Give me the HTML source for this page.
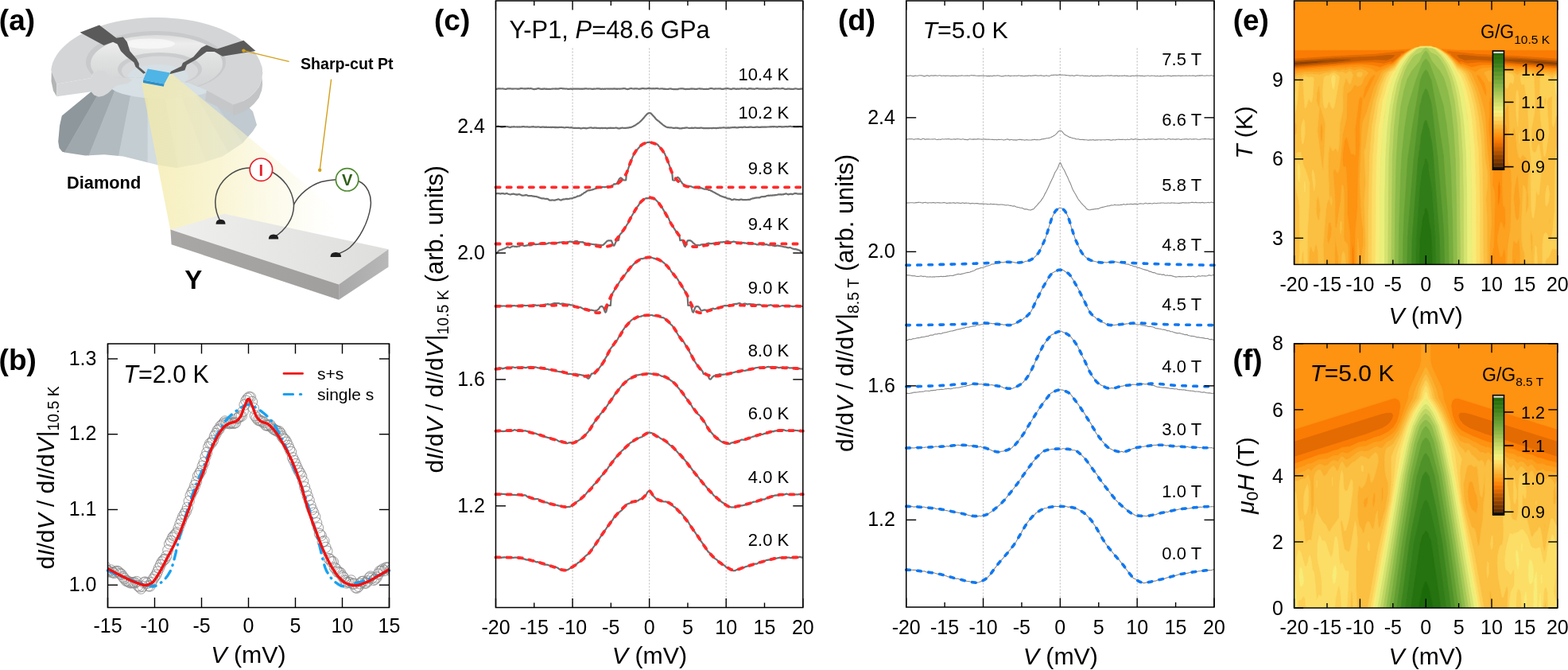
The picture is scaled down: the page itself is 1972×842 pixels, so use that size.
<!DOCTYPE html>
<html><head><meta charset="utf-8"><title>Figure</title>
<style>html,body{margin:0;padding:0;background:#fff;}svg{display:block;}text{font-family:"Liberation Sans",Arial,sans-serif;}</style>
</head><body>
<svg width="1972" height="842" viewBox="0 0 1972 842" font-family="'Liberation Sans', Arial, sans-serif">
<rect width="1972" height="842" fill="#fff"/>
<defs>
<linearGradient id="gPav" x1="70" y1="0" x2="330" y2="0" gradientUnits="userSpaceOnUse">
 <stop offset="0" stop-color="#8c959a"/><stop offset="0.12" stop-color="#8f989d"/><stop offset="0.12" stop-color="#9aa3a8"/>
 <stop offset="0.24" stop-color="#a3acb1"/><stop offset="0.24" stop-color="#aeb8bd"/><stop offset="0.38" stop-color="#b8c2c7"/>
 <stop offset="0.38" stop-color="#c7d1d6"/><stop offset="0.50" stop-color="#d2dce1"/><stop offset="0.50" stop-color="#dbe4e8"/>
 <stop offset="0.62" stop-color="#dfe7ea"/><stop offset="0.62" stop-color="#d3dde2"/><stop offset="0.78" stop-color="#cbd5da"/>
 <stop offset="0.78" stop-color="#c3cdd3"/><stop offset="1" stop-color="#bcc6cc"/>
</linearGradient>
<linearGradient id="gCone" x1="185" y1="0" x2="440" y2="0" gradientUnits="userSpaceOnUse">
 <stop offset="0" stop-color="#f3e9a6" stop-opacity="0.75"/><stop offset="0.35" stop-color="#f6efbb" stop-opacity="0.65"/>
 <stop offset="0.7" stop-color="#faf7dc" stop-opacity="0.45"/><stop offset="1" stop-color="#ffffff" stop-opacity="0"/>
</linearGradient>
<linearGradient id="gTop" x1="0" y1="20" x2="0" y2="140" gradientUnits="userSpaceOnUse">
 <stop offset="0" stop-color="#d6d7d8"/><stop offset="1" stop-color="#cfd0d1"/>
</linearGradient>
<linearGradient id="gWell" x1="0" y1="44" x2="0" y2="116" gradientUnits="userSpaceOnUse">
 <stop offset="0" stop-color="#dcdddd"/><stop offset="0.15" stop-color="#ededed"/><stop offset="0.4" stop-color="#e0e1e1"/><stop offset="1" stop-color="#cfd0d1"/>
</linearGradient>
<linearGradient id="gSlabTop" x1="214" y1="0" x2="489" y2="0" gradientUnits="userSpaceOnUse">
 <stop offset="0" stop-color="#efefed"/><stop offset="1" stop-color="#dededc"/>
</linearGradient>
<linearGradient id="gSlabFront" x1="214" y1="0" x2="426" y2="0" gradientUnits="userSpaceOnUse">
 <stop offset="0" stop-color="#a9a7a5"/><stop offset="1" stop-color="#a19f9d"/>
</linearGradient>
<linearGradient id="gSlabRight" x1="426" y1="0" x2="489" y2="0" gradientUnits="userSpaceOnUse">
 <stop offset="0" stop-color="#a8a8a8"/><stop offset="1" stop-color="#b8b8b8"/>
</linearGradient>
</defs><clipPath id="cpPav"><path d="M77.8,145.5 L114.6,115.2 L150.0,96.0 L200.0,90.0 L262.0,100.0 L300.0,122.0 L318.0,140.0 L323.0,157.0 L318.0,165.0 L305.0,180.0 L280.0,196.6 L250.0,206.1 L221.6,210.9 L198.0,207.3 L179.0,202.6 L155.0,196.6 L131.0,194.3 L107.5,195.4 L84.0,192.0 L78.4,190.7 L74.5,186.0 L73.2,178.0 L75.0,158.0 Z"/></clipPath><g clip-path="url(#cpPav)"><path d="M186.0,10.0 L-646.9,420.0 L-50.5,420.0 Z" fill="#8e979c" stroke="#8e979c" stroke-width="0.6"/><path d="M186.0,10.0 L-50.5,420.0 L22.2,420.0 Z" fill="#9fa8ad" stroke="#9fa8ad" stroke-width="0.6"/><path d="M186.0,10.0 L22.2,420.0 L105.3,420.0 Z" fill="#b1bbc0" stroke="#b1bbc0" stroke-width="0.6"/><path d="M186.0,10.0 L105.3,420.0 L185.8,420.0 Z" fill="#c3cdd2" stroke="#c3cdd2" stroke-width="0.6"/><path d="M186.0,10.0 L185.8,420.0 L264.8,420.0 Z" fill="#d2dce1" stroke="#d2dce1" stroke-width="0.6"/><path d="M186.0,10.0 L264.8,420.0 L341.4,420.0 Z" fill="#dbe4e8" stroke="#dbe4e8" stroke-width="0.6"/><path d="M186.0,10.0 L341.4,420.0 L414.7,420.0 Z" fill="#d3dde2" stroke="#d3dde2" stroke-width="0.6"/><path d="M186.0,10.0 L414.7,420.0 L475.2,420.0 Z" fill="#c9d3d9" stroke="#c9d3d9" stroke-width="0.6"/><path d="M186.0,10.0 L475.2,420.0 L1079.4,420.0 Z" fill="#c0cad0" stroke="#c0cad0" stroke-width="0.6"/><ellipse cx="205" cy="106" rx="68" ry="18" fill="#d6e0e5"/></g><path d="M329.7,84.8 L330.2,92.0 L329.2,100.0 L325.5,109.5 L319.5,117.0 L313.0,122.8 L305.0,127.6 L296.4,130.6 L293.1,131.4 L293.1,144.9 L296.4,144.1 L305.0,141.1 L313.0,136.3 L319.5,130.5 L325.5,123.0 L329.2,113.5 L330.2,105.5 L329.7,98.3 Z" fill="#c3c4c5"/><path d="M259.8,113.5 L293.1,131.4 L293.1,143.5 L258.0,126.4 Z" fill="#c6c7c8"/><clipPath id="cpTop"><path d="M64.2,88.3 L65.0,83.5 L66.4,78.6 L68.5,73.9 L71.2,69.2 L74.6,64.6 L78.5,60.2 L83.0,55.9 L88.1,51.8 L93.6,47.9 L99.7,44.3 L106.3,40.8 L113.3,37.6 L120.7,34.7 L128.5,32.0 L136.6,29.6 L145.0,27.6 L153.7,25.8 L162.6,24.4 L171.6,23.3 L180.8,22.5 L190.0,22.1 L199.3,22.0 L208.6,22.3 L217.8,22.9 L226.9,23.8 L235.9,25.1 L244.7,26.6 L253.2,28.6 L261.5,30.8 L269.4,33.3 L277.0,36.1 L284.3,39.2 L291.0,42.5 L297.4,46.1 L303.2,49.9 L308.5,53.9 L313.3,58.1 L317.5,62.4 L321.2,66.9 L324.2,71.5 L326.6,76.3 L328.4,81.0 L329.7,84.8 L330.2,92.0 L329.2,100.0 L325.5,109.5 L319.5,117.0 L313.0,122.8 L305.0,127.6 L296.4,130.6 L293.1,131.4 L259.8,113.5 L238.0,104.0 L205.0,99.0 L170.0,97.0 L143.1,98.0 L137.2,95.6 L133.6,90.9 L128.9,87.9 L123.0,88.5 L117.0,92.0 L114.6,98.0 L71.3,105.7 L64.8,89.7 Z"/></clipPath><path d="M64.2,88.3 L65.0,83.5 L66.4,78.6 L68.5,73.9 L71.2,69.2 L74.6,64.6 L78.5,60.2 L83.0,55.9 L88.1,51.8 L93.6,47.9 L99.7,44.3 L106.3,40.8 L113.3,37.6 L120.7,34.7 L128.5,32.0 L136.6,29.6 L145.0,27.6 L153.7,25.8 L162.6,24.4 L171.6,23.3 L180.8,22.5 L190.0,22.1 L199.3,22.0 L208.6,22.3 L217.8,22.9 L226.9,23.8 L235.9,25.1 L244.7,26.6 L253.2,28.6 L261.5,30.8 L269.4,33.3 L277.0,36.1 L284.3,39.2 L291.0,42.5 L297.4,46.1 L303.2,49.9 L308.5,53.9 L313.3,58.1 L317.5,62.4 L321.2,66.9 L324.2,71.5 L326.6,76.3 L328.4,81.0 L329.7,84.8 L330.2,92.0 L329.2,100.0 L325.5,109.5 L319.5,117.0 L313.0,122.8 L305.0,127.6 L296.4,130.6 L293.1,131.4 L259.8,113.5 L238.0,104.0 L205.0,99.0 L170.0,97.0 L143.1,98.0 L137.2,95.6 L133.6,90.9 L128.9,87.9 L123.0,88.5 L117.0,92.0 L114.6,98.0 L71.3,105.7 L64.8,89.7 Z" fill="#d4d5d6"/><g clip-path="url(#cpTop)"><ellipse cx="196" cy="78" rx="88" ry="39" fill="#c8c9ca"/><ellipse cx="197" cy="80" rx="83" ry="36" fill="url(#gWell)"/><ellipse cx="188" cy="55" rx="32" ry="6.5" fill="#ffffff" opacity="0.55"/><ellipse cx="201" cy="87" rx="53" ry="21" fill="#cbcccd"/><ellipse cx="201" cy="89" rx="48" ry="18.5" fill="#d8d9da"/><ellipse cx="199" cy="96" rx="38" ry="15" fill="#d5dfe4"/></g><path d="M64.8,89.7 L71.3,105.7 L71.3,121.2 L67.0,114.0 L64.5,102.0 Z" fill="#b3b4b5"/><path d="M71.3,105.7 L114.6,98.0 L117.0,92.0 L123.0,88.5 L128.9,87.9 L133.6,90.9 L137.2,95.6 L143.1,98.0 L162.0,98.0 L166.0,101.0 L160.0,105.0 L147.9,106.9 L143.1,109.9 L136.0,117.0 L130.0,120.6 L124.1,121.8 L118.2,119.4 L114.6,115.2 L71.3,121.2 Z" fill="#d6d7d8"/><path d="M178.0,104.0 L214.0,91.0 L255.0,125.0 L300.0,162.0 L340.0,195.0 L420.0,262.0 L445.0,292.0 L214.4,290.0 Z" fill="url(#gCone)"/><path d="M100.6,40.7 L124.9,31.4 L146.3,47.8 L154.8,46.4 L159.8,52.8 L163.4,64.2 L171.9,74.2 L174.8,79.9 L174.8,84.1 L183.3,91.3 L180.5,92.7 L170.5,84.1 L168.4,78.4 L159.1,71.3 L152.0,64.2 L147.7,55.6 L142.0,52.8 L130.6,57.1 Z" fill="#5a5a5a"/><path d="M306.4,50.7 L273.1,61.6 L268.1,59.9 L259.8,56.6 L253.2,59.9 L243.2,71.5 L229.9,79.0 L228.2,83.2 L214.9,89.8 L213.3,93.2 L232.4,88.2 L234.9,81.5 L246.5,74.9 L259.8,64.9 L269.8,64.9 L279.8,70.7 L321.4,64.1 Z" fill="#5a5a5a"/><path d="M180.0,100.6 L206.6,105.6 L205.8,108.8 L180.0,104.0 Z" fill="#2e8fc9"/><path d="M185.8,86.5 L214.1,91.5 L206.6,105.6 L180.0,100.6 Z" fill="#4fb4e6"/><line x1="306.4" y1="63.6" x2="363.6" y2="77.4" stroke="#d4a01e" stroke-width="1.4"/><circle cx="306.4" cy="63.6" r="2.2" fill="#d4a01e"/><line x1="416.6" y1="99.6" x2="402.2" y2="213.7" stroke="#d4a01e" stroke-width="1.4"/><circle cx="402.2" cy="213.7" r="2.2" fill="#d4a01e"/><path d="M214.4,288.6 L282.1,268.8 L488.5,313.3 L426.1,357.6 Z" fill="url(#gSlabTop)"/><path d="M214.4,288.6 L426.1,357.6 L426.1,376.8 L215.6,307.2 Z" fill="url(#gSlabFront)"/><path d="M426.1,357.6 L488.5,313.3 L488.5,335.6 L426.1,376.8 Z" fill="url(#gSlabRight)"/><path d="M277.7,279.2 C268,262 268,242 281,227 C292,215 305,211 314.5,211" fill="none" stroke="#4a4a4a" stroke-width="1.5"/><path d="M342.8,216.5 C356,224 368,238 369.5,257 C370,275 358,290 345.5,297.5" fill="none" stroke="#4a4a4a" stroke-width="1.5"/><path d="M369.3,257.5 C376,244 390,233 404,228.5 C412,226.5 418,226 422.5,225.8" fill="none" stroke="#4a4a4a" stroke-width="1.5"/><path d="M450.5,227.5 C462,232 468,246 466,260 C463,280 452,300 440,311 C434,316 428,318 423,320" fill="none" stroke="#4a4a4a" stroke-width="1.5"/><path d="M271.5,281.7 Q271.5,275.7 277.5,275.7 Q283.5,275.7 283.5,281.7 Z" fill="#1e1e1e"/><path d="M337.8,300.5 Q337.8,294.5 344.0,294.5 Q350.2,294.5 350.2,300.5 Z" fill="#1e1e1e"/><path d="M415.5,323.0 Q415.5,317.0 422.3,317.0 Q429.1,317.0 429.1,323.0 Z" fill="#1e1e1e"/><circle cx="328.4" cy="213.2" r="14.2" fill="#fff" stroke="#e5202a" stroke-width="1.7"/><circle cx="436.6" cy="225.8" r="14.2" fill="#fff" stroke="#4e8a2e" stroke-width="1.7"/><text x="-1.2" y="38.0" font-size="37" font-weight="bold">(a)</text><text x="-1.4" y="465.0" font-size="37" font-weight="bold">(b)</text><text x="546.0" y="38.0" font-size="37" font-weight="bold">(c)</text><text x="1053.9" y="38.0" font-size="37" font-weight="bold">(d)</text><text x="1550.7" y="38.0" font-size="37" font-weight="bold">(e)</text><text x="1550.6" y="464.7" font-size="37" font-weight="bold">(f)</text><line x1="720.08" y1="60.5" x2="720.08" y2="763.5" stroke="#c4c4c4" stroke-width="1.2" stroke-dasharray="2 2"/><line x1="816.65" y1="60.5" x2="816.65" y2="763.5" stroke="#c4c4c4" stroke-width="1.2" stroke-dasharray="2 2"/><line x1="913.22" y1="60.5" x2="913.22" y2="763.5" stroke="#c4c4c4" stroke-width="1.2" stroke-dasharray="2 2"/><path d="M623.5,111.9 624.4,111.9 625.3,111.7 626.3,111.4 627.2,111.3 628.1,111.3 629,111.4 629.9,111.5 630.9,111.5 631.8,111.3 632.7,111.5 633.6,111.6 634.5,111.8 635.5,112 636.4,111.9 637.3,111.7 638.2,111.3 639.1,111.4 640.1,111.4 641,111.3 641.9,111.4 642.8,111.5 643.7,111.6 644.7,111.7 645.6,111.6 646.5,111.5 647.4,111.5 648.3,111.5 649.3,111.5 650.2,111.6 651.1,111.8 652,111.7 652.9,111.7 653.9,111.5 654.8,111 655.7,111.1 656.6,111 657.5,111.2 658.5,111.5 659.4,111.4 660.3,111.6 661.2,111.4 662.1,111.3 663,111.4 664,111.2 664.9,111.2 665.8,111.4 666.7,111.2 667.6,111.2 668.6,111.4 669.5,111.5 670.4,111.9 671.3,112.1 672.2,112.1 673.2,111.9 674.1,111.9 675,111.5 675.9,111.3 676.8,111.2 677.8,111.2 678.7,111.6 679.6,111.6 680.5,112 681.4,111.9 682.4,111.7 683.3,111.8 684.2,111.4 685.1,111.6 686,111.8 687,111.6 687.9,111.9 688.8,111.8 689.7,111.8 690.6,111.9 691.6,111.9 692.5,112 693.4,111.8 694.3,111.6 695.2,111.7 696.2,111.5 697.1,111.5 698,111.7 698.9,111.4 699.8,111.6 700.8,111.7 701.7,111.7 702.6,111.6 703.5,111.3 704.4,111.1 705.4,111 706.3,111 707.2,111.3 708.1,111.4 709,111.4 710,111.5 710.9,111.6 711.8,111.5 712.7,111.5 713.6,111.8 714.6,111.8 715.5,111.8 716.4,111.8 717.3,111.6 718.2,111.6 719.2,111.8 720.1,111.8 721,111.6 721.9,111.5 722.8,111.6 723.8,111.6 724.7,111.6 725.6,111.5 726.5,111.6 727.4,111.5 728.4,111.6 729.3,111.8 730.2,111.7 731.1,111.7 732,111.8 733,111.6 733.9,111.6 734.8,111.6 735.7,111.3 736.6,111.4 737.6,111.4 738.5,111.5 739.4,111.7 740.3,111.6 741.2,111.5 742.1,111.5 743.1,111.6 744,111.8 744.9,111.8 745.8,111.9 746.7,111.6 747.7,111.5 748.6,111.7 749.5,111.5 750.4,111.4 751.3,111.3 752.3,111.3 753.2,111.3 754.1,111.7 755,111.7 755.9,111.8 756.9,111.8 757.8,111.6 758.7,111.8 759.6,111.8 760.5,111.6 761.5,111.8 762.4,111.5 763.3,111.5 764.2,111.6 765.1,111.5 766.1,111.6 767,111.6 767.9,111.5 768.8,111.6 769.7,111.6 770.7,111.6 771.6,111.6 772.5,111.3 773.4,111.7 774.3,111.7 775.3,111.6 776.2,111.9 777.1,111.5 778,111.5 778.9,111.8 779.9,111.5 780.8,111.6 781.7,111.5 782.6,111.4 783.5,111.3 784.5,111.2 785.4,111.2 786.3,111.4 787.2,111.6 788.1,112 789.1,112.1 790,111.9 790.9,111.8 791.8,111.4 792.7,111.2 793.7,111.1 794.6,111.2 795.5,111.5 796.4,111.5 797.3,111.6 798.3,111.4 799.2,111.3 800.1,111.3 801,111.4 801.9,111.5 802.9,111.7 803.8,111.8 804.7,111.7 805.6,111.7 806.5,111.3 807.5,111.2 808.4,111.2 809.3,111.2 810.2,111.3 811.1,111.4 812.1,111.5 813,111.4 813.9,111.3 814.8,111.1 815.7,110.9 816.6,111.1 817.6,111.1 818.5,111.3 819.4,111.4 820.3,111.2 821.2,111.4 822.2,111.2 823.1,111.4 824,111.3 824.9,111.2 825.8,111.2 826.8,111.1 827.7,111.4 828.6,111.5 829.5,111.7 830.4,111.5 831.4,111.4 832.3,111.5 833.2,111.3 834.1,111.7 835,111.8 836,111.7 836.9,111.8 837.8,112 838.7,112 839.6,112 840.6,111.9 841.5,111.6 842.4,111.5 843.3,111.4 844.2,111.7 845.2,111.8 846.1,112 847,112.2 847.9,112.1 848.8,112.1 849.8,112.2 850.7,112.2 851.6,112 852.5,112.2 853.4,111.7 854.4,111.5 855.3,111.5 856.2,111.2 857.1,111.4 858,111.4 859,111.3 859.9,111.7 860.8,111.8 861.7,111.9 862.6,112.1 863.6,111.8 864.5,111.8 865.4,111.9 866.3,111.9 867.2,111.8 868.2,111.7 869.1,111.7 870,111.4 870.9,111.7 871.8,111.5 872.8,111.7 873.7,111.9 874.6,111.8 875.5,111.9 876.4,111.8 877.4,111.6 878.3,111.5 879.2,111.4 880.1,111.4 881,111.6 882,111.6 882.9,111.6 883.8,111.8 884.7,112 885.6,111.9 886.6,112 887.5,111.9 888.4,111.7 889.3,112 890.2,111.9 891.2,111.8 892.1,111.5 893,111.2 893.9,111.1 894.8,111.2 895.7,111.2 896.7,111.5 897.6,111.8 898.5,111.6 899.4,111.6 900.3,111.4 901.3,111.5 902.2,111.5 903.1,111.4 904,111.5 904.9,111.4 905.9,111.4 906.8,111.7 907.7,111.8 908.6,111.8 909.5,111.8 910.5,111.6 911.4,111.5 912.3,111.2 913.2,111.4 914.1,111.2 915.1,111.2 916,111.3 916.9,111.5 917.8,111.7 918.7,111.8 919.7,112.1 920.6,111.7 921.5,111.4 922.4,111.3 923.3,111.3 924.3,111.4 925.2,111.8 926.1,111.9 927,111.6 927.9,111.7 928.9,111.8 929.8,111.6 930.7,111.6 931.6,111.5 932.5,111.2 933.5,111.3 934.4,111.5 935.3,111.5 936.2,111.3 937.1,111.4 938.1,111.6 939,111.8 939.9,111.9 940.8,111.8 941.7,111.3 942.7,111.2 943.6,111.3 944.5,111.2 945.4,111.6 946.3,111.5 947.3,111.6 948.2,111.8 949.1,111.8 950,111.5 950.9,111.3 951.9,111.2 952.8,111.2 953.7,111.4 954.6,111.7 955.5,111.7 956.5,111.6 957.4,111.7 958.3,111.5 959.2,111.6 960.1,111.6 961.1,111.7 962,111.7 962.9,111.8 963.8,111.8 964.7,111.9 965.7,111.7 966.6,111.7 967.5,111.6 968.4,111.5 969.3,111.8 970.3,111.6 971.2,111.5 972.1,111.3 973,111.2 973.9,111.2 974.8,111.3 975.8,111.3 976.7,111.1 977.6,111.3 978.5,111.3 979.4,111.4 980.4,111.5 981.3,111.5 982.2,111.4 983.1,111.2 984,111.2 985,111.2 985.9,111.4 986.8,111.9 987.7,112 988.6,112 989.6,111.8 990.5,111.6 991.4,111.6 992.3,111.7 993.2,111.7 994.2,111.8 995.1,111.8 996,111.8 996.9,112 997.8,111.9 998.8,111.7 999.7,111.5 1000.6,111.3 1001.5,111.5 1002.4,111.7 1003.4,111.8 1004.3,112 1005.2,111.9 1006.1,111.8 1007,111.7 1008,111.6 1008.9,111.7 1009.8,111.7" fill="none" stroke="#6f6f6f" stroke-width="2.2" stroke-linejoin="round"/><path d="M623.5,159 624.4,159 625.3,158.9 626.3,158.7 627.2,158.8 628.1,159 629,159.2 629.9,159.4 630.9,159.6 631.8,159.6 632.7,159.3 633.6,159.3 634.5,159.2 635.5,159.1 636.4,159.1 637.3,159 638.2,159.2 639.1,159.3 640.1,159.7 641,159.7 641.9,159.8 642.8,159.7 643.7,159.4 644.7,159.5 645.6,159.3 646.5,159.2 647.4,159.4 648.3,159.5 649.3,159.5 650.2,159.4 651.1,159.6 652,159.5 652.9,159.4 653.9,159.6 654.8,159.5 655.7,159.4 656.6,159.4 657.5,159.1 658.5,159 659.4,159.3 660.3,159.3 661.2,159.5 662.1,159.4 663,159.2 664,159.5 664.9,159.6 665.8,159.6 666.7,159.7 667.6,159.5 668.6,159.3 669.5,159.3 670.4,159.2 671.3,159.3 672.2,159.5 673.2,159.6 674.1,159.7 675,159.6 675.9,159.5 676.8,159.4 677.8,159.5 678.7,159.7 679.6,159.8 680.5,159.9 681.4,159.6 682.4,159.7 683.3,159.7 684.2,159.6 685.1,159.9 686,159.9 687,159.6 687.9,160 688.8,160 689.7,159.7 690.6,160 691.6,159.9 692.5,159.9 693.4,160.1 694.3,159.7 695.2,159.9 696.2,159.9 697.1,159.9 698,160.1 698.9,159.9 699.8,160.1 700.8,160 701.7,160.2 702.6,160.1 703.5,159.9 704.4,160 705.4,159.8 706.3,159.8 707.2,160 708.1,160.1 709,160.3 710,160.5 710.9,160.3 711.8,160.1 712.7,160 713.6,160 714.6,160.1 715.5,160.3 716.4,160.5 717.3,160.3 718.2,160.2 719.2,160.3 720.1,160.5 721,160.8 721.9,160.8 722.8,160.9 723.8,160.8 724.7,160.9 725.6,161 726.5,160.8 727.4,160.8 728.4,160.8 729.3,161 730.2,161.4 731.1,161.3 732,161.2 733,161 733.9,160.8 734.8,160.9 735.7,161.1 736.6,161.1 737.6,161.3 738.5,161.2 739.4,161 740.3,160.8 741.2,160.6 742.1,160.5 743.1,160.4 744,160.6 744.9,160.8 745.8,160.8 746.7,160.9 747.7,160.7 748.6,160.6 749.5,160.8 750.4,160.7 751.3,160.9 752.3,161 753.2,160.8 754.1,161.1 755,161.1 755.9,160.9 756.9,160.9 757.8,161.1 758.7,160.9 759.6,161 760.5,160.9 761.5,160.9 762.4,161.1 763.3,161.3 764.2,161.2 765.1,160.9 766.1,160.8 767,160.8 767.9,160.7 768.8,160.8 769.7,160.8 770.7,160.9 771.6,160.9 772.5,161 773.4,160.8 774.3,160.6 775.3,160.7 776.2,160.8 777.1,161.3 778,161.4 778.9,161.4 779.9,161.3 780.8,160.8 781.7,160.8 782.6,160.6 783.5,160.7 784.5,161 785.4,160.9 786.3,160.9 787.2,160.9 788.1,160.7 789.1,160.6 790,160.7 790.9,160.3 791.8,160.2 792.7,160.1 793.7,159.8 794.6,159.7 795.5,159.1 796.4,158.7 797.3,158.2 798.3,157.7 799.2,157.2 800.1,156.6 801,156 801.9,155.3 802.9,154.7 803.8,154 804.7,153.2 805.6,152.4 806.5,151.5 807.5,150.5 808.4,149.4 809.3,148.4 810.2,147.4 811.1,146.3 812.1,145.3 813,144.1 813.9,143.3 814.8,142.6 815.7,142.2 816.6,142.1 817.6,142 818.5,142.4 819.4,143.3 820.3,144.3 821.2,145.3 822.2,146.3 823.1,147.2 824,148.3 824.9,149.5 825.8,150.4 826.8,151.2 827.7,151.9 828.6,152.4 829.5,153.2 830.4,154.1 831.4,154.9 832.3,155.6 833.2,156.5 834.1,157.2 835,157.8 836,158.4 836.9,159.1 837.8,159.5 838.7,159.7 839.6,160.2 840.6,160.1 841.5,160.3 842.4,160.3 843.3,160.3 844.2,160.4 845.2,160.5 846.1,160.8 847,160.8 847.9,160.9 848.8,160.9 849.8,160.7 850.7,160.7 851.6,160.8 852.5,160.7 853.4,161 854.4,161.4 855.3,161.4 856.2,161.4 857.1,161.4 858,161.1 859,160.9 859.9,161 860.8,160.9 861.7,160.5 862.6,160.6 863.6,160.4 864.5,160.5 865.4,160.8 866.3,161 867.2,161 868.2,161 869.1,160.8 870,160.7 870.9,160.8 871.8,160.8 872.8,160.8 873.7,160.6 874.6,160.7 875.5,160.7 876.4,160.9 877.4,160.9 878.3,160.8 879.2,160.8 880.1,160.8 881,160.7 882,160.6 882.9,160.8 883.8,160.9 884.7,161.2 885.6,161.2 886.6,161.1 887.5,161.2 888.4,161.1 889.3,161.2 890.2,161.2 891.2,161.1 892.1,161.1 893,161 893.9,161 894.8,161.1 895.7,161.1 896.7,160.9 897.6,160.9 898.5,161 899.4,160.8 900.3,161.2 901.3,161.1 902.2,160.9 903.1,160.9 904,160.8 904.9,160.6 905.9,160.6 906.8,160.8 907.7,160.5 908.6,160.5 909.5,160.4 910.5,160.3 911.4,160.5 912.3,160.6 913.2,160.7 914.1,160.7 915.1,160.6 916,160.4 916.9,160.6 917.8,160.6 918.7,160.3 919.7,160.3 920.6,160.2 921.5,160 922.4,160.1 923.3,160.2 924.3,159.9 925.2,160.2 926.1,160.4 927,160.2 927.9,160.4 928.9,160.2 929.8,159.9 930.7,160 931.6,159.9 932.5,159.9 933.5,160.1 934.4,159.9 935.3,159.7 936.2,159.7 937.1,159.6 938.1,159.9 939,160 939.9,160 940.8,159.9 941.7,159.9 942.7,159.6 943.6,159.6 944.5,159.7 945.4,159.7 946.3,159.9 947.3,160 948.2,160 949.1,159.9 950,159.8 950.9,159.7 951.9,159.6 952.8,159.5 953.7,159.8 954.6,159.9 955.5,159.9 956.5,159.9 957.4,159.6 958.3,159.5 959.2,159.6 960.1,159.6 961.1,159.7 962,159.6 962.9,159.6 963.8,159.7 964.7,159.5 965.7,159.5 966.6,159.5 967.5,159.4 968.4,159.4 969.3,159.2 970.3,159.3 971.2,159.2 972.1,159.1 973,159.4 973.9,159 974.8,159.2 975.8,159.4 976.7,159.4 977.6,159.6 978.5,159.3 979.4,159.1 980.4,159.1 981.3,159.1 982.2,159.2 983.1,159.6 984,159.3 985,159.3 985.9,159.4 986.8,159.2 987.7,159.1 988.6,159.1 989.6,159.2 990.5,159.3 991.4,159.1 992.3,158.9 993.2,158.8 994.2,158.7 995.1,159 996,159.3 996.9,159.1 997.8,159.2 998.8,159.3 999.7,159.2 1000.6,159.5 1001.5,159.4 1002.4,159.4 1003.4,159.2 1004.3,159.3 1005.2,159.2 1006.1,159.1 1007,159.3 1008,159.4 1008.9,159.5 1009.8,159.7" fill="none" stroke="#6f6f6f" stroke-width="2.2" stroke-linejoin="round"/><path d="M623.5,243.4 624.4,243.3 625.3,243.1 626.3,243.2 627.2,243.1 628.1,243.1 629,243.6 629.9,243.4 630.9,243.2 631.8,243.2 632.7,243.1 633.6,243.4 634.5,243.6 635.5,243.6 636.4,243.2 637.3,243.1 638.2,243.3 639.1,243.7 640.1,244 641,244.2 641.9,244.5 642.8,244.3 643.7,243.8 644.7,243.9 645.6,243.5 646.5,243.9 647.4,244.1 648.3,244.3 649.3,244.7 650.2,244.4 651.1,244.6 652,244.2 652.9,244 653.9,244.4 654.8,244.8 655.7,245.3 656.6,245.6 657.5,245.6 658.5,245.7 659.4,245.5 660.3,245.2 661.2,245.3 662.1,245 663,245.4 664,246 664.9,246.1 665.8,246.2 666.7,246.1 667.6,246.2 668.6,246.1 669.5,246.4 670.4,246.6 671.3,246.5 672.2,246.9 673.2,247 674.1,246.9 675,247.4 675.9,247.4 676.8,247.8 677.8,248.3 678.7,248.4 679.6,248.8 680.5,249.2 681.4,249.3 682.4,249.4 683.3,249.4 684.2,249.4 685.1,249.8 686,250 687,249.7 687.9,249.9 688.8,250.1 689.7,250.5 690.6,251.4 691.6,251.6 692.5,251.5 693.4,251.7 694.3,251.4 695.2,251.5 696.2,251.6 697.1,251.5 698,251.6 698.9,251.3 699.8,251 700.8,250.9 701.7,250.4 702.6,250.4 703.5,250.9 704.4,251.2 705.4,251.6 706.3,251.3 707.2,250.8 708.1,250.7 709,250.3 710,250.5 710.9,250.3 711.8,249.8 712.7,250.1 713.6,249.9 714.6,250.2 715.5,250 716.4,249.6 717.3,249.5 718.2,249.4 719.2,249.3 720.1,249.2 721,248.5 721.9,248.3 722.8,248.2 723.8,247.7 724.7,247.5 725.6,247.1 726.5,246.3 727.4,246.5 728.4,246.3 729.3,245.7 730.2,245.6 731.1,245.1 732,244.1 733,243.7 733.9,243 734.8,242.1 735.7,242 736.6,241.2 737.6,240.5 738.5,239.9 739.4,239.4 740.3,239.3 741.2,239.2 742.1,239.1 743.1,238.8 744,238.6 744.9,238.5 745.8,238.1 746.7,237.8 747.7,237.5 748.6,237.1 749.5,236.9 750.4,236.7 751.3,236.1 752.3,236.2 753.2,235.7 754.1,235.8 755,235.8 755.9,235.2 756.9,235.6 757.8,234.9 758.7,235 759.6,235.2 760.5,235 761.5,235.1 762.4,235 763.3,234.6 764.2,234.6 765.1,234.5 766.1,234.4 767,234.3 767.9,234.1 768.8,234 769.7,233 770.7,232.7 771.6,232 772.5,231.1 773.4,231.6 774.3,231.2 775.3,231 776.2,230 777.1,228.2 778,226.6 778.9,224.8 779.9,223.9 780.8,223.3 781.7,224 782.6,224.8 783.5,225.8 784.5,226.5 785.4,226.5 786.3,226.3 787.2,226.4 788.1,217 789.1,214.8 790,212.4 790.9,209.6 791.8,207.1 792.7,204.7 793.7,202.4 794.6,199.9 795.5,197.6 796.4,195.6 797.3,194 798.3,192.7 799.2,191.2 800.1,189.5 801,188.4 801.9,187.4 802.9,186.2 803.8,185.5 804.7,183.9 805.6,182.8 806.5,181.9 807.5,181.7 808.4,181 809.3,180.4 810.2,180.4 811.1,179.7 812.1,179.7 813,179.5 813.9,179 814.8,178.9 815.7,178.9 816.6,178.7 817.6,178.8 818.5,179.1 819.4,179.2 820.3,179.6 821.2,179.8 822.2,180.1 823.1,180.2 824,180.7 824.9,180.7 825.8,181 826.8,181.6 827.7,182.4 828.6,183.8 829.5,184.6 830.4,185.7 831.4,186.7 832.3,187.8 833.2,189.4 834.1,190.5 835,191.5 836,193.1 836.9,195.3 837.8,197.5 838.7,200.2 839.6,202.3 840.6,204.5 841.5,206.9 842.4,209.4 843.3,212 844.2,214.3 845.2,216.6 846.1,226.3 847,226.5 847.9,226.7 848.8,226.4 849.8,225.3 850.7,224.4 851.6,223.1 852.5,222.7 853.4,223.5 854.4,224.5 855.3,226.1 856.2,228 857.1,228.8 858,230.4 859,231.3 859.9,231.5 860.8,232.5 861.7,232.7 862.6,233.1 863.6,233.5 864.5,233.7 865.4,233.8 866.3,234.1 867.2,233.9 868.2,234.2 869.1,234.3 870,234.5 870.9,235.2 871.8,235.3 872.8,235.6 873.7,235.5 874.6,235.2 875.5,235.3 876.4,235.5 877.4,235.8 878.3,236.5 879.2,236.3 880.1,236.3 881,236.4 882,236.2 882.9,236.6 883.8,236.9 884.7,237.3 885.6,237.6 886.6,237.7 887.5,237.6 888.4,237.9 889.3,237.9 890.2,238.1 891.2,238.8 892.1,238.7 893,239.1 893.9,239.6 894.8,239.9 895.7,240.6 896.7,241.1 897.6,241.5 898.5,241.9 899.4,242.3 900.3,243.1 901.3,243.6 902.2,244 903.1,244.4 904,244.8 904.9,245.5 905.9,246.1 906.8,246.5 907.7,246.6 908.6,247.2 909.5,247.4 910.5,247.6 911.4,248.2 912.3,247.8 913.2,248.5 914.1,249 915.1,249.4 916,249.7 916.9,249.6 917.8,249.9 918.7,250.1 919.7,250.9 920.6,251.3 921.5,250.9 922.4,250.8 923.3,250.3 924.3,250.4 925.2,250.8 926.1,250.9 927,251 927.9,251 928.9,251.3 929.8,251.2 930.7,250.9 931.6,250.6 932.5,250.7 933.5,250.9 934.4,251.2 935.3,251.2 936.2,251.2 937.1,251.2 938.1,251.2 939,251.2 939.9,251 940.8,250.8 941.7,250.8 942.7,251 943.6,250.5 944.5,250.1 945.4,249.8 946.3,249.4 947.3,249.3 948.2,249.2 949.1,248.9 950,248.6 950.9,248.6 951.9,248.4 952.8,248.5 953.7,248.4 954.6,248.4 955.5,248.3 956.5,247.8 957.4,247.3 958.3,247.2 959.2,247 960.1,247.1 961.1,247.1 962,246.8 962.9,246.8 963.8,246.2 964.7,246 965.7,245.8 966.6,245.7 967.5,245.8 968.4,245.7 969.3,245.7 970.3,245.5 971.2,245.6 972.1,245.4 973,245.4 973.9,245.3 974.8,245.2 975.8,245.1 976.7,245 977.6,244.8 978.5,244.4 979.4,244.4 980.4,244.4 981.3,244.2 982.2,244.6 983.1,244.4 984,244.4 985,244.5 985.9,243.9 986.8,244 987.7,243.5 988.6,243.3 989.6,243.7 990.5,244 991.4,244.4 992.3,244.1 993.2,243.9 994.2,243.8 995.1,243.6 996,244.2 996.9,244.1 997.8,243.7 998.8,243.3 999.7,242.9 1000.6,243.2 1001.5,243.1 1002.4,243.5 1003.4,243.6 1004.3,243.5 1005.2,243.6 1006.1,243.5 1007,243.8 1008,243.4 1008.9,243.6 1009.8,243.6" fill="none" stroke="#6f6f6f" stroke-width="2.2" stroke-linejoin="round"/><path d="M623.5,318.8 624.4,318.5 625.3,317.3 626.3,316.3 627.2,315.4 628.1,314.4 629,314.4 629.9,314.1 630.9,313.7 631.8,313.5 632.7,312.9 633.6,312.7 634.5,312.5 635.5,311.8 636.4,311.5 637.3,310.8 638.2,310.4 639.1,310.6 640.1,311 641,311.3 641.9,311 642.8,310.4 643.7,309.9 644.7,309.4 645.6,309.5 646.5,309.6 647.4,310 648.3,309.8 649.3,309.8 650.2,310.2 651.1,309.5 652,309.5 652.9,309.7 653.9,308.8 654.8,308.5 655.7,308.3 656.6,307.9 657.5,308.4 658.5,308.6 659.4,309.1 660.3,308.9 661.2,308.7 662.1,308.6 663,308.3 664,308.2 664.9,308.1 665.8,308.4 666.7,308.3 667.6,308.4 668.6,308.2 669.5,307.6 670.4,307.2 671.3,306.9 672.2,307 673.2,307.1 674.1,307.2 675,307 675.9,307 676.8,306.9 677.8,306.7 678.7,306.7 679.6,306.8 680.5,306.8 681.4,306.7 682.4,306.7 683.3,306.6 684.2,306.5 685.1,306.6 686,306.6 687,306.6 687.9,306.2 688.8,306 689.7,305.4 690.6,305.4 691.6,305.4 692.5,305.5 693.4,305.6 694.3,305.7 695.2,306.2 696.2,306.1 697.1,306.4 698,306.2 698.9,305.9 699.8,305.8 700.8,305.1 701.7,305 702.6,304.9 703.5,304.6 704.4,304.7 705.4,304.5 706.3,304.3 707.2,304.3 708.1,304.2 709,304.2 710,304.4 710.9,304.5 711.8,304.7 712.7,304.5 713.6,304.2 714.6,304.1 715.5,303.8 716.4,303.6 717.3,303.5 718.2,303.8 719.2,303.9 720.1,304.1 721,304 721.9,303.9 722.8,303.3 723.8,303 724.7,303.1 725.6,302.8 726.5,303.6 727.4,304 728.4,304 729.3,304.5 730.2,304.2 731.1,304.2 732,304.4 733,304.2 733.9,304.9 734.8,305.1 735.7,305.5 736.6,305.9 737.6,305.9 738.5,305.9 739.4,305.8 740.3,305.9 741.2,306 742.1,306.5 743.1,306.6 744,306.8 744.9,307 745.8,307 746.7,307.2 747.7,307.3 748.6,307.3 749.5,307.2 750.4,307.4 751.3,307.5 752.3,307.6 753.2,307.8 754.1,307.9 755,307.9 755.9,308.2 756.9,308.2 757.8,308.1 758.7,307.8 759.6,306.9 760.5,305.9 761.5,305 762.4,304.1 763.3,303.1 764.2,302.6 765.1,302.4 766.1,302.3 767,302.4 767.9,302.3 768.8,302.3 769.7,304.4 770.7,306.9 771.6,308.7 772.5,308.6 773.4,306.8 774.3,304.4 775.3,302.7 776.2,302.5 777.1,302.1 778,301.9 778.9,296.3 779.9,294.7 780.8,293.5 781.7,292.9 782.6,291.5 783.5,290.4 784.5,289.4 785.4,287.7 786.3,286.1 787.2,284.7 788.1,282.9 789.1,281.6 790,280.2 790.9,278.3 791.8,276.6 792.7,274.6 793.7,272.8 794.6,271.3 795.5,269.7 796.4,268.2 797.3,266.5 798.3,265.1 799.2,263.3 800.1,262.2 801,260.8 801.9,259.3 802.9,258.4 803.8,256.6 804.7,255.3 805.6,254 806.5,252.8 807.5,252 808.4,251.6 809.3,251.2 810.2,250.3 811.1,249.7 812.1,249.4 813,248.9 813.9,249.5 814.8,249.1 815.7,249 816.6,249.4 817.6,249 818.5,249.2 819.4,249.3 820.3,249.4 821.2,249 822.2,249.5 823.1,249.9 824,250.2 824.9,251.5 825.8,252.3 826.8,253.3 827.7,254.3 828.6,255.6 829.5,256.4 830.4,257.4 831.4,258.7 832.3,259.9 833.2,261.7 834.1,263.4 835,265 836,266.7 836.9,268.4 837.8,269.8 838.7,271.3 839.6,272.5 840.6,273.8 841.5,275.9 842.4,278 843.3,279.7 844.2,281.9 845.2,283.2 846.1,284 847,285.9 847.9,287.2 848.8,288.6 849.8,290.2 850.7,291.5 851.6,292.4 852.5,293.7 853.4,295.2 854.4,296.2 855.3,302.1 856.2,301.9 857.1,301.9 858,301.6 859,303.6 859.9,306.6 860.8,309 861.7,310.1 862.6,308.2 863.6,305.3 864.5,302.5 865.4,302.2 866.3,302.3 867.2,302.1 868.2,302.3 869.1,302.8 870,303.4 870.9,304.2 871.8,305.3 872.8,306 873.7,306.9 874.6,308 875.5,307.9 876.4,308 877.4,308 878.3,308 879.2,308.3 880.1,308.1 881,307.8 882,307.3 882.9,307.3 883.8,307.2 884.7,307.1 885.6,307.2 886.6,307.2 887.5,307.1 888.4,306.5 889.3,306 890.2,305.8 891.2,305.6 892.1,305.9 893,306.3 893.9,306 894.8,306.2 895.7,306.1 896.7,305.8 897.6,305.7 898.5,305.6 899.4,305.3 900.3,304.9 901.3,305 902.2,304.9 903.1,305 904,304.6 904.9,304.6 905.9,304.6 906.8,304.2 907.7,304.5 908.6,304.3 909.5,304.2 910.5,304.1 911.4,304 912.3,303.7 913.2,303.3 914.1,303.2 915.1,303 916,303.2 916.9,303.7 917.8,303.9 918.7,304.4 919.7,304.4 920.6,304.1 921.5,304 922.4,303.6 923.3,303.7 924.3,304.1 925.2,304.1 926.1,304.4 927,304.6 927.9,304.6 928.9,304.8 929.8,305 930.7,305 931.6,305 932.5,304.9 933.5,304.9 934.4,305.3 935.3,304.9 936.2,305.6 937.1,305.3 938.1,305.5 939,305.9 939.9,305.9 940.8,306.3 941.7,306 942.7,306.3 943.6,306.5 944.5,306.3 945.4,306.7 946.3,306.6 947.3,306.3 948.2,306.4 949.1,306.6 950,306.5 950.9,306.9 951.9,307.5 952.8,307.4 953.7,307.4 954.6,307.5 955.5,306.9 956.5,306.8 957.4,307.5 958.3,307.3 959.2,307.7 960.1,307.7 961.1,307.2 962,307.5 962.9,307 963.8,307.1 964.7,307.4 965.7,307.6 966.6,308.2 967.5,308.2 968.4,308.3 969.3,308.1 970.3,308 971.2,308.2 972.1,308.7 973,308.7 973.9,309.1 974.8,309.3 975.8,308.7 976.7,308.8 977.6,308.6 978.5,308.6 979.4,309 980.4,309.1 981.3,309.1 982.2,309.5 983.1,309.5 984,309.7 985,310 985.9,310.3 986.8,310.3 987.7,310.3 988.6,310.7 989.6,310.8 990.5,311.3 991.4,311.5 992.3,311.1 993.2,311.2 994.2,311.1 995.1,311.6 996,312.2 996.9,312.5 997.8,312.8 998.8,312.9 999.7,313.2 1000.6,312.9 1001.5,313.3 1002.4,313.7 1003.4,313.8 1004.3,314.3 1005.2,314.6 1006.1,314.9 1007,315.9 1008,317 1008.9,317.9 1009.8,318.8" fill="none" stroke="#6f6f6f" stroke-width="2.2" stroke-linejoin="round"/><path d="M623.5,384 624.4,384.1 625.3,384.1 626.3,384.3 627.2,384.4 628.1,383.9 629,384.4 629.9,384.3 630.9,384.5 631.8,384.6 632.7,384.5 633.6,384.5 634.5,384.5 635.5,384.7 636.4,384.5 637.3,384.8 638.2,384.5 639.1,384.6 640.1,384.4 641,384.1 641.9,384.3 642.8,384.2 643.7,384.1 644.7,384.1 645.6,384.3 646.5,384.1 647.4,384.2 648.3,384.4 649.3,384.3 650.2,384.3 651.1,384.4 652,384.1 652.9,384.3 653.9,384.1 654.8,383.8 655.7,384 656.6,383.6 657.5,383.6 658.5,383.8 659.4,383.9 660.3,384 661.2,384.1 662.1,384 663,384 664,383.9 664.9,384 665.8,384.4 666.7,384.2 667.6,384.2 668.6,384 669.5,383.6 670.4,383.4 671.3,383.2 672.2,383.3 673.2,383.4 674.1,383.7 675,383.8 675.9,383.9 676.8,383.5 677.8,383.8 678.7,384.2 679.6,384.1 680.5,384.3 681.4,383.9 682.4,383.5 683.3,383.3 684.2,382.8 685.1,382.9 686,382.4 687,382.5 687.9,382.5 688.8,382.1 689.7,382.4 690.6,382.6 691.6,382.6 692.5,382.6 693.4,382.4 694.3,381.9 695.2,381.5 696.2,381.5 697.1,381 698,381.1 698.9,381.2 699.8,381.2 700.8,381.3 701.7,381.1 702.6,381.2 703.5,381.4 704.4,381.8 705.4,382 706.3,381.7 707.2,381.6 708.1,381.6 709,381.6 710,382.2 710.9,382.1 711.8,382.6 712.7,382.7 713.6,382.6 714.6,382.9 715.5,382.6 716.4,382.9 717.3,383.3 718.2,383.2 719.2,383.5 720.1,383.5 721,383.6 721.9,384.4 722.8,384.7 723.8,385.1 724.7,385.5 725.6,385.3 726.5,385.7 727.4,385.9 728.4,386 729.3,386.1 730.2,386.2 731.1,386.7 732,387.3 733,387.8 733.9,388.2 734.8,388.1 735.7,387.9 736.6,387.8 737.6,388.3 738.5,388.4 739.4,388.8 740.3,389.6 741.2,389.3 742.1,389.7 743.1,389.8 744,389.6 744.9,389.9 745.8,390 746.7,390.3 747.7,390.6 748.6,390.4 749.5,390.3 750.4,390 751.3,389.7 752.3,388.9 753.2,388 754.1,386.5 755,385.4 755.9,385.2 756.9,384.8 757.8,385.5 758.7,386.3 759.6,388.3 760.5,391.2 761.5,392.7 762.4,391.5 763.3,387.9 764.2,384.7 765.1,383.9 766.1,383.8 767,383.9 767.9,384 768.8,371.5 769.7,369.8 770.7,367.9 771.6,366.6 772.5,365 773.4,363.3 774.3,362.1 775.3,360.8 776.2,359.2 777.1,357.7 778,356.2 778.9,354.7 779.9,353.1 780.8,352.4 781.7,350.9 782.6,349.4 783.5,348.6 784.5,347.1 785.4,346.1 786.3,344.9 787.2,343.6 788.1,342.4 789.1,341.1 790,340 790.9,338.8 791.8,337.6 792.7,336.5 793.7,335.3 794.6,334.4 795.5,333.6 796.4,332.5 797.3,331.6 798.3,330.6 799.2,330.1 800.1,329.4 801,329.1 801.9,328.4 802.9,327.5 803.8,326.8 804.7,325.8 805.6,325.4 806.5,325.1 807.5,325 808.4,325.2 809.3,324.7 810.2,324.7 811.1,324.2 812.1,323.9 813,323.6 813.9,323.1 814.8,323.5 815.7,323.1 816.6,323.3 817.6,323.4 818.5,323.3 819.4,323.8 820.3,324 821.2,324.3 822.2,324.6 823.1,324.9 824,325.2 824.9,325.3 825.8,325.3 826.8,325.6 827.7,325.7 828.6,326.5 829.5,327.1 830.4,327.3 831.4,328.1 832.3,328.3 833.2,328.8 834.1,329.9 835,330.2 836,331.3 836.9,332.2 837.8,333 838.7,334.2 839.6,334.7 840.6,336 841.5,337 842.4,338.1 843.3,339.8 844.2,341.3 845.2,342.5 846.1,343.6 847,345.1 847.9,346.1 848.8,347.5 849.8,348.5 850.7,349.1 851.6,350.1 852.5,351.2 853.4,352.9 854.4,355.1 855.3,356.3 856.2,357.7 857.1,359.1 858,360.1 859,362.1 859.9,363.6 860.8,364.9 861.7,366.8 862.6,368.3 863.6,369.8 864.5,371.7 865.4,383.8 866.3,383.4 867.2,383.8 868.2,383.9 869.1,384.9 870,388.2 870.9,391.6 871.8,392.6 872.8,390.9 873.7,388 874.6,385.7 875.5,385.2 876.4,385.2 877.4,385.2 878.3,385.3 879.2,386.4 880.1,387.6 881,389.3 882,390.4 882.9,390.5 883.8,390.1 884.7,389.7 885.6,389.6 886.6,389.4 887.5,389.7 888.4,390.1 889.3,389.7 890.2,390 891.2,389.6 892.1,389.1 893,389.4 893.9,388.5 894.8,388.2 895.7,388 896.7,387.6 897.6,388 898.5,388.3 899.4,388.1 900.3,388 901.3,387.4 902.2,387.3 903.1,387.2 904,387 904.9,386.6 905.9,386.2 906.8,385.8 907.7,385.3 908.6,385 909.5,384.6 910.5,384.5 911.4,384 912.3,384.2 913.2,384.1 914.1,384.1 915.1,384.1 916,384 916.9,383.8 917.8,383.8 918.7,383.6 919.7,383.6 920.6,383 921.5,382.8 922.4,382.3 923.3,382.2 924.3,382.1 925.2,381.9 926.1,382.2 927,381.7 927.9,381.6 928.9,381.2 929.8,380.9 930.7,381.4 931.6,381.6 932.5,382.3 933.5,382.6 934.4,382.1 935.3,381.9 936.2,381.6 937.1,381.6 938.1,381.8 939,382.1 939.9,382.4 940.8,382.3 941.7,382.1 942.7,382.1 943.6,382.2 944.5,382.2 945.4,382.4 946.3,382.4 947.3,382.3 948.2,382.5 949.1,382.8 950,382.9 950.9,383 951.9,383 952.8,382.9 953.7,382.9 954.6,382.7 955.5,382.8 956.5,383.1 957.4,383.6 958.3,383.8 959.2,384 960.1,383.8 961.1,383.9 962,384.1 962.9,384.2 963.8,384.3 964.7,384.2 965.7,384 966.6,383.6 967.5,383.7 968.4,383.4 969.3,383.2 970.3,383.6 971.2,383.7 972.1,384.2 973,384.5 973.9,384.4 974.8,384.4 975.8,384.2 976.7,383.9 977.6,384.3 978.5,384.5 979.4,384.8 980.4,385.2 981.3,384.7 982.2,384.5 983.1,384.3 984,384 985,384.1 985.9,384.2 986.8,384.5 987.7,384.9 988.6,384.9 989.6,384.5 990.5,384.7 991.4,384.6 992.3,384.8 993.2,385.1 994.2,384.4 995.1,384.8 996,384.8 996.9,385.1 997.8,385.2 998.8,384.8 999.7,384.9 1000.6,384.6 1001.5,384.6 1002.4,384.4 1003.4,383.9 1004.3,384.1 1005.2,384.3 1006.1,384.1 1007,384.7 1008,384.8 1008.9,385 1009.8,385.3" fill="none" stroke="#6f6f6f" stroke-width="2.2" stroke-linejoin="round"/><path d="M623.5,463.2 624.4,463.3 625.3,463 626.3,463.1 627.2,462.9 628.1,462.2 629,462.4 629.9,462.6 630.9,462.7 631.8,463.3 632.7,463.2 633.6,462.9 634.5,462.7 635.5,462.2 636.4,461.9 637.3,461.7 638.2,461.7 639.1,461.7 640.1,461.8 641,461.9 641.9,462 642.8,462 643.7,461.5 644.7,461.3 645.6,461.5 646.5,461.7 647.4,462 648.3,462.1 649.3,461.7 650.2,461.5 651.1,461.5 652,461.7 652.9,461.9 653.9,461.9 654.8,461.8 655.7,461.6 656.6,461.4 657.5,461.6 658.5,461.5 659.4,462 660.3,462.1 661.2,462.1 662.1,462.1 663,461.6 664,461.4 664.9,461.2 665.8,461 666.7,461.1 667.6,460.9 668.6,461 669.5,461.5 670.4,461.4 671.3,461.7 672.2,461.6 673.2,461.4 674.1,461.5 675,461.8 675.9,462 676.8,462.4 677.8,462.5 678.7,462.3 679.6,462.3 680.5,461.9 681.4,462 682.4,462.1 683.3,462.7 684.2,463.2 685.1,463.8 686,463.8 687,463.7 687.9,464 688.8,463.9 689.7,464.4 690.6,464.6 691.6,464.6 692.5,464.8 693.4,465.2 694.3,465.5 695.2,465.7 696.2,466 697.1,466.1 698,466.2 698.9,466.2 699.8,466.5 700.8,466.6 701.7,466.8 702.6,467 703.5,467.1 704.4,467.3 705.4,467.1 706.3,467.6 707.2,467.8 708.1,468 709,468.6 710,468.5 710.9,468.6 711.8,469 712.7,469.4 713.6,469.7 714.6,470.1 715.5,470.1 716.4,469.7 717.3,469.9 718.2,470 719.2,470.2 720.1,470.5 721,470.4 721.9,469.8 722.8,470 723.8,469.7 724.7,470 725.6,470.4 726.5,470.4 727.4,470.9 728.4,470.7 729.3,470.9 730.2,471 731.1,471.2 732,471.6 733,471.7 733.9,471.8 734.8,472.1 735.7,472.2 736.6,473 737.6,474.2 738.5,474.7 739.4,475.6 740.3,475.6 741.2,474.7 742.1,473.2 743.1,471.3 744,469.6 744.9,469.6 745.8,469.2 746.7,469 747.7,469.6 748.6,469.5 749.5,467.2 750.4,466.7 751.3,465.4 752.3,464.4 753.2,463.2 754.1,461.8 755,460.6 755.9,459.5 756.9,458.2 757.8,456.9 758.7,455.1 759.6,453.2 760.5,451.8 761.5,450.1 762.4,448.7 763.3,447.3 764.2,445.3 765.1,443.5 766.1,441.8 767,439.6 767.9,438.1 768.8,436.9 769.7,435.8 770.7,434.9 771.6,433.5 772.5,432.1 773.4,430.9 774.3,429.9 775.3,428.6 776.2,427.3 777.1,425.7 778,424 778.9,422.6 779.9,421.1 780.8,419.2 781.7,417.9 782.6,416.4 783.5,414.7 784.5,413.6 785.4,412 786.3,411 787.2,409.8 788.1,408.8 789.1,408 790,406.6 790.9,405.6 791.8,404.7 792.7,403.7 793.7,402.8 794.6,402 795.5,401.3 796.4,401 797.3,400.6 798.3,400.4 799.2,400 800.1,399.4 801,399 801.9,398.5 802.9,398.1 803.8,398 804.7,397.9 805.6,397.7 806.5,397.6 807.5,397.1 808.4,396.8 809.3,396.6 810.2,396.6 811.1,396.4 812.1,396.6 813,396.3 813.9,396 814.8,396.1 815.7,396.2 816.6,396.3 817.6,396.2 818.5,396 819.4,396 820.3,396.1 821.2,396.7 822.2,396.7 823.1,396.9 824,396.8 824.9,396.4 825.8,396.8 826.8,396.9 827.7,397.2 828.6,397.3 829.5,397.9 830.4,398.5 831.4,398.7 832.3,399.1 833.2,399 834.1,399.1 835,399.6 836,400.4 836.9,401 837.8,402.1 838.7,402.9 839.6,403.6 840.6,404.9 841.5,405.3 842.4,406.3 843.3,407.4 844.2,408.1 845.2,409 846.1,410.1 847,411.2 847.9,412.2 848.8,413.6 849.8,415 850.7,416.9 851.6,418.7 852.5,420.3 853.4,421.8 854.4,423 855.3,424 856.2,425.3 857.1,426.1 858,426.9 859,428.4 859.9,429.7 860.8,431.3 861.7,432.9 862.6,434.5 863.6,436 864.5,437.4 865.4,438.8 866.3,440.5 867.2,442.4 868.2,444 869.1,445.7 870,447.4 870.9,449.1 871.8,451 872.8,453 873.7,454.2 874.6,455.4 875.5,457 876.4,458 877.4,459.5 878.3,460.8 879.2,461.7 880.1,462.7 881,463.7 882,464.7 882.9,465.8 883.8,467.2 884.7,469.9 885.6,469.8 886.6,469.7 887.5,469.9 888.4,469.9 889.3,470.5 890.2,472.1 891.2,474.1 892.1,476 893,476.7 893.9,476.4 894.8,475.4 895.7,474.1 896.7,473.4 897.6,472.4 898.5,472.3 899.4,471.9 900.3,471.2 901.3,471.4 902.2,470.9 903.1,470.8 904,470.6 904.9,470.2 905.9,470.4 906.8,470.7 907.7,470.7 908.6,470.9 909.5,470.5 910.5,470.6 911.4,470.5 912.3,470.2 913.2,470.3 914.1,469.8 915.1,469.7 916,469.3 916.9,469.2 917.8,469.2 918.7,469 919.7,468.9 920.6,468.6 921.5,468.5 922.4,468.1 923.3,467.9 924.3,467.7 925.2,467.2 926.1,467.3 927,467.3 927.9,467.2 928.9,467.4 929.8,467.4 930.7,467.4 931.6,467 932.5,466.3 933.5,466 934.4,465.7 935.3,465.7 936.2,465.9 937.1,466 938.1,465.4 939,465.2 939.9,465.3 940.8,464.9 941.7,465.2 942.7,465 943.6,464.7 944.5,464.3 945.4,463.9 946.3,463.7 947.3,463.6 948.2,463.3 949.1,462.6 950,462.4 950.9,462.2 951.9,462 952.8,461.9 953.7,461.7 954.6,461.5 955.5,461.7 956.5,462 957.4,461.9 958.3,461.9 959.2,462 960.1,461.7 961.1,462.2 962,462 962.9,461.8 963.8,461.5 964.7,461.1 965.7,461.1 966.6,460.9 967.5,461.3 968.4,461.1 969.3,461.3 970.3,461 971.2,460.9 972.1,461.4 973,461.3 973.9,461.8 974.8,461.8 975.8,461.3 976.7,461.5 977.6,461.6 978.5,461.9 979.4,462.2 980.4,462.2 981.3,461.9 982.2,461.9 983.1,462.1 984,461.7 985,462.1 985.9,462 986.8,462.1 987.7,462 988.6,461.5 989.6,461.5 990.5,461.5 991.4,462 992.3,462.3 993.2,462.4 994.2,462.5 995.1,462.3 996,462.3 996.9,462.5 997.8,462.3 998.8,462.5 999.7,462.3 1000.6,462.1 1001.5,462.4 1002.4,462.3 1003.4,462.7 1004.3,463 1005.2,463 1006.1,463.5 1007,463.5 1008,463.5 1008.9,463.6 1009.8,463.4" fill="none" stroke="#6f6f6f" stroke-width="2.2" stroke-linejoin="round"/><path d="M623.5,541.5 624.4,541.6 625.3,541.5 626.3,541.1 627.2,541.2 628.1,541.2 629,541.2 629.9,541.8 630.9,542 631.8,541.8 632.7,542.1 633.6,542 634.5,541.8 635.5,541.9 636.4,541.3 637.3,540.8 638.2,540.6 639.1,540.6 640.1,540.6 641,540.5 641.9,541.2 642.8,541.2 643.7,541.4 644.7,541.2 645.6,540.9 646.5,540.3 647.4,540.1 648.3,540.6 649.3,540.7 650.2,541.1 651.1,541.4 652,541.4 652.9,541.1 653.9,541.1 654.8,541.3 655.7,541.3 656.6,541.6 657.5,541.8 658.5,541.4 659.4,541.4 660.3,541.2 661.2,541.4 662.1,541.8 663,541.9 664,542.2 664.9,542.5 665.8,542.9 666.7,543.5 667.6,543.9 668.6,544.1 669.5,544.2 670.4,544.4 671.3,544.6 672.2,544.5 673.2,544.6 674.1,544.8 675,545.4 675.9,545.7 676.8,545.9 677.8,546.3 678.7,546.4 679.6,546.7 680.5,547.1 681.4,547.2 682.4,547.4 683.3,548.4 684.2,548.7 685.1,549.1 686,549.3 687,549.1 687.9,549.6 688.8,549.9 689.7,550.1 690.6,550.2 691.6,550.6 692.5,550.8 693.4,551.3 694.3,551.9 695.2,551.8 696.2,552.2 697.1,552.3 698,552.3 698.9,552.5 699.8,552.5 700.8,553.4 701.7,553.9 702.6,554.4 703.5,555 704.4,554.7 705.4,554.7 706.3,554.8 707.2,554.7 708.1,554.7 709,555.2 710,555.5 710.9,556.2 711.8,556.8 712.7,557.1 713.6,557.1 714.6,556.7 715.5,556.3 716.4,556.4 717.3,556.1 718.2,556.2 719.2,556.8 720.1,556.6 721,556.8 721.9,556.4 722.8,555.3 723.8,555 724.7,554.4 725.6,554.2 726.5,554 727.4,553.5 728.4,552.9 729.3,552.3 730.2,551.9 731.1,551.1 732,550.4 733,549.8 733.9,548.9 734.8,548.1 735.7,547 736.6,545.8 737.6,545 738.5,543.9 739.4,543.1 740.3,541.9 741.2,540.3 742.1,539 743.1,537.6 744,536.2 744.9,534.4 745.8,533.3 746.7,531.8 747.7,530.3 748.6,529.1 749.5,527.5 750.4,526.5 751.3,525.5 752.3,524.4 753.2,523.3 754.1,521.8 755,520.4 755.9,519.6 756.9,518.5 757.8,517.6 758.7,516.5 759.6,514.8 760.5,513.6 761.5,512.3 762.4,511.5 763.3,510.3 764.2,508.9 765.1,507.5 766.1,505.8 767,504.9 767.9,503.9 768.8,502.7 769.7,501.3 770.7,499.8 771.6,498.3 772.5,496.8 773.4,495.5 774.3,494.5 775.3,492.8 776.2,491.9 777.1,490.9 778,489.4 778.9,488.7 779.9,487.2 780.8,486.1 781.7,485.1 782.6,484.1 783.5,483.5 784.5,482.6 785.4,481.4 786.3,480.6 787.2,479.5 788.1,478.8 789.1,478 790,477.1 790.9,476.6 791.8,475.9 792.7,475.8 793.7,475.5 794.6,475.2 795.5,474.7 796.4,473.8 797.3,472.8 798.3,472.1 799.2,471.6 800.1,471.6 801,471.4 801.9,471.3 802.9,471.4 803.8,470.8 804.7,471 805.6,470.7 806.5,470.6 807.5,470.8 808.4,470.7 809.3,470.6 810.2,470.3 811.1,470.2 812.1,469.8 813,469.7 813.9,469.5 814.8,469.4 815.7,469.4 816.6,469.4 817.6,469.7 818.5,469.5 819.4,469.9 820.3,469.7 821.2,469.9 822.2,470.2 823.1,470.2 824,470.3 824.9,470 825.8,470.2 826.8,470.5 827.7,470.5 828.6,471.1 829.5,471.5 830.4,471.7 831.4,472.4 832.3,472.8 833.2,472.8 834.1,473.3 835,473.5 836,473.5 836.9,474.3 837.8,474.2 838.7,474.8 839.6,475.3 840.6,475.8 841.5,476.7 842.4,477.1 843.3,478 844.2,478.6 845.2,479.1 846.1,480 847,480.6 847.9,481.2 848.8,482 849.8,482.9 850.7,484.1 851.6,485.4 852.5,486.8 853.4,487.9 854.4,488.9 855.3,490.2 856.2,491.1 857.1,492.3 858,493.6 859,494.5 859.9,496.3 860.8,497.5 861.7,498.7 862.6,500.1 863.6,501 864.5,502.5 865.4,503.9 866.3,505.1 867.2,506.4 868.2,507.2 869.1,508.8 870,510.3 870.9,511.9 871.8,513.3 872.8,514.3 873.7,515.4 874.6,516.4 875.5,517.8 876.4,518.8 877.4,519.9 878.3,520.9 879.2,521.5 880.1,522.5 881,523.3 882,524.7 882.9,525.9 883.8,527.2 884.7,528.5 885.6,529.6 886.6,531.1 887.5,533 888.4,534.7 889.3,536.4 890.2,538 891.2,539.4 892.1,540.6 893,542 893.9,542.9 894.8,543.6 895.7,544.9 896.7,545.9 897.6,547 898.5,547.9 899.4,548.7 900.3,549.9 901.3,550.8 902.2,551.8 903.1,552.3 904,552.7 904.9,553.1 905.9,554.1 906.8,554.7 907.7,555 908.6,555.9 909.5,555.6 910.5,555.9 911.4,556.1 912.3,556.2 913.2,556.9 914.1,557 915.1,557.7 916,557.9 916.9,557.8 917.8,557.9 918.7,557.1 919.7,556.6 920.6,556.4 921.5,556.1 922.4,556.3 923.3,556.4 924.3,556.2 925.2,556.2 926.1,556 927,555.7 927.9,555.3 928.9,554.6 929.8,554.2 930.7,553.6 931.6,553 932.5,552.6 933.5,552.6 934.4,552.6 935.3,552.8 936.2,552.7 937.1,552.4 938.1,552.1 939,551.7 939.9,551.6 940.8,551.2 941.7,551 942.7,550.5 943.6,550 944.5,549.5 945.4,549.3 946.3,549 947.3,548.6 948.2,548.6 949.1,548.1 950,547.7 950.9,547.4 951.9,546.8 952.8,546.3 953.7,546.3 954.6,546 955.5,545.6 956.5,545.6 957.4,545.7 958.3,545.9 959.2,545.8 960.1,545.5 961.1,544.9 962,544.8 962.9,544.7 963.8,544.5 964.7,544.6 965.7,544.3 966.6,544 967.5,543.5 968.4,542.9 969.3,542.2 970.3,542.3 971.2,542.2 972.1,542.2 973,542.3 973.9,541.7 974.8,541.6 975.8,541.4 976.7,541.3 977.6,541.3 978.5,541.2 979.4,540.9 980.4,540.9 981.3,540.8 982.2,540.6 983.1,540.8 984,540.4 985,540.2 985.9,540.3 986.8,540.6 987.7,541.1 988.6,541.2 989.6,541.5 990.5,541.3 991.4,541.1 992.3,541.2 993.2,541.2 994.2,541.3 995.1,541.3 996,541.2 996.9,541 997.8,540.7 998.8,540.8 999.7,541.1 1000.6,540.9 1001.5,541 1002.4,541.1 1003.4,541 1004.3,541.4 1005.2,541.6 1006.1,541.8 1007,542 1008,541.7 1008.9,541.9 1009.8,541.9" fill="none" stroke="#6f6f6f" stroke-width="2.2" stroke-linejoin="round"/><path d="M623.5,621.4 624.4,621.3 625.3,621.2 626.3,621.3 627.2,621.3 628.1,621.3 629,621.1 629.9,620.9 630.9,620.6 631.8,620.9 632.7,621 633.6,620.8 634.5,621.2 635.5,621.1 636.4,621.4 637.3,621.4 638.2,621.4 639.1,621.4 640.1,621.4 641,621.7 641.9,621.8 642.8,621.8 643.7,622 644.7,622 645.6,621.8 646.5,622 647.4,621.8 648.3,622 649.3,622.1 650.2,622 651.1,621.9 652,621.8 652.9,621.5 653.9,621.4 654.8,621.5 655.7,621.5 656.6,622.1 657.5,622.5 658.5,622.5 659.4,622.2 660.3,622.3 661.2,622.6 662.1,623.2 663,624.1 664,624.3 664.9,624.9 665.8,625.1 666.7,625.2 667.6,625.7 668.6,625.4 669.5,626.2 670.4,626.5 671.3,627 672.2,627.4 673.2,627 674.1,627.1 675,627 675.9,627 676.8,627.2 677.8,627.8 678.7,628.1 679.6,628.8 680.5,629.8 681.4,629.8 682.4,630.3 683.3,630.7 684.2,630.9 685.1,631.3 686,631.4 687,631.3 687.9,631.7 688.8,631.8 689.7,632.4 690.6,633 691.6,633.2 692.5,633.6 693.4,633.7 694.3,634 695.2,633.8 696.2,633.8 697.1,634 698,634.3 698.9,634.6 699.8,634.8 700.8,635.1 701.7,635.2 702.6,635.6 703.5,635.6 704.4,635.8 705.4,635.9 706.3,636.2 707.2,636.8 708.1,637 709,636.9 710,637.1 710.9,637.2 711.8,637.2 712.7,637.2 713.6,637.1 714.6,637 715.5,636.8 716.4,636.9 717.3,636.7 718.2,636 719.2,635.7 720.1,634.9 721,634.6 721.9,634.2 722.8,633.2 723.8,632.5 724.7,631.2 725.6,630.4 726.5,629.9 727.4,629.3 728.4,628.7 729.3,628 730.2,627.4 731.1,626.5 732,625.8 733,624.5 733.9,623.6 734.8,622.8 735.7,622 736.6,621.2 737.6,619.9 738.5,618.8 739.4,617.5 740.3,616.8 741.2,616.1 742.1,615.2 743.1,614.4 744,613 744.9,611.6 745.8,610.4 746.7,609.3 747.7,608.3 748.6,607.7 749.5,606.9 750.4,605.7 751.3,604.5 752.3,603.4 753.2,601.7 754.1,600.6 755,599.8 755.9,598.5 756.9,597.7 757.8,596.7 758.7,595.4 759.6,594.1 760.5,593.1 761.5,591.7 762.4,590.8 763.3,590 764.2,589 765.1,587.3 766.1,586.1 767,584.8 767.9,583.5 768.8,582.6 769.7,581.3 770.7,580.1 771.6,578.6 772.5,577.2 773.4,576.3 774.3,575.2 775.3,574.1 776.2,573.5 777.1,572.2 778,571.1 778.9,570.1 779.9,569 780.8,568 781.7,566.9 782.6,566.2 783.5,565.4 784.5,564.4 785.4,563.8 786.3,562.7 787.2,561.4 788.1,560.7 789.1,559.9 790,559.1 790.9,558.3 791.8,557.4 792.7,556.4 793.7,555.9 794.6,555.5 795.5,555.1 796.4,554.8 797.3,554.1 798.3,553.5 799.2,552.8 800.1,552 801,551.7 801.9,551.3 802.9,550.6 803.8,550.3 804.7,549.9 805.6,549.5 806.5,549.5 807.5,549.1 808.4,548 809.3,547.3 810.2,546.1 811.1,545.2 812.1,544.8 813,544.4 813.9,544.2 814.8,543.6 815.7,543.7 816.6,543.5 817.6,543.7 818.5,544.2 819.4,544 820.3,544.5 821.2,544.9 822.2,545.6 823.1,546.6 824,547 824.9,547.4 825.8,547.7 826.8,548 827.7,548.6 828.6,549.3 829.5,550 830.4,550.7 831.4,551.2 832.3,551.7 833.2,552 834.1,552.3 835,553 836,553.4 836.9,554 837.8,555.1 838.7,555.7 839.6,556.5 840.6,557.7 841.5,558.4 842.4,559.3 843.3,560 844.2,560.1 845.2,560.3 846.1,560.8 847,562.1 847.9,563.4 848.8,564.7 849.8,565.9 850.7,566.6 851.6,567.7 852.5,568.8 853.4,569.8 854.4,570.5 855.3,571.3 856.2,571.7 857.1,572.7 858,573.8 859,575 859.9,576.7 860.8,577.6 861.7,578.6 862.6,579.8 863.6,580.5 864.5,582 865.4,583.4 866.3,584.6 867.2,585.9 868.2,587.2 869.1,588.2 870,589.5 870.9,590.8 871.8,591.8 872.8,593.2 873.7,594.4 874.6,595.4 875.5,596.5 876.4,597.4 877.4,598.5 878.3,600 879.2,601 880.1,602.3 881,603 882,604.1 882.9,605.5 883.8,606.6 884.7,607.9 885.6,608.7 886.6,609.9 887.5,610.9 888.4,612 889.3,613.3 890.2,614.2 891.2,615.4 892.1,616.3 893,617.1 893.9,618 894.8,618.7 895.7,620 896.7,621.4 897.6,622.4 898.5,623.4 899.4,623.9 900.3,624.6 901.3,625.3 902.2,626.1 903.1,627.3 904,627.9 904.9,628.6 905.9,629.5 906.8,630.1 907.7,631 908.6,631.6 909.5,631.9 910.5,632.7 911.4,633.3 912.3,633.8 913.2,634.6 914.1,635.1 915.1,635.9 916,636.3 916.9,636.7 917.8,637.2 918.7,637.2 919.7,637.4 920.6,637.5 921.5,637.3 922.4,637.5 923.3,637.5 924.3,637.7 925.2,637.7 926.1,636.9 927,636.4 927.9,635.7 928.9,635.3 929.8,635.6 930.7,635.3 931.6,635.6 932.5,635.3 933.5,635.3 934.4,635.2 935.3,634.8 936.2,634.8 937.1,634.3 938.1,634.3 939,633.9 939.9,633.4 940.8,633.3 941.7,632.6 942.7,632.5 943.6,632.3 944.5,631.7 945.4,632 946.3,631.2 947.3,630.7 948.2,630.8 949.1,630.5 950,630.5 950.9,630.6 951.9,630.1 952.8,629.6 953.7,629.5 954.6,629 955.5,628.9 956.5,628.5 957.4,628.1 958.3,627.8 959.2,627.6 960.1,627.6 961.1,627.6 962,627.4 962.9,626.7 963.8,626.3 964.7,626.2 965.7,625.7 966.6,625.7 967.5,625.2 968.4,625.1 969.3,624.7 970.3,624.3 971.2,624.4 972.1,623.2 973,623.1 973.9,622.9 974.8,622.4 975.8,622.7 976.7,622.4 977.6,622.3 978.5,622.7 979.4,622.2 980.4,622.3 981.3,621.9 982.2,621.2 983.1,621.4 984,621.4 985,621.5 985.9,621.8 986.8,621.3 987.7,621.2 988.6,620.7 989.6,620.6 990.5,621.2 991.4,621.3 992.3,621.6 993.2,621.6 994.2,621.5 995.1,621.6 996,621.5 996.9,621.4 997.8,621.5 998.8,621.3 999.7,621.5 1000.6,621.5 1001.5,621.4 1002.4,621.5 1003.4,621.4 1004.3,621.3 1005.2,621.1 1006.1,621.1 1007,621.2 1008,621 1008.9,621.4 1009.8,621.3" fill="none" stroke="#6f6f6f" stroke-width="2.2" stroke-linejoin="round"/><path d="M623.5,700.2 624.4,700 625.3,699.9 626.3,700.1 627.2,700.2 628.1,700.4 629,700.7 629.9,700.7 630.9,700.9 631.8,700.5 632.7,700.4 633.6,700.6 634.5,700.2 635.5,700.5 636.4,700.3 637.3,700.4 638.2,700.4 639.1,700.5 640.1,700.8 641,700.8 641.9,700.9 642.8,700.7 643.7,700.8 644.7,700.9 645.6,700.8 646.5,700.8 647.4,700.6 648.3,700.7 649.3,700.5 650.2,700.7 651.1,700.8 652,700.8 652.9,700.9 653.9,701 654.8,700.9 655.7,701 656.6,701.7 657.5,701.8 658.5,702.5 659.4,702.6 660.3,702.6 661.2,703.3 662.1,703.3 663,703.7 664,703.4 664.9,703 665.8,703.2 666.7,703.2 667.6,703.7 668.6,704.2 669.5,704.1 670.4,704.3 671.3,704.8 672.2,705.3 673.2,705.7 674.1,706.2 675,706.4 675.9,706.1 676.8,706.4 677.8,706.7 678.7,706.7 679.6,706.9 680.5,707.7 681.4,707.5 682.4,708.4 683.3,709 684.2,708.9 685.1,709.7 686,709.7 687,709.5 687.9,709.8 688.8,709.8 689.7,710.3 690.6,710.5 691.6,710.7 692.5,711 693.4,710.9 694.3,711.8 695.2,712.2 696.2,712.4 697.1,712.7 698,712.4 698.9,712.5 699.8,713 700.8,713.4 701.7,713.8 702.6,714.8 703.5,715.3 704.4,715.9 705.4,716.1 706.3,716.1 707.2,716 708.1,716 709,716.3 710,716.2 710.9,716.5 711.8,716.3 712.7,716.4 713.6,716.2 714.6,715.6 715.5,715.3 716.4,714.5 717.3,713.8 718.2,713.5 719.2,712.8 720.1,713.1 721,712.4 721.9,711.4 722.8,711.2 723.8,709.7 724.7,709.2 725.6,708.6 726.5,707.6 727.4,706.9 728.4,706.4 729.3,705.8 730.2,705 731.1,704.5 732,703.6 733,702.9 733.9,701.8 734.8,700.6 735.7,699.4 736.6,698.7 737.6,697.9 738.5,697.2 739.4,696.6 740.3,695.5 741.2,694.8 742.1,693.8 743.1,692.6 744,691.1 744.9,689.8 745.8,688.4 746.7,687.1 747.7,685.8 748.6,684.4 749.5,683.2 750.4,681.8 751.3,680.7 752.3,679.2 753.2,677.6 754.1,676.5 755,674.9 755.9,673.6 756.9,672.1 757.8,670.7 758.7,669.4 759.6,668.1 760.5,667 761.5,665.6 762.4,664.3 763.3,662.8 764.2,661.6 765.1,660.3 766.1,659 767,658 767.9,656.9 768.8,655.4 769.7,654.3 770.7,653 771.6,651.3 772.5,650 773.4,648.4 774.3,647.4 775.3,646.5 776.2,645.6 777.1,645.1 778,644.2 778.9,643.4 779.9,642.9 780.8,642 781.7,641.5 782.6,640.3 783.5,639 784.5,637.8 785.4,636.3 786.3,635.5 787.2,635 788.1,634 789.1,633.4 790,633.1 790.9,632.7 791.8,632.7 792.7,632.1 793.7,631.7 794.6,630.8 795.5,630.4 796.4,630.2 797.3,630.2 798.3,630.4 799.2,630 800.1,630.2 801,629.5 801.9,629.3 802.9,629.1 803.8,627.8 804.7,627.7 805.6,627.2 806.5,626.9 807.5,626.8 808.4,625.9 809.3,625.4 810.2,624.5 811.1,623.6 812.1,622.5 813,621 813.9,619.2 814.8,618 815.7,617.2 816.6,616.6 817.6,617 818.5,618.3 819.4,619.4 820.3,621.5 821.2,623 822.2,623.7 823.1,624.7 824,625.6 824.9,626.6 825.8,627.3 826.8,627.6 827.7,627.6 828.6,627.8 829.5,628 830.4,628.7 831.4,629.3 832.3,629.6 833.2,630.1 834.1,630.2 835,630.4 836,630.5 836.9,630.4 837.8,630.6 838.7,630.8 839.6,631.2 840.6,631.6 841.5,631.9 842.4,632.7 843.3,633.2 844.2,634.1 845.2,635.3 846.1,635.6 847,636.4 847.9,637.1 848.8,637.4 849.8,638.4 850.7,639.1 851.6,640.1 852.5,641.2 853.4,642.1 854.4,642.8 855.3,643.8 856.2,644.4 857.1,645.5 858,646.7 859,647.5 859.9,649.1 860.8,650.1 861.7,651.1 862.6,652 863.6,652.9 864.5,654 865.4,655.6 866.3,657.2 867.2,658.9 868.2,660.4 869.1,661.6 870,662.8 870.9,664 871.8,665.1 872.8,666.8 873.7,668.5 874.6,669.7 875.5,671.1 876.4,672.3 877.4,673.5 878.3,675.3 879.2,676.7 880.1,677.9 881,679.4 882,680.5 882.9,681.8 883.8,683 884.7,684.5 885.6,686.1 886.6,687.3 887.5,688.9 888.4,690.1 889.3,691.4 890.2,692.9 891.2,693.9 892.1,694.5 893,695.4 893.9,696 894.8,696.9 895.7,698.5 896.7,699.4 897.6,700.7 898.5,701.5 899.4,702.1 900.3,702.6 901.3,703.3 902.2,704.3 903.1,704.9 904,705.7 904.9,706 905.9,706.6 906.8,707.2 907.7,707.9 908.6,709.1 909.5,709.5 910.5,710.4 911.4,710.8 912.3,711.7 913.2,712.8 914.1,713.3 915.1,714 916,714.1 916.9,714.4 917.8,714.7 918.7,715.3 919.7,715.8 920.6,716.2 921.5,716.9 922.4,717.3 923.3,717.1 924.3,717.2 925.2,716.7 926.1,716.1 927,716 927.9,715.4 928.9,715.4 929.8,715.5 930.7,714.6 931.6,714.4 932.5,713.6 933.5,713.3 934.4,713.4 935.3,713.1 936.2,713.1 937.1,712.3 938.1,712.1 939,712 939.9,711.5 940.8,711.5 941.7,711.1 942.7,711 943.6,711.2 944.5,710.8 945.4,710.6 946.3,710 947.3,709.3 948.2,709 949.1,708.6 950,708.6 950.9,708.7 951.9,708.6 952.8,708.1 953.7,707.3 954.6,706.7 955.5,706.1 956.5,706.1 957.4,706.1 958.3,705.7 959.2,705.8 960.1,705.4 961.1,705.2 962,704.8 962.9,704.4 963.8,704 964.7,703.7 965.7,703.8 966.6,703.4 967.5,703.6 968.4,703.3 969.3,702.9 970.3,702.7 971.2,702.5 972.1,702.2 973,701.9 973.9,701.9 974.8,701.5 975.8,701.6 976.7,701.7 977.6,701.5 978.5,701.1 979.4,701.2 980.4,700.7 981.3,700.7 982.2,701.1 983.1,701 984,701.3 985,701.1 985.9,701.1 986.8,701 987.7,700.8 988.6,701.1 989.6,700.9 990.5,700.6 991.4,700.7 992.3,700.7 993.2,700.8 994.2,701.2 995.1,700.8 996,701.1 996.9,701 997.8,700.3 998.8,700.4 999.7,700.3 1000.6,699.9 1001.5,700.5 1002.4,700.5 1003.4,700.3 1004.3,700.4 1005.2,699.8 1006.1,699.9 1007,700.2 1008,700.4 1008.9,700.7 1009.8,700.9" fill="none" stroke="#6f6f6f" stroke-width="2.2" stroke-linejoin="round"/><path d="M623.5,235.3 624.4,235.3 625.3,235.3 626.3,235.3 627.2,235.3 628.1,235.3 629,235.3 629.9,235.3 630.9,235.3 631.8,235.3 632.7,235.3 633.6,235.3 634.5,235.3 635.5,235.3 636.4,235.3 637.3,235.3 638.2,235.3 639.1,235.3 640.1,235.3 641,235.3 641.9,235.3 642.8,235.3 643.7,235.3 644.7,235.3 645.6,235.3 646.5,235.3 647.4,235.3 648.3,235.3 649.3,235.3 650.2,235.3 651.1,235.3 652,235.3 652.9,235.3 653.9,235.3 654.8,235.3 655.7,235.3 656.6,235.3 657.5,235.3 658.5,235.3 659.4,235.3 660.3,235.3 661.2,235.3 662.1,235.3 663,235.3 664,235.3 664.9,235.3 665.8,235.3 666.7,235.3 667.6,235.3 668.6,235.3 669.5,235.3 670.4,235.3 671.3,235.3 672.2,235.3 673.2,235.3 674.1,235.3 675,235.3 675.9,235.3 676.8,235.3 677.8,235.3 678.7,235.3 679.6,235.3 680.5,235.3 681.4,235.3 682.4,235.3 683.3,235.3 684.2,235.3 685.1,235.3 686,235.3 687,235.3 687.9,235.3 688.8,235.3 689.7,235.3 690.6,235.3 691.6,235.3 692.5,235.3 693.4,235.3 694.3,235.3 695.2,235.3 696.2,235.3 697.1,235.3 698,235.3 698.9,235.3 699.8,235.3 700.8,235.3 701.7,235.3 702.6,235.3 703.5,235.3 704.4,235.3 705.4,235.3 706.3,235.3 707.2,235.3 708.1,235.3 709,235.3 710,235.3 710.9,235.3 711.8,235.3 712.7,235.3 713.6,235.3 714.6,235.3 715.5,235.3 716.4,235.3 717.3,235.3 718.2,235.3 719.2,235.3 720.1,235.3 721,235.3 721.9,235.3 722.8,235.3 723.8,235.3 724.7,235.3 725.6,235.3 726.5,235.3 727.4,235.3 728.4,235.3 729.3,235.3 730.2,235.3 731.1,235.3 732,235.3 733,235.3 733.9,235.3 734.8,235.3 735.7,235.3 736.6,235.3 737.6,235.3 738.5,235.3 739.4,235.3 740.3,235.3 741.2,235.3 742.1,235.3 743.1,235.3 744,235.3 744.9,235.3 745.8,235.3 746.7,235.3 747.7,235.3 748.6,235.3 749.5,235.3 750.4,235.3 751.3,235.3 752.3,235.3 753.2,235.3 754.1,235.3 755,235.3 755.9,235.3 756.9,235.3 757.8,235.3 758.7,235.3 759.6,235.3 760.5,235.3 761.5,235.2 762.4,235.2 763.3,235.1 764.2,235 765.1,235 766.1,234.9 767,234.8 767.9,234.7 768.8,234.5 769.7,234.3 770.7,234 771.6,233.7 772.5,233.3 773.4,232.8 774.3,232.2 775.3,231.7 776.2,231.1 777.1,230.4 778,229.8 778.9,229.1 779.9,228.3 780.8,227.5 781.7,226.5 782.6,225.4 783.5,224.3 784.5,223.1 785.4,221.7 786.3,220.3 787.2,218.8 788.1,217.1 789.1,214.9 790,212.3 790.9,209.6 791.8,206.9 792.7,204.4 793.7,202 794.6,199.7 795.5,197.4 796.4,195.3 797.3,193.5 798.3,191.9 799.2,190.5 800.1,189.1 801,187.9 801.9,186.8 802.9,185.8 803.8,184.9 804.7,184 805.6,183.2 806.5,182.5 807.5,181.8 808.4,181.2 809.3,180.7 810.2,180.4 811.1,180.1 812.1,179.8 813,179.5 813.9,179.3 814.8,179.1 815.7,179 816.6,179 817.6,179 818.5,179.1 819.4,179.3 820.3,179.5 821.2,179.8 822.2,180.1 823.1,180.4 824,180.7 824.9,181.2 825.8,181.8 826.8,182.5 827.7,183.2 828.6,184 829.5,184.9 830.4,185.8 831.4,186.8 832.3,187.9 833.2,189.1 834.1,190.5 835,191.9 836,193.5 836.9,195.3 837.8,197.4 838.7,199.7 839.6,202 840.6,204.4 841.5,206.9 842.4,209.6 843.3,212.3 844.2,214.9 845.2,217.1 846.1,218.8 847,220.3 847.9,221.7 848.8,223.1 849.8,224.3 850.7,225.4 851.6,226.5 852.5,227.5 853.4,228.3 854.4,229.1 855.3,229.8 856.2,230.4 857.1,231.1 858,231.7 859,232.2 859.9,232.8 860.8,233.3 861.7,233.7 862.6,234 863.6,234.3 864.5,234.5 865.4,234.7 866.3,234.8 867.2,234.9 868.2,235 869.1,235 870,235.1 870.9,235.2 871.8,235.2 872.8,235.3 873.7,235.3 874.6,235.3 875.5,235.3 876.4,235.3 877.4,235.3 878.3,235.3 879.2,235.3 880.1,235.3 881,235.3 882,235.3 882.9,235.3 883.8,235.3 884.7,235.3 885.6,235.3 886.6,235.3 887.5,235.3 888.4,235.3 889.3,235.3 890.2,235.3 891.2,235.3 892.1,235.3 893,235.3 893.9,235.3 894.8,235.3 895.7,235.3 896.7,235.3 897.6,235.3 898.5,235.3 899.4,235.3 900.3,235.3 901.3,235.3 902.2,235.3 903.1,235.3 904,235.3 904.9,235.3 905.9,235.3 906.8,235.3 907.7,235.3 908.6,235.3 909.5,235.3 910.5,235.3 911.4,235.3 912.3,235.3 913.2,235.3 914.1,235.3 915.1,235.3 916,235.3 916.9,235.3 917.8,235.3 918.7,235.3 919.7,235.3 920.6,235.3 921.5,235.3 922.4,235.3 923.3,235.3 924.3,235.3 925.2,235.3 926.1,235.3 927,235.3 927.9,235.3 928.9,235.3 929.8,235.3 930.7,235.3 931.6,235.3 932.5,235.3 933.5,235.3 934.4,235.3 935.3,235.3 936.2,235.3 937.1,235.3 938.1,235.3 939,235.3 939.9,235.3 940.8,235.3 941.7,235.3 942.7,235.3 943.6,235.3 944.5,235.3 945.4,235.3 946.3,235.3 947.3,235.3 948.2,235.3 949.1,235.3 950,235.3 950.9,235.3 951.9,235.3 952.8,235.3 953.7,235.3 954.6,235.3 955.5,235.3 956.5,235.3 957.4,235.3 958.3,235.3 959.2,235.3 960.1,235.3 961.1,235.3 962,235.3 962.9,235.3 963.8,235.3 964.7,235.3 965.7,235.3 966.6,235.3 967.5,235.3 968.4,235.3 969.3,235.3 970.3,235.3 971.2,235.3 972.1,235.3 973,235.3 973.9,235.3 974.8,235.3 975.8,235.3 976.7,235.3 977.6,235.3 978.5,235.3 979.4,235.3 980.4,235.3 981.3,235.3 982.2,235.3 983.1,235.3 984,235.3 985,235.3 985.9,235.3 986.8,235.3 987.7,235.3 988.6,235.3 989.6,235.3 990.5,235.3 991.4,235.3 992.3,235.3 993.2,235.3 994.2,235.3 995.1,235.3 996,235.3 996.9,235.3 997.8,235.3 998.8,235.3 999.7,235.3 1000.6,235.3 1001.5,235.3 1002.4,235.3 1003.4,235.3 1004.3,235.3 1005.2,235.3 1006.1,235.3 1007,235.3 1008,235.3 1008.9,235.3 1009.8,235.3" fill="none" stroke="#ff2b2b" stroke-width="3.8" stroke-dasharray="5.2 8.9" stroke-linecap="round"/><path d="M623.5,306.5 624.4,306.5 625.3,306.5 626.3,306.5 627.2,306.5 628.1,306.5 629,306.5 629.9,306.5 630.9,306.5 631.8,306.5 632.7,306.5 633.6,306.5 634.5,306.5 635.5,306.5 636.4,306.5 637.3,306.5 638.2,306.5 639.1,306.5 640.1,306.5 641,306.4 641.9,306.4 642.8,306.4 643.7,306.4 644.7,306.4 645.6,306.4 646.5,306.4 647.4,306.4 648.3,306.4 649.3,306.4 650.2,306.4 651.1,306.4 652,306.4 652.9,306.4 653.9,306.4 654.8,306.4 655.7,306.3 656.6,306.3 657.5,306.3 658.5,306.3 659.4,306.3 660.3,306.3 661.2,306.3 662.1,306.3 663,306.3 664,306.3 664.9,306.3 665.8,306.3 666.7,306.2 667.6,306.2 668.6,306.2 669.5,306.2 670.4,306.2 671.3,306.2 672.2,306.2 673.2,306.2 674.1,306.2 675,306.2 675.9,306.1 676.8,306.1 677.8,306.1 678.7,306.1 679.6,306.1 680.5,306.1 681.4,306 682.4,306 683.3,306 684.2,306 685.1,305.9 686,305.9 687,305.9 687.9,305.9 688.8,305.8 689.7,305.8 690.6,305.8 691.6,305.8 692.5,305.7 693.4,305.7 694.3,305.7 695.2,305.7 696.2,305.6 697.1,305.6 698,305.6 698.9,305.6 699.8,305.5 700.8,305.5 701.7,305.5 702.6,305.5 703.5,305.4 704.4,305.4 705.4,305.4 706.3,305.4 707.2,305.4 708.1,305.3 709,305.3 710,305.3 710.9,305.3 711.8,305.3 712.7,305.3 713.6,305.2 714.6,305.2 715.5,305.2 716.4,305.2 717.3,305.2 718.2,305.2 719.2,305.2 720.1,305.2 721,305.2 721.9,305.2 722.8,305.3 723.8,305.3 724.7,305.4 725.6,305.5 726.5,305.5 727.4,305.6 728.4,305.7 729.3,305.8 730.2,306 731.1,306.1 732,306.2 733,306.3 733.9,306.5 734.8,306.6 735.7,306.7 736.6,306.8 737.6,307 738.5,307.1 739.4,307.2 740.3,307.3 741.2,307.5 742.1,307.6 743.1,307.8 744,308 744.9,308.1 745.8,308.3 746.7,308.5 747.7,308.7 748.6,308.9 749.5,309.1 750.4,309.3 751.3,309.4 752.3,309.6 753.2,309.7 754.1,309.9 755,310 755.9,310.1 756.9,310.1 757.8,310.2 758.7,310.2 759.6,310.2 760.5,310.1 761.5,310 762.4,309.9 763.3,309.8 764.2,309.6 765.1,309.4 766.1,309.2 767,308.9 767.9,308.6 768.8,308.3 769.7,307.7 770.7,306.8 771.6,305.7 772.5,304.5 773.4,303.2 774.3,302 775.3,300.8 776.2,299.7 777.1,298.5 778,297.4 778.9,296.2 779.9,295 780.8,293.7 781.7,292.5 782.6,291.2 783.5,289.9 784.5,288.6 785.4,287.2 786.3,285.8 787.2,284.4 788.1,283 789.1,281.4 790,279.8 790.9,278.2 791.8,276.5 792.7,274.7 793.7,273 794.6,271.3 795.5,269.7 796.4,268.1 797.3,266.6 798.3,265.1 799.2,263.6 800.1,262.1 801,260.7 801.9,259.2 802.9,257.9 803.8,256.5 804.7,255.3 805.6,254.2 806.5,253.2 807.5,252.4 808.4,251.6 809.3,250.8 810.2,250.1 811.1,249.5 812.1,249 813,248.8 813.9,248.5 814.8,248.4 815.7,248.2 816.6,248.2 817.6,248.2 818.5,248.4 819.4,248.5 820.3,248.8 821.2,249 822.2,249.5 823.1,250.1 824,250.8 824.9,251.6 825.8,252.4 826.8,253.2 827.7,254.2 828.6,255.3 829.5,256.5 830.4,257.9 831.4,259.2 832.3,260.7 833.2,262.1 834.1,263.6 835,265.1 836,266.6 836.9,268.1 837.8,269.7 838.7,271.3 839.6,273 840.6,274.7 841.5,276.5 842.4,278.2 843.3,279.8 844.2,281.4 845.2,283 846.1,284.4 847,285.8 847.9,287.2 848.8,288.6 849.8,289.9 850.7,291.2 851.6,292.5 852.5,293.7 853.4,295 854.4,296.2 855.3,297.4 856.2,298.5 857.1,299.7 858,300.8 859,302 859.9,303.2 860.8,304.5 861.7,305.7 862.6,306.8 863.6,307.7 864.5,308.3 865.4,308.6 866.3,308.9 867.2,309.2 868.2,309.4 869.1,309.6 870,309.8 870.9,309.9 871.8,310 872.8,310.1 873.7,310.2 874.6,310.2 875.5,310.2 876.4,310.1 877.4,310.1 878.3,310 879.2,309.9 880.1,309.7 881,309.6 882,309.4 882.9,309.3 883.8,309.1 884.7,308.9 885.6,308.7 886.6,308.5 887.5,308.3 888.4,308.1 889.3,308 890.2,307.8 891.2,307.6 892.1,307.5 893,307.3 893.9,307.2 894.8,307.1 895.7,307 896.7,306.8 897.6,306.7 898.5,306.6 899.4,306.5 900.3,306.3 901.3,306.2 902.2,306.1 903.1,306 904,305.8 904.9,305.7 905.9,305.6 906.8,305.5 907.7,305.5 908.6,305.4 909.5,305.3 910.5,305.3 911.4,305.2 912.3,305.2 913.2,305.2 914.1,305.2 915.1,305.2 916,305.2 916.9,305.2 917.8,305.2 918.7,305.2 919.7,305.2 920.6,305.3 921.5,305.3 922.4,305.3 923.3,305.3 924.3,305.3 925.2,305.3 926.1,305.4 927,305.4 927.9,305.4 928.9,305.4 929.8,305.4 930.7,305.5 931.6,305.5 932.5,305.5 933.5,305.5 934.4,305.6 935.3,305.6 936.2,305.6 937.1,305.6 938.1,305.7 939,305.7 939.9,305.7 940.8,305.7 941.7,305.8 942.7,305.8 943.6,305.8 944.5,305.8 945.4,305.9 946.3,305.9 947.3,305.9 948.2,305.9 949.1,306 950,306 950.9,306 951.9,306 952.8,306.1 953.7,306.1 954.6,306.1 955.5,306.1 956.5,306.1 957.4,306.1 958.3,306.2 959.2,306.2 960.1,306.2 961.1,306.2 962,306.2 962.9,306.2 963.8,306.2 964.7,306.2 965.7,306.2 966.6,306.2 967.5,306.3 968.4,306.3 969.3,306.3 970.3,306.3 971.2,306.3 972.1,306.3 973,306.3 973.9,306.3 974.8,306.3 975.8,306.3 976.7,306.3 977.6,306.3 978.5,306.4 979.4,306.4 980.4,306.4 981.3,306.4 982.2,306.4 983.1,306.4 984,306.4 985,306.4 985.9,306.4 986.8,306.4 987.7,306.4 988.6,306.4 989.6,306.4 990.5,306.4 991.4,306.4 992.3,306.4 993.2,306.5 994.2,306.5 995.1,306.5 996,306.5 996.9,306.5 997.8,306.5 998.8,306.5 999.7,306.5 1000.6,306.5 1001.5,306.5 1002.4,306.5 1003.4,306.5 1004.3,306.5 1005.2,306.5 1006.1,306.5 1007,306.5 1008,306.5 1008.9,306.5 1009.8,306.5" fill="none" stroke="#ff2b2b" stroke-width="3.8" stroke-dasharray="5.2 8.9" stroke-linecap="round"/><path d="M623.5,384.8 624.4,384.8 625.3,384.8 626.3,384.8 627.2,384.8 628.1,384.8 629,384.8 629.9,384.8 630.9,384.7 631.8,384.7 632.7,384.7 633.6,384.7 634.5,384.7 635.5,384.7 636.4,384.7 637.3,384.7 638.2,384.7 639.1,384.7 640.1,384.7 641,384.7 641.9,384.7 642.8,384.6 643.7,384.6 644.7,384.6 645.6,384.6 646.5,384.6 647.4,384.6 648.3,384.6 649.3,384.6 650.2,384.6 651.1,384.6 652,384.5 652.9,384.5 653.9,384.5 654.8,384.5 655.7,384.5 656.6,384.5 657.5,384.5 658.5,384.5 659.4,384.5 660.3,384.4 661.2,384.4 662.1,384.4 663,384.4 664,384.4 664.9,384.4 665.8,384.4 666.7,384.4 667.6,384.4 668.6,384.3 669.5,384.3 670.4,384.3 671.3,384.3 672.2,384.3 673.2,384.3 674.1,384.3 675,384.3 675.9,384.2 676.8,384.2 677.8,384.2 678.7,384.2 679.6,384.2 680.5,384.1 681.4,384.1 682.4,384.1 683.3,384.1 684.2,384.1 685.1,384 686,384 687,384 687.9,384 688.8,383.9 689.7,383.9 690.6,383.9 691.6,383.9 692.5,383.9 693.4,383.8 694.3,383.8 695.2,383.8 696.2,383.8 697.1,383.8 698,383.7 698.9,383.7 699.8,383.7 700.8,383.7 701.7,383.7 702.6,383.7 703.5,383.6 704.4,383.6 705.4,383.6 706.3,383.6 707.2,383.6 708.1,383.6 709,383.6 710,383.6 710.9,383.6 711.8,383.6 712.7,383.7 713.6,383.8 714.6,383.9 715.5,384 716.4,384.2 717.3,384.3 718.2,384.5 719.2,384.6 720.1,384.8 721,385 721.9,385.1 722.8,385.3 723.8,385.5 724.7,385.7 725.6,385.9 726.5,386.1 727.4,386.3 728.4,386.6 729.3,386.8 730.2,387.1 731.1,387.3 732,387.6 733,387.8 733.9,388.1 734.8,388.3 735.7,388.6 736.6,388.8 737.6,389.1 738.5,389.4 739.4,389.6 740.3,389.9 741.2,390.2 742.1,390.5 743.1,390.8 744,391.2 744.9,391.5 745.8,391.9 746.7,392.2 747.7,392.5 748.6,392.7 749.5,392.9 750.4,393.1 751.3,393.2 752.3,393.2 753.2,393.1 754.1,392.9 755,392.7 755.9,392.3 756.9,392 757.8,391.5 758.7,391 759.6,390.2 760.5,388.8 761.5,387.1 762.4,385.3 763.3,383.4 764.2,381.6 765.1,379.6 766.1,377.5 767,375.3 767.9,373.3 768.8,371.5 769.7,369.8 770.7,368.1 771.6,366.5 772.5,364.9 773.4,363.3 774.3,361.8 775.3,360.3 776.2,358.8 777.1,357.4 778,356 778.9,354.6 779.9,353.3 780.8,351.9 781.7,350.6 782.6,349.4 783.5,348.1 784.5,346.9 785.4,345.7 786.3,344.5 787.2,343.3 788.1,342.1 789.1,340.9 790,339.7 790.9,338.5 791.8,337.4 792.7,336.2 793.7,335.1 794.6,334.1 795.5,333.1 796.4,332.2 797.3,331.4 798.3,330.7 799.2,329.9 800.1,329.2 801,328.6 801.9,327.9 802.9,327.4 803.8,326.8 804.7,326.3 805.6,325.9 806.5,325.6 807.5,325.3 808.4,325 809.3,324.7 810.2,324.4 811.1,324.2 812.1,324 813,323.8 813.9,323.6 814.8,323.5 815.7,323.4 816.6,323.4 817.6,323.4 818.5,323.5 819.4,323.6 820.3,323.8 821.2,324 822.2,324.2 823.1,324.4 824,324.7 824.9,325 825.8,325.3 826.8,325.6 827.7,325.9 828.6,326.3 829.5,326.8 830.4,327.4 831.4,327.9 832.3,328.6 833.2,329.2 834.1,329.9 835,330.7 836,331.4 836.9,332.2 837.8,333.1 838.7,334.1 839.6,335.1 840.6,336.2 841.5,337.4 842.4,338.5 843.3,339.7 844.2,340.9 845.2,342.1 846.1,343.3 847,344.5 847.9,345.7 848.8,346.9 849.8,348.1 850.7,349.4 851.6,350.6 852.5,351.9 853.4,353.3 854.4,354.6 855.3,356 856.2,357.4 857.1,358.8 858,360.3 859,361.8 859.9,363.3 860.8,364.9 861.7,366.5 862.6,368.1 863.6,369.8 864.5,371.5 865.4,373.3 866.3,375.3 867.2,377.5 868.2,379.6 869.1,381.6 870,383.4 870.9,385.3 871.8,387.1 872.8,388.8 873.7,390.2 874.6,391 875.5,391.5 876.4,392 877.4,392.3 878.3,392.7 879.2,392.9 880.1,393.1 881,393.2 882,393.2 882.9,393.1 883.8,392.9 884.7,392.7 885.6,392.5 886.6,392.2 887.5,391.9 888.4,391.5 889.3,391.2 890.2,390.8 891.2,390.5 892.1,390.2 893,389.9 893.9,389.6 894.8,389.4 895.7,389.1 896.7,388.8 897.6,388.6 898.5,388.3 899.4,388.1 900.3,387.8 901.3,387.6 902.2,387.3 903.1,387.1 904,386.8 904.9,386.6 905.9,386.3 906.8,386.1 907.7,385.9 908.6,385.7 909.5,385.5 910.5,385.3 911.4,385.1 912.3,385 913.2,384.8 914.1,384.6 915.1,384.5 916,384.3 916.9,384.2 917.8,384 918.7,383.9 919.7,383.8 920.6,383.7 921.5,383.6 922.4,383.6 923.3,383.6 924.3,383.6 925.2,383.6 926.1,383.6 927,383.6 927.9,383.6 928.9,383.6 929.8,383.6 930.7,383.7 931.6,383.7 932.5,383.7 933.5,383.7 934.4,383.7 935.3,383.7 936.2,383.8 937.1,383.8 938.1,383.8 939,383.8 939.9,383.8 940.8,383.9 941.7,383.9 942.7,383.9 943.6,383.9 944.5,383.9 945.4,384 946.3,384 947.3,384 948.2,384 949.1,384.1 950,384.1 950.9,384.1 951.9,384.1 952.8,384.1 953.7,384.2 954.6,384.2 955.5,384.2 956.5,384.2 957.4,384.2 958.3,384.3 959.2,384.3 960.1,384.3 961.1,384.3 962,384.3 962.9,384.3 963.8,384.3 964.7,384.3 965.7,384.4 966.6,384.4 967.5,384.4 968.4,384.4 969.3,384.4 970.3,384.4 971.2,384.4 972.1,384.4 973,384.4 973.9,384.5 974.8,384.5 975.8,384.5 976.7,384.5 977.6,384.5 978.5,384.5 979.4,384.5 980.4,384.5 981.3,384.5 982.2,384.6 983.1,384.6 984,384.6 985,384.6 985.9,384.6 986.8,384.6 987.7,384.6 988.6,384.6 989.6,384.6 990.5,384.6 991.4,384.7 992.3,384.7 993.2,384.7 994.2,384.7 995.1,384.7 996,384.7 996.9,384.7 997.8,384.7 998.8,384.7 999.7,384.7 1000.6,384.7 1001.5,384.7 1002.4,384.7 1003.4,384.8 1004.3,384.8 1005.2,384.8 1006.1,384.8 1007,384.8 1008,384.8 1008.9,384.8 1009.8,384.8" fill="none" stroke="#ff2b2b" stroke-width="3.8" stroke-dasharray="5.2 8.9" stroke-linecap="round"/><path d="M623.5,463.8 624.4,463.7 625.3,463.6 626.3,463.5 627.2,463.4 628.1,463.3 629,463.3 629.9,463.2 630.9,463.1 631.8,463 632.7,463 633.6,462.9 634.5,462.8 635.5,462.8 636.4,462.7 637.3,462.7 638.2,462.6 639.1,462.6 640.1,462.5 641,462.5 641.9,462.4 642.8,462.4 643.7,462.4 644.7,462.3 645.6,462.3 646.5,462.3 647.4,462.2 648.3,462.2 649.3,462.2 650.2,462.2 651.1,462.1 652,462.1 652.9,462.1 653.9,462.1 654.8,462.1 655.7,462.1 656.6,462.1 657.5,462 658.5,462 659.4,462 660.3,462 661.2,462 662.1,462 663,462 664,462 664.9,462 665.8,462 666.7,462 667.6,462 668.6,462 669.5,462 670.4,462 671.3,462 672.2,462 673.2,462 674.1,462 675,462.1 675.9,462.1 676.8,462.2 677.8,462.3 678.7,462.4 679.6,462.4 680.5,462.6 681.4,462.7 682.4,462.8 683.3,462.9 684.2,463 685.1,463.2 686,463.3 687,463.5 687.9,463.6 688.8,463.8 689.7,464 690.6,464.1 691.6,464.3 692.5,464.5 693.4,464.6 694.3,464.8 695.2,465 696.2,465.2 697.1,465.3 698,465.5 698.9,465.7 699.8,465.8 700.8,466 701.7,466.2 702.6,466.3 703.5,466.5 704.4,466.7 705.4,466.9 706.3,467.1 707.2,467.4 708.1,467.6 709,467.8 710,468 710.9,468.3 711.8,468.5 712.7,468.7 713.6,469 714.6,469.2 715.5,469.4 716.4,469.6 717.3,469.8 718.2,470 719.2,470.2 720.1,470.4 721,470.6 721.9,470.8 722.8,471 723.8,471.2 724.7,471.4 725.6,471.6 726.5,471.8 727.4,472 728.4,472.1 729.3,472.3 730.2,472.5 731.1,472.6 732,472.7 733,472.7 733.9,472.8 734.8,472.8 735.7,472.8 736.6,472.7 737.6,472.6 738.5,472.5 739.4,472.3 740.3,472.1 741.2,471.9 742.1,471.6 743.1,471.4 744,471.1 744.9,470.7 745.8,470.2 746.7,469.5 747.7,468.7 748.6,467.8 749.5,467 750.4,466.1 751.3,465.1 752.3,464.1 753.2,463 754.1,461.9 755,460.7 755.9,459.4 756.9,458.2 757.8,456.8 758.7,455.5 759.6,454.1 760.5,452.5 761.5,450.8 762.4,449 763.3,447.2 764.2,445.3 765.1,443.5 766.1,441.7 767,440 767.9,438.4 768.8,437 769.7,435.6 770.7,434.3 771.6,433 772.5,431.8 773.4,430.5 774.3,429.3 775.3,428.1 776.2,426.9 777.1,425.6 778,424.3 778.9,422.9 779.9,421.5 780.8,420 781.7,418.4 782.6,416.9 783.5,415.4 784.5,413.9 785.4,412.5 786.3,411.2 787.2,410 788.1,409 789.1,407.9 790,406.9 790.9,405.9 791.8,405 792.7,404.1 793.7,403.3 794.6,402.5 795.5,401.8 796.4,401.2 797.3,400.6 798.3,400.1 799.2,399.6 800.1,399.1 801,398.6 801.9,398.2 802.9,397.8 803.8,397.5 804.7,397.2 805.6,396.9 806.5,396.8 807.5,396.7 808.4,396.6 809.3,396.5 810.2,396.4 811.1,396.3 812.1,396.3 813,396.2 813.9,396.2 814.8,396.1 815.7,396.1 816.6,396.1 817.6,396.1 818.5,396.1 819.4,396.2 820.3,396.2 821.2,396.3 822.2,396.3 823.1,396.4 824,396.5 824.9,396.6 825.8,396.7 826.8,396.8 827.7,396.9 828.6,397.2 829.5,397.5 830.4,397.8 831.4,398.2 832.3,398.6 833.2,399.1 834.1,399.6 835,400.1 836,400.6 836.9,401.2 837.8,401.8 838.7,402.5 839.6,403.3 840.6,404.1 841.5,405 842.4,405.9 843.3,406.9 844.2,407.9 845.2,409 846.1,410 847,411.2 847.9,412.5 848.8,413.9 849.8,415.4 850.7,416.9 851.6,418.4 852.5,420 853.4,421.5 854.4,422.9 855.3,424.3 856.2,425.6 857.1,426.9 858,428.1 859,429.3 859.9,430.5 860.8,431.8 861.7,433 862.6,434.3 863.6,435.6 864.5,437 865.4,438.4 866.3,440 867.2,441.7 868.2,443.5 869.1,445.3 870,447.2 870.9,449 871.8,450.8 872.8,452.5 873.7,454.1 874.6,455.5 875.5,456.8 876.4,458.2 877.4,459.4 878.3,460.7 879.2,461.9 880.1,463 881,464.1 882,465.1 882.9,466.1 883.8,467 884.7,467.8 885.6,468.7 886.6,469.5 887.5,470.2 888.4,470.7 889.3,471.1 890.2,471.4 891.2,471.6 892.1,471.9 893,472.1 893.9,472.3 894.8,472.5 895.7,472.6 896.7,472.7 897.6,472.8 898.5,472.8 899.4,472.8 900.3,472.7 901.3,472.7 902.2,472.6 903.1,472.5 904,472.3 904.9,472.1 905.9,472 906.8,471.8 907.7,471.6 908.6,471.4 909.5,471.2 910.5,471 911.4,470.8 912.3,470.6 913.2,470.4 914.1,470.2 915.1,470 916,469.8 916.9,469.6 917.8,469.4 918.7,469.2 919.7,469 920.6,468.7 921.5,468.5 922.4,468.3 923.3,468 924.3,467.8 925.2,467.6 926.1,467.4 927,467.1 927.9,466.9 928.9,466.7 929.8,466.5 930.7,466.3 931.6,466.2 932.5,466 933.5,465.8 934.4,465.7 935.3,465.5 936.2,465.3 937.1,465.2 938.1,465 939,464.8 939.9,464.6 940.8,464.5 941.7,464.3 942.7,464.1 943.6,464 944.5,463.8 945.4,463.6 946.3,463.5 947.3,463.3 948.2,463.2 949.1,463 950,462.9 950.9,462.8 951.9,462.7 952.8,462.6 953.7,462.4 954.6,462.4 955.5,462.3 956.5,462.2 957.4,462.1 958.3,462.1 959.2,462 960.1,462 961.1,462 962,462 962.9,462 963.8,462 964.7,462 965.7,462 966.6,462 967.5,462 968.4,462 969.3,462 970.3,462 971.2,462 972.1,462 973,462 973.9,462 974.8,462 975.8,462 976.7,462.1 977.6,462.1 978.5,462.1 979.4,462.1 980.4,462.1 981.3,462.1 982.2,462.1 983.1,462.2 984,462.2 985,462.2 985.9,462.2 986.8,462.3 987.7,462.3 988.6,462.3 989.6,462.4 990.5,462.4 991.4,462.4 992.3,462.5 993.2,462.5 994.2,462.6 995.1,462.6 996,462.7 996.9,462.7 997.8,462.8 998.8,462.8 999.7,462.9 1000.6,463 1001.5,463 1002.4,463.1 1003.4,463.2 1004.3,463.3 1005.2,463.3 1006.1,463.4 1007,463.5 1008,463.6 1008.9,463.7 1009.8,463.8" fill="none" stroke="#ff2b2b" stroke-width="3.8" stroke-dasharray="5.2 8.9" stroke-linecap="round"/><path d="M623.5,541.7 624.4,541.6 625.3,541.6 626.3,541.5 627.2,541.5 628.1,541.4 629,541.4 629.9,541.3 630.9,541.3 631.8,541.3 632.7,541.2 633.6,541.2 634.5,541.2 635.5,541.1 636.4,541.1 637.3,541.1 638.2,541.1 639.1,541.1 640.1,541.1 641,541 641.9,541 642.8,541 643.7,541 644.7,541 645.6,541 646.5,541 647.4,541 648.3,541 649.3,541 650.2,541 651.1,541 652,541 652.9,541 653.9,541 654.8,541.1 655.7,541.2 656.6,541.3 657.5,541.4 658.5,541.5 659.4,541.7 660.3,541.9 661.2,542 662.1,542.2 663,542.5 664,542.7 664.9,542.9 665.8,543.1 666.7,543.4 667.6,543.6 668.6,543.8 669.5,544 670.4,544.3 671.3,544.5 672.2,544.7 673.2,544.9 674.1,545.2 675,545.4 675.9,545.7 676.8,545.9 677.8,546.2 678.7,546.5 679.6,546.8 680.5,547.1 681.4,547.4 682.4,547.7 683.3,548 684.2,548.3 685.1,548.6 686,548.9 687,549.2 687.9,549.6 688.8,549.9 689.7,550.2 690.6,550.5 691.6,550.7 692.5,551 693.4,551.3 694.3,551.6 695.2,551.8 696.2,552.1 697.1,552.3 698,552.6 698.9,552.8 699.8,553.1 700.8,553.4 701.7,553.7 702.6,554 703.5,554.2 704.4,554.5 705.4,554.8 706.3,555.1 707.2,555.3 708.1,555.6 709,555.8 710,556 710.9,556.2 711.8,556.4 712.7,556.6 713.6,556.7 714.6,556.9 715.5,557 716.4,557 717.3,557.1 718.2,557.1 719.2,557 720.1,556.9 721,556.6 721.9,556.3 722.8,556 723.8,555.5 724.7,555 725.6,554.5 726.5,554 727.4,553.4 728.4,552.8 729.3,552.3 730.2,551.7 731.1,551.1 732,550.4 733,549.7 733.9,548.8 734.8,548 735.7,547.1 736.6,546.1 737.6,545.2 738.5,544.1 739.4,543.1 740.3,542 741.2,540.7 742.1,539.3 743.1,537.9 744,536.3 744.9,534.8 745.8,533.3 746.7,531.8 747.7,530.3 748.6,528.9 749.5,527.7 750.4,526.5 751.3,525.3 752.3,524.2 753.2,523.1 754.1,522 755,520.9 755.9,519.8 756.9,518.7 757.8,517.6 758.7,516.4 759.6,515.2 760.5,513.9 761.5,512.7 762.4,511.4 763.3,510.1 764.2,508.8 765.1,507.5 766.1,506.2 767,504.9 767.9,503.6 768.8,502.4 769.7,501.1 770.7,499.8 771.6,498.4 772.5,497.1 773.4,495.8 774.3,494.5 775.3,493.3 776.2,492 777.1,490.8 778,489.7 778.9,488.6 779.9,487.5 780.8,486.4 781.7,485.3 782.6,484.2 783.5,483.2 784.5,482.2 785.4,481.3 786.3,480.5 787.2,479.7 788.1,478.9 789.1,478.2 790,477.6 790.9,476.9 791.8,476.3 792.7,475.7 793.7,475.2 794.6,474.7 795.5,474.2 796.4,473.8 797.3,473.4 798.3,473.1 799.2,472.7 800.1,472.4 801,472.1 801.9,471.8 802.9,471.6 803.8,471.3 804.7,471.1 805.6,470.9 806.5,470.8 807.5,470.6 808.4,470.5 809.3,470.4 810.2,470.3 811.1,470.2 812.1,470.1 813,470 813.9,469.9 814.8,469.8 815.7,469.8 816.6,469.8 817.6,469.8 818.5,469.8 819.4,469.9 820.3,470 821.2,470.1 822.2,470.2 823.1,470.3 824,470.4 824.9,470.5 825.8,470.6 826.8,470.8 827.7,470.9 828.6,471.1 829.5,471.3 830.4,471.6 831.4,471.8 832.3,472.1 833.2,472.4 834.1,472.7 835,473.1 836,473.4 836.9,473.8 837.8,474.2 838.7,474.7 839.6,475.2 840.6,475.7 841.5,476.3 842.4,476.9 843.3,477.6 844.2,478.2 845.2,478.9 846.1,479.7 847,480.5 847.9,481.3 848.8,482.2 849.8,483.2 850.7,484.2 851.6,485.3 852.5,486.4 853.4,487.5 854.4,488.6 855.3,489.7 856.2,490.8 857.1,492 858,493.3 859,494.5 859.9,495.8 860.8,497.1 861.7,498.4 862.6,499.8 863.6,501.1 864.5,502.4 865.4,503.6 866.3,504.9 867.2,506.2 868.2,507.5 869.1,508.8 870,510.1 870.9,511.4 871.8,512.7 872.8,513.9 873.7,515.2 874.6,516.4 875.5,517.6 876.4,518.7 877.4,519.8 878.3,520.9 879.2,522 880.1,523.1 881,524.2 882,525.3 882.9,526.5 883.8,527.7 884.7,528.9 885.6,530.3 886.6,531.8 887.5,533.3 888.4,534.8 889.3,536.3 890.2,537.9 891.2,539.3 892.1,540.7 893,542 893.9,543.1 894.8,544.1 895.7,545.2 896.7,546.1 897.6,547.1 898.5,548 899.4,548.8 900.3,549.7 901.3,550.4 902.2,551.1 903.1,551.7 904,552.3 904.9,552.8 905.9,553.4 906.8,554 907.7,554.5 908.6,555 909.5,555.5 910.5,556 911.4,556.3 912.3,556.6 913.2,556.9 914.1,557 915.1,557.1 916,557.1 916.9,557 917.8,557 918.7,556.9 919.7,556.7 920.6,556.6 921.5,556.4 922.4,556.2 923.3,556 924.3,555.8 925.2,555.6 926.1,555.3 927,555.1 927.9,554.8 928.9,554.5 929.8,554.2 930.7,554 931.6,553.7 932.5,553.4 933.5,553.1 934.4,552.8 935.3,552.6 936.2,552.3 937.1,552.1 938.1,551.8 939,551.6 939.9,551.3 940.8,551 941.7,550.7 942.7,550.5 943.6,550.2 944.5,549.9 945.4,549.6 946.3,549.2 947.3,548.9 948.2,548.6 949.1,548.3 950,548 950.9,547.7 951.9,547.4 952.8,547.1 953.7,546.8 954.6,546.5 955.5,546.2 956.5,545.9 957.4,545.7 958.3,545.4 959.2,545.2 960.1,544.9 961.1,544.7 962,544.5 962.9,544.3 963.8,544 964.7,543.8 965.7,543.6 966.6,543.4 967.5,543.1 968.4,542.9 969.3,542.7 970.3,542.5 971.2,542.2 972.1,542 973,541.9 973.9,541.7 974.8,541.5 975.8,541.4 976.7,541.3 977.6,541.2 978.5,541.1 979.4,541 980.4,541 981.3,541 982.2,541 983.1,541 984,541 985,541 985.9,541 986.8,541 987.7,541 988.6,541 989.6,541 990.5,541 991.4,541 992.3,541 993.2,541.1 994.2,541.1 995.1,541.1 996,541.1 996.9,541.1 997.8,541.1 998.8,541.2 999.7,541.2 1000.6,541.2 1001.5,541.3 1002.4,541.3 1003.4,541.3 1004.3,541.4 1005.2,541.4 1006.1,541.5 1007,541.5 1008,541.6 1008.9,541.6 1009.8,541.7" fill="none" stroke="#ff2b2b" stroke-width="3.8" stroke-dasharray="5.2 8.9" stroke-linecap="round"/><path d="M623.5,621.2 624.4,621.2 625.3,621.2 626.3,621.2 627.2,621.2 628.1,621.2 629,621.2 629.9,621.2 630.9,621.2 631.8,621.2 632.7,621.3 633.6,621.3 634.5,621.3 635.5,621.3 636.4,621.3 637.3,621.3 638.2,621.3 639.1,621.3 640.1,621.4 641,621.4 641.9,621.4 642.8,621.4 643.7,621.4 644.7,621.5 645.6,621.5 646.5,621.5 647.4,621.5 648.3,621.6 649.3,621.6 650.2,621.6 651.1,621.7 652,621.7 652.9,621.7 653.9,621.8 654.8,621.9 655.7,622 656.6,622.2 657.5,622.4 658.5,622.6 659.4,622.9 660.3,623.1 661.2,623.4 662.1,623.7 663,624 664,624.3 664.9,624.6 665.8,625 666.7,625.3 667.6,625.6 668.6,625.9 669.5,626.2 670.4,626.5 671.3,626.8 672.2,627 673.2,627.3 674.1,627.6 675,627.8 675.9,628.1 676.8,628.4 677.8,628.7 678.7,629 679.6,629.3 680.5,629.6 681.4,629.9 682.4,630.2 683.3,630.5 684.2,630.8 685.1,631 686,631.3 687,631.6 687.9,631.9 688.8,632.2 689.7,632.4 690.6,632.7 691.6,632.9 692.5,633.2 693.4,633.4 694.3,633.6 695.2,633.8 696.2,634.1 697.1,634.3 698,634.5 698.9,634.7 699.8,634.9 700.8,635.1 701.7,635.3 702.6,635.5 703.5,635.8 704.4,636 705.4,636.1 706.3,636.3 707.2,636.5 708.1,636.7 709,636.8 710,636.9 710.9,637 711.8,637.1 712.7,637.2 713.6,637.2 714.6,637.2 715.5,637.1 716.4,636.8 717.3,636.4 718.2,635.9 719.2,635.4 720.1,634.7 721,634.1 721.9,633.4 722.8,632.8 723.8,632.1 724.7,631.5 725.6,630.9 726.5,630.2 727.4,629.5 728.4,628.7 729.3,627.9 730.2,627.1 731.1,626.3 732,625.5 733,624.6 733.9,623.8 734.8,622.9 735.7,622 736.6,621.1 737.6,620.1 738.5,619.2 739.4,618.3 740.3,617.4 741.2,616.4 742.1,615.4 743.1,614.4 744,613.4 744.9,612.3 745.8,611.2 746.7,610.2 747.7,609.1 748.6,608 749.5,606.8 750.4,605.7 751.3,604.6 752.3,603.4 753.2,602.3 754.1,601.2 755,600 755.9,598.9 756.9,597.8 757.8,596.6 758.7,595.5 759.6,594.4 760.5,593.2 761.5,592.1 762.4,590.9 763.3,589.7 764.2,588.5 765.1,587.3 766.1,586.1 767,584.8 767.9,583.6 768.8,582.4 769.7,581.2 770.7,580 771.6,578.9 772.5,577.7 773.4,576.6 774.3,575.5 775.3,574.4 776.2,573.3 777.1,572.3 778,571.3 778.9,570.3 779.9,569.3 780.8,568.4 781.7,567.4 782.6,566.5 783.5,565.5 784.5,564.6 785.4,563.6 786.3,562.7 787.2,561.8 788.1,561 789.1,560.1 790,559.3 790.9,558.4 791.8,557.6 792.7,556.9 793.7,556.1 794.6,555.4 795.5,554.8 796.4,554.1 797.3,553.5 798.3,552.9 799.2,552.4 800.1,551.9 801,551.4 801.9,550.9 802.9,550.5 803.8,550.1 804.7,549.6 805.6,549.2 806.5,548.7 807.5,548.3 808.4,547.7 809.3,547.1 810.2,546.5 811.1,545.9 812.1,545.3 813,544.8 813.9,544.4 814.8,544 815.7,543.8 816.6,543.7 817.6,543.8 818.5,544 819.4,544.4 820.3,544.8 821.2,545.3 822.2,545.9 823.1,546.5 824,547.1 824.9,547.7 825.8,548.3 826.8,548.7 827.7,549.2 828.6,549.6 829.5,550.1 830.4,550.5 831.4,550.9 832.3,551.4 833.2,551.9 834.1,552.4 835,552.9 836,553.5 836.9,554.1 837.8,554.8 838.7,555.4 839.6,556.1 840.6,556.9 841.5,557.6 842.4,558.4 843.3,559.3 844.2,560.1 845.2,561 846.1,561.8 847,562.7 847.9,563.6 848.8,564.6 849.8,565.5 850.7,566.5 851.6,567.4 852.5,568.4 853.4,569.3 854.4,570.3 855.3,571.3 856.2,572.3 857.1,573.3 858,574.4 859,575.5 859.9,576.6 860.8,577.7 861.7,578.9 862.6,580 863.6,581.2 864.5,582.4 865.4,583.6 866.3,584.8 867.2,586.1 868.2,587.3 869.1,588.5 870,589.7 870.9,590.9 871.8,592.1 872.8,593.2 873.7,594.4 874.6,595.5 875.5,596.6 876.4,597.8 877.4,598.9 878.3,600 879.2,601.2 880.1,602.3 881,603.4 882,604.6 882.9,605.7 883.8,606.8 884.7,608 885.6,609.1 886.6,610.2 887.5,611.2 888.4,612.3 889.3,613.4 890.2,614.4 891.2,615.4 892.1,616.4 893,617.4 893.9,618.3 894.8,619.2 895.7,620.1 896.7,621.1 897.6,622 898.5,622.9 899.4,623.8 900.3,624.6 901.3,625.5 902.2,626.3 903.1,627.1 904,627.9 904.9,628.7 905.9,629.5 906.8,630.2 907.7,630.9 908.6,631.5 909.5,632.1 910.5,632.8 911.4,633.4 912.3,634.1 913.2,634.7 914.1,635.4 915.1,635.9 916,636.4 916.9,636.8 917.8,637.1 918.7,637.2 919.7,637.2 920.6,637.2 921.5,637.1 922.4,637 923.3,636.9 924.3,636.8 925.2,636.7 926.1,636.5 927,636.3 927.9,636.1 928.9,636 929.8,635.8 930.7,635.5 931.6,635.3 932.5,635.1 933.5,634.9 934.4,634.7 935.3,634.5 936.2,634.3 937.1,634.1 938.1,633.8 939,633.6 939.9,633.4 940.8,633.2 941.7,632.9 942.7,632.7 943.6,632.4 944.5,632.2 945.4,631.9 946.3,631.6 947.3,631.3 948.2,631 949.1,630.8 950,630.5 950.9,630.2 951.9,629.9 952.8,629.6 953.7,629.3 954.6,629 955.5,628.7 956.5,628.4 957.4,628.1 958.3,627.8 959.2,627.6 960.1,627.3 961.1,627 962,626.8 962.9,626.5 963.8,626.2 964.7,625.9 965.7,625.6 966.6,625.3 967.5,625 968.4,624.6 969.3,624.3 970.3,624 971.2,623.7 972.1,623.4 973,623.1 973.9,622.9 974.8,622.6 975.8,622.4 976.7,622.2 977.6,622 978.5,621.9 979.4,621.8 980.4,621.7 981.3,621.7 982.2,621.7 983.1,621.6 984,621.6 985,621.6 985.9,621.5 986.8,621.5 987.7,621.5 988.6,621.5 989.6,621.4 990.5,621.4 991.4,621.4 992.3,621.4 993.2,621.4 994.2,621.3 995.1,621.3 996,621.3 996.9,621.3 997.8,621.3 998.8,621.3 999.7,621.3 1000.6,621.3 1001.5,621.2 1002.4,621.2 1003.4,621.2 1004.3,621.2 1005.2,621.2 1006.1,621.2 1007,621.2 1008,621.2 1008.9,621.2 1009.8,621.2" fill="none" stroke="#ff2b2b" stroke-width="3.8" stroke-dasharray="5.2 8.9" stroke-linecap="round"/><path d="M623.5,700.4 624.4,700.4 625.3,700.4 626.3,700.4 627.2,700.4 628.1,700.4 629,700.4 629.9,700.4 630.9,700.4 631.8,700.5 632.7,700.5 633.6,700.5 634.5,700.5 635.5,700.5 636.4,700.5 637.3,700.5 638.2,700.6 639.1,700.6 640.1,700.6 641,700.6 641.9,700.6 642.8,700.7 643.7,700.7 644.7,700.7 645.6,700.8 646.5,700.8 647.4,700.8 648.3,700.8 649.3,700.9 650.2,700.9 651.1,700.9 652,701 652.9,701 653.9,701.1 654.8,701.2 655.7,701.3 656.6,701.4 657.5,701.6 658.5,701.8 659.4,701.9 660.3,702.1 661.2,702.4 662.1,702.6 663,702.8 664,703.1 664.9,703.3 665.8,703.6 666.7,703.8 667.6,704.1 668.6,704.4 669.5,704.6 670.4,704.8 671.3,705.1 672.2,705.3 673.2,705.5 674.1,705.8 675,706 675.9,706.3 676.8,706.5 677.8,706.8 678.7,707.1 679.6,707.3 680.5,707.6 681.4,707.9 682.4,708.2 683.3,708.4 684.2,708.7 685.1,709 686,709.3 687,709.6 687.9,709.8 688.8,710.1 689.7,710.4 690.6,710.7 691.6,711 692.5,711.3 693.4,711.5 694.3,711.8 695.2,712.1 696.2,712.4 697.1,712.7 698,713 698.9,713.3 699.8,713.7 700.8,714 701.7,714.4 702.6,714.8 703.5,715.1 704.4,715.4 705.4,715.7 706.3,716 707.2,716.2 708.1,716.4 709,716.5 710,716.6 710.9,716.6 711.8,716.5 712.7,716.2 713.6,715.9 714.6,715.5 715.5,715 716.4,714.5 717.3,713.9 718.2,713.4 719.2,712.8 720.1,712.3 721,711.8 721.9,711.2 722.8,710.7 723.8,710.1 724.7,709.4 725.6,708.8 726.5,708.1 727.4,707.4 728.4,706.7 729.3,706 730.2,705.3 731.1,704.5 732,703.7 733,702.9 733.9,702.1 734.8,701.2 735.7,700.3 736.6,699.5 737.6,698.6 738.5,697.6 739.4,696.7 740.3,695.7 741.2,694.7 742.1,693.6 743.1,692.4 744,691.2 744.9,690 745.8,688.7 746.7,687.4 747.7,686 748.6,684.7 749.5,683.3 750.4,681.9 751.3,680.5 752.3,679.1 753.2,677.7 754.1,676.3 755,674.9 755.9,673.5 756.9,672.2 757.8,670.9 758.7,669.6 759.6,668.3 760.5,667.1 761.5,665.8 762.4,664.5 763.3,663.2 764.2,661.8 765.1,660.5 766.1,659.2 767,657.9 767.9,656.6 768.8,655.3 769.7,654.1 770.7,652.8 771.6,651.6 772.5,650.4 773.4,649.3 774.3,648.1 775.3,647 776.2,646 777.1,645 778,644 778.9,643.1 779.9,642.1 780.8,641.2 781.7,640.2 782.6,639.3 783.5,638.4 784.5,637.5 785.4,636.6 786.3,635.8 787.2,635 788.1,634.3 789.1,633.6 790,633 790.9,632.5 791.8,632 792.7,631.6 793.7,631.3 794.6,631 795.5,630.7 796.4,630.5 797.3,630.3 798.3,630.1 799.2,630 800.1,629.8 801,629.6 801.9,629.4 802.9,629.1 803.8,628.8 804.7,628.5 805.6,628 806.5,627.5 807.5,626.7 808.4,625.9 809.3,625 810.2,624.1 811.1,623.2 812.1,622.3 813,621.1 813.9,619.7 814.8,618.4 815.7,617.4 816.6,617 817.6,617.4 818.5,618.4 819.4,619.7 820.3,621.1 821.2,622.3 822.2,623.2 823.1,624.1 824,625 824.9,625.9 825.8,626.7 826.8,627.5 827.7,628 828.6,628.5 829.5,628.8 830.4,629.1 831.4,629.4 832.3,629.6 833.2,629.8 834.1,630 835,630.1 836,630.3 836.9,630.5 837.8,630.7 838.7,631 839.6,631.3 840.6,631.6 841.5,632 842.4,632.5 843.3,633 844.2,633.6 845.2,634.3 846.1,635 847,635.8 847.9,636.6 848.8,637.5 849.8,638.4 850.7,639.3 851.6,640.2 852.5,641.2 853.4,642.1 854.4,643.1 855.3,644 856.2,645 857.1,646 858,647 859,648.1 859.9,649.3 860.8,650.4 861.7,651.6 862.6,652.8 863.6,654.1 864.5,655.3 865.4,656.6 866.3,657.9 867.2,659.2 868.2,660.5 869.1,661.8 870,663.2 870.9,664.5 871.8,665.8 872.8,667.1 873.7,668.3 874.6,669.6 875.5,670.9 876.4,672.2 877.4,673.5 878.3,674.9 879.2,676.3 880.1,677.7 881,679.1 882,680.5 882.9,681.9 883.8,683.3 884.7,684.7 885.6,686 886.6,687.4 887.5,688.7 888.4,690 889.3,691.2 890.2,692.4 891.2,693.6 892.1,694.7 893,695.7 893.9,696.7 894.8,697.6 895.7,698.6 896.7,699.5 897.6,700.3 898.5,701.2 899.4,702.1 900.3,702.9 901.3,703.7 902.2,704.5 903.1,705.3 904,706 904.9,706.7 905.9,707.4 906.8,708.1 907.7,708.8 908.6,709.4 909.5,710.1 910.5,710.7 911.4,711.2 912.3,711.8 913.2,712.3 914.1,712.8 915.1,713.4 916,713.9 916.9,714.5 917.8,715 918.7,715.5 919.7,715.9 920.6,716.2 921.5,716.5 922.4,716.6 923.3,716.6 924.3,716.5 925.2,716.4 926.1,716.2 927,716 927.9,715.7 928.9,715.4 929.8,715.1 930.7,714.8 931.6,714.4 932.5,714 933.5,713.7 934.4,713.3 935.3,713 936.2,712.7 937.1,712.4 938.1,712.1 939,711.8 939.9,711.5 940.8,711.3 941.7,711 942.7,710.7 943.6,710.4 944.5,710.1 945.4,709.8 946.3,709.6 947.3,709.3 948.2,709 949.1,708.7 950,708.4 950.9,708.2 951.9,707.9 952.8,707.6 953.7,707.3 954.6,707.1 955.5,706.8 956.5,706.5 957.4,706.3 958.3,706 959.2,705.8 960.1,705.5 961.1,705.3 962,705.1 962.9,704.8 963.8,704.6 964.7,704.4 965.7,704.1 966.6,703.8 967.5,703.6 968.4,703.3 969.3,703.1 970.3,702.8 971.2,702.6 972.1,702.4 973,702.1 973.9,701.9 974.8,701.8 975.8,701.6 976.7,701.4 977.6,701.3 978.5,701.2 979.4,701.1 980.4,701 981.3,701 982.2,700.9 983.1,700.9 984,700.9 985,700.8 985.9,700.8 986.8,700.8 987.7,700.8 988.6,700.7 989.6,700.7 990.5,700.7 991.4,700.6 992.3,700.6 993.2,700.6 994.2,700.6 995.1,700.6 996,700.5 996.9,700.5 997.8,700.5 998.8,700.5 999.7,700.5 1000.6,700.5 1001.5,700.5 1002.4,700.4 1003.4,700.4 1004.3,700.4 1005.2,700.4 1006.1,700.4 1007,700.4 1008,700.4 1008.9,700.4 1009.8,700.4" fill="none" stroke="#ff2b2b" stroke-width="3.8" stroke-dasharray="5.2 8.9" stroke-linecap="round"/><text x="992.2" y="101.2" font-size="22" text-anchor="end">10.4 K</text><text x="992.2" y="148.7" font-size="22" text-anchor="end">10.2 K</text><text x="992.2" y="218.7" font-size="22" text-anchor="end">9.8 K</text><text x="992.2" y="289.2" font-size="22" text-anchor="end">9.4 K</text><text x="992.2" y="368.7" font-size="22" text-anchor="end">9.0 K</text><text x="992.2" y="448.2" font-size="22" text-anchor="end">8.0 K</text><text x="992.2" y="527.2" font-size="22" text-anchor="end">6.0 K</text><text x="992.2" y="606.7" font-size="22" text-anchor="end">4.0 K</text><text x="992.2" y="685.9" font-size="22" text-anchor="end">2.0 K</text><line x1="1236.53" y1="60.5" x2="1236.53" y2="763.0" stroke="#c4c4c4" stroke-width="1.2" stroke-dasharray="2 2"/><line x1="1333.35" y1="60.5" x2="1333.35" y2="763.0" stroke="#c4c4c4" stroke-width="1.2" stroke-dasharray="2 2"/><line x1="1430.17" y1="60.5" x2="1430.17" y2="763.0" stroke="#c4c4c4" stroke-width="1.2" stroke-dasharray="2 2"/><path d="M1139.7,95.5 1140.6,95.4 1141.5,95.3 1142.5,95.2 1143.4,95.2 1144.3,94.9 1145.2,95 1146.2,95.2 1147.1,95.4 1148,95.8 1148.9,95.5 1149.8,95.6 1150.8,95.1 1151.7,95.1 1152.6,95.2 1153.5,95.3 1154.5,95.3 1155.4,95 1156.3,94.7 1157.2,94.7 1158.1,94.9 1159.1,94.9 1160,95 1160.9,95.5 1161.8,95.6 1162.8,95.9 1163.7,95.5 1164.6,95.4 1165.5,94.8 1166.4,94.9 1167.4,95 1168.3,95.7 1169.2,95.4 1170.1,95.2 1171.1,94.8 1172,95 1172.9,95.1 1173.8,95 1174.7,95.1 1175.7,94.9 1176.6,94.9 1177.5,94.9 1178.4,95.3 1179.4,95.3 1180.3,95 1181.2,94.7 1182.1,94.8 1183,95.1 1184,95.4 1184.9,95.2 1185.8,95.2 1186.7,94.9 1187.7,95.3 1188.6,95.4 1189.5,95.5 1190.4,95.1 1191.3,95.2 1192.3,95 1193.2,95.3 1194.1,95.3 1195,95.6 1196,95.5 1196.9,95.4 1197.8,95.4 1198.7,95.3 1199.6,95.5 1200.6,95.1 1201.5,95.4 1202.4,95.2 1203.3,95.6 1204.2,95.5 1205.2,95.4 1206.1,95.2 1207,95.1 1207.9,95.3 1208.9,95.1 1209.8,94.9 1210.7,95 1211.6,95.2 1212.5,95.3 1213.5,95.2 1214.4,95 1215.3,95.2 1216.2,94.9 1217.2,95.2 1218.1,95.1 1219,95.4 1219.9,95 1220.8,94.8 1221.8,94.5 1222.7,94.8 1223.6,94.9 1224.5,94.9 1225.5,94.9 1226.4,94.9 1227.3,95.2 1228.2,95.3 1229.1,95.3 1230.1,95.4 1231,95.2 1231.9,95.4 1232.8,95 1233.8,95.2 1234.7,94.9 1235.6,95.2 1236.5,95.1 1237.4,95.4 1238.4,95.2 1239.3,95.3 1240.2,95.2 1241.1,95.7 1242.1,95.4 1243,95.6 1243.9,95.4 1244.8,95.6 1245.7,95.4 1246.7,95.5 1247.6,95.6 1248.5,95.5 1249.4,95.1 1250.4,95 1251.3,95.1 1252.2,95.3 1253.1,95.2 1254,94.8 1255,95 1255.9,94.9 1256.8,95.3 1257.7,95.4 1258.7,95.8 1259.6,95.9 1260.5,95.9 1261.4,95.6 1262.3,95.7 1263.3,95.3 1264.2,95.1 1265.1,95 1266,95.2 1267,95.2 1267.9,94.9 1268.8,95.1 1269.7,95.4 1270.6,95.6 1271.6,95.4 1272.5,95.3 1273.4,95.2 1274.3,95.3 1275.3,95.4 1276.2,95.1 1277.1,95.3 1278,95.3 1278.9,95.4 1279.9,95.2 1280.8,94.8 1281.7,95 1282.6,95 1283.6,95.4 1284.5,95.2 1285.4,95.4 1286.3,95.4 1287.2,95.7 1288.2,95.6 1289.1,95.6 1290,95.2 1290.9,95.5 1291.9,95.4 1292.8,95.4 1293.7,94.9 1294.6,95 1295.5,95.1 1296.5,95.4 1297.4,95.2 1298.3,95 1299.2,95.1 1300.2,94.8 1301.1,95 1302,94.5 1302.9,95 1303.8,94.8 1304.8,95.2 1305.7,95 1306.6,95.2 1307.5,94.9 1308.5,94.9 1309.4,94.9 1310.3,95.1 1311.2,95.3 1312.1,95.3 1313.1,95.7 1314,95.3 1314.9,95.2 1315.8,94.8 1316.8,95.1 1317.7,95.2 1318.6,95.5 1319.5,95.6 1320.4,95.3 1321.4,94.8 1322.3,94.4 1323.2,94.5 1324.1,94.4 1325.1,94.4 1326,94.1 1326.9,94.2 1327.8,94.1 1328.7,94.4 1329.7,94.4 1330.6,94.2 1331.5,94.1 1332.4,93.9 1333.3,94.1 1334.3,94 1335.2,94.3 1336.1,94.1 1337,94.2 1338,94.2 1338.9,94.3 1339.8,94.4 1340.7,94.6 1341.6,94.6 1342.6,94.7 1343.5,94.7 1344.4,94.9 1345.3,95.1 1346.3,95.1 1347.2,95 1348.1,94.7 1349,94.9 1349.9,95.2 1350.9,95.4 1351.8,95.2 1352.7,94.7 1353.6,94.7 1354.6,94.4 1355.5,94.7 1356.4,94.8 1357.3,95 1358.2,95.1 1359.2,95.2 1360.1,95 1361,94.9 1361.9,95 1362.9,95.5 1363.8,95.5 1364.7,95.4 1365.6,95.3 1366.5,95.5 1367.5,95.4 1368.4,95.5 1369.3,95.7 1370.2,95.7 1371.2,95.4 1372.1,94.9 1373,95 1373.9,95.4 1374.8,95.6 1375.8,95.5 1376.7,95.2 1377.6,95.6 1378.5,95.4 1379.5,95.6 1380.4,95.2 1381.3,95.4 1382.2,95.4 1383.1,95.7 1384.1,95.5 1385,95.4 1385.9,95.1 1386.8,95 1387.8,95.2 1388.7,95.3 1389.6,95.2 1390.5,95.1 1391.4,95 1392.4,95 1393.3,94.9 1394.2,95 1395.1,95.1 1396.1,95.1 1397,94.9 1397.9,94.8 1398.8,95.2 1399.7,95.2 1400.7,95.5 1401.6,95.2 1402.5,95.4 1403.4,95 1404.4,95.1 1405.3,95 1406.2,95.7 1407.1,95.4 1408,95.4 1409,95.2 1409.9,95.2 1410.8,95.4 1411.7,95.4 1412.7,95.3 1413.6,95.1 1414.5,94.9 1415.4,95.2 1416.3,95.4 1417.3,95.4 1418.2,95.4 1419.1,95.6 1420,95.7 1421,95.8 1421.9,95.5 1422.8,95.6 1423.7,95.1 1424.6,95.3 1425.6,95.4 1426.5,95.5 1427.4,95.2 1428.3,95.1 1429.3,95.1 1430.2,95.4 1431.1,95.1 1432,95.2 1432.9,95 1433.9,95.4 1434.8,95.3 1435.7,95.4 1436.6,95.3 1437.6,95.4 1438.5,95.7 1439.4,95.6 1440.3,95.5 1441.2,95.2 1442.2,95.2 1443.1,95 1444,95 1444.9,95.3 1445.9,95.5 1446.8,95.5 1447.7,95.2 1448.6,95 1449.5,95.2 1450.5,95.2 1451.4,95.2 1452.3,95.4 1453.2,95.6 1454.2,95.7 1455.1,95.4 1456,95.4 1456.9,95.7 1457.8,95.8 1458.8,95.6 1459.7,95.4 1460.6,95.6 1461.5,95.7 1462.4,95.6 1463.4,95.4 1464.3,95.2 1465.2,95.2 1466.1,95.3 1467.1,95.3 1468,95.1 1468.9,95.1 1469.8,95 1470.7,95.2 1471.7,95.4 1472.6,95.6 1473.5,95.8 1474.4,95.3 1475.4,95.4 1476.3,95 1477.2,95.4 1478.1,95.1 1479,95.4 1480,95.2 1480.9,95.3 1481.8,94.9 1482.7,95.3 1483.7,95 1484.6,95.6 1485.5,95.3 1486.4,95.5 1487.3,95.1 1488.3,95.3 1489.2,95.3 1490.1,95.2 1491,95.1 1492,95.1 1492.9,95.3 1493.8,95.3 1494.7,95.3 1495.6,95.1 1496.6,95.1 1497.5,95.2 1498.4,95.3 1499.3,95.1 1500.3,95.1 1501.2,95.1 1502.1,95.3 1503,95.6 1503.9,95.6 1504.9,95.3 1505.8,95.1 1506.7,95 1507.6,95.1 1508.6,94.9 1509.5,95.1 1510.4,94.9 1511.3,94.9 1512.2,94.7 1513.2,95 1514.1,95.2 1515,95.3 1515.9,95.2 1516.9,95 1517.8,94.8 1518.7,95 1519.6,95 1520.5,95.2 1521.5,95 1522.4,94.9 1523.3,94.7 1524.2,94.8 1525.2,95.3 1526.1,95.5 1527,95.4" fill="none" stroke="#8a8a8a" stroke-width="1.1" stroke-linejoin="round"/><path d="M1139.7,175.1 1140.6,175 1141.5,174.9 1142.5,174.8 1143.4,174.8 1144.3,174.6 1145.2,174.8 1146.2,174.5 1147.1,174.8 1148,174.8 1148.9,175.2 1149.8,175.1 1150.8,174.9 1151.7,174.8 1152.6,174.8 1153.5,174.6 1154.5,174.6 1155.4,174.4 1156.3,175 1157.2,175.1 1158.1,175.4 1159.1,175 1160,174.5 1160.9,174.2 1161.8,174.3 1162.8,175.1 1163.7,175 1164.6,175.1 1165.5,174.7 1166.4,174.9 1167.4,174.9 1168.3,174.9 1169.2,175 1170.1,175 1171.1,175 1172,175 1172.9,174.8 1173.8,175 1174.7,174.8 1175.7,174.8 1176.6,174.9 1177.5,175.3 1178.4,175.5 1179.4,175.5 1180.3,175.1 1181.2,175.3 1182.1,175.2 1183,175.4 1184,175 1184.9,174.8 1185.8,174.7 1186.7,175 1187.7,175 1188.6,174.8 1189.5,174.7 1190.4,174.9 1191.3,174.8 1192.3,174.6 1193.2,174.5 1194.1,174.7 1195,175 1196,175.1 1196.9,175.3 1197.8,175 1198.7,175 1199.6,174.7 1200.6,174.9 1201.5,175.1 1202.4,174.9 1203.3,174.8 1204.2,174.5 1205.2,174.8 1206.1,174.8 1207,175 1207.9,175.1 1208.9,175.2 1209.8,175 1210.7,174.8 1211.6,174.8 1212.5,175.3 1213.5,175.4 1214.4,175.3 1215.3,175.5 1216.2,175.6 1217.2,175.8 1218.1,175.2 1219,174.8 1219.9,174.7 1220.8,174.9 1221.8,175 1222.7,175.1 1223.6,175.1 1224.5,174.9 1225.5,175.1 1226.4,174.8 1227.3,175.3 1228.2,174.9 1229.1,174.9 1230.1,174.6 1231,174.8 1231.9,174.9 1232.8,175 1233.8,175 1234.7,175.1 1235.6,175.3 1236.5,174.9 1237.4,175 1238.4,174.9 1239.3,175.1 1240.2,175 1241.1,175.3 1242.1,175 1243,175.3 1243.9,175.1 1244.8,175.3 1245.7,175.2 1246.7,175.3 1247.6,175.4 1248.5,175.3 1249.4,175.5 1250.4,175.6 1251.3,175.5 1252.2,175.5 1253.1,175.6 1254,175.8 1255,175.4 1255.9,175.4 1256.8,175.4 1257.7,175.5 1258.7,175.3 1259.6,175.2 1260.5,175.5 1261.4,175.7 1262.3,176.1 1263.3,175.7 1264.2,175.8 1265.1,175.3 1266,175.3 1267,174.7 1267.9,175.2 1268.8,175.4 1269.7,175.9 1270.6,175.6 1271.6,175.5 1272.5,175.4 1273.4,175.7 1274.3,175.9 1275.3,175.8 1276.2,175.9 1277.1,175.9 1278,176.1 1278.9,175.9 1279.9,175.7 1280.8,175.5 1281.7,175.4 1282.6,175.4 1283.6,175.4 1284.5,175.6 1285.4,175.6 1286.3,175.8 1287.2,175.7 1288.2,176.1 1289.1,176 1290,176 1290.9,175.6 1291.9,175.7 1292.8,175.9 1293.7,176 1294.6,176 1295.5,176 1296.5,176 1297.4,175.9 1298.3,175.6 1299.2,175.7 1300.2,175.4 1301.1,175.4 1302,175.4 1302.9,175.7 1303.8,175.6 1304.8,175.5 1305.7,175.7 1306.6,175.8 1307.5,175.8 1308.5,175.4 1309.4,175.1 1310.3,174.9 1311.2,174.7 1312.1,174.5 1313.1,174.6 1314,174.3 1314.9,174.2 1315.8,173.8 1316.8,173.7 1317.7,173.7 1318.6,173.5 1319.5,173.4 1320.4,173.1 1321.4,172.7 1322.3,172.3 1323.2,171.7 1324.1,171.3 1325.1,170.8 1326,170.3 1326.9,169.6 1327.8,168.8 1328.7,167.9 1329.7,166.8 1330.6,165.6 1331.5,165 1332.4,164.3 1333.3,164.3 1334.3,164.4 1335.2,164.9 1336.1,165.7 1337,166.8 1338,168.2 1338.9,169 1339.8,169.5 1340.7,170 1341.6,170.6 1342.6,171.1 1343.5,171.5 1344.4,172 1345.3,172.6 1346.3,172.5 1347.2,173 1348.1,173.2 1349,173.7 1349.9,173.7 1350.9,173.9 1351.8,174 1352.7,174.6 1353.6,174.8 1354.6,175 1355.5,174.8 1356.4,174.8 1357.3,175.3 1358.2,175.4 1359.2,175.5 1360.1,175.4 1361,175.5 1361.9,175.4 1362.9,175.6 1363.8,175.6 1364.7,175.8 1365.6,175.8 1366.5,175.8 1367.5,176 1368.4,176.1 1369.3,176.2 1370.2,175.8 1371.2,175.9 1372.1,175.8 1373,176 1373.9,175.7 1374.8,175.6 1375.8,175.9 1376.7,176.1 1377.6,176.1 1378.5,175.9 1379.5,175.8 1380.4,175.9 1381.3,175.8 1382.2,175.7 1383.1,175.8 1384.1,175.9 1385,176.1 1385.9,175.8 1386.8,175.8 1387.8,175.7 1388.7,175.8 1389.6,175.9 1390.5,175.8 1391.4,175.5 1392.4,175.5 1393.3,175.5 1394.2,175.6 1395.1,175.6 1396.1,175.7 1397,176.2 1397.9,176.1 1398.8,176 1399.7,175.5 1400.7,175.8 1401.6,175.7 1402.5,176 1403.4,175.6 1404.4,175.5 1405.3,175.2 1406.2,175.2 1407.1,175.1 1408,175.5 1409,175.3 1409.9,175.5 1410.8,175.4 1411.7,175.4 1412.7,175.2 1413.6,175.3 1414.5,175.5 1415.4,175.8 1416.3,175.5 1417.3,175.3 1418.2,175.1 1419.1,175.5 1420,175.5 1421,175.2 1421.9,174.9 1422.8,174.6 1423.7,175 1424.6,175.1 1425.6,175.5 1426.5,174.9 1427.4,174.9 1428.3,174.6 1429.3,175 1430.2,175.2 1431.1,175.1 1432,175.4 1432.9,175.2 1433.9,175.5 1434.8,175.2 1435.7,175.2 1436.6,175.3 1437.6,175 1438.5,175 1439.4,174.9 1440.3,175.5 1441.2,175.4 1442.2,175.3 1443.1,175.1 1444,174.8 1444.9,174.9 1445.9,175.1 1446.8,175.1 1447.7,174.9 1448.6,174.7 1449.5,174.8 1450.5,175 1451.4,175.2 1452.3,175.1 1453.2,175.1 1454.2,174.9 1455.1,175.1 1456,174.9 1456.9,175 1457.8,174.8 1458.8,174.8 1459.7,174.9 1460.6,174.8 1461.5,175 1462.4,174.7 1463.4,174.8 1464.3,174.9 1465.2,175.2 1466.1,175.3 1467.1,175.2 1468,174.9 1468.9,174.5 1469.8,174.5 1470.7,174.5 1471.7,174.9 1472.6,175.1 1473.5,175 1474.4,174.9 1475.4,174.8 1476.3,175 1477.2,175.1 1478.1,175 1479,175.1 1480,174.9 1480.9,174.9 1481.8,174.7 1482.7,174.8 1483.7,175.2 1484.6,175.2 1485.5,175.5 1486.4,175.1 1487.3,175 1488.3,175 1489.2,174.8 1490.1,174.9 1491,174.7 1492,174.6 1492.9,174.9 1493.8,174.9 1494.7,175.2 1495.6,174.8 1496.6,174.8 1497.5,174.8 1498.4,175.1 1499.3,175 1500.3,174.9 1501.2,174.9 1502.1,174.9 1503,174.8 1503.9,174.7 1504.9,174.7 1505.8,175.1 1506.7,175.2 1507.6,175.3 1508.6,175.3 1509.5,175.1 1510.4,175 1511.3,174.8 1512.2,174.8 1513.2,174.7 1514.1,174.6 1515,174.6 1515.9,174.4 1516.9,174.7 1517.8,174.7 1518.7,174.7 1519.6,174.7 1520.5,174.6 1521.5,175 1522.4,175.1 1523.3,175 1524.2,174.9 1525.2,174.6 1526.1,174.9 1527,175" fill="none" stroke="#8a8a8a" stroke-width="1.1" stroke-linejoin="round"/><path d="M1139.7,255.1 1140.6,255 1141.5,255 1142.5,254.8 1143.4,255 1144.3,254.8 1145.2,254.7 1146.2,254.8 1147.1,254.7 1148,254.8 1148.9,255 1149.8,255 1150.8,254.9 1151.7,254.6 1152.6,254.5 1153.5,254.6 1154.5,254.3 1155.4,254.4 1156.3,254.3 1157.2,254.3 1158.1,254.7 1159.1,254.8 1160,255.1 1160.9,254.9 1161.8,254.6 1162.8,254.5 1163.7,254.4 1164.6,254.6 1165.5,254.7 1166.4,255.1 1167.4,255.1 1168.3,254.8 1169.2,254.8 1170.1,254.7 1171.1,254.9 1172,254.7 1172.9,254.6 1173.8,254.5 1174.7,254.6 1175.7,255 1176.6,255.1 1177.5,254.8 1178.4,254.8 1179.4,254.6 1180.3,254.8 1181.2,254.9 1182.1,254.8 1183,255 1184,255 1184.9,254.9 1185.8,254.7 1186.7,254.5 1187.7,254.6 1188.6,254.8 1189.5,255.1 1190.4,255.4 1191.3,255.4 1192.3,255.3 1193.2,255 1194.1,255.1 1195,254.9 1196,255.2 1196.9,255 1197.8,255 1198.7,254.7 1199.6,254.9 1200.6,255.1 1201.5,255.4 1202.4,255 1203.3,254.9 1204.2,254.7 1205.2,255.1 1206.1,255.1 1207,255.3 1207.9,255.4 1208.9,255.5 1209.8,255.1 1210.7,254.8 1211.6,255 1212.5,255.4 1213.5,255.4 1214.4,255.1 1215.3,255.1 1216.2,255.3 1217.2,255.3 1218.1,255.3 1219,255.4 1219.9,255.9 1220.8,255.9 1221.8,255.6 1222.7,255.5 1223.6,255.4 1224.5,255.8 1225.5,255.9 1226.4,255.8 1227.3,255.6 1228.2,255.5 1229.1,255.6 1230.1,255.9 1231,255.9 1231.9,256.2 1232.8,256.1 1233.8,256.1 1234.7,256.1 1235.6,256.1 1236.5,256.1 1237.4,256.4 1238.4,256.2 1239.3,256.2 1240.2,256.3 1241.1,256.5 1242.1,256.6 1243,256.7 1243.9,256.7 1244.8,256.6 1245.7,256.3 1246.7,256.4 1247.6,256.7 1248.5,256.6 1249.4,256.6 1250.4,256.5 1251.3,256.7 1252.2,256.7 1253.1,256.9 1254,256.9 1255,257.2 1255.9,257.1 1256.8,257.3 1257.7,257.1 1258.7,257 1259.6,257 1260.5,257.1 1261.4,257.3 1262.3,257.2 1263.3,257.6 1264.2,257.8 1265.1,258.1 1266,257.8 1267,257.8 1267.9,257.8 1268.8,258 1269.7,258.2 1270.6,258.4 1271.6,258.4 1272.5,258.7 1273.4,259 1274.3,259.1 1275.3,258.9 1276.2,259 1277.1,259.4 1278,259.9 1278.9,260.2 1279.9,260.4 1280.8,260.5 1281.7,260.7 1282.6,261.1 1283.6,261.3 1284.5,261.2 1285.4,261.4 1286.3,261.8 1287.2,262.3 1288.2,262.9 1289.1,262.8 1290,262.9 1290.9,262.7 1291.9,263 1292.8,263.4 1293.7,263.8 1294.6,263.8 1295.5,264 1296.5,263.9 1297.4,263.4 1298.3,263.1 1299.2,262.9 1300.2,262.5 1301.1,261.4 1302,260.2 1302.9,259.3 1303.8,258.4 1304.8,257.4 1305.7,256 1306.6,255.1 1307.5,254.2 1308.5,253.1 1309.4,251.9 1310.3,250.4 1311.2,249.4 1312.1,247.8 1313.1,245.9 1314,243.9 1314.9,242.4 1315.8,240.7 1316.8,238.7 1317.7,236.9 1318.6,235 1319.5,233.1 1320.4,230.9 1321.4,228.7 1322.3,226.9 1323.2,225.1 1324.1,223.3 1325.1,221.1 1326,218.6 1326.9,216.6 1327.8,215.3 1328.7,213.8 1329.7,212.3 1330.6,210.2 1331.5,207.9 1332.4,205.5 1333.3,204.2 1334.3,205.7 1335.2,208 1336.1,210 1337,211.5 1338,213 1338.9,214.7 1339.8,216.7 1340.7,218.7 1341.6,220.7 1342.6,222.4 1343.5,224.8 1344.4,226.9 1345.3,228.8 1346.3,230.8 1347.2,233.1 1348.1,235.6 1349,237.8 1349.9,239.5 1350.9,241.3 1351.8,242.8 1352.7,244.3 1353.6,245.9 1354.6,247.7 1355.5,249.5 1356.4,250.8 1357.3,251.8 1358.2,253 1359.2,254.3 1360.1,255.4 1361,256.4 1361.9,257.4 1362.9,258.3 1363.8,259.2 1364.7,260 1365.6,261.3 1366.5,262.3 1367.5,263.1 1368.4,263.4 1369.3,263.8 1370.2,263.8 1371.2,263.7 1372.1,263.4 1373,263.2 1373.9,263.1 1374.8,263.1 1375.8,262.9 1376.7,262.7 1377.6,262.6 1378.5,262.5 1379.5,262.5 1380.4,262.4 1381.3,262.4 1382.2,262.1 1383.1,261.5 1384.1,261.1 1385,260.8 1385.9,260.6 1386.8,260.4 1387.8,260.2 1388.7,259.9 1389.6,259.8 1390.5,259.5 1391.4,259.3 1392.4,258.9 1393.3,258.9 1394.2,258.8 1395.1,258.7 1396.1,258.4 1397,258.1 1397.9,257.8 1398.8,258 1399.7,258 1400.7,257.7 1401.6,257.3 1402.5,257.4 1403.4,257.7 1404.4,257.8 1405.3,257.7 1406.2,257.6 1407.1,257.8 1408,257.8 1409,257.4 1409.9,257.4 1410.8,257.4 1411.7,257.3 1412.7,256.8 1413.6,256.5 1414.5,256.9 1415.4,257.2 1416.3,256.9 1417.3,256.6 1418.2,256.5 1419.1,256.7 1420,256.8 1421,256.4 1421.9,256.5 1422.8,256.3 1423.7,256.7 1424.6,256.5 1425.6,256.6 1426.5,256.3 1427.4,256.4 1428.3,256.2 1429.3,256.4 1430.2,256.6 1431.1,256.5 1432,256.3 1432.9,256 1433.9,255.9 1434.8,255.9 1435.7,256 1436.6,256 1437.6,256.2 1438.5,256.1 1439.4,255.7 1440.3,255.3 1441.2,255.2 1442.2,255.7 1443.1,256 1444,255.9 1444.9,255.6 1445.9,255.6 1446.8,255.5 1447.7,255.8 1448.6,256 1449.5,256 1450.5,255.5 1451.4,255.2 1452.3,255.3 1453.2,255.6 1454.2,255.8 1455.1,255.5 1456,255.3 1456.9,255.2 1457.8,255.2 1458.8,255.3 1459.7,255.1 1460.6,255 1461.5,255 1462.4,255 1463.4,255 1464.3,255.2 1465.2,255.2 1466.1,255.3 1467.1,255.2 1468,255.3 1468.9,255 1469.8,255 1470.7,255.2 1471.7,255.3 1472.6,255.1 1473.5,254.9 1474.4,255 1475.4,255 1476.3,255.1 1477.2,255.1 1478.1,255.2 1479,255.2 1480,255.2 1480.9,255.3 1481.8,255.6 1482.7,255.3 1483.7,255.4 1484.6,255.1 1485.5,255.1 1486.4,254.9 1487.3,254.6 1488.3,254.8 1489.2,254.9 1490.1,255 1491,254.8 1492,254.9 1492.9,255 1493.8,255 1494.7,254.9 1495.6,254.9 1496.6,254.7 1497.5,254.6 1498.4,254.3 1499.3,254.4 1500.3,254.4 1501.2,254.6 1502.1,254.7 1503,254.4 1503.9,254.4 1504.9,254.6 1505.8,254.8 1506.7,254.7 1507.6,254.7 1508.6,254.6 1509.5,254.9 1510.4,254.6 1511.3,254.6 1512.2,254.3 1513.2,254.6 1514.1,255 1515,254.9 1515.9,254.8 1516.9,254.7 1517.8,254.7 1518.7,254.5 1519.6,254.3 1520.5,254.7 1521.5,254.7 1522.4,254.5 1523.3,254.1 1524.2,254.3 1525.2,254.5 1526.1,254.8 1527,254.7" fill="none" stroke="#8a8a8a" stroke-width="1.1" stroke-linejoin="round"/><path d="M1139.7,345.7 1140.6,345.7 1141.5,345.9 1142.5,345.8 1143.4,346 1144.3,345.9 1145.2,346.2 1146.2,346.3 1147.1,346.8 1148,346.6 1148.9,346.7 1149.8,346.6 1150.8,346.8 1151.7,347.2 1152.6,347.2 1153.5,347.5 1154.5,347.4 1155.4,347.5 1156.3,347.2 1157.2,347 1158.1,346.8 1159.1,347 1160,347.2 1160.9,347.6 1161.8,347.4 1162.8,347.3 1163.7,347.3 1164.6,347.8 1165.5,348 1166.4,347.9 1167.4,348 1168.3,348 1169.2,347.9 1170.1,347.8 1171.1,348 1172,348 1172.9,348.1 1173.8,347.8 1174.7,348.1 1175.7,347.9 1176.6,347.8 1177.5,347.7 1178.4,347.6 1179.4,347.7 1180.3,347.6 1181.2,347.6 1182.1,347.5 1183,347.4 1184,347.3 1184.9,347.5 1185.8,347.6 1186.7,347.4 1187.7,347.5 1188.6,347.4 1189.5,347.4 1190.4,346.9 1191.3,346.7 1192.3,346.9 1193.2,346.8 1194.1,346.7 1195,346.2 1196,346.3 1196.9,346.5 1197.8,346.5 1198.7,346.4 1199.6,345.9 1200.6,345.8 1201.5,345.2 1202.4,345.3 1203.3,344.8 1204.2,344.6 1205.2,344.4 1206.1,344.5 1207,344.7 1207.9,344.5 1208.9,344.6 1209.8,344.1 1210.7,344.1 1211.6,343.7 1212.5,343.7 1213.5,343.2 1214.4,343 1215.3,342.8 1216.2,342.6 1217.2,342.4 1218.1,342.5 1219,342.2 1219.9,341.9 1220.8,341.4 1221.8,341.3 1222.7,340.9 1223.6,340.6 1224.5,340.3 1225.5,339.9 1226.4,339.3 1227.3,338.7 1228.2,338.1 1229.1,337.9 1230.1,338 1231,337.5 1231.9,337.3 1232.8,336.6 1233.8,336.8 1234.7,336.5 1235.6,336.3 1236.5,336 1237.4,335.7 1238.4,335.5 1239.3,335 1240.2,334.4 1241.1,334.3 1242.1,334.2 1243,333.8 1243.9,333.6 1244.8,333.3 1245.7,332.9 1246.7,332.3 1247.6,331.9 1248.5,332 1249.4,331.9 1250.4,331.8 1251.3,331.4 1252.2,331.2 1253.1,331.1 1254,331 1255,330.9 1255.9,330.6 1256.8,330.3 1257.7,330 1258.7,329.6 1259.6,329.6 1260.5,329.7 1261.4,329.9 1262.3,329.8 1263.3,329.4 1264.2,329.2 1265.1,329.3 1266,329.6 1267,329.9 1267.9,329.8 1268.8,330 1269.7,329.7 1270.6,329.5 1271.6,329 1272.5,329 1273.4,329.3 1274.3,329.5 1275.3,329.8 1276.2,329.9 1277.1,330.1 1278,330.3 1278.9,330.4 1279.9,330 1280.8,329.8 1281.7,329.8 1282.6,330.3 1283.6,330.2 1284.5,330 1285.4,329.7 1286.3,329.7 1287.2,329.7 1288.2,329.1 1289.1,328.7 1290,328.3 1290.9,328.2 1291.9,328.1 1292.8,327.9 1293.7,327.8 1294.6,327.5 1295.5,327.1 1296.5,326.5 1297.4,325.9 1298.3,325.4 1299.2,324.8 1300.2,324.1 1301.1,323.2 1302,322.3 1302.9,321.4 1303.8,320.4 1304.8,319.4 1305.7,318.1 1306.6,316.7 1307.5,315.2 1308.5,313.4 1309.4,311.4 1310.3,309.4 1311.2,307.2 1312.1,305.2 1313.1,303 1314,301 1314.9,299.1 1315.8,296.6 1316.8,293.6 1317.7,290.4 1318.6,287.3 1319.5,284.4 1320.4,281.4 1321.4,278.5 1322.3,276 1323.2,273.4 1324.1,271.2 1325.1,269.2 1326,267.3 1326.9,266.2 1327.8,265 1328.7,264.3 1329.7,263.3 1330.6,262.5 1331.5,261.8 1332.4,261.3 1333.3,261.2 1334.3,261.5 1335.2,261.7 1336.1,262.1 1337,262.8 1338,263.6 1338.9,264.6 1339.8,265.7 1340.7,267.3 1341.6,269 1342.6,271 1343.5,273.1 1344.4,275.5 1345.3,278.5 1346.3,281.8 1347.2,285.2 1348.1,288.4 1349,290.8 1349.9,293.5 1350.9,296 1351.8,299 1352.7,301.5 1353.6,303.5 1354.6,305.6 1355.5,307.5 1356.4,309.6 1357.3,311.4 1358.2,313.4 1359.2,314.9 1360.1,316.7 1361,317.9 1361.9,319.4 1362.9,320.4 1363.8,321.5 1364.7,322.6 1365.6,323.3 1366.5,324 1367.5,324.6 1368.4,325.4 1369.3,325.8 1370.2,326.3 1371.2,326.8 1372.1,327.7 1373,328.1 1373.9,328.1 1374.8,327.9 1375.8,328.2 1376.7,328.5 1377.6,328.7 1378.5,328.8 1379.5,329.2 1380.4,329.5 1381.3,329.7 1382.2,329.5 1383.1,329.4 1384.1,329.5 1385,329.6 1385.9,329.8 1386.8,329.5 1387.8,329.7 1388.7,329.6 1389.6,329.7 1390.5,329.8 1391.4,330 1392.4,329.9 1393.3,329.5 1394.2,329.5 1395.1,329.1 1396.1,328.9 1397,328.7 1397.9,328.9 1398.8,329.4 1399.7,329.5 1400.7,329.3 1401.6,329 1402.5,328.7 1403.4,329.1 1404.4,329.2 1405.3,329.5 1406.2,329.5 1407.1,330 1408,330.3 1409,330.3 1409.9,330.3 1410.8,330.5 1411.7,330.6 1412.7,330.7 1413.6,331 1414.5,331.6 1415.4,332 1416.3,332 1417.3,332 1418.2,332.1 1419.1,332.1 1420,332.6 1421,333 1421.9,333.4 1422.8,333.5 1423.7,333.7 1424.6,334.3 1425.6,334.5 1426.5,335 1427.4,334.8 1428.3,335.1 1429.3,335.5 1430.2,336.1 1431.1,336.3 1432,336.4 1432.9,336.6 1433.9,337 1434.8,337.3 1435.7,337.6 1436.6,338 1437.6,338.3 1438.5,338.7 1439.4,338.9 1440.3,339.1 1441.2,339.4 1442.2,339.6 1443.1,339.8 1444,340.1 1444.9,340.9 1445.9,341.1 1446.8,341.4 1447.7,341.4 1448.6,342 1449.5,342.4 1450.5,342.6 1451.4,342.5 1452.3,342.8 1453.2,343.2 1454.2,343.7 1455.1,344.1 1456,344.2 1456.9,344.5 1457.8,344.6 1458.8,344.5 1459.7,344.7 1460.6,345 1461.5,345.5 1462.4,345.1 1463.4,344.9 1464.3,345.2 1465.2,346 1466.1,346.2 1467.1,346.1 1468,345.8 1468.9,346.2 1469.8,346.2 1470.7,346.4 1471.7,346.1 1472.6,346.4 1473.5,346.5 1474.4,346.9 1475.4,347.1 1476.3,347.4 1477.2,347.8 1478.1,347.9 1479,348.1 1480,348 1480.9,347.8 1481.8,347.8 1482.7,347.4 1483.7,347.6 1484.6,347.6 1485.5,347.9 1486.4,347.8 1487.3,347.6 1488.3,347.7 1489.2,347.7 1490.1,347.7 1491,347.7 1492,347.5 1492.9,347.6 1493.8,347.5 1494.7,347.3 1495.6,347.4 1496.6,347.5 1497.5,347.6 1498.4,347.5 1499.3,347.2 1500.3,347.3 1501.2,347.4 1502.1,347.7 1503,348 1503.9,348 1504.9,347.8 1505.8,347.3 1506.7,346.9 1507.6,346.8 1508.6,346.9 1509.5,347.2 1510.4,347 1511.3,346.8 1512.2,346.6 1513.2,346.8 1514.1,346.8 1515,346.9 1515.9,346.8 1516.9,347 1517.8,346.8 1518.7,346.4 1519.6,345.9 1520.5,345.8 1521.5,345.9 1522.4,346.1 1523.3,346.2 1524.2,346 1525.2,345.7 1526.1,345.5 1527,345.5" fill="none" stroke="#8a8a8a" stroke-width="1.1" stroke-linejoin="round"/><path d="M1139.7,427.8 1140.6,427.6 1141.5,427.5 1142.5,426.8 1143.4,426.5 1144.3,426.4 1145.2,426.8 1146.2,426.7 1147.1,426.1 1148,425.7 1148.9,425.6 1149.8,425.7 1150.8,425.5 1151.7,425.2 1152.6,424.9 1153.5,424.8 1154.5,424.6 1155.4,424.6 1156.3,424.5 1157.2,424.3 1158.1,423.9 1159.1,423.6 1160,423.7 1160.9,423.5 1161.8,423.5 1162.8,423.2 1163.7,423 1164.6,422.6 1165.5,422.5 1166.4,422.5 1167.4,422.4 1168.3,422.1 1169.2,421.6 1170.1,421.3 1171.1,421 1172,421.2 1172.9,421.1 1173.8,421 1174.7,420.2 1175.7,420 1176.6,419.8 1177.5,420 1178.4,419.9 1179.4,419.5 1180.3,419.3 1181.2,419.1 1182.1,419.5 1183,419.5 1184,419.3 1184.9,418.8 1185.8,418.4 1186.7,418.3 1187.7,418 1188.6,417.9 1189.5,417.8 1190.4,417.8 1191.3,417.3 1192.3,417 1193.2,416.8 1194.1,416.6 1195,416.2 1196,416 1196.9,416 1197.8,416 1198.7,415.6 1199.6,415.5 1200.6,415.1 1201.5,414.9 1202.4,414.6 1203.3,414.3 1204.2,414 1205.2,413.9 1206.1,413.8 1207,413.8 1207.9,413.2 1208.9,413.3 1209.8,412.6 1210.7,412.8 1211.6,412.3 1212.5,412.5 1213.5,412 1214.4,411.6 1215.3,411.3 1216.2,411.2 1217.2,411.2 1218.1,411.3 1219,410.9 1219.9,410.7 1220.8,410.4 1221.8,410.2 1222.7,410.1 1223.6,409.9 1224.5,409.9 1225.5,410 1226.4,409.7 1227.3,409.2 1228.2,408.6 1229.1,408.3 1230.1,408.1 1231,408.4 1231.9,408.2 1232.8,408.2 1233.8,407.7 1234.7,407.7 1235.6,407.5 1236.5,407.3 1237.4,407.2 1238.4,407.3 1239.3,407.6 1240.2,407.3 1241.1,407.4 1242.1,406.9 1243,406.8 1243.9,406.5 1244.8,406.2 1245.7,406.3 1246.7,406.4 1247.6,406.7 1248.5,406.7 1249.4,406.6 1250.4,406.6 1251.3,406.9 1252.2,406.9 1253.1,407.2 1254,407 1255,407.1 1255.9,407 1256.8,407.4 1257.7,407.7 1258.7,407.9 1259.6,407.4 1260.5,407.7 1261.4,407.9 1262.3,408.3 1263.3,408.1 1264.2,407.8 1265.1,408.3 1266,408.3 1267,408.7 1267.9,408.6 1268.8,408.9 1269.7,408.5 1270.6,408.4 1271.6,408.1 1272.5,408.1 1273.4,407.6 1274.3,407.2 1275.3,407.1 1276.2,406.7 1277.1,406.5 1278,405.7 1278.9,405.2 1279.9,404.6 1280.8,404.1 1281.7,403.7 1282.6,403.3 1283.6,402.8 1284.5,402.1 1285.4,401.7 1286.3,401.2 1287.2,400.5 1288.2,399.5 1289.1,398.9 1290,398.6 1290.9,397.9 1291.9,397 1292.8,396 1293.7,395 1294.6,394 1295.5,392.9 1296.5,391.6 1297.4,390.1 1298.3,388.2 1299.2,386.4 1300.2,384.4 1301.1,382.6 1302,380.5 1302.9,378.3 1303.8,376.2 1304.8,374.6 1305.7,372.9 1306.6,371.1 1307.5,369.3 1308.5,367.5 1309.4,365.7 1310.3,363.4 1311.2,362 1312.1,360.3 1313.1,358.8 1314,356.9 1314.9,355.3 1315.8,354.1 1316.8,352.8 1317.7,351.1 1318.6,349.1 1319.5,347.4 1320.4,346.1 1321.4,345.2 1322.3,344.1 1323.2,343.2 1324.1,342.6 1325.1,342.2 1326,341.6 1326.9,341.1 1327.8,340.9 1328.7,340.6 1329.7,340.6 1330.6,339.8 1331.5,339.3 1332.4,338.7 1333.3,339 1334.3,339.3 1335.2,339.4 1336.1,339.1 1337,339.5 1338,340 1338.9,340.9 1339.8,341.3 1340.7,342 1341.6,342.6 1342.6,343.3 1343.5,343.7 1344.4,344.5 1345.3,345.3 1346.3,346.7 1347.2,347.8 1348.1,349.4 1349,350.6 1349.9,352.2 1350.9,353.8 1351.8,355.6 1352.7,357.3 1353.6,358.8 1354.6,360.2 1355.5,361.9 1356.4,363.6 1357.3,365.6 1358.2,367.5 1359.2,369.2 1360.1,371 1361,372.6 1361.9,375 1362.9,376.6 1363.8,378.5 1364.7,380.2 1365.6,382.5 1366.5,384.5 1367.5,386.3 1368.4,387.9 1369.3,389.8 1370.2,391.2 1371.2,392.7 1372.1,393.9 1373,395.1 1373.9,396.6 1374.8,397.2 1375.8,397.8 1376.7,398 1377.6,399.1 1378.5,400.1 1379.5,400.6 1380.4,401.1 1381.3,401.2 1382.2,402 1383.1,402.5 1384.1,403.2 1385,403.8 1385.9,404.6 1386.8,405.2 1387.8,405.5 1388.7,405.7 1389.6,406.1 1390.5,407 1391.4,407.5 1392.4,408 1393.3,408.2 1394.2,408.4 1395.1,408.4 1396.1,408.5 1397,408.6 1397.9,408.4 1398.8,408 1399.7,408.2 1400.7,408.6 1401.6,408.5 1402.5,408.4 1403.4,408.2 1404.4,408.1 1405.3,408 1406.2,407.9 1407.1,408 1408,407.6 1409,407.4 1409.9,407.3 1410.8,407.4 1411.7,407.4 1412.7,407.2 1413.6,407.4 1414.5,407.2 1415.4,407.4 1416.3,406.8 1417.3,407 1418.2,406.7 1419.1,406.8 1420,406.2 1421,406.3 1421.9,406.2 1422.8,406.7 1423.7,406.8 1424.6,407.3 1425.6,407.4 1426.5,407.3 1427.4,407.3 1428.3,407.3 1429.3,407.6 1430.2,407.8 1431.1,408 1432,408 1432.9,407.8 1433.9,407.8 1434.8,408.4 1435.7,408.7 1436.6,409 1437.6,408.7 1438.5,409.1 1439.4,409.1 1440.3,409.5 1441.2,409.3 1442.2,409.7 1443.1,410 1444,410.4 1444.9,410.5 1445.9,410.3 1446.8,410.4 1447.7,410.4 1448.6,410.7 1449.5,410.8 1450.5,411 1451.4,411.6 1452.3,411.9 1453.2,412.7 1454.2,412.7 1455.1,412.9 1456,412.8 1456.9,412.9 1457.8,413.2 1458.8,413.2 1459.7,413.5 1460.6,413.8 1461.5,414 1462.4,414.2 1463.4,414.1 1464.3,414.4 1465.2,414.5 1466.1,414.8 1467.1,415.3 1468,415.8 1468.9,415.6 1469.8,415.7 1470.7,415.7 1471.7,416.6 1472.6,416.7 1473.5,416.8 1474.4,416.7 1475.4,417.2 1476.3,417.6 1477.2,417.9 1478.1,418.1 1479,418.4 1480,418.6 1480.9,418.9 1481.8,418.6 1482.7,418.8 1483.7,418.5 1484.6,419 1485.5,419.2 1486.4,419.6 1487.3,419.9 1488.3,419.9 1489.2,420.3 1490.1,420.7 1491,420.6 1492,420.6 1492.9,420.5 1493.8,421.2 1494.7,421.6 1495.6,421.8 1496.6,422 1497.5,422.2 1498.4,422.4 1499.3,422.3 1500.3,422.5 1501.2,422.6 1502.1,422.8 1503,423 1503.9,423.3 1504.9,423.9 1505.8,423.7 1506.7,423.9 1507.6,423.8 1508.6,424.1 1509.5,424.2 1510.4,424.4 1511.3,424.5 1512.2,424.6 1513.2,424.6 1514.1,424.9 1515,425.1 1515.9,425.5 1516.9,425.5 1517.8,425.5 1518.7,425.3 1519.6,425.7 1520.5,426.2 1521.5,426.6 1522.4,426.6 1523.3,426.4 1524.2,426.6 1525.2,426.7 1526.1,427.3 1527,427.6" fill="none" stroke="#8a8a8a" stroke-width="1.1" stroke-linejoin="round"/><path d="M1139.7,494.4 1140.6,494.4 1141.5,494.4 1142.5,494.5 1143.4,494.5 1144.3,494.2 1145.2,494.2 1146.2,493.9 1147.1,494 1148,493.4 1148.9,493.3 1149.8,493 1150.8,493.1 1151.7,493.1 1152.6,493 1153.5,493 1154.5,492.7 1155.4,492.7 1156.3,492.4 1157.2,492.5 1158.1,492.2 1159.1,492.2 1160,492 1160.9,492.2 1161.8,492 1162.8,491.6 1163.7,491.2 1164.6,491.2 1165.5,491.2 1166.4,491.2 1167.4,491.2 1168.3,491.5 1169.2,491.2 1170.1,491.1 1171.1,490.6 1172,491 1172.9,490.6 1173.8,490.6 1174.7,490.3 1175.7,490.5 1176.6,490.4 1177.5,490 1178.4,489.8 1179.4,489.8 1180.3,489.8 1181.2,489.6 1182.1,489.5 1183,489.4 1184,489.4 1184.9,489.3 1185.8,489.5 1186.7,489.3 1187.7,489 1188.6,488.7 1189.5,488.6 1190.4,488.8 1191.3,488.5 1192.3,488.4 1193.2,488.3 1194.1,488.5 1195,488.7 1196,488.6 1196.9,488.5 1197.8,488.2 1198.7,487.8 1199.6,487.8 1200.6,487.7 1201.5,487.6 1202.4,487.3 1203.3,487.3 1204.2,487.2 1205.2,487.2 1206.1,487 1207,486.9 1207.9,486.7 1208.9,486.3 1209.8,486 1210.7,486.1 1211.6,485.8 1212.5,485.8 1213.5,485.5 1214.4,485.4 1215.3,485 1216.2,484.6 1217.2,484.5 1218.1,484.3 1219,484.2 1219.9,483.7 1220.8,483.6 1221.8,483.3 1222.7,483.4 1223.6,482.9 1224.5,483.1 1225.5,482.9 1226.4,482.8 1227.3,482.2 1228.2,482.4 1229.1,482.6 1230.1,482.4 1231,482.6 1231.9,482.9 1232.8,483 1233.8,482.6 1234.7,482.7 1235.6,483.2 1236.5,483.4 1237.4,483.4 1238.4,483 1239.3,483.1 1240.2,483.1 1241.1,483.2 1242.1,483.3 1243,483.5 1243.9,483.8 1244.8,484 1245.7,483.8 1246.7,483.8 1247.6,483.6 1248.5,484 1249.4,484.1 1250.4,484.3 1251.3,484.6 1252.2,484.7 1253.1,484.8 1254,485 1255,485.2 1255.9,485.5 1256.8,485.4 1257.7,485.6 1258.7,485.8 1259.6,486.2 1260.5,486.4 1261.4,487 1262.3,487.4 1263.3,487.7 1264.2,487.5 1265.1,487.6 1266,488 1267,488.3 1267.9,488.3 1268.8,488.2 1269.7,488.4 1270.6,488.4 1271.6,488.5 1272.5,488.2 1273.4,488.2 1274.3,487.7 1275.3,487.3 1276.2,487 1277.1,486.7 1278,486.1 1278.9,485.6 1279.9,485.1 1280.8,484.9 1281.7,484.4 1282.6,483.7 1283.6,482.9 1284.5,482.1 1285.4,481.7 1286.3,480.8 1287.2,479.8 1288.2,478.7 1289.1,477.8 1290,476.9 1290.9,475.7 1291.9,474.6 1292.8,473.1 1293.7,471.9 1294.6,470.2 1295.5,468.3 1296.5,466.3 1297.4,464.1 1298.3,462.5 1299.2,460.8 1300.2,459 1301.1,456.6 1302,454.5 1302.9,452.6 1303.8,450.8 1304.8,448.9 1305.7,447 1306.6,445 1307.5,443.1 1308.5,441.3 1309.4,439.4 1310.3,437.3 1311.2,435.5 1312.1,434.1 1313.1,432.6 1314,431.3 1314.9,429.9 1315.8,428.8 1316.8,427.5 1317.7,426.4 1318.6,425 1319.5,423.8 1320.4,422.6 1321.4,421.6 1322.3,421 1323.2,420.5 1324.1,420 1325.1,419.7 1326,419.1 1326.9,418.7 1327.8,418.1 1328.7,417.9 1329.7,417.3 1330.6,416.4 1331.5,416.2 1332.4,416.3 1333.3,416.5 1334.3,416.1 1335.2,416.4 1336.1,417 1337,417.6 1338,418 1338.9,417.9 1339.8,418.4 1340.7,418.6 1341.6,419.5 1342.6,419.9 1343.5,420.6 1344.4,421.1 1345.3,421.9 1346.3,422.8 1347.2,423.8 1348.1,425 1349,426.1 1349.9,427.4 1350.9,428.8 1351.8,430.2 1352.7,431.4 1353.6,432.6 1354.6,433.9 1355.5,435.6 1356.4,437.5 1357.3,439.5 1358.2,441.4 1359.2,443.4 1360.1,445.3 1361,447.2 1361.9,449 1362.9,450.7 1363.8,452.4 1364.7,454.3 1365.6,456.5 1366.5,458.5 1367.5,460.7 1368.4,462.4 1369.3,464.5 1370.2,466.4 1371.2,467.9 1372.1,469.8 1373,471.6 1373.9,473.2 1374.8,474.1 1375.8,475.3 1376.7,476.7 1377.6,478.2 1378.5,479 1379.5,479.9 1380.4,480.7 1381.3,481.3 1382.2,481.9 1383.1,482.6 1384.1,483.5 1385,484.2 1385.9,484.4 1386.8,484.7 1387.8,485.1 1388.7,485.9 1389.6,486.4 1390.5,486.8 1391.4,486.9 1392.4,487.1 1393.3,487.2 1394.2,487.6 1395.1,488 1396.1,488.1 1397,487.8 1397.9,487.6 1398.8,487.6 1399.7,487.9 1400.7,487.8 1401.6,487.5 1402.5,487.3 1403.4,486.9 1404.4,486.8 1405.3,486.3 1406.2,486.2 1407.1,486.1 1408,485.8 1409,485.7 1409.9,485.4 1410.8,485.4 1411.7,485.3 1412.7,484.9 1413.6,484.7 1414.5,484.3 1415.4,484.3 1416.3,484.1 1417.3,484 1418.2,484 1419.1,483.7 1420,483.7 1421,483.6 1421.9,483.9 1422.8,483.6 1423.7,483.5 1424.6,483.1 1425.6,483.2 1426.5,483.2 1427.4,483.2 1428.3,483.5 1429.3,483.5 1430.2,483.3 1431.1,482.8 1432,483.2 1432.9,483.3 1433.9,483.2 1434.8,482.9 1435.7,482.5 1436.6,482.4 1437.6,482.4 1438.5,482.5 1439.4,482.7 1440.3,482.9 1441.2,482.8 1442.2,482.5 1443.1,483 1444,483.6 1444.9,483.9 1445.9,483.8 1446.8,484 1447.7,484.3 1448.6,484.6 1449.5,484.4 1450.5,484.4 1451.4,484.6 1452.3,484.9 1453.2,485.7 1454.2,485.7 1455.1,486.2 1456,486.2 1456.9,486.5 1457.8,486.4 1458.8,486.6 1459.7,486.7 1460.6,486.9 1461.5,487 1462.4,487.1 1463.4,487 1464.3,487.1 1465.2,487.1 1466.1,487.4 1467.1,487.4 1468,487.6 1468.9,487.6 1469.8,487.8 1470.7,488.1 1471.7,488.3 1472.6,488.4 1473.5,488.3 1474.4,488.4 1475.4,488.4 1476.3,488.8 1477.2,488.9 1478.1,488.8 1479,488.7 1480,488.8 1480.9,489.3 1481.8,489.4 1482.7,489.7 1483.7,489.4 1484.6,489.8 1485.5,489.6 1486.4,490 1487.3,489.9 1488.3,489.7 1489.2,490 1490.1,489.9 1491,490.4 1492,490.4 1492.9,490.7 1493.8,490.8 1494.7,490.9 1495.6,491 1496.6,491.1 1497.5,491.1 1498.4,491.3 1499.3,491.3 1500.3,491.4 1501.2,491.5 1502.1,491.7 1503,492.2 1503.9,492 1504.9,492 1505.8,492 1506.7,492.2 1507.6,492.1 1508.6,492.3 1509.5,492.6 1510.4,493 1511.3,492.9 1512.2,493.2 1513.2,492.9 1514.1,492.9 1515,492.9 1515.9,493.2 1516.9,493.6 1517.8,493.7 1518.7,493.7 1519.6,493.9 1520.5,493.9 1521.5,493.9 1522.4,494.1 1523.3,494.3 1524.2,494.5 1525.2,494.2 1526.1,494.2 1527,494.3" fill="none" stroke="#8a8a8a" stroke-width="1.1" stroke-linejoin="round"/><path d="M1139.7,563 1140.6,563.1 1141.5,563.2 1142.5,562.9 1143.4,563.3 1144.3,563.2 1145.2,563.3 1146.2,562.7 1147.1,562.9 1148,562.9 1148.9,563 1149.8,562.9 1150.8,562.7 1151.7,562.4 1152.6,562.2 1153.5,562.4 1154.5,562.7 1155.4,562.8 1156.3,562.7 1157.2,562.6 1158.1,562.7 1159.1,562.6 1160,562.4 1160.9,562.3 1161.8,562.3 1162.8,562.4 1163.7,562.1 1164.6,562 1165.5,562 1166.4,562 1167.4,561.9 1168.3,561.8 1169.2,561.7 1170.1,561.2 1171.1,561.3 1172,561.3 1172.9,561.8 1173.8,561.8 1174.7,561.7 1175.7,561.2 1176.6,561.1 1177.5,561 1178.4,561.3 1179.4,561.2 1180.3,561.1 1181.2,561.3 1182.1,561.4 1183,561.6 1184,561.2 1184.9,561 1185.8,560.8 1186.7,561.3 1187.7,561.3 1188.6,561.5 1189.5,561 1190.4,560.8 1191.3,560.8 1192.3,560.9 1193.2,561.1 1194.1,560.5 1195,560.2 1196,560 1196.9,560.1 1197.8,560.1 1198.7,560 1199.6,560 1200.6,560 1201.5,559.6 1202.4,559.5 1203.3,559.3 1204.2,559.2 1205.2,559.4 1206.1,559.3 1207,559.7 1207.9,559.5 1208.9,559.7 1209.8,559.6 1210.7,559.4 1211.6,559.2 1212.5,559.2 1213.5,559.5 1214.4,559.6 1215.3,559.5 1216.2,559.7 1217.2,559.7 1218.1,560.2 1219,560.4 1219.9,560.3 1220.8,560.1 1221.8,559.9 1222.7,560.7 1223.6,561 1224.5,561.1 1225.5,560.8 1226.4,560.8 1227.3,561.1 1228.2,561.4 1229.1,561.4 1230.1,561.7 1231,561.7 1231.9,561.5 1232.8,561 1233.8,561.3 1234.7,562.1 1235.6,562.3 1236.5,562.5 1237.4,562.4 1238.4,562.5 1239.3,562.6 1240.2,563 1241.1,563.8 1242.1,563.9 1243,564.4 1243.9,564.6 1244.8,565 1245.7,565.2 1246.7,565.8 1247.6,566.3 1248.5,566.8 1249.4,566.6 1250.4,566.7 1251.3,567.1 1252.2,567.4 1253.1,567.8 1254,567.8 1255,568 1255.9,568.4 1256.8,568.1 1257.7,568 1258.7,567.3 1259.6,567.3 1260.5,567.3 1261.4,567 1262.3,566.9 1263.3,566.5 1264.2,566.6 1265.1,566.3 1266,566.1 1267,565.3 1267.9,565 1268.8,564.6 1269.7,564.7 1270.6,564.2 1271.6,563.7 1272.5,562.8 1273.4,561.8 1274.3,560.8 1275.3,560 1276.2,559.3 1277.1,558.6 1278,557.5 1278.9,556.3 1279.9,554.9 1280.8,554.1 1281.7,552.8 1282.6,551.8 1283.6,550 1284.5,549.1 1285.4,548 1286.3,547 1287.2,545.6 1288.2,544.2 1289.1,542.7 1290,541.1 1290.9,539.2 1291.9,537.6 1292.8,536.2 1293.7,535 1294.6,533.5 1295.5,531.8 1296.5,530.3 1297.4,528.6 1298.3,527.2 1299.2,525.6 1300.2,524.3 1301.1,523 1302,521.4 1302.9,520 1303.8,518.3 1304.8,517 1305.7,515.5 1306.6,514.2 1307.5,512.9 1308.5,511.4 1309.4,510.3 1310.3,508.8 1311.2,507.6 1312.1,506 1313.1,505 1314,503.9 1314.9,502.6 1315.8,501.3 1316.8,500 1317.7,498.8 1318.6,497.7 1319.5,496.6 1320.4,495.4 1321.4,494.5 1322.3,493.7 1323.2,493.3 1324.1,492.8 1325.1,492.5 1326,491.9 1326.9,491.4 1327.8,490.8 1328.7,490.5 1329.7,490 1330.6,489.6 1331.5,489.5 1332.4,489.8 1333.3,489.8 1334.3,490 1335.2,489.9 1336.1,490.1 1337,490.3 1338,490.8 1338.9,491 1339.8,491.4 1340.7,492 1341.6,492.8 1342.6,493.3 1343.5,493.1 1344.4,493.4 1345.3,494.1 1346.3,495.2 1347.2,496.5 1348.1,497.6 1349,498.8 1349.9,500.1 1350.9,501.3 1351.8,502.6 1352.7,503.9 1353.6,505.3 1354.6,506.4 1355.5,507.4 1356.4,508.6 1357.3,510.1 1358.2,511.5 1359.2,512.7 1360.1,514.4 1361,515.6 1361.9,517 1362.9,518.1 1363.8,519.4 1364.7,521 1365.6,522.4 1366.5,523.9 1367.5,525.3 1368.4,526.9 1369.3,528.4 1370.2,529.8 1371.2,531.1 1372.1,532.6 1373,534.2 1373.9,535.8 1374.8,537.7 1375.8,539.3 1376.7,540.9 1377.6,542.7 1378.5,544.4 1379.5,545.8 1380.4,546.7 1381.3,547.7 1382.2,549 1383.1,550.2 1384.1,551.5 1385,552.8 1385.9,554 1386.8,555.1 1387.8,556 1388.7,557.2 1389.6,558.5 1390.5,559.7 1391.4,560.5 1392.4,561 1393.3,562 1394.2,562.7 1395.1,563.5 1396.1,563.7 1397,564.2 1397.9,564.7 1398.8,565.2 1399.7,565.5 1400.7,566 1401.6,566.4 1402.5,566.8 1403.4,566.6 1404.4,566.7 1405.3,567.1 1406.2,567.5 1407.1,567.9 1408,567.7 1409,567.9 1409.9,567.4 1410.8,567.4 1411.7,567.6 1412.7,568.1 1413.6,568.1 1414.5,567.7 1415.4,567.2 1416.3,567.2 1417.3,567.1 1418.2,566.7 1419.1,566 1420,565.4 1421,565.1 1421.9,565 1422.8,564.6 1423.7,564.2 1424.6,563.7 1425.6,563.6 1426.5,563.6 1427.4,563 1428.3,562.7 1429.3,562.2 1430.2,562.1 1431.1,562.1 1432,562 1432.9,562 1433.9,561.8 1434.8,561.6 1435.7,561.4 1436.6,561.3 1437.6,561.2 1438.5,561.2 1439.4,561 1440.3,560.8 1441.2,560.6 1442.2,560.7 1443.1,560.7 1444,560.6 1444.9,560 1445.9,559.9 1446.8,559.7 1447.7,559.9 1448.6,559.8 1449.5,559.7 1450.5,559.5 1451.4,559.3 1452.3,559.5 1453.2,559.3 1454.2,559.4 1455.1,559 1456,559.3 1456.9,559.3 1457.8,559.1 1458.8,559.1 1459.7,559.2 1460.6,559.7 1461.5,559.6 1462.4,559.6 1463.4,559.2 1464.3,559.4 1465.2,559.5 1466.1,560.1 1467.1,559.9 1468,559.9 1468.9,559.6 1469.8,559.9 1470.7,560.1 1471.7,560.1 1472.6,560.1 1473.5,560.3 1474.4,560.7 1475.4,560.6 1476.3,560.7 1477.2,560.7 1478.1,560.9 1479,561.1 1480,561.1 1480.9,561.1 1481.8,560.7 1482.7,560.6 1483.7,560.7 1484.6,560.9 1485.5,561.3 1486.4,561.6 1487.3,561.6 1488.3,561.6 1489.2,561.6 1490.1,561.9 1491,561.9 1492,561.6 1492.9,561.4 1493.8,561.4 1494.7,561.8 1495.6,562.1 1496.6,562.1 1497.5,562.2 1498.4,562.2 1499.3,562.3 1500.3,562.3 1501.2,562.3 1502.1,562.1 1503,562 1503.9,561.9 1504.9,562 1505.8,562 1506.7,562.3 1507.6,562.4 1508.6,562.6 1509.5,562.4 1510.4,562.5 1511.3,562.8 1512.2,563 1513.2,563 1514.1,563.1 1515,562.9 1515.9,563.1 1516.9,563 1517.8,563.2 1518.7,562.9 1519.6,562.7 1520.5,562.7 1521.5,562.8 1522.4,562.8 1523.3,562.6 1524.2,562.7 1525.2,563.1 1526.1,563.4 1527,563.4" fill="none" stroke="#8a8a8a" stroke-width="1.1" stroke-linejoin="round"/><path d="M1139.7,636.5 1140.6,636.4 1141.5,636.2 1142.5,636.3 1143.4,636.6 1144.3,636.6 1145.2,636.7 1146.2,636.4 1147.1,636.6 1148,636.8 1148.9,637.1 1149.8,637.1 1150.8,636.9 1151.7,636.8 1152.6,636.9 1153.5,637 1154.5,636.9 1155.4,636.9 1156.3,637 1157.2,637.2 1158.1,637.4 1159.1,637.4 1160,637.4 1160.9,637.3 1161.8,636.9 1162.8,637.3 1163.7,637.6 1164.6,637.9 1165.5,637.8 1166.4,637.7 1167.4,638.4 1168.3,638.6 1169.2,639 1170.1,638.7 1171.1,638.8 1172,638.8 1172.9,638.8 1173.8,638.5 1174.7,638.5 1175.7,638.6 1176.6,639.4 1177.5,639.5 1178.4,639.8 1179.4,639.5 1180.3,639.5 1181.2,639.1 1182.1,639.7 1183,639.9 1184,640.2 1184.9,640.1 1185.8,640.3 1186.7,640.6 1187.7,641 1188.6,641.3 1189.5,641.6 1190.4,641.5 1191.3,641.7 1192.3,642 1193.2,642.3 1194.1,642.5 1195,642.8 1196,642.7 1196.9,642.8 1197.8,642.8 1198.7,643.4 1199.6,643.8 1200.6,643.9 1201.5,643.8 1202.4,643.9 1203.3,643.7 1204.2,644.1 1205.2,644.2 1206.1,644.4 1207,644.5 1207.9,644.7 1208.9,645.2 1209.8,645.4 1210.7,645.5 1211.6,645.9 1212.5,645.9 1213.5,646.2 1214.4,646.4 1215.3,646.4 1216.2,646.8 1217.2,647.1 1218.1,647.8 1219,647.6 1219.9,647.9 1220.8,648.1 1221.8,648.9 1222.7,648.6 1223.6,648.7 1224.5,648.6 1225.5,648.8 1226.4,648.6 1227.3,648.4 1228.2,648.8 1229.1,649.1 1230.1,649 1231,648.3 1231.9,648.3 1232.8,648.6 1233.8,648.7 1234.7,648.2 1235.6,647.9 1236.5,647.9 1237.4,648 1238.4,647.8 1239.3,647.6 1240.2,647.2 1241.1,646.9 1242.1,646.2 1243,645.7 1243.9,644.9 1244.8,644.4 1245.7,643.7 1246.7,643.1 1247.6,642.8 1248.5,641.9 1249.4,641.2 1250.4,640.1 1251.3,639.1 1252.2,638.6 1253.1,637.5 1254,637.1 1255,636.3 1255.9,635.8 1256.8,634.8 1257.7,634.2 1258.7,633.3 1259.6,632.3 1260.5,631 1261.4,630.1 1262.3,629.3 1263.3,628.3 1264.2,627.3 1265.1,626 1266,625 1267,623.6 1267.9,622.4 1268.8,621.5 1269.7,620.5 1270.6,619.9 1271.6,618.6 1272.5,617.1 1273.4,615.5 1274.3,614.5 1275.3,613.4 1276.2,612.2 1277.1,611 1278,610 1278.9,608.5 1279.9,607.2 1280.8,605.9 1281.7,604.8 1282.6,603.7 1283.6,602.2 1284.5,600.9 1285.4,599.6 1286.3,598.3 1287.2,597.1 1288.2,595.8 1289.1,594.4 1290,592.9 1290.9,591.7 1291.9,590.4 1292.8,589.4 1293.7,588 1294.6,586.7 1295.5,585.1 1296.5,583.8 1297.4,582.7 1298.3,581.4 1299.2,580.1 1300.2,579 1301.1,578.1 1302,577 1302.9,575.7 1303.8,574.6 1304.8,573.6 1305.7,572.7 1306.6,571.8 1307.5,571.2 1308.5,570.5 1309.4,569.5 1310.3,568.6 1311.2,567.8 1312.1,567.3 1313.1,566.8 1314,566.5 1314.9,566.1 1315.8,565.6 1316.8,565.5 1317.7,565.5 1318.6,565.5 1319.5,565.2 1320.4,565 1321.4,564.7 1322.3,564.6 1323.2,564.3 1324.1,564.5 1325.1,564.5 1326,564.4 1326.9,564.2 1327.8,563.7 1328.7,563.8 1329.7,563.9 1330.6,564.3 1331.5,564.3 1332.4,564.4 1333.3,564.3 1334.3,564.5 1335.2,564.2 1336.1,563.9 1337,563.7 1338,563.7 1338.9,564 1339.8,564.3 1340.7,564.5 1341.6,564.6 1342.6,564.3 1343.5,564.4 1344.4,564.5 1345.3,565 1346.3,565.1 1347.2,565.3 1348.1,565.4 1349,565.8 1349.9,565.7 1350.9,565.8 1351.8,565.7 1352.7,566.3 1353.6,566.7 1354.6,567.3 1355.5,567.8 1356.4,568.2 1357.3,568.9 1358.2,569.7 1359.2,570.9 1360.1,571.6 1361,572.8 1361.9,573.6 1362.9,574.6 1363.8,575.5 1364.7,576.7 1365.6,577.9 1366.5,579.2 1367.5,580.7 1368.4,581.7 1369.3,582.5 1370.2,583.7 1371.2,585 1372.1,586.6 1373,587.7 1373.9,589 1374.8,590.3 1375.8,591.6 1376.7,592.8 1377.6,594 1378.5,594.9 1379.5,596.3 1380.4,597.6 1381.3,599.4 1382.2,600.9 1383.1,602.4 1384.1,603.3 1385,604.7 1385.9,605.8 1386.8,607.1 1387.8,607.9 1388.7,609.3 1389.6,610.8 1390.5,612.3 1391.4,613.3 1392.4,614.4 1393.3,615.6 1394.2,616.7 1395.1,618 1396.1,619.4 1397,620.5 1397.9,621.8 1398.8,622.8 1399.7,624.3 1400.7,625 1401.6,626.1 1402.5,627.5 1403.4,628.6 1404.4,629.5 1405.3,630.3 1406.2,631.4 1407.1,632.2 1408,633.1 1409,633.7 1409.9,634.5 1410.8,635.3 1411.7,636.4 1412.7,637 1413.6,637.7 1414.5,638.3 1415.4,639.4 1416.3,640 1417.3,640.8 1418.2,641.7 1419.1,642.7 1420,643 1421,643.5 1421.9,644.4 1422.8,645.5 1423.7,645.8 1424.6,645.8 1425.6,646.1 1426.5,646.8 1427.4,647.4 1428.3,648 1429.3,648.1 1430.2,648.4 1431.1,648.2 1432,648.2 1432.9,648.2 1433.9,648.3 1434.8,648.7 1435.7,648.8 1436.6,648.8 1437.6,648.4 1438.5,648.5 1439.4,648.4 1440.3,648.5 1441.2,648.6 1442.2,648.5 1443.1,648.4 1444,647.9 1444.9,647.9 1445.9,647.5 1446.8,647.6 1447.7,647.3 1448.6,647.4 1449.5,646.9 1450.5,647 1451.4,646.8 1452.3,647 1453.2,646.7 1454.2,646.6 1455.1,645.9 1456,645.6 1456.9,645.1 1457.8,645.5 1458.8,645.2 1459.7,644.8 1460.6,644.1 1461.5,643.8 1462.4,644 1463.4,644 1464.3,643.9 1465.2,643.6 1466.1,643.5 1467.1,643.4 1468,643.5 1468.9,643.6 1469.8,642.9 1470.7,642.2 1471.7,641.9 1472.6,642.2 1473.5,642.2 1474.4,642.1 1475.4,641.2 1476.3,640.8 1477.2,640.3 1478.1,640.7 1479,640.9 1480,640.6 1480.9,640.6 1481.8,640.3 1482.7,640 1483.7,639.7 1484.6,639.6 1485.5,639.6 1486.4,639.4 1487.3,639.5 1488.3,639.3 1489.2,639 1490.1,638.8 1491,638.9 1492,639 1492.9,639.1 1493.8,639.1 1494.7,639 1495.6,638.9 1496.6,638.7 1497.5,638.5 1498.4,638.4 1499.3,638.3 1500.3,638.2 1501.2,637.8 1502.1,637.8 1503,637.6 1503.9,637.6 1504.9,637.6 1505.8,637.5 1506.7,637.6 1507.6,637.2 1508.6,637.4 1509.5,637.1 1510.4,637.4 1511.3,637.3 1512.2,637.2 1513.2,636.7 1514.1,636.3 1515,636.3 1515.9,636.3 1516.9,636.8 1517.8,636.5 1518.7,636.7 1519.6,636.5 1520.5,636.8 1521.5,637 1522.4,636.7 1523.3,636.7 1524.2,636.6 1525.2,636.8 1526.1,636.8 1527,636.7" fill="none" stroke="#8a8a8a" stroke-width="1.1" stroke-linejoin="round"/><path d="M1139.7,716 1140.6,716.2 1141.5,716.2 1142.5,716.2 1143.4,716.1 1144.3,716.1 1145.2,716.3 1146.2,716.2 1147.1,716.3 1148,716.4 1148.9,716.4 1149.8,716.4 1150.8,716.3 1151.7,716.4 1152.6,716.9 1153.5,717.3 1154.5,717.8 1155.4,717.8 1156.3,717.5 1157.2,717.2 1158.1,717.5 1159.1,717.6 1160,718 1160.9,718 1161.8,717.8 1162.8,717.9 1163.7,718.1 1164.6,718.8 1165.5,719.1 1166.4,719.3 1167.4,719.3 1168.3,719.4 1169.2,719.5 1170.1,719.3 1171.1,719.4 1172,719.9 1172.9,720.1 1173.8,719.9 1174.7,719.8 1175.7,720.2 1176.6,720.5 1177.5,720.8 1178.4,721.1 1179.4,721.3 1180.3,721.7 1181.2,721.9 1182.1,722.1 1183,722 1184,722.1 1184.9,722.3 1185.8,722.4 1186.7,722.4 1187.7,722.9 1188.6,723.3 1189.5,723.8 1190.4,723.8 1191.3,724.6 1192.3,724.8 1193.2,725 1194.1,725.1 1195,725.3 1196,725.4 1196.9,725.5 1197.8,725.7 1198.7,726.1 1199.6,726.3 1200.6,726.6 1201.5,727 1202.4,727.4 1203.3,727.3 1204.2,727.1 1205.2,727.3 1206.1,727.7 1207,728.4 1207.9,728.5 1208.9,728.8 1209.8,728.8 1210.7,729 1211.6,729.3 1212.5,729.4 1213.5,729.7 1214.4,729.9 1215.3,730.2 1216.2,730.4 1217.2,730.5 1218.1,730.6 1219,730.5 1219.9,730.9 1220.8,731.2 1221.8,731.6 1222.7,731.6 1223.6,731.8 1224.5,731.9 1225.5,731.9 1226.4,732.2 1227.3,732.2 1228.2,732.2 1229.1,732.1 1230.1,732 1231,731.8 1231.9,731.4 1232.8,730.9 1233.8,730.9 1234.7,730.5 1235.6,730.2 1236.5,729.6 1237.4,729.2 1238.4,728.6 1239.3,728.2 1240.2,727.6 1241.1,726.7 1242.1,725.7 1243,724.6 1243.9,723.7 1244.8,722.7 1245.7,722 1246.7,720.9 1247.6,719.4 1248.5,717.8 1249.4,716.4 1250.4,715 1251.3,713.9 1252.2,712.7 1253.1,711.8 1254,710.4 1255,708.9 1255.9,707.7 1256.8,706.6 1257.7,705.7 1258.7,704.6 1259.6,703.7 1260.5,702.6 1261.4,701.7 1262.3,700.6 1263.3,699.5 1264.2,698.2 1265.1,697.2 1266,696.5 1267,695.3 1267.9,693.9 1268.8,692.5 1269.7,691.7 1270.6,690.6 1271.6,689.5 1272.5,688.1 1273.4,686.9 1274.3,685.3 1275.3,684.1 1276.2,682.8 1277.1,682 1278,680.7 1278.9,679 1279.9,677.2 1280.8,675.5 1281.7,674.4 1282.6,672.9 1283.6,671.5 1284.5,669.4 1285.4,667.5 1286.3,665.7 1287.2,664.5 1288.2,663.2 1289.1,661.8 1290,660 1290.9,658.4 1291.9,656.9 1292.8,655.8 1293.7,654.5 1294.6,653.8 1295.5,652.6 1296.5,651.5 1297.4,650.2 1298.3,649.5 1299.2,648.6 1300.2,647.9 1301.1,646.8 1302,646 1302.9,644.6 1303.8,644.2 1304.8,643.7 1305.7,643.5 1306.6,642.4 1307.5,641.8 1308.5,641.1 1309.4,640.8 1310.3,640.2 1311.2,639.7 1312.1,639.5 1313.1,638.9 1314,638.8 1314.9,638.7 1315.8,638.5 1316.8,638.2 1317.7,637.8 1318.6,637.6 1319.5,637.5 1320.4,637 1321.4,637 1322.3,637 1323.2,637.1 1324.1,636.7 1325.1,636.5 1326,636.2 1326.9,636.4 1327.8,636.3 1328.7,636.5 1329.7,636.5 1330.6,636.6 1331.5,636.5 1332.4,636.5 1333.3,636.6 1334.3,636.7 1335.2,636.6 1336.1,636.6 1337,636.6 1338,636.5 1338.9,636.5 1339.8,636.3 1340.7,636.4 1341.6,636.7 1342.6,637.1 1343.5,637.5 1344.4,637.1 1345.3,636.9 1346.3,637.1 1347.2,637.3 1348.1,637.8 1349,638.1 1349.9,638.6 1350.9,639.1 1351.8,639 1352.7,639.4 1353.6,639.2 1354.6,639.7 1355.5,639.7 1356.4,640.4 1357.3,640.9 1358.2,641.3 1359.2,642 1360.1,642.6 1361,643.5 1361.9,644.2 1362.9,645.1 1363.8,645.4 1364.7,645.9 1365.6,646.4 1366.5,647.4 1367.5,648.3 1368.4,649.5 1369.3,650.4 1370.2,651.4 1371.2,652 1372.1,653.4 1373,654.4 1373.9,656.2 1374.8,657.3 1375.8,659 1376.7,660.1 1377.6,661.7 1378.5,663.2 1379.5,664.6 1380.4,666.2 1381.3,667.6 1382.2,669.2 1383.1,670.6 1384.1,672.3 1385,673.7 1385.9,675.4 1386.8,677.1 1387.8,678.6 1388.7,680.2 1389.6,681.6 1390.5,683.1 1391.4,684.4 1392.4,685.7 1393.3,687.2 1394.2,688.5 1395.1,689.7 1396.1,690.5 1397,691.5 1397.9,692.7 1398.8,693.7 1399.7,694.9 1400.7,696 1401.6,697.3 1402.5,698.6 1403.4,699.4 1404.4,700.5 1405.3,701.1 1406.2,702 1407.1,703 1408,704.4 1409,705.6 1409.9,706.8 1410.8,707.7 1411.7,708.9 1412.7,710.1 1413.6,711.6 1414.5,712.8 1415.4,714 1416.3,715.4 1417.3,716.5 1418.2,717.8 1419.1,718.8 1420,720 1421,721.3 1421.9,722.5 1422.8,723.5 1423.7,724.8 1424.6,725.8 1425.6,726.9 1426.5,727.1 1427.4,727.6 1428.3,727.9 1429.3,728.6 1430.2,729.5 1431.1,730.3 1432,730.6 1432.9,730.9 1433.9,731.1 1434.8,731.6 1435.7,732 1436.6,732.1 1437.6,732.6 1438.5,732.6 1439.4,732.6 1440.3,732.4 1441.2,732.2 1442.2,731.9 1443.1,731.5 1444,731.3 1444.9,731 1445.9,731.2 1446.8,731.2 1447.7,731.2 1448.6,730.6 1449.5,730.5 1450.5,730.3 1451.4,730.4 1452.3,730.1 1453.2,730.1 1454.2,729.8 1455.1,729.3 1456,728.9 1456.9,728.5 1457.8,728.4 1458.8,728.5 1459.7,728.5 1460.6,728.4 1461.5,727.8 1462.4,727.7 1463.4,727.5 1464.3,727.4 1465.2,727 1466.1,726.6 1467.1,726.2 1468,725.9 1468.9,725.8 1469.8,725.3 1470.7,725.1 1471.7,724.7 1472.6,724.8 1473.5,724.3 1474.4,724.1 1475.4,723.6 1476.3,723.8 1477.2,723.6 1478.1,723.5 1479,723.1 1480,722.8 1480.9,722.6 1481.8,722.2 1482.7,721.8 1483.7,721.8 1484.6,721.8 1485.5,721.8 1486.4,721.3 1487.3,721.1 1488.3,721 1489.2,720.9 1490.1,720.8 1491,720.5 1492,720.6 1492.9,720.4 1493.8,720.4 1494.7,719.9 1495.6,719.8 1496.6,719.4 1497.5,719.2 1498.4,719.2 1499.3,718.9 1500.3,718.8 1501.2,718.6 1502.1,718.6 1503,718.4 1503.9,718.4 1504.9,718.5 1505.8,718.2 1506.7,718 1507.6,717.7 1508.6,717.7 1509.5,717.7 1510.4,717.5 1511.3,717.2 1512.2,717.3 1513.2,717.4 1514.1,717.3 1515,716.9 1515.9,716.6 1516.9,716.7 1517.8,716.8 1518.7,716.9 1519.6,716.6 1520.5,716.6 1521.5,716.6 1522.4,716.8 1523.3,716.8 1524.2,716.3 1525.2,716 1526.1,715.6 1527,715.9" fill="none" stroke="#8a8a8a" stroke-width="1.1" stroke-linejoin="round"/><path d="M1139.7,333.3 1140.6,333.3 1141.5,333.3 1142.5,333.3 1143.4,333.2 1144.3,333.2 1145.2,333.2 1146.2,333.2 1147.1,333.2 1148,333.2 1148.9,333.1 1149.8,333.1 1150.8,333.1 1151.7,333.1 1152.6,333.1 1153.5,333.1 1154.5,333 1155.4,333 1156.3,333 1157.2,333 1158.1,333 1159.1,333 1160,332.9 1160.9,332.9 1161.8,332.9 1162.8,332.9 1163.7,332.9 1164.6,332.8 1165.5,332.8 1166.4,332.8 1167.4,332.8 1168.3,332.8 1169.2,332.7 1170.1,332.7 1171.1,332.7 1172,332.7 1172.9,332.7 1173.8,332.6 1174.7,332.6 1175.7,332.6 1176.6,332.6 1177.5,332.6 1178.4,332.5 1179.4,332.5 1180.3,332.5 1181.2,332.5 1182.1,332.4 1183,332.4 1184,332.4 1184.9,332.4 1185.8,332.4 1186.7,332.3 1187.7,332.3 1188.6,332.3 1189.5,332.3 1190.4,332.2 1191.3,332.2 1192.3,332.2 1193.2,332.2 1194.1,332.1 1195,332.1 1196,332.1 1196.9,332.1 1197.8,332.1 1198.7,332 1199.6,332 1200.6,332 1201.5,332 1202.4,331.9 1203.3,331.9 1204.2,331.9 1205.2,331.8 1206.1,331.8 1207,331.8 1207.9,331.8 1208.9,331.7 1209.8,331.7 1210.7,331.7 1211.6,331.7 1212.5,331.6 1213.5,331.6 1214.4,331.6 1215.3,331.5 1216.2,331.5 1217.2,331.5 1218.1,331.5 1219,331.4 1219.9,331.4 1220.8,331.4 1221.8,331.3 1222.7,331.3 1223.6,331.3 1224.5,331.2 1225.5,331.2 1226.4,331.2 1227.3,331.1 1228.2,331.1 1229.1,331.1 1230.1,331 1231,331 1231.9,331 1232.8,330.9 1233.8,330.9 1234.7,330.9 1235.6,330.8 1236.5,330.8 1237.4,330.8 1238.4,330.7 1239.3,330.7 1240.2,330.6 1241.1,330.6 1242.1,330.5 1243,330.5 1243.9,330.4 1244.8,330.3 1245.7,330.3 1246.7,330.2 1247.6,330.1 1248.5,330.1 1249.4,330 1250.4,330 1251.3,329.9 1252.2,329.8 1253.1,329.8 1254,329.7 1255,329.7 1255.9,329.6 1256.8,329.6 1257.7,329.5 1258.7,329.5 1259.6,329.4 1260.5,329.4 1261.4,329.4 1262.3,329.3 1263.3,329.3 1264.2,329.3 1265.1,329.3 1266,329.3 1267,329.3 1267.9,329.3 1268.8,329.4 1269.7,329.4 1270.6,329.5 1271.6,329.6 1272.5,329.6 1273.4,329.7 1274.3,329.8 1275.3,329.8 1276.2,329.9 1277.1,329.9 1278,330 1278.9,330 1279.9,330 1280.8,330 1281.7,330 1282.6,329.9 1283.6,329.8 1284.5,329.7 1285.4,329.5 1286.3,329.4 1287.2,329.2 1288.2,329 1289.1,328.8 1290,328.6 1290.9,328.3 1291.9,328 1292.8,327.8 1293.7,327.5 1294.6,327.2 1295.5,326.9 1296.5,326.4 1297.4,325.9 1298.3,325.3 1299.2,324.7 1300.2,324 1301.1,323.2 1302,322.3 1302.9,321.4 1303.8,320.5 1304.8,319.5 1305.7,318.3 1306.6,316.9 1307.5,315.3 1308.5,313.6 1309.4,311.7 1310.3,309.8 1311.2,307.7 1312.1,305.6 1313.1,303.4 1314,301.2 1314.9,298.8 1315.8,296.2 1316.8,293.4 1317.7,290.5 1318.6,287.7 1319.5,284.8 1320.4,281.7 1321.4,278.6 1322.3,275.6 1323.2,273.1 1324.1,271 1325.1,269.1 1326,267.4 1326.9,265.9 1327.8,264.7 1328.7,263.8 1329.7,263 1330.6,262.3 1331.5,261.7 1332.4,261.3 1333.3,261.1 1334.3,261.3 1335.2,261.7 1336.1,262.3 1337,263 1338,263.8 1338.9,264.7 1339.8,265.9 1340.7,267.4 1341.6,269.1 1342.6,271 1343.5,273.1 1344.4,275.6 1345.3,278.6 1346.3,281.7 1347.2,284.8 1348.1,287.7 1349,290.5 1349.9,293.4 1350.9,296.2 1351.8,298.8 1352.7,301.2 1353.6,303.4 1354.6,305.6 1355.5,307.7 1356.4,309.8 1357.3,311.7 1358.2,313.6 1359.2,315.3 1360.1,316.9 1361,318.3 1361.9,319.5 1362.9,320.5 1363.8,321.4 1364.7,322.3 1365.6,323.2 1366.5,324 1367.5,324.7 1368.4,325.3 1369.3,325.9 1370.2,326.4 1371.2,326.9 1372.1,327.2 1373,327.5 1373.9,327.8 1374.8,328 1375.8,328.3 1376.7,328.6 1377.6,328.8 1378.5,329 1379.5,329.2 1380.4,329.4 1381.3,329.5 1382.2,329.7 1383.1,329.8 1384.1,329.9 1385,330 1385.9,330 1386.8,330 1387.8,330 1388.7,330 1389.6,329.9 1390.5,329.9 1391.4,329.8 1392.4,329.8 1393.3,329.7 1394.2,329.6 1395.1,329.6 1396.1,329.5 1397,329.4 1397.9,329.4 1398.8,329.3 1399.7,329.3 1400.7,329.3 1401.6,329.3 1402.5,329.3 1403.4,329.3 1404.4,329.3 1405.3,329.4 1406.2,329.4 1407.1,329.4 1408,329.5 1409,329.5 1409.9,329.6 1410.8,329.6 1411.7,329.7 1412.7,329.7 1413.6,329.8 1414.5,329.8 1415.4,329.9 1416.3,330 1417.3,330 1418.2,330.1 1419.1,330.1 1420,330.2 1421,330.3 1421.9,330.3 1422.8,330.4 1423.7,330.5 1424.6,330.5 1425.6,330.6 1426.5,330.6 1427.4,330.7 1428.3,330.7 1429.3,330.8 1430.2,330.8 1431.1,330.8 1432,330.9 1432.9,330.9 1433.9,330.9 1434.8,331 1435.7,331 1436.6,331 1437.6,331.1 1438.5,331.1 1439.4,331.1 1440.3,331.2 1441.2,331.2 1442.2,331.2 1443.1,331.3 1444,331.3 1444.9,331.3 1445.9,331.4 1446.8,331.4 1447.7,331.4 1448.6,331.5 1449.5,331.5 1450.5,331.5 1451.4,331.5 1452.3,331.6 1453.2,331.6 1454.2,331.6 1455.1,331.7 1456,331.7 1456.9,331.7 1457.8,331.7 1458.8,331.8 1459.7,331.8 1460.6,331.8 1461.5,331.8 1462.4,331.9 1463.4,331.9 1464.3,331.9 1465.2,332 1466.1,332 1467.1,332 1468,332 1468.9,332.1 1469.8,332.1 1470.7,332.1 1471.7,332.1 1472.6,332.1 1473.5,332.2 1474.4,332.2 1475.4,332.2 1476.3,332.2 1477.2,332.3 1478.1,332.3 1479,332.3 1480,332.3 1480.9,332.4 1481.8,332.4 1482.7,332.4 1483.7,332.4 1484.6,332.4 1485.5,332.5 1486.4,332.5 1487.3,332.5 1488.3,332.5 1489.2,332.6 1490.1,332.6 1491,332.6 1492,332.6 1492.9,332.6 1493.8,332.7 1494.7,332.7 1495.6,332.7 1496.6,332.7 1497.5,332.7 1498.4,332.8 1499.3,332.8 1500.3,332.8 1501.2,332.8 1502.1,332.8 1503,332.9 1503.9,332.9 1504.9,332.9 1505.8,332.9 1506.7,332.9 1507.6,333 1508.6,333 1509.5,333 1510.4,333 1511.3,333 1512.2,333 1513.2,333.1 1514.1,333.1 1515,333.1 1515.9,333.1 1516.9,333.1 1517.8,333.1 1518.7,333.2 1519.6,333.2 1520.5,333.2 1521.5,333.2 1522.4,333.2 1523.3,333.2 1524.2,333.3 1525.2,333.3 1526.1,333.3 1527,333.3" fill="none" stroke="#0f78f2" stroke-width="3.6" stroke-dasharray="4.6 9.5" stroke-linecap="round"/><path d="M1139.7,408.6 1140.6,408.6 1141.5,408.6 1142.5,408.6 1143.4,408.6 1144.3,408.6 1145.2,408.6 1146.2,408.6 1147.1,408.6 1148,408.6 1148.9,408.6 1149.8,408.6 1150.8,408.6 1151.7,408.6 1152.6,408.5 1153.5,408.5 1154.5,408.5 1155.4,408.5 1156.3,408.5 1157.2,408.5 1158.1,408.5 1159.1,408.5 1160,408.5 1160.9,408.5 1161.8,408.4 1162.8,408.4 1163.7,408.4 1164.6,408.4 1165.5,408.4 1166.4,408.4 1167.4,408.4 1168.3,408.4 1169.2,408.3 1170.1,408.3 1171.1,408.3 1172,408.3 1172.9,408.3 1173.8,408.3 1174.7,408.2 1175.7,408.2 1176.6,408.2 1177.5,408.2 1178.4,408.2 1179.4,408.2 1180.3,408.1 1181.2,408.1 1182.1,408.1 1183,408.1 1184,408.1 1184.9,408.1 1185.8,408 1186.7,408 1187.7,408 1188.6,408 1189.5,408 1190.4,408 1191.3,407.9 1192.3,407.9 1193.2,407.9 1194.1,407.9 1195,407.8 1196,407.8 1196.9,407.8 1197.8,407.8 1198.7,407.7 1199.6,407.7 1200.6,407.7 1201.5,407.6 1202.4,407.6 1203.3,407.6 1204.2,407.5 1205.2,407.5 1206.1,407.5 1207,407.4 1207.9,407.4 1208.9,407.4 1209.8,407.3 1210.7,407.3 1211.6,407.2 1212.5,407.2 1213.5,407.2 1214.4,407.1 1215.3,407.1 1216.2,407 1217.2,407 1218.1,407 1219,406.9 1219.9,406.9 1220.8,406.8 1221.8,406.7 1222.7,406.7 1223.6,406.6 1224.5,406.5 1225.5,406.4 1226.4,406.4 1227.3,406.3 1228.2,406.2 1229.1,406.2 1230.1,406.1 1231,406.1 1231.9,406 1232.8,406 1233.8,405.9 1234.7,405.9 1235.6,405.9 1236.5,405.9 1237.4,405.9 1238.4,405.9 1239.3,406 1240.2,406 1241.1,406.1 1242.1,406.1 1243,406.2 1243.9,406.3 1244.8,406.4 1245.7,406.5 1246.7,406.6 1247.6,406.6 1248.5,406.7 1249.4,406.9 1250.4,407 1251.3,407.1 1252.2,407.2 1253.1,407.2 1254,407.3 1255,407.4 1255.9,407.5 1256.8,407.6 1257.7,407.7 1258.7,407.8 1259.6,407.9 1260.5,408 1261.4,408.1 1262.3,408.2 1263.3,408.2 1264.2,408.3 1265.1,408.4 1266,408.5 1267,408.5 1267.9,408.6 1268.8,408.6 1269.7,408.6 1270.6,408.5 1271.6,408.4 1272.5,408.2 1273.4,407.9 1274.3,407.6 1275.3,407.2 1276.2,406.8 1277.1,406.4 1278,405.9 1278.9,405.4 1279.9,404.8 1280.8,404.3 1281.7,403.7 1282.6,403.2 1283.6,402.6 1284.5,402.1 1285.4,401.5 1286.3,401 1287.2,400.4 1288.2,399.8 1289.1,399.1 1290,398.4 1290.9,397.7 1291.9,396.9 1292.8,396 1293.7,395.1 1294.6,394.1 1295.5,392.9 1296.5,391.5 1297.4,389.9 1298.3,388.2 1299.2,386.3 1300.2,384.3 1301.1,382.3 1302,380.3 1302.9,378.4 1303.8,376.5 1304.8,374.7 1305.7,372.9 1306.6,371.1 1307.5,369.2 1308.5,367.4 1309.4,365.6 1310.3,363.8 1311.2,362 1312.1,360.3 1313.1,358.7 1314,357.1 1314.9,355.6 1315.8,354 1316.8,352.4 1317.7,350.8 1318.6,349.3 1319.5,347.9 1320.4,346.6 1321.4,345.4 1322.3,344.4 1323.2,343.5 1324.1,342.9 1325.1,342.3 1326,341.7 1326.9,341.2 1327.8,340.7 1328.7,340.3 1329.7,339.9 1330.6,339.5 1331.5,339.3 1332.4,339.2 1333.3,339.1 1334.3,339.2 1335.2,339.3 1336.1,339.5 1337,339.9 1338,340.3 1338.9,340.7 1339.8,341.2 1340.7,341.7 1341.6,342.3 1342.6,342.9 1343.5,343.5 1344.4,344.4 1345.3,345.4 1346.3,346.6 1347.2,347.9 1348.1,349.3 1349,350.8 1349.9,352.4 1350.9,354 1351.8,355.6 1352.7,357.1 1353.6,358.7 1354.6,360.3 1355.5,362 1356.4,363.8 1357.3,365.6 1358.2,367.4 1359.2,369.2 1360.1,371.1 1361,372.9 1361.9,374.7 1362.9,376.5 1363.8,378.4 1364.7,380.3 1365.6,382.3 1366.5,384.3 1367.5,386.3 1368.4,388.2 1369.3,389.9 1370.2,391.5 1371.2,392.9 1372.1,394.1 1373,395.1 1373.9,396 1374.8,396.9 1375.8,397.7 1376.7,398.4 1377.6,399.1 1378.5,399.8 1379.5,400.4 1380.4,401 1381.3,401.5 1382.2,402.1 1383.1,402.6 1384.1,403.2 1385,403.7 1385.9,404.3 1386.8,404.8 1387.8,405.4 1388.7,405.9 1389.6,406.4 1390.5,406.8 1391.4,407.2 1392.4,407.6 1393.3,407.9 1394.2,408.2 1395.1,408.4 1396.1,408.5 1397,408.6 1397.9,408.6 1398.8,408.6 1399.7,408.5 1400.7,408.5 1401.6,408.4 1402.5,408.3 1403.4,408.2 1404.4,408.2 1405.3,408.1 1406.2,408 1407.1,407.9 1408,407.8 1409,407.7 1409.9,407.6 1410.8,407.5 1411.7,407.4 1412.7,407.3 1413.6,407.2 1414.5,407.2 1415.4,407.1 1416.3,407 1417.3,406.9 1418.2,406.7 1419.1,406.6 1420,406.6 1421,406.5 1421.9,406.4 1422.8,406.3 1423.7,406.2 1424.6,406.1 1425.6,406.1 1426.5,406 1427.4,406 1428.3,405.9 1429.3,405.9 1430.2,405.9 1431.1,405.9 1432,405.9 1432.9,405.9 1433.9,406 1434.8,406 1435.7,406.1 1436.6,406.1 1437.6,406.2 1438.5,406.2 1439.4,406.3 1440.3,406.4 1441.2,406.4 1442.2,406.5 1443.1,406.6 1444,406.7 1444.9,406.7 1445.9,406.8 1446.8,406.9 1447.7,406.9 1448.6,407 1449.5,407 1450.5,407 1451.4,407.1 1452.3,407.1 1453.2,407.2 1454.2,407.2 1455.1,407.2 1456,407.3 1456.9,407.3 1457.8,407.4 1458.8,407.4 1459.7,407.4 1460.6,407.5 1461.5,407.5 1462.4,407.5 1463.4,407.6 1464.3,407.6 1465.2,407.6 1466.1,407.7 1467.1,407.7 1468,407.7 1468.9,407.8 1469.8,407.8 1470.7,407.8 1471.7,407.8 1472.6,407.9 1473.5,407.9 1474.4,407.9 1475.4,407.9 1476.3,408 1477.2,408 1478.1,408 1479,408 1480,408 1480.9,408 1481.8,408.1 1482.7,408.1 1483.7,408.1 1484.6,408.1 1485.5,408.1 1486.4,408.1 1487.3,408.2 1488.3,408.2 1489.2,408.2 1490.1,408.2 1491,408.2 1492,408.2 1492.9,408.3 1493.8,408.3 1494.7,408.3 1495.6,408.3 1496.6,408.3 1497.5,408.3 1498.4,408.4 1499.3,408.4 1500.3,408.4 1501.2,408.4 1502.1,408.4 1503,408.4 1503.9,408.4 1504.9,408.4 1505.8,408.5 1506.7,408.5 1507.6,408.5 1508.6,408.5 1509.5,408.5 1510.4,408.5 1511.3,408.5 1512.2,408.5 1513.2,408.5 1514.1,408.5 1515,408.6 1515.9,408.6 1516.9,408.6 1517.8,408.6 1518.7,408.6 1519.6,408.6 1520.5,408.6 1521.5,408.6 1522.4,408.6 1523.3,408.6 1524.2,408.6 1525.2,408.6 1526.1,408.6 1527,408.6" fill="none" stroke="#0f78f2" stroke-width="3.6" stroke-dasharray="4.6 9.5" stroke-linecap="round"/><path d="M1139.7,485.8 1140.6,485.8 1141.5,485.8 1142.5,485.8 1143.4,485.8 1144.3,485.8 1145.2,485.8 1146.2,485.7 1147.1,485.7 1148,485.7 1148.9,485.7 1149.8,485.7 1150.8,485.7 1151.7,485.7 1152.6,485.6 1153.5,485.6 1154.5,485.6 1155.4,485.6 1156.3,485.5 1157.2,485.5 1158.1,485.5 1159.1,485.5 1160,485.4 1160.9,485.4 1161.8,485.4 1162.8,485.3 1163.7,485.3 1164.6,485.3 1165.5,485.3 1166.4,485.2 1167.4,485.2 1168.3,485.1 1169.2,485.1 1170.1,485.1 1171.1,485 1172,485 1172.9,485 1173.8,484.9 1174.7,484.9 1175.7,484.9 1176.6,484.8 1177.5,484.8 1178.4,484.7 1179.4,484.7 1180.3,484.7 1181.2,484.6 1182.1,484.6 1183,484.5 1184,484.5 1184.9,484.4 1185.8,484.4 1186.7,484.4 1187.7,484.3 1188.6,484.3 1189.5,484.2 1190.4,484.2 1191.3,484.1 1192.3,484 1193.2,484 1194.1,483.9 1195,483.8 1196,483.7 1196.9,483.6 1197.8,483.5 1198.7,483.4 1199.6,483.3 1200.6,483.2 1201.5,483.2 1202.4,483.1 1203.3,483 1204.2,482.9 1205.2,482.8 1206.1,482.7 1207,482.6 1207.9,482.5 1208.9,482.5 1209.8,482.4 1210.7,482.3 1211.6,482.3 1212.5,482.2 1213.5,482.2 1214.4,482.1 1215.3,482.1 1216.2,482.1 1217.2,482.1 1218.1,482.1 1219,482.1 1219.9,482.1 1220.8,482.2 1221.8,482.2 1222.7,482.2 1223.6,482.3 1224.5,482.3 1225.5,482.4 1226.4,482.4 1227.3,482.5 1228.2,482.5 1229.1,482.6 1230.1,482.6 1231,482.7 1231.9,482.8 1232.8,482.8 1233.8,482.9 1234.7,483 1235.6,483 1236.5,483.1 1237.4,483.2 1238.4,483.2 1239.3,483.3 1240.2,483.4 1241.1,483.5 1242.1,483.5 1243,483.6 1243.9,483.7 1244.8,483.8 1245.7,483.9 1246.7,484 1247.6,484.1 1248.5,484.2 1249.4,484.3 1250.4,484.4 1251.3,484.6 1252.2,484.7 1253.1,484.8 1254,484.9 1255,485.1 1255.9,485.2 1256.8,485.4 1257.7,485.6 1258.7,485.8 1259.6,486.1 1260.5,486.3 1261.4,486.6 1262.3,486.9 1263.3,487.2 1264.2,487.5 1265.1,487.7 1266,487.9 1267,488.1 1267.9,488.2 1268.8,488.3 1269.7,488.3 1270.6,488.2 1271.6,488.1 1272.5,488 1273.4,487.8 1274.3,487.5 1275.3,487.2 1276.2,486.9 1277.1,486.5 1278,486 1278.9,485.6 1279.9,485.1 1280.8,484.6 1281.7,484.1 1282.6,483.5 1283.6,483 1284.5,482.4 1285.4,481.8 1286.3,481 1287.2,480.2 1288.2,479.1 1289.1,478 1290,476.8 1290.9,475.5 1291.9,474.1 1292.8,472.7 1293.7,471.3 1294.6,469.8 1295.5,468.3 1296.5,466.6 1297.4,464.7 1298.3,462.8 1299.2,460.8 1300.2,458.7 1301.1,456.6 1302,454.6 1302.9,452.6 1303.8,450.6 1304.8,448.8 1305.7,446.9 1306.6,445 1307.5,443.1 1308.5,441.2 1309.4,439.3 1310.3,437.5 1311.2,435.7 1312.1,434.1 1313.1,432.6 1314,431.2 1314.9,429.9 1315.8,428.6 1316.8,427.4 1317.7,426.2 1318.6,425.1 1319.5,424 1320.4,423.1 1321.4,422.2 1322.3,421.4 1323.2,420.7 1324.1,420.1 1325.1,419.6 1326,419 1326.9,418.5 1327.8,418 1328.7,417.6 1329.7,417.2 1330.6,416.9 1331.5,416.6 1332.4,416.5 1333.3,416.4 1334.3,416.5 1335.2,416.6 1336.1,416.9 1337,417.2 1338,417.6 1338.9,418 1339.8,418.5 1340.7,419 1341.6,419.6 1342.6,420.1 1343.5,420.7 1344.4,421.4 1345.3,422.2 1346.3,423.1 1347.2,424 1348.1,425.1 1349,426.2 1349.9,427.4 1350.9,428.6 1351.8,429.9 1352.7,431.2 1353.6,432.6 1354.6,434.1 1355.5,435.7 1356.4,437.5 1357.3,439.3 1358.2,441.2 1359.2,443.1 1360.1,445 1361,446.9 1361.9,448.8 1362.9,450.6 1363.8,452.6 1364.7,454.6 1365.6,456.6 1366.5,458.7 1367.5,460.8 1368.4,462.8 1369.3,464.7 1370.2,466.6 1371.2,468.3 1372.1,469.8 1373,471.3 1373.9,472.7 1374.8,474.1 1375.8,475.5 1376.7,476.8 1377.6,478 1378.5,479.1 1379.5,480.2 1380.4,481 1381.3,481.8 1382.2,482.4 1383.1,483 1384.1,483.5 1385,484.1 1385.9,484.6 1386.8,485.1 1387.8,485.6 1388.7,486 1389.6,486.5 1390.5,486.9 1391.4,487.2 1392.4,487.5 1393.3,487.8 1394.2,488 1395.1,488.1 1396.1,488.2 1397,488.3 1397.9,488.3 1398.8,488.2 1399.7,488.1 1400.7,487.9 1401.6,487.7 1402.5,487.5 1403.4,487.2 1404.4,486.9 1405.3,486.6 1406.2,486.3 1407.1,486.1 1408,485.8 1409,485.6 1409.9,485.4 1410.8,485.2 1411.7,485.1 1412.7,484.9 1413.6,484.8 1414.5,484.7 1415.4,484.6 1416.3,484.4 1417.3,484.3 1418.2,484.2 1419.1,484.1 1420,484 1421,483.9 1421.9,483.8 1422.8,483.7 1423.7,483.6 1424.6,483.5 1425.6,483.5 1426.5,483.4 1427.4,483.3 1428.3,483.2 1429.3,483.2 1430.2,483.1 1431.1,483 1432,483 1432.9,482.9 1433.9,482.8 1434.8,482.8 1435.7,482.7 1436.6,482.6 1437.6,482.6 1438.5,482.5 1439.4,482.5 1440.3,482.4 1441.2,482.4 1442.2,482.3 1443.1,482.3 1444,482.2 1444.9,482.2 1445.9,482.2 1446.8,482.1 1447.7,482.1 1448.6,482.1 1449.5,482.1 1450.5,482.1 1451.4,482.1 1452.3,482.1 1453.2,482.2 1454.2,482.2 1455.1,482.3 1456,482.3 1456.9,482.4 1457.8,482.5 1458.8,482.5 1459.7,482.6 1460.6,482.7 1461.5,482.8 1462.4,482.9 1463.4,483 1464.3,483.1 1465.2,483.2 1466.1,483.2 1467.1,483.3 1468,483.4 1468.9,483.5 1469.8,483.6 1470.7,483.7 1471.7,483.8 1472.6,483.9 1473.5,484 1474.4,484 1475.4,484.1 1476.3,484.2 1477.2,484.2 1478.1,484.3 1479,484.3 1480,484.4 1480.9,484.4 1481.8,484.4 1482.7,484.5 1483.7,484.5 1484.6,484.6 1485.5,484.6 1486.4,484.7 1487.3,484.7 1488.3,484.7 1489.2,484.8 1490.1,484.8 1491,484.9 1492,484.9 1492.9,484.9 1493.8,485 1494.7,485 1495.6,485 1496.6,485.1 1497.5,485.1 1498.4,485.1 1499.3,485.2 1500.3,485.2 1501.2,485.3 1502.1,485.3 1503,485.3 1503.9,485.3 1504.9,485.4 1505.8,485.4 1506.7,485.4 1507.6,485.5 1508.6,485.5 1509.5,485.5 1510.4,485.5 1511.3,485.6 1512.2,485.6 1513.2,485.6 1514.1,485.6 1515,485.7 1515.9,485.7 1516.9,485.7 1517.8,485.7 1518.7,485.7 1519.6,485.7 1520.5,485.7 1521.5,485.8 1522.4,485.8 1523.3,485.8 1524.2,485.8 1525.2,485.8 1526.1,485.8 1527,485.8" fill="none" stroke="#0f78f2" stroke-width="3.6" stroke-dasharray="4.6 9.5" stroke-linecap="round"/><path d="M1139.7,563 1140.6,563 1141.5,563 1142.5,563 1143.4,562.9 1144.3,562.9 1145.2,562.9 1146.2,562.9 1147.1,562.8 1148,562.8 1148.9,562.8 1149.8,562.8 1150.8,562.7 1151.7,562.7 1152.6,562.7 1153.5,562.6 1154.5,562.6 1155.4,562.6 1156.3,562.5 1157.2,562.5 1158.1,562.5 1159.1,562.4 1160,562.4 1160.9,562.4 1161.8,562.3 1162.8,562.3 1163.7,562.2 1164.6,562.2 1165.5,562.1 1166.4,562.1 1167.4,562.1 1168.3,562 1169.2,562 1170.1,561.9 1171.1,561.9 1172,561.8 1172.9,561.8 1173.8,561.7 1174.7,561.7 1175.7,561.6 1176.6,561.6 1177.5,561.5 1178.4,561.5 1179.4,561.4 1180.3,561.4 1181.2,561.3 1182.1,561.3 1183,561.2 1184,561.1 1184.9,561.1 1185.8,561 1186.7,561 1187.7,560.9 1188.6,560.9 1189.5,560.8 1190.4,560.7 1191.3,560.6 1192.3,560.6 1193.2,560.5 1194.1,560.4 1195,560.3 1196,560.2 1196.9,560.1 1197.8,560 1198.7,559.9 1199.6,559.8 1200.6,559.7 1201.5,559.6 1202.4,559.5 1203.3,559.4 1204.2,559.4 1205.2,559.3 1206.1,559.3 1207,559.3 1207.9,559.3 1208.9,559.3 1209.8,559.3 1210.7,559.4 1211.6,559.4 1212.5,559.4 1213.5,559.5 1214.4,559.5 1215.3,559.6 1216.2,559.7 1217.2,559.8 1218.1,559.8 1219,559.9 1219.9,560 1220.8,560.1 1221.8,560.2 1222.7,560.4 1223.6,560.5 1224.5,560.6 1225.5,560.7 1226.4,560.8 1227.3,561 1228.2,561.1 1229.1,561.2 1230.1,561.4 1231,561.5 1231.9,561.7 1232.8,561.8 1233.8,562 1234.7,562.1 1235.6,562.3 1236.5,562.4 1237.4,562.6 1238.4,562.8 1239.3,563 1240.2,563.3 1241.1,563.6 1242.1,564 1243,564.3 1243.9,564.7 1244.8,565 1245.7,565.4 1246.7,565.8 1247.6,566.1 1248.5,566.5 1249.4,566.8 1250.4,567.1 1251.3,567.3 1252.2,567.6 1253.1,567.7 1254,567.9 1255,568 1255.9,568 1256.8,568 1257.7,567.9 1258.7,567.8 1259.6,567.7 1260.5,567.5 1261.4,567.3 1262.3,567 1263.3,566.8 1264.2,566.5 1265.1,566.1 1266,565.8 1267,565.5 1267.9,565.1 1268.8,564.7 1269.7,564.3 1270.6,563.9 1271.6,563.4 1272.5,562.8 1273.4,562.1 1274.3,561.3 1275.3,560.4 1276.2,559.5 1277.1,558.5 1278,557.4 1278.9,556.3 1279.9,555.1 1280.8,553.9 1281.7,552.7 1282.6,551.5 1283.6,550.3 1284.5,549.1 1285.4,547.9 1286.3,546.6 1287.2,545.2 1288.2,543.8 1289.1,542.3 1290,540.8 1290.9,539.2 1291.9,537.7 1292.8,536.1 1293.7,534.6 1294.6,533.1 1295.5,531.6 1296.5,530.1 1297.4,528.7 1298.3,527.2 1299.2,525.7 1300.2,524.2 1301.1,522.7 1302,521.3 1302.9,519.8 1303.8,518.4 1304.8,517 1305.7,515.6 1306.6,514.2 1307.5,512.8 1308.5,511.5 1309.4,510.1 1310.3,508.8 1311.2,507.5 1312.1,506.2 1313.1,505 1314,503.8 1314.9,502.6 1315.8,501.4 1316.8,500.2 1317.7,499 1318.6,497.8 1319.5,496.6 1320.4,495.6 1321.4,494.7 1322.3,493.9 1323.2,493.3 1324.1,492.8 1325.1,492.3 1326,491.9 1326.9,491.5 1327.8,491.1 1328.7,490.8 1329.7,490.5 1330.6,490.2 1331.5,490.1 1332.4,489.9 1333.3,489.9 1334.3,489.9 1335.2,490.1 1336.1,490.2 1337,490.5 1338,490.8 1338.9,491.1 1339.8,491.5 1340.7,491.9 1341.6,492.3 1342.6,492.8 1343.5,493.3 1344.4,493.9 1345.3,494.7 1346.3,495.6 1347.2,496.6 1348.1,497.8 1349,499 1349.9,500.2 1350.9,501.4 1351.8,502.6 1352.7,503.8 1353.6,505 1354.6,506.2 1355.5,507.5 1356.4,508.8 1357.3,510.1 1358.2,511.5 1359.2,512.8 1360.1,514.2 1361,515.6 1361.9,517 1362.9,518.4 1363.8,519.8 1364.7,521.3 1365.6,522.7 1366.5,524.2 1367.5,525.7 1368.4,527.2 1369.3,528.7 1370.2,530.1 1371.2,531.6 1372.1,533.1 1373,534.6 1373.9,536.1 1374.8,537.7 1375.8,539.2 1376.7,540.8 1377.6,542.3 1378.5,543.8 1379.5,545.2 1380.4,546.6 1381.3,547.9 1382.2,549.1 1383.1,550.3 1384.1,551.5 1385,552.7 1385.9,553.9 1386.8,555.1 1387.8,556.3 1388.7,557.4 1389.6,558.5 1390.5,559.5 1391.4,560.4 1392.4,561.3 1393.3,562.1 1394.2,562.8 1395.1,563.4 1396.1,563.9 1397,564.3 1397.9,564.7 1398.8,565.1 1399.7,565.5 1400.7,565.8 1401.6,566.1 1402.5,566.5 1403.4,566.8 1404.4,567 1405.3,567.3 1406.2,567.5 1407.1,567.7 1408,567.8 1409,567.9 1409.9,568 1410.8,568 1411.7,568 1412.7,567.9 1413.6,567.7 1414.5,567.6 1415.4,567.3 1416.3,567.1 1417.3,566.8 1418.2,566.5 1419.1,566.1 1420,565.8 1421,565.4 1421.9,565 1422.8,564.7 1423.7,564.3 1424.6,564 1425.6,563.6 1426.5,563.3 1427.4,563 1428.3,562.8 1429.3,562.6 1430.2,562.4 1431.1,562.3 1432,562.1 1432.9,562 1433.9,561.8 1434.8,561.7 1435.7,561.5 1436.6,561.4 1437.6,561.2 1438.5,561.1 1439.4,561 1440.3,560.8 1441.2,560.7 1442.2,560.6 1443.1,560.5 1444,560.4 1444.9,560.2 1445.9,560.1 1446.8,560 1447.7,559.9 1448.6,559.8 1449.5,559.8 1450.5,559.7 1451.4,559.6 1452.3,559.5 1453.2,559.5 1454.2,559.4 1455.1,559.4 1456,559.4 1456.9,559.3 1457.8,559.3 1458.8,559.3 1459.7,559.3 1460.6,559.3 1461.5,559.3 1462.4,559.4 1463.4,559.4 1464.3,559.5 1465.2,559.6 1466.1,559.7 1467.1,559.8 1468,559.9 1468.9,560 1469.8,560.1 1470.7,560.2 1471.7,560.3 1472.6,560.4 1473.5,560.5 1474.4,560.6 1475.4,560.6 1476.3,560.7 1477.2,560.8 1478.1,560.9 1479,560.9 1480,561 1480.9,561 1481.8,561.1 1482.7,561.1 1483.7,561.2 1484.6,561.3 1485.5,561.3 1486.4,561.4 1487.3,561.4 1488.3,561.5 1489.2,561.5 1490.1,561.6 1491,561.6 1492,561.7 1492.9,561.7 1493.8,561.8 1494.7,561.8 1495.6,561.9 1496.6,561.9 1497.5,562 1498.4,562 1499.3,562.1 1500.3,562.1 1501.2,562.1 1502.1,562.2 1503,562.2 1503.9,562.3 1504.9,562.3 1505.8,562.4 1506.7,562.4 1507.6,562.4 1508.6,562.5 1509.5,562.5 1510.4,562.5 1511.3,562.6 1512.2,562.6 1513.2,562.6 1514.1,562.7 1515,562.7 1515.9,562.7 1516.9,562.8 1517.8,562.8 1518.7,562.8 1519.6,562.8 1520.5,562.9 1521.5,562.9 1522.4,562.9 1523.3,562.9 1524.2,563 1525.2,563 1526.1,563 1527,563" fill="none" stroke="#0f78f2" stroke-width="3.6" stroke-dasharray="4.6 9.5" stroke-linecap="round"/><path d="M1139.7,636.4 1140.6,636.4 1141.5,636.4 1142.5,636.4 1143.4,636.5 1144.3,636.5 1145.2,636.5 1146.2,636.5 1147.1,636.6 1148,636.6 1148.9,636.7 1149.8,636.7 1150.8,636.8 1151.7,636.8 1152.6,636.9 1153.5,636.9 1154.5,637 1155.4,637.1 1156.3,637.1 1157.2,637.2 1158.1,637.3 1159.1,637.4 1160,637.4 1160.9,637.5 1161.8,637.6 1162.8,637.7 1163.7,637.8 1164.6,637.8 1165.5,637.9 1166.4,638 1167.4,638.1 1168.3,638.2 1169.2,638.3 1170.1,638.4 1171.1,638.5 1172,638.6 1172.9,638.7 1173.8,638.8 1174.7,638.9 1175.7,639 1176.6,639.1 1177.5,639.2 1178.4,639.3 1179.4,639.4 1180.3,639.5 1181.2,639.6 1182.1,639.8 1183,639.9 1184,640.1 1184.9,640.2 1185.8,640.4 1186.7,640.6 1187.7,640.7 1188.6,640.9 1189.5,641.1 1190.4,641.3 1191.3,641.5 1192.3,641.7 1193.2,641.9 1194.1,642.1 1195,642.3 1196,642.5 1196.9,642.7 1197.8,642.9 1198.7,643.1 1199.6,643.3 1200.6,643.5 1201.5,643.7 1202.4,643.9 1203.3,644.1 1204.2,644.3 1205.2,644.4 1206.1,644.6 1207,644.8 1207.9,645 1208.9,645.2 1209.8,645.4 1210.7,645.6 1211.6,645.8 1212.5,646.1 1213.5,646.3 1214.4,646.5 1215.3,646.8 1216.2,647 1217.2,647.2 1218.1,647.4 1219,647.6 1219.9,647.8 1220.8,648 1221.8,648.2 1222.7,648.3 1223.6,648.4 1224.5,648.5 1225.5,648.6 1226.4,648.6 1227.3,648.6 1228.2,648.6 1229.1,648.5 1230.1,648.5 1231,648.4 1231.9,648.4 1232.8,648.3 1233.8,648.2 1234.7,648.1 1235.6,648 1236.5,647.9 1237.4,647.8 1238.4,647.5 1239.3,647.3 1240.2,646.9 1241.1,646.5 1242.1,646 1243,645.5 1243.9,645 1244.8,644.4 1245.7,643.8 1246.7,643.1 1247.6,642.4 1248.5,641.7 1249.4,641 1250.4,640.2 1251.3,639.4 1252.2,638.7 1253.1,637.9 1254,637.1 1255,636.4 1255.9,635.6 1256.8,634.8 1257.7,634 1258.7,633.1 1259.6,632.2 1260.5,631.3 1261.4,630.3 1262.3,629.3 1263.3,628.3 1264.2,627.2 1265.1,626.1 1266,625 1267,623.9 1267.9,622.7 1268.8,621.6 1269.7,620.4 1270.6,619.3 1271.6,618.1 1272.5,616.9 1273.4,615.7 1274.3,614.6 1275.3,613.4 1276.2,612.2 1277.1,611 1278,609.8 1278.9,608.6 1279.9,607.3 1280.8,606 1281.7,604.7 1282.6,603.4 1283.6,602.1 1284.5,600.8 1285.4,599.5 1286.3,598.1 1287.2,596.8 1288.2,595.5 1289.1,594.2 1290,592.9 1290.9,591.6 1291.9,590.3 1292.8,589 1293.7,587.7 1294.6,586.5 1295.5,585.3 1296.5,584 1297.4,582.7 1298.3,581.4 1299.2,580.1 1300.2,578.9 1301.1,577.7 1302,576.5 1302.9,575.5 1303.8,574.5 1304.8,573.6 1305.7,572.7 1306.6,571.8 1307.5,570.9 1308.5,570.1 1309.4,569.3 1310.3,568.6 1311.2,567.9 1312.1,567.3 1313.1,566.9 1314,566.5 1314.9,566.2 1315.8,565.9 1316.8,565.6 1317.7,565.4 1318.6,565.2 1319.5,565 1320.4,564.8 1321.4,564.7 1322.3,564.5 1323.2,564.4 1324.1,564.4 1325.1,564.3 1326,564.2 1326.9,564.2 1327.8,564.1 1328.7,564.1 1329.7,564.1 1330.6,564 1331.5,564 1332.4,564 1333.3,564 1334.3,564 1335.2,564 1336.1,564 1337,564.1 1338,564.1 1338.9,564.1 1339.8,564.2 1340.7,564.2 1341.6,564.3 1342.6,564.4 1343.5,564.4 1344.4,564.5 1345.3,564.7 1346.3,564.8 1347.2,565 1348.1,565.2 1349,565.4 1349.9,565.6 1350.9,565.9 1351.8,566.2 1352.7,566.5 1353.6,566.9 1354.6,567.3 1355.5,567.9 1356.4,568.6 1357.3,569.3 1358.2,570.1 1359.2,570.9 1360.1,571.8 1361,572.7 1361.9,573.6 1362.9,574.5 1363.8,575.5 1364.7,576.5 1365.6,577.7 1366.5,578.9 1367.5,580.1 1368.4,581.4 1369.3,582.7 1370.2,584 1371.2,585.3 1372.1,586.5 1373,587.7 1373.9,589 1374.8,590.3 1375.8,591.6 1376.7,592.9 1377.6,594.2 1378.5,595.5 1379.5,596.8 1380.4,598.1 1381.3,599.5 1382.2,600.8 1383.1,602.1 1384.1,603.4 1385,604.7 1385.9,606 1386.8,607.3 1387.8,608.6 1388.7,609.8 1389.6,611 1390.5,612.2 1391.4,613.4 1392.4,614.6 1393.3,615.7 1394.2,616.9 1395.1,618.1 1396.1,619.3 1397,620.4 1397.9,621.6 1398.8,622.7 1399.7,623.9 1400.7,625 1401.6,626.1 1402.5,627.2 1403.4,628.3 1404.4,629.3 1405.3,630.3 1406.2,631.3 1407.1,632.2 1408,633.1 1409,634 1409.9,634.8 1410.8,635.6 1411.7,636.4 1412.7,637.1 1413.6,637.9 1414.5,638.7 1415.4,639.4 1416.3,640.2 1417.3,641 1418.2,641.7 1419.1,642.4 1420,643.1 1421,643.8 1421.9,644.4 1422.8,645 1423.7,645.5 1424.6,646 1425.6,646.5 1426.5,646.9 1427.4,647.3 1428.3,647.5 1429.3,647.8 1430.2,647.9 1431.1,648 1432,648.1 1432.9,648.2 1433.9,648.3 1434.8,648.4 1435.7,648.4 1436.6,648.5 1437.6,648.5 1438.5,648.6 1439.4,648.6 1440.3,648.6 1441.2,648.6 1442.2,648.5 1443.1,648.4 1444,648.3 1444.9,648.2 1445.9,648 1446.8,647.8 1447.7,647.6 1448.6,647.4 1449.5,647.2 1450.5,647 1451.4,646.8 1452.3,646.5 1453.2,646.3 1454.2,646.1 1455.1,645.8 1456,645.6 1456.9,645.4 1457.8,645.2 1458.8,645 1459.7,644.8 1460.6,644.6 1461.5,644.4 1462.4,644.3 1463.4,644.1 1464.3,643.9 1465.2,643.7 1466.1,643.5 1467.1,643.3 1468,643.1 1468.9,642.9 1469.8,642.7 1470.7,642.5 1471.7,642.3 1472.6,642.1 1473.5,641.9 1474.4,641.7 1475.4,641.5 1476.3,641.3 1477.2,641.1 1478.1,640.9 1479,640.7 1480,640.6 1480.9,640.4 1481.8,640.2 1482.7,640.1 1483.7,639.9 1484.6,639.8 1485.5,639.6 1486.4,639.5 1487.3,639.4 1488.3,639.3 1489.2,639.2 1490.1,639.1 1491,639 1492,638.9 1492.9,638.8 1493.8,638.7 1494.7,638.6 1495.6,638.5 1496.6,638.4 1497.5,638.3 1498.4,638.2 1499.3,638.1 1500.3,638 1501.2,637.9 1502.1,637.8 1503,637.8 1503.9,637.7 1504.9,637.6 1505.8,637.5 1506.7,637.4 1507.6,637.4 1508.6,637.3 1509.5,637.2 1510.4,637.1 1511.3,637.1 1512.2,637 1513.2,636.9 1514.1,636.9 1515,636.8 1515.9,636.8 1516.9,636.7 1517.8,636.7 1518.7,636.6 1519.6,636.6 1520.5,636.5 1521.5,636.5 1522.4,636.5 1523.3,636.5 1524.2,636.4 1525.2,636.4 1526.1,636.4 1527,636.4" fill="none" stroke="#0f78f2" stroke-width="3.6" stroke-dasharray="4.6 9.5" stroke-linecap="round"/><path d="M1139.7,716 1140.6,716.1 1141.5,716.1 1142.5,716.2 1143.4,716.2 1144.3,716.3 1145.2,716.4 1146.2,716.4 1147.1,716.5 1148,716.6 1148.9,716.7 1149.8,716.8 1150.8,716.9 1151.7,717 1152.6,717.1 1153.5,717.2 1154.5,717.3 1155.4,717.4 1156.3,717.5 1157.2,717.6 1158.1,717.8 1159.1,717.9 1160,718 1160.9,718.1 1161.8,718.3 1162.8,718.4 1163.7,718.5 1164.6,718.7 1165.5,718.8 1166.4,718.9 1167.4,719.1 1168.3,719.2 1169.2,719.4 1170.1,719.5 1171.1,719.7 1172,719.8 1172.9,720 1173.8,720.1 1174.7,720.3 1175.7,720.4 1176.6,720.6 1177.5,720.7 1178.4,720.9 1179.4,721.1 1180.3,721.2 1181.2,721.4 1182.1,721.6 1183,721.8 1184,722 1184.9,722.3 1185.8,722.5 1186.7,722.7 1187.7,723 1188.6,723.2 1189.5,723.5 1190.4,723.7 1191.3,724 1192.3,724.3 1193.2,724.5 1194.1,724.8 1195,725.1 1196,725.3 1196.9,725.6 1197.8,725.8 1198.7,726.1 1199.6,726.4 1200.6,726.6 1201.5,726.9 1202.4,727.1 1203.3,727.3 1204.2,727.6 1205.2,727.8 1206.1,728 1207,728.2 1207.9,728.4 1208.9,728.6 1209.8,728.8 1210.7,729 1211.6,729.3 1212.5,729.5 1213.5,729.7 1214.4,729.9 1215.3,730.2 1216.2,730.4 1217.2,730.6 1218.1,730.8 1219,731 1219.9,731.2 1220.8,731.4 1221.8,731.5 1222.7,731.7 1223.6,731.8 1224.5,731.9 1225.5,732 1226.4,732.1 1227.3,732.2 1228.2,732.2 1229.1,732.2 1230.1,732.1 1231,731.9 1231.9,731.6 1232.8,731.3 1233.8,730.9 1234.7,730.4 1235.6,729.9 1236.5,729.4 1237.4,728.9 1238.4,728.4 1239.3,727.8 1240.2,727.1 1241.1,726.3 1242.1,725.5 1243,724.5 1243.9,723.5 1244.8,722.4 1245.7,721.3 1246.7,720.1 1247.6,718.9 1248.5,717.7 1249.4,716.4 1250.4,715.1 1251.3,713.9 1252.2,712.6 1253.1,711.4 1254,710.2 1255,709 1255.9,707.9 1256.8,706.8 1257.7,705.7 1258.7,704.7 1259.6,703.6 1260.5,702.5 1261.4,701.5 1262.3,700.4 1263.3,699.3 1264.2,698.3 1265.1,697.2 1266,696.1 1267,695 1267.9,693.9 1268.8,692.8 1269.7,691.7 1270.6,690.5 1271.6,689.4 1272.5,688.2 1273.4,687 1274.3,685.8 1275.3,684.5 1276.2,683.2 1277.1,681.8 1278,680.4 1278.9,678.9 1279.9,677.4 1280.8,675.8 1281.7,674.2 1282.6,672.6 1283.6,671 1284.5,669.3 1285.4,667.7 1286.3,666.1 1287.2,664.5 1288.2,663 1289.1,661.4 1290,660 1290.9,658.5 1291.9,657.2 1292.8,655.9 1293.7,654.6 1294.6,653.5 1295.5,652.4 1296.5,651.4 1297.4,650.3 1298.3,649.3 1299.2,648.4 1300.2,647.5 1301.1,646.6 1302,645.8 1302.9,645 1303.8,644.3 1304.8,643.7 1305.7,643.1 1306.6,642.4 1307.5,641.9 1308.5,641.3 1309.4,640.8 1310.3,640.3 1311.2,639.8 1312.1,639.4 1313.1,639.1 1314,638.8 1314.9,638.5 1315.8,638.3 1316.8,638.1 1317.7,637.8 1318.6,637.6 1319.5,637.5 1320.4,637.3 1321.4,637.2 1322.3,637 1323.2,636.9 1324.1,636.9 1325.1,636.8 1326,636.7 1326.9,636.7 1327.8,636.6 1328.7,636.5 1329.7,636.5 1330.6,636.5 1331.5,636.4 1332.4,636.4 1333.3,636.4 1334.3,636.4 1335.2,636.4 1336.1,636.5 1337,636.5 1338,636.5 1338.9,636.6 1339.8,636.7 1340.7,636.7 1341.6,636.8 1342.6,636.9 1343.5,636.9 1344.4,637 1345.3,637.2 1346.3,637.3 1347.2,637.5 1348.1,637.6 1349,637.8 1349.9,638.1 1350.9,638.3 1351.8,638.5 1352.7,638.8 1353.6,639.1 1354.6,639.4 1355.5,639.8 1356.4,640.3 1357.3,640.8 1358.2,641.3 1359.2,641.9 1360.1,642.4 1361,643.1 1361.9,643.7 1362.9,644.3 1363.8,645 1364.7,645.8 1365.6,646.6 1366.5,647.5 1367.5,648.4 1368.4,649.3 1369.3,650.3 1370.2,651.4 1371.2,652.4 1372.1,653.5 1373,654.6 1373.9,655.9 1374.8,657.2 1375.8,658.5 1376.7,660 1377.6,661.4 1378.5,663 1379.5,664.5 1380.4,666.1 1381.3,667.7 1382.2,669.3 1383.1,671 1384.1,672.6 1385,674.2 1385.9,675.8 1386.8,677.4 1387.8,678.9 1388.7,680.4 1389.6,681.8 1390.5,683.2 1391.4,684.5 1392.4,685.8 1393.3,687 1394.2,688.2 1395.1,689.4 1396.1,690.5 1397,691.7 1397.9,692.8 1398.8,693.9 1399.7,695 1400.7,696.1 1401.6,697.2 1402.5,698.3 1403.4,699.3 1404.4,700.4 1405.3,701.5 1406.2,702.5 1407.1,703.6 1408,704.7 1409,705.7 1409.9,706.8 1410.8,707.9 1411.7,709 1412.7,710.2 1413.6,711.4 1414.5,712.6 1415.4,713.9 1416.3,715.1 1417.3,716.4 1418.2,717.7 1419.1,718.9 1420,720.1 1421,721.3 1421.9,722.4 1422.8,723.5 1423.7,724.5 1424.6,725.5 1425.6,726.3 1426.5,727.1 1427.4,727.8 1428.3,728.4 1429.3,728.9 1430.2,729.4 1431.1,729.9 1432,730.4 1432.9,730.9 1433.9,731.3 1434.8,731.6 1435.7,731.9 1436.6,732.1 1437.6,732.2 1438.5,732.2 1439.4,732.2 1440.3,732.1 1441.2,732 1442.2,731.9 1443.1,731.8 1444,731.7 1444.9,731.5 1445.9,731.4 1446.8,731.2 1447.7,731 1448.6,730.8 1449.5,730.6 1450.5,730.4 1451.4,730.2 1452.3,729.9 1453.2,729.7 1454.2,729.5 1455.1,729.3 1456,729 1456.9,728.8 1457.8,728.6 1458.8,728.4 1459.7,728.2 1460.6,728 1461.5,727.8 1462.4,727.6 1463.4,727.3 1464.3,727.1 1465.2,726.9 1466.1,726.6 1467.1,726.4 1468,726.1 1468.9,725.8 1469.8,725.6 1470.7,725.3 1471.7,725.1 1472.6,724.8 1473.5,724.5 1474.4,724.3 1475.4,724 1476.3,723.7 1477.2,723.5 1478.1,723.2 1479,723 1480,722.7 1480.9,722.5 1481.8,722.3 1482.7,722 1483.7,721.8 1484.6,721.6 1485.5,721.4 1486.4,721.2 1487.3,721.1 1488.3,720.9 1489.2,720.7 1490.1,720.6 1491,720.4 1492,720.3 1492.9,720.1 1493.8,720 1494.7,719.8 1495.6,719.7 1496.6,719.5 1497.5,719.4 1498.4,719.2 1499.3,719.1 1500.3,718.9 1501.2,718.8 1502.1,718.7 1503,718.5 1503.9,718.4 1504.9,718.3 1505.8,718.1 1506.7,718 1507.6,717.9 1508.6,717.8 1509.5,717.6 1510.4,717.5 1511.3,717.4 1512.2,717.3 1513.2,717.2 1514.1,717.1 1515,717 1515.9,716.9 1516.9,716.8 1517.8,716.7 1518.7,716.6 1519.6,716.5 1520.5,716.4 1521.5,716.4 1522.4,716.3 1523.3,716.2 1524.2,716.2 1525.2,716.1 1526.1,716.1 1527,716" fill="none" stroke="#0f78f2" stroke-width="3.6" stroke-dasharray="4.6 9.5" stroke-linecap="round"/><text x="1511.1" y="81.6" font-size="22" text-anchor="end">7.5 T</text><text x="1511.1" y="158.0" font-size="22" text-anchor="end">6.6 T</text><text x="1511.1" y="239.5" font-size="22" text-anchor="end">5.8 T</text><text x="1511.1" y="314.8" font-size="22" text-anchor="end">4.8 T</text><text x="1511.1" y="390.3" font-size="22" text-anchor="end">4.5 T</text><text x="1511.1" y="468.1" font-size="22" text-anchor="end">4.0 T</text><text x="1511.1" y="546.8" font-size="22" text-anchor="end">3.0 T</text><text x="1511.1" y="624.7" font-size="22" text-anchor="end">1.0 T</text><text x="1511.1" y="702.5" font-size="22" text-anchor="end">0.0 T</text><clipPath id="cpb"><rect x="135.5" y="432.0" width="354.0" height="331.5"/></clipPath><g clip-path="url(#cpb)" fill="none" stroke="#858585" stroke-width="0.8"><circle cx="132.0" cy="711.7" r="6.6"/><circle cx="133.8" cy="716.1" r="6.6"/><circle cx="135.7" cy="717.6" r="6.6"/><circle cx="137.6" cy="718.5" r="6.6"/><circle cx="139.5" cy="716.5" r="6.6"/><circle cx="141.4" cy="719.1" r="6.6"/><circle cx="143.3" cy="720.1" r="6.6"/><circle cx="145.2" cy="718.6" r="6.6"/><circle cx="147.1" cy="717.7" r="6.6"/><circle cx="149.0" cy="718.6" r="6.6"/><circle cx="150.8" cy="720.9" r="6.6"/><circle cx="152.7" cy="721.8" r="6.6"/><circle cx="154.6" cy="725.0" r="6.6"/><circle cx="156.5" cy="727.0" r="6.6"/><circle cx="158.4" cy="729.8" r="6.6"/><circle cx="160.3" cy="730.5" r="6.6"/><circle cx="162.2" cy="731.4" r="6.6"/><circle cx="164.1" cy="732.5" r="6.6"/><circle cx="165.9" cy="732.2" r="6.6"/><circle cx="167.8" cy="732.2" r="6.6"/><circle cx="169.7" cy="732.4" r="6.6"/><circle cx="171.6" cy="731.0" r="6.6"/><circle cx="173.5" cy="736.1" r="6.6"/><circle cx="175.4" cy="737.5" r="6.6"/><circle cx="177.3" cy="739.7" r="6.6"/><circle cx="179.2" cy="736.9" r="6.6"/><circle cx="181.0" cy="732.1" r="6.6"/><circle cx="182.9" cy="731.5" r="6.6"/><circle cx="184.8" cy="732.9" r="6.6"/><circle cx="186.7" cy="736.3" r="6.6"/><circle cx="188.6" cy="736.6" r="6.6"/><circle cx="190.5" cy="732.0" r="6.6"/><circle cx="192.4" cy="728.2" r="6.6"/><circle cx="194.3" cy="725.1" r="6.6"/><circle cx="196.2" cy="722.6" r="6.6"/><circle cx="198.0" cy="718.5" r="6.6"/><circle cx="199.9" cy="714.1" r="6.6"/><circle cx="201.8" cy="709.9" r="6.6"/><circle cx="203.7" cy="706.2" r="6.6"/><circle cx="205.6" cy="703.9" r="6.6"/><circle cx="207.5" cy="702.7" r="6.6"/><circle cx="209.4" cy="698.7" r="6.6"/><circle cx="211.3" cy="691.2" r="6.6"/><circle cx="213.1" cy="683.5" r="6.6"/><circle cx="215.0" cy="680.0" r="6.6"/><circle cx="216.9" cy="675.7" r="6.6"/><circle cx="218.8" cy="673.4" r="6.6"/><circle cx="220.7" cy="671.3" r="6.6"/><circle cx="222.6" cy="669.1" r="6.6"/><circle cx="224.5" cy="664.0" r="6.6"/><circle cx="226.4" cy="658.7" r="6.6"/><circle cx="228.2" cy="654.0" r="6.6"/><circle cx="230.1" cy="649.2" r="6.6"/><circle cx="232.0" cy="645.9" r="6.6"/><circle cx="233.9" cy="642.7" r="6.6"/><circle cx="235.8" cy="637.8" r="6.6"/><circle cx="237.7" cy="629.8" r="6.6"/><circle cx="239.6" cy="622.8" r="6.6"/><circle cx="241.5" cy="618.5" r="6.6"/><circle cx="243.4" cy="615.1" r="6.6"/><circle cx="245.2" cy="609.8" r="6.6"/><circle cx="247.1" cy="605.3" r="6.6"/><circle cx="249.0" cy="598.1" r="6.6"/><circle cx="250.9" cy="594.9" r="6.6"/><circle cx="252.8" cy="591.7" r="6.6"/><circle cx="254.7" cy="585.7" r="6.6"/><circle cx="256.6" cy="581.1" r="6.6"/><circle cx="258.5" cy="573.8" r="6.6"/><circle cx="260.3" cy="568.6" r="6.6"/><circle cx="262.2" cy="561.7" r="6.6"/><circle cx="264.1" cy="557.3" r="6.6"/><circle cx="266.0" cy="556.6" r="6.6"/><circle cx="267.9" cy="553.6" r="6.6"/><circle cx="269.8" cy="548.1" r="6.6"/><circle cx="271.7" cy="544.9" r="6.6"/><circle cx="273.6" cy="540.8" r="6.6"/><circle cx="275.4" cy="539.5" r="6.6"/><circle cx="277.3" cy="535.5" r="6.6"/><circle cx="279.2" cy="534.1" r="6.6"/><circle cx="281.1" cy="531.9" r="6.6"/><circle cx="283.0" cy="529.4" r="6.6"/><circle cx="284.9" cy="531.1" r="6.6"/><circle cx="286.8" cy="531.8" r="6.6"/><circle cx="288.7" cy="532.3" r="6.6"/><circle cx="290.6" cy="531.2" r="6.6"/><circle cx="292.4" cy="531.8" r="6.6"/><circle cx="294.3" cy="531.9" r="6.6"/><circle cx="296.2" cy="531.2" r="6.6"/><circle cx="298.1" cy="525.7" r="6.6"/><circle cx="300.0" cy="524.8" r="6.6"/><circle cx="301.9" cy="522.8" r="6.6"/><circle cx="303.8" cy="522.9" r="6.6"/><circle cx="305.7" cy="516.9" r="6.6"/><circle cx="307.5" cy="508.7" r="6.6"/><circle cx="309.4" cy="503.6" r="6.6"/><circle cx="311.3" cy="500.7" r="6.6"/><circle cx="313.2" cy="499.1" r="6.6"/><circle cx="315.1" cy="499.3" r="6.6"/><circle cx="317.0" cy="504.9" r="6.6"/><circle cx="318.9" cy="512.9" r="6.6"/><circle cx="320.8" cy="522.4" r="6.6"/><circle cx="322.6" cy="525.1" r="6.6"/><circle cx="324.5" cy="527.8" r="6.6"/><circle cx="326.4" cy="528.2" r="6.6"/><circle cx="328.3" cy="529.3" r="6.6"/><circle cx="330.2" cy="529.7" r="6.6"/><circle cx="332.1" cy="531.2" r="6.6"/><circle cx="334.0" cy="534.2" r="6.6"/><circle cx="335.9" cy="534.7" r="6.6"/><circle cx="337.8" cy="534.9" r="6.6"/><circle cx="339.6" cy="533.8" r="6.6"/><circle cx="341.5" cy="536.6" r="6.6"/><circle cx="343.4" cy="538.9" r="6.6"/><circle cx="345.3" cy="539.9" r="6.6"/><circle cx="347.2" cy="541.0" r="6.6"/><circle cx="349.1" cy="542.1" r="6.6"/><circle cx="351.0" cy="542.1" r="6.6"/><circle cx="352.9" cy="544.7" r="6.6"/><circle cx="354.7" cy="548.5" r="6.6"/><circle cx="356.6" cy="551.2" r="6.6"/><circle cx="358.5" cy="552.4" r="6.6"/><circle cx="360.4" cy="555.7" r="6.6"/><circle cx="362.3" cy="559.9" r="6.6"/><circle cx="364.2" cy="564.2" r="6.6"/><circle cx="366.1" cy="568.0" r="6.6"/><circle cx="368.0" cy="575.2" r="6.6"/><circle cx="369.8" cy="578.9" r="6.6"/><circle cx="371.7" cy="583.1" r="6.6"/><circle cx="373.6" cy="587.6" r="6.6"/><circle cx="375.5" cy="591.6" r="6.6"/><circle cx="377.4" cy="594.7" r="6.6"/><circle cx="379.3" cy="598.5" r="6.6"/><circle cx="381.2" cy="604.8" r="6.6"/><circle cx="383.1" cy="612.1" r="6.6"/><circle cx="385.0" cy="617.7" r="6.6"/><circle cx="386.8" cy="623.5" r="6.6"/><circle cx="388.7" cy="628.7" r="6.6"/><circle cx="390.6" cy="635.2" r="6.6"/><circle cx="392.5" cy="640.4" r="6.6"/><circle cx="394.4" cy="644.5" r="6.6"/><circle cx="396.3" cy="649.6" r="6.6"/><circle cx="398.2" cy="657.2" r="6.6"/><circle cx="400.1" cy="663.3" r="6.6"/><circle cx="401.9" cy="670.9" r="6.6"/><circle cx="403.8" cy="673.1" r="6.6"/><circle cx="405.7" cy="681.1" r="6.6"/><circle cx="407.6" cy="680.0" r="6.6"/><circle cx="409.5" cy="687.9" r="6.6"/><circle cx="411.4" cy="692.6" r="6.6"/><circle cx="413.3" cy="702.0" r="6.6"/><circle cx="415.2" cy="703.0" r="6.6"/><circle cx="417.0" cy="706.1" r="6.6"/><circle cx="418.9" cy="706.1" r="6.6"/><circle cx="420.8" cy="713.4" r="6.6"/><circle cx="422.7" cy="715.1" r="6.6"/><circle cx="424.6" cy="718.8" r="6.6"/><circle cx="426.5" cy="719.3" r="6.6"/><circle cx="428.4" cy="720.2" r="6.6"/><circle cx="430.3" cy="724.0" r="6.6"/><circle cx="432.2" cy="725.8" r="6.6"/><circle cx="434.0" cy="729.9" r="6.6"/><circle cx="435.9" cy="732.6" r="6.6"/><circle cx="437.8" cy="731.6" r="6.6"/><circle cx="439.7" cy="732.0" r="6.6"/><circle cx="441.6" cy="729.4" r="6.6"/><circle cx="443.5" cy="733.6" r="6.6"/><circle cx="445.4" cy="733.7" r="6.6"/><circle cx="447.3" cy="738.5" r="6.6"/><circle cx="449.1" cy="738.7" r="6.6"/><circle cx="451.0" cy="736.9" r="6.6"/><circle cx="452.9" cy="733.5" r="6.6"/><circle cx="454.8" cy="731.1" r="6.6"/><circle cx="456.7" cy="730.7" r="6.6"/><circle cx="458.6" cy="732.8" r="6.6"/><circle cx="460.5" cy="732.6" r="6.6"/><circle cx="462.4" cy="730.3" r="6.6"/><circle cx="464.2" cy="726.4" r="6.6"/><circle cx="466.1" cy="724.5" r="6.6"/><circle cx="468.0" cy="726.3" r="6.6"/><circle cx="469.9" cy="728.9" r="6.6"/><circle cx="471.8" cy="727.7" r="6.6"/><circle cx="473.7" cy="725.5" r="6.6"/><circle cx="475.6" cy="721.5" r="6.6"/><circle cx="477.5" cy="717.9" r="6.6"/><circle cx="479.4" cy="717.7" r="6.6"/><circle cx="481.2" cy="715.4" r="6.6"/><circle cx="483.1" cy="717.2" r="6.6"/><circle cx="485.0" cy="713.7" r="6.6"/><circle cx="486.9" cy="713.4" r="6.6"/><circle cx="488.8" cy="713.5" r="6.6"/><circle cx="490.7" cy="716.8" r="6.6"/><circle cx="492.6" cy="716.0" r="6.6"/></g><path d="M135.5,717 136.1,717.3 136.7,717.6 137.3,717.8 137.9,718.1 138.4,718.4 139,718.7 139.6,718.9 140.2,719.2 140.8,719.5 141.4,719.7 142,720 142.6,720.3 143.2,720.5 143.8,720.8 144.3,721.1 144.9,721.3 145.5,721.6 146.1,721.8 146.7,722.1 147.3,722.3 147.9,722.6 148.5,722.8 149.1,723.1 149.7,723.3 150.2,723.6 150.8,723.8 151.4,724.1 152,724.3 152.6,724.5 153.2,724.8 153.8,725 154.4,725.2 155,725.5 155.6,725.7 156.2,725.9 156.7,726.1 157.3,726.3 157.9,726.6 158.5,726.8 159.1,727 159.7,727.2 160.3,727.4 160.9,727.6 161.5,727.9 162.1,728.1 162.6,728.3 163.2,728.5 163.8,728.7 164.4,728.9 165,729.1 165.6,729.3 166.2,729.5 166.8,729.7 167.4,729.9 167.9,730.1 168.5,730.3 169.1,730.5 169.7,730.7 170.3,730.9 170.9,731.1 171.5,731.3 172.1,731.5 172.7,731.7 173.3,731.9 173.8,732 174.4,732.2 175,732.4 175.6,732.6 176.2,732.7 176.8,732.9 177.4,733.1 178,733.3 178.6,733.4 179.2,733.6 179.8,733.7 180.3,733.9 180.9,734.1 181.5,734.2 182.1,734.4 182.7,734.5 183.3,734.6 183.9,734.8 184.5,735 185.1,735.1 185.7,735.3 186.2,735.5 186.8,735.6 187.4,735.8 188,735.9 188.6,736.1 189.2,736.2 189.8,736.3 190.4,736.4 191,736.5 191.6,736.6 192.1,736.7 192.7,736.7 193.3,736.7 193.9,736.7 194.5,736.6 195.1,736.5 195.7,736.3 196.3,736.1 196.9,735.8 197.4,735.5 198,735.2 198.6,734.9 199.2,734.5 199.8,734.1 200.4,733.7 201,733.2 201.6,732.8 202.2,732.4 202.8,731.9 203.3,731.5 203.9,731 204.5,730.5 205.1,730 205.7,729.5 206.3,728.9 206.9,728.3 207.5,727.7 208.1,727 208.7,726.3 209.2,725.6 209.8,724.8 210.4,724 211,723.1 211.6,722.2 212.2,721.2 212.8,720.2 213.4,719.2 214,718.1 214.6,717 215.2,715.7 215.7,714.3 216.3,712.6 216.9,710.7 217.5,708.7 218.1,706.6 218.7,704.3 219.3,702 219.9,699.6 220.5,697.1 221.1,694.6 221.6,692 222.2,689.5 222.8,687 223.4,684.6 224,682.2 224.6,679.9 225.2,677.7 225.8,675.6 226.4,673.4 226.9,671.3 227.5,669.1 228.1,667 228.7,664.9 229.3,662.8 229.9,660.6 230.5,658.5 231.1,656.4 231.7,654.4 232.3,652.3 232.8,650.3 233.4,648.3 234,646.3 234.6,644.4 235.2,642.5 235.8,640.6 236.4,638.7 237,636.8 237.6,635 238.2,633.1 238.8,631.3 239.3,629.5 239.9,627.7 240.5,626 241.1,624.2 241.7,622.5 242.3,620.8 242.9,619.2 243.5,617.5 244.1,615.9 244.7,614.3 245.2,612.8 245.8,611.3 246.4,609.8 247,608.3 247.6,606.8 248.2,605.4 248.8,604 249.4,602.5 250,601.1 250.6,599.7 251.1,598.3 251.7,596.9 252.3,595.5 252.9,594.1 253.5,592.7 254.1,591.3 254.7,589.8 255.3,588.4 255.9,586.9 256.4,585.4 257,583.9 257.6,582.3 258.2,580.8 258.8,579.2 259.4,577.6 260,576 260.6,574.4 261.2,572.8 261.8,571.2 262.4,569.6 262.9,568.1 263.5,566.6 264.1,565.1 264.7,563.6 265.3,562.1 265.9,560.7 266.5,559.4 267.1,558.1 267.7,556.8 268.2,555.6 268.8,554.4 269.4,553.3 270,552.1 270.6,550.9 271.2,549.7 271.8,548.6 272.4,547.5 273,546.3 273.6,545.2 274.1,544.1 274.7,543.1 275.3,542 275.9,540.9 276.5,539.9 277.1,538.9 277.7,537.9 278.3,536.9 278.9,536 279.5,535 280.1,534.1 280.6,533.2 281.2,532.4 281.8,531.5 282.4,530.7 283,529.9 283.6,529.1 284.2,528.4 284.8,527.7 285.4,527 285.9,526.3 286.5,525.7 287.1,525 287.7,524.4 288.3,523.8 288.9,523.2 289.5,522.7 290.1,522.1 290.7,521.6 291.3,521 291.9,520.5 292.4,520 293,519.5 293.6,519 294.2,518.5 294.8,518.1 295.4,517.6 296,517.2 296.6,516.7 297.2,516.3 297.8,515.9 298.3,515.5 298.9,515.1 299.5,514.7 300.1,514.4 300.7,514 301.3,513.6 301.9,513.3 302.5,512.9 303.1,512.5 303.6,512.1 304.2,511.7 304.8,511.3 305.4,510.9 306,510.5 306.6,510.2 307.2,509.9 307.8,509.5 308.4,509.3 309,509 309.6,508.8 310.1,508.6 310.7,508.4 311.3,508.3 311.9,508.2 312.5,508.2 313.1,508.2 313.7,508.3 314.3,508.4 314.9,508.6 315.4,508.8 316,509 316.6,509.3 317.2,509.5 317.8,509.9 318.4,510.2 319,510.5 319.6,510.9 320.2,511.3 320.8,511.7 321.4,512.1 321.9,512.5 322.5,512.9 323.1,513.3 323.7,513.6 324.3,514 324.9,514.4 325.5,514.7 326.1,515.1 326.7,515.5 327.2,515.9 327.8,516.3 328.4,516.7 329,517.2 329.6,517.6 330.2,518.1 330.8,518.5 331.4,519 332,519.5 332.6,520 333.1,520.5 333.7,521 334.3,521.6 334.9,522.1 335.5,522.7 336.1,523.2 336.7,523.8 337.3,524.4 337.9,525 338.5,525.7 339.1,526.3 339.6,527 340.2,527.7 340.8,528.4 341.4,529.1 342,529.9 342.6,530.7 343.2,531.5 343.8,532.4 344.4,533.2 344.9,534.1 345.5,535 346.1,536 346.7,536.9 347.3,537.9 347.9,538.9 348.5,539.9 349.1,540.9 349.7,542 350.3,543.1 350.9,544.1 351.4,545.2 352,546.3 352.6,547.5 353.2,548.6 353.8,549.7 354.4,550.9 355,552.1 355.6,553.3 356.2,554.4 356.8,555.6 357.3,556.8 357.9,558.1 358.5,559.4 359.1,560.7 359.7,562.1 360.3,563.6 360.9,565.1 361.5,566.6 362.1,568.1 362.6,569.6 363.2,571.2 363.8,572.8 364.4,574.4 365,576 365.6,577.6 366.2,579.2 366.8,580.8 367.4,582.3 368,583.9 368.6,585.4 369.1,586.9 369.7,588.4 370.3,589.8 370.9,591.3 371.5,592.7 372.1,594.1 372.7,595.5 373.3,596.9 373.9,598.3 374.4,599.7 375,601.1 375.6,602.5 376.2,604 376.8,605.4 377.4,606.8 378,608.3 378.6,609.8 379.2,611.3 379.8,612.8 380.4,614.3 380.9,615.9 381.5,617.5 382.1,619.2 382.7,620.8 383.3,622.5 383.9,624.2 384.5,626 385.1,627.7 385.7,629.5 386.2,631.3 386.8,633.1 387.4,635 388,636.8 388.6,638.7 389.2,640.6 389.8,642.5 390.4,644.4 391,646.3 391.6,648.3 392.1,650.3 392.7,652.3 393.3,654.4 393.9,656.4 394.5,658.5 395.1,660.6 395.7,662.8 396.3,664.9 396.9,667 397.5,669.1 398.1,671.3 398.6,673.4 399.2,675.6 399.8,677.7 400.4,679.9 401,682.2 401.6,684.6 402.2,687 402.8,689.5 403.4,692 403.9,694.6 404.5,697.1 405.1,699.6 405.7,702 406.3,704.3 406.9,706.6 407.5,708.7 408.1,710.7 408.7,712.6 409.3,714.3 409.9,715.7 410.4,717 411,718.1 411.6,719.2 412.2,720.2 412.8,721.2 413.4,722.2 414,723.1 414.6,724 415.2,724.8 415.8,725.6 416.3,726.3 416.9,727 417.5,727.7 418.1,728.3 418.7,728.9 419.3,729.5 419.9,730 420.5,730.5 421.1,731 421.6,731.5 422.2,731.9 422.8,732.4 423.4,732.8 424,733.2 424.6,733.7 425.2,734.1 425.8,734.5 426.4,734.9 427,735.2 427.6,735.5 428.1,735.8 428.7,736.1 429.3,736.3 429.9,736.5 430.5,736.6 431.1,736.7 431.7,736.7 432.3,736.7 432.9,736.7 433.4,736.6 434,736.5 434.6,736.4 435.2,736.3 435.8,736.2 436.4,736.1 437,735.9 437.6,735.8 438.2,735.6 438.8,735.5 439.4,735.3 439.9,735.1 440.5,735 441.1,734.8 441.7,734.6 442.3,734.5 442.9,734.4 443.5,734.2 444.1,734.1 444.7,733.9 445.2,733.7 445.8,733.6 446.4,733.4 447,733.3 447.6,733.1 448.2,732.9 448.8,732.7 449.4,732.6 450,732.4 450.6,732.2 451.1,732 451.7,731.9 452.3,731.7 452.9,731.5 453.5,731.3 454.1,731.1 454.7,730.9 455.3,730.7 455.9,730.5 456.5,730.3 457.1,730.1 457.6,729.9 458.2,729.7 458.8,729.5 459.4,729.3 460,729.1 460.6,728.9 461.2,728.7 461.8,728.5 462.4,728.3 462.9,728.1 463.5,727.9 464.1,727.6 464.7,727.4 465.3,727.2 465.9,727 466.5,726.8 467.1,726.6 467.7,726.3 468.3,726.1 468.9,725.9 469.4,725.7 470,725.5 470.6,725.2 471.2,725 471.8,724.8 472.4,724.5 473,724.3 473.6,724.1 474.2,723.8 474.8,723.6 475.3,723.3 475.9,723.1 476.5,722.8 477.1,722.6 477.7,722.3 478.3,722.1 478.9,721.8 479.5,721.6 480.1,721.3 480.6,721.1 481.2,720.8 481.8,720.5 482.4,720.3 483,720 483.6,719.7 484.2,719.5 484.8,719.2 485.4,718.9 486,718.7 486.6,718.4 487.1,718.1 487.7,717.8 488.3,717.6 488.9,717.3 489.5,717" fill="none" stroke="#18a2f2" stroke-width="3.4" stroke-dasharray="11 7.5 0.6 7.5" stroke-linecap="round"/><path d="M135.5,714.5 136.1,714.8 136.7,715.2 137.3,715.5 137.9,715.9 138.4,716.2 139,716.5 139.6,716.9 140.2,717.2 140.8,717.5 141.4,717.8 142,718.2 142.6,718.5 143.2,718.8 143.8,719.1 144.3,719.4 144.9,719.8 145.5,720.1 146.1,720.4 146.7,720.7 147.3,721 147.9,721.3 148.5,721.6 149.1,721.9 149.7,722.2 150.2,722.5 150.8,722.8 151.4,723.1 152,723.4 152.6,723.7 153.2,724 153.8,724.3 154.4,724.6 155,724.9 155.6,725.2 156.2,725.5 156.7,725.7 157.3,726 157.9,726.3 158.5,726.6 159.1,726.9 159.7,727.2 160.3,727.5 160.9,727.8 161.5,728 162.1,728.3 162.6,728.6 163.2,728.9 163.8,729.1 164.4,729.4 165,729.7 165.6,729.9 166.2,730.2 166.8,730.4 167.4,730.7 167.9,730.9 168.5,731.1 169.1,731.4 169.7,731.6 170.3,731.8 170.9,732 171.5,732.2 172.1,732.4 172.7,732.7 173.3,732.9 173.8,733.1 174.4,733.3 175,733.6 175.6,733.8 176.2,734 176.8,734.2 177.4,734.4 178,734.6 178.6,734.8 179.2,734.9 179.8,735.1 180.3,735.2 180.9,735.3 181.5,735.3 182.1,735.4 182.7,735.4 183.3,735.4 183.9,735.3 184.5,735.2 185.1,735.1 185.7,734.9 186.2,734.7 186.8,734.5 187.4,734.3 188,734 188.6,733.7 189.2,733.5 189.8,733.1 190.4,732.8 191,732.5 191.6,732.1 192.1,731.6 192.7,731 193.3,730.4 193.9,729.6 194.5,728.8 195.1,728 195.7,727.1 196.3,726.2 196.9,725.3 197.4,724.4 198,723.5 198.6,722.6 199.2,721.7 199.8,720.7 200.4,719.7 201,718.7 201.6,717.7 202.2,716.6 202.8,715.6 203.3,714.5 203.9,713.4 204.5,712.2 205.1,711.1 205.7,710 206.3,708.8 206.9,707.7 207.5,706.5 208.1,705.4 208.7,704.3 209.2,703.1 209.8,702 210.4,700.9 211,699.8 211.6,698.7 212.2,697.6 212.8,696.5 213.4,695.4 214,694.3 214.6,693.1 215.2,692 215.7,690.9 216.3,689.8 216.9,688.7 217.5,687.6 218.1,686.4 218.7,685.3 219.3,684.1 219.9,682.9 220.5,681.7 221.1,680.6 221.6,679.3 222.2,678.1 222.8,676.9 223.4,675.6 224,674.3 224.6,673 225.2,671.7 225.8,670.3 226.4,669 226.9,667.5 227.5,666.1 228.1,664.6 228.7,663.1 229.3,661.5 229.9,660 230.5,658.4 231.1,656.9 231.7,655.3 232.3,653.7 232.8,652.1 233.4,650.5 234,649 234.6,647.4 235.2,645.8 235.8,644.3 236.4,642.7 237,641.1 237.6,639.4 238.2,637.8 238.8,636.2 239.3,634.6 239.9,633 240.5,631.4 241.1,629.8 241.7,628.2 242.3,626.6 242.9,625 243.5,623.5 244.1,622 244.7,620.5 245.2,619 245.8,617.5 246.4,616.1 247,614.7 247.6,613.2 248.2,611.8 248.8,610.4 249.4,609 250,607.5 250.6,606.1 251.1,604.7 251.7,603.3 252.3,601.8 252.9,600.4 253.5,598.9 254.1,597.4 254.7,595.9 255.3,594.4 255.9,592.9 256.4,591.3 257,589.7 257.6,588 258.2,586.3 258.8,584.5 259.4,582.8 260,581 260.6,579.2 261.2,577.4 261.8,575.6 262.4,573.8 262.9,572 263.5,570.3 264.1,568.6 264.7,567 265.3,565.4 265.9,563.9 266.5,562.5 267.1,561.1 267.7,559.8 268.2,558.6 268.8,557.4 269.4,556.2 270,555.1 270.6,553.9 271.2,552.7 271.8,551.6 272.4,550.5 273,549.4 273.6,548.3 274.1,547.2 274.7,546.2 275.3,545.2 275.9,544.2 276.5,543.2 277.1,542.3 277.7,541.4 278.3,540.6 278.9,539.8 279.5,539 280.1,538.3 280.6,537.6 281.2,537 281.8,536.4 282.4,535.9 283,535.4 283.6,535 284.2,534.5 284.8,534.1 285.4,533.8 285.9,533.4 286.5,533.1 287.1,532.8 287.7,532.5 288.3,532.2 288.9,532 289.5,531.7 290.1,531.5 290.7,531.3 291.3,531.1 291.9,531 292.4,530.8 293,530.7 293.6,530.5 294.2,530.4 294.8,530.2 295.4,530.1 296,529.9 296.6,529.6 297.2,529.3 297.8,528.9 298.3,528.4 298.9,527.9 299.5,527.3 300.1,526.6 300.7,525.9 301.3,525.2 301.9,524.3 302.5,523.5 303.1,522.5 303.6,521.2 304.2,519.7 304.8,518.1 305.4,516.3 306,514.6 306.6,512.9 307.2,511.4 307.8,510 308.4,508.7 309,507.3 309.6,505.9 310.1,504.5 310.7,503.3 311.3,502.4 311.9,501.7 312.5,501.5 313.1,501.7 313.7,502.4 314.3,503.3 314.9,504.5 315.4,505.9 316,507.3 316.6,508.7 317.2,510 317.8,511.4 318.4,512.9 319,514.6 319.6,516.3 320.2,518.1 320.8,519.7 321.4,521.2 321.9,522.5 322.5,523.5 323.1,524.3 323.7,525.1 324.3,525.9 324.9,526.6 325.5,527.2 326.1,527.8 326.7,528.3 327.2,528.8 327.8,529.2 328.4,529.6 329,529.9 329.6,530.2 330.2,530.4 330.8,530.6 331.4,530.8 332,531 332.6,531.2 333.1,531.3 333.7,531.5 334.3,531.7 334.9,532 335.5,532.2 336.1,532.5 336.7,532.8 337.3,533.2 337.9,533.6 338.5,534.1 339.1,534.6 339.6,535.1 340.2,535.7 340.8,536.3 341.4,536.9 342,537.5 342.6,538.1 343.2,538.8 343.8,539.4 344.4,540.1 344.9,540.8 345.5,541.5 346.1,542.2 346.7,543 347.3,543.8 347.9,544.7 348.5,545.5 349.1,546.4 349.7,547.3 350.3,548.2 350.9,549.2 351.4,550.1 352,551.1 352.6,552.1 353.2,553 353.8,554 354.4,555 355,556 355.6,557 356.2,558 356.8,559 357.3,560 357.9,561.1 358.5,562.1 359.1,563.2 359.7,564.2 360.3,565.3 360.9,566.4 361.5,567.6 362.1,568.7 362.6,569.8 363.2,571 363.8,572.2 364.4,573.4 365,574.6 365.6,575.9 366.2,577.1 366.8,578.4 367.4,579.7 368,581 368.6,582.4 369.1,583.8 369.7,585.2 370.3,586.6 370.9,588.1 371.5,589.6 372.1,591.2 372.7,592.7 373.3,594.3 373.9,595.9 374.4,597.5 375,599.2 375.6,600.9 376.2,602.5 376.8,604.3 377.4,606 378,607.8 378.6,609.6 379.2,611.6 379.8,613.5 380.4,615.6 380.9,617.6 381.5,619.7 382.1,621.8 382.7,623.9 383.3,626 383.9,628.1 384.5,630.2 385.1,632.3 385.7,634.3 386.2,636.2 386.8,638.1 387.4,640 388,641.8 388.6,643.5 389.2,645.3 389.8,647 390.4,648.7 391,650.4 391.6,652 392.1,653.7 392.7,655.3 393.3,656.9 393.9,658.5 394.5,660.1 395.1,661.7 395.7,663.3 396.3,664.9 396.9,666.4 397.5,668 398.1,669.6 398.6,671.1 399.2,672.7 399.8,674.3 400.4,675.8 401,677.4 401.6,678.9 402.2,680.5 402.8,682 403.4,683.5 403.9,685 404.5,686.4 405.1,687.9 405.7,689.3 406.3,690.7 406.9,692 407.5,693.3 408.1,694.6 408.7,695.9 409.3,697.2 409.9,698.4 410.4,699.7 411,700.9 411.6,702.1 412.2,703.3 412.8,704.5 413.4,705.6 414,706.7 414.6,707.9 415.2,708.9 415.8,710 416.3,711 416.9,712 417.5,713 418.1,714 418.7,714.9 419.3,715.9 419.9,716.8 420.5,717.7 421.1,718.6 421.6,719.5 422.2,720.4 422.8,721.2 423.4,722 424,722.8 424.6,723.6 425.2,724.3 425.8,725 426.4,725.6 427,726.3 427.6,726.8 428.1,727.4 428.7,728 429.3,728.6 429.9,729.1 430.5,729.6 431.1,730.1 431.7,730.6 432.3,731.1 432.9,731.6 433.4,732 434,732.4 434.6,732.7 435.2,733 435.8,733.3 436.4,733.5 437,733.7 437.6,733.9 438.2,734.1 438.8,734.3 439.4,734.5 439.9,734.6 440.5,734.8 441.1,735 441.7,735.1 442.3,735.2 442.9,735.4 443.5,735.5 444.1,735.6 444.7,735.6 445.2,735.7 445.8,735.8 446.4,735.8 447,735.8 447.6,735.8 448.2,735.7 448.8,735.7 449.4,735.6 450,735.5 450.6,735.4 451.1,735.2 451.7,735.1 452.3,734.9 452.9,734.7 453.5,734.5 454.1,734.3 454.7,734.1 455.3,733.9 455.9,733.6 456.5,733.4 457.1,733.2 457.6,732.9 458.2,732.7 458.8,732.5 459.4,732.2 460,732 460.6,731.8 461.2,731.5 461.8,731.3 462.4,731 462.9,730.8 463.5,730.5 464.1,730.2 464.7,729.9 465.3,729.6 465.9,729.3 466.5,729 467.1,728.7 467.7,728.3 468.3,728 468.9,727.7 469.4,727.3 470,727 470.6,726.7 471.2,726.3 471.8,726 472.4,725.6 473,725.3 473.6,724.9 474.2,724.6 474.8,724.2 475.3,723.9 475.9,723.5 476.5,723.2 477.1,722.8 477.7,722.5 478.3,722.2 478.9,721.8 479.5,721.5 480.1,721.2 480.6,720.8 481.2,720.5 481.8,720.1 482.4,719.8 483,719.4 483.6,719.1 484.2,718.7 484.8,718.4 485.4,718 486,717.7 486.6,717.3 487.1,716.9 487.7,716.6 488.3,716.2 488.9,715.9 489.5,715.5" fill="none" stroke="#f01010" stroke-width="3.4" stroke-linejoin="round"/><line x1="356.90" y1="469.40" x2="380.60" y2="469.40" stroke="#f01414" stroke-width="2.6" stroke-linecap="round"/><path d="M357,495.6 L368.6,495.6 M377.3,495.6 L378.8,495.6" stroke="#1aa0f0" stroke-width="3" stroke-linecap="round"/><text x="399.0" y="476.6" font-size="21">s+s</text><text x="399.0" y="502.7" font-size="21">single s</text><text x="155.3" y="481.2" font-size="30.5"><tspan font-style="italic">T</tspan>=2.0 K</text><rect x="135.50" y="432.00" width="354.00" height="331.50" fill="none" stroke="#000" stroke-width="1.5"/><line x1="135.50" y1="763.50" x2="135.50" y2="751.00" stroke="#000" stroke-width="1.4"/><line x1="135.50" y1="432.00" x2="135.50" y2="444.50" stroke="#000" stroke-width="1.4"/><line x1="194.50" y1="763.50" x2="194.50" y2="751.00" stroke="#000" stroke-width="1.4"/><line x1="194.50" y1="432.00" x2="194.50" y2="444.50" stroke="#000" stroke-width="1.4"/><line x1="253.50" y1="763.50" x2="253.50" y2="751.00" stroke="#000" stroke-width="1.4"/><line x1="253.50" y1="432.00" x2="253.50" y2="444.50" stroke="#000" stroke-width="1.4"/><line x1="312.50" y1="763.50" x2="312.50" y2="751.00" stroke="#000" stroke-width="1.4"/><line x1="312.50" y1="432.00" x2="312.50" y2="444.50" stroke="#000" stroke-width="1.4"/><line x1="371.50" y1="763.50" x2="371.50" y2="751.00" stroke="#000" stroke-width="1.4"/><line x1="371.50" y1="432.00" x2="371.50" y2="444.50" stroke="#000" stroke-width="1.4"/><line x1="430.50" y1="763.50" x2="430.50" y2="751.00" stroke="#000" stroke-width="1.4"/><line x1="430.50" y1="432.00" x2="430.50" y2="444.50" stroke="#000" stroke-width="1.4"/><line x1="489.50" y1="763.50" x2="489.50" y2="751.00" stroke="#000" stroke-width="1.4"/><line x1="489.50" y1="432.00" x2="489.50" y2="444.50" stroke="#000" stroke-width="1.4"/><line x1="135.50" y1="735.20" x2="148.00" y2="735.20" stroke="#000" stroke-width="1.4"/><line x1="489.50" y1="735.20" x2="477.00" y2="735.20" stroke="#000" stroke-width="1.4"/><line x1="135.50" y1="640.45" x2="148.00" y2="640.45" stroke="#000" stroke-width="1.4"/><line x1="489.50" y1="640.45" x2="477.00" y2="640.45" stroke="#000" stroke-width="1.4"/><line x1="135.50" y1="545.70" x2="148.00" y2="545.70" stroke="#000" stroke-width="1.4"/><line x1="489.50" y1="545.70" x2="477.00" y2="545.70" stroke="#000" stroke-width="1.4"/><line x1="135.50" y1="450.95" x2="148.00" y2="450.95" stroke="#000" stroke-width="1.4"/><line x1="489.50" y1="450.95" x2="477.00" y2="450.95" stroke="#000" stroke-width="1.4"/><text x="135.5" y="795.2" font-size="25" text-anchor="middle">-15</text><text x="194.5" y="795.2" font-size="25" text-anchor="middle">-10</text><text x="253.5" y="795.2" font-size="25" text-anchor="middle">-5</text><text x="312.5" y="795.2" font-size="25" text-anchor="middle">0</text><text x="371.5" y="795.2" font-size="25" text-anchor="middle">5</text><text x="430.5" y="795.2" font-size="25" text-anchor="middle">10</text><text x="489.5" y="795.2" font-size="25" text-anchor="middle">15</text><text x="121.4" y="742.9" font-size="25" text-anchor="end">1.0</text><text x="121.4" y="648.1" font-size="25" text-anchor="end">1.1</text><text x="121.4" y="553.4" font-size="25" text-anchor="end">1.2</text><text x="121.4" y="458.6" font-size="25" text-anchor="end">1.3</text><text x="312.5" y="833.3" font-size="30.3" text-anchor="middle"><tspan font-style="italic">V</tspan> (mV)</text><text transform="translate(67.6,715.5) rotate(-90)" font-size="30">d<tspan font-style="italic">I</tspan>/d<tspan font-style="italic">V</tspan> / d<tspan font-style="italic">I</tspan>/d<tspan font-style="italic">V</tspan><tspan font-size="30" dx="1">|</tspan><tspan font-size="19.5" dy="6.8">10.5 K</tspan></text><rect x="623.50" y="1.00" width="386.30" height="762.50" fill="none" stroke="#000" stroke-width="1.5"/><line x1="623.50" y1="763.50" x2="623.50" y2="752.00" stroke="#000" stroke-width="1.4"/><line x1="623.50" y1="1.00" x2="623.50" y2="12.50" stroke="#000" stroke-width="1.4"/><line x1="671.79" y1="763.50" x2="671.79" y2="757.50" stroke="#000" stroke-width="1.4"/><line x1="671.79" y1="1.00" x2="671.79" y2="7.00" stroke="#000" stroke-width="1.4"/><line x1="720.08" y1="763.50" x2="720.08" y2="752.00" stroke="#000" stroke-width="1.4"/><line x1="720.08" y1="1.00" x2="720.08" y2="12.50" stroke="#000" stroke-width="1.4"/><line x1="768.36" y1="763.50" x2="768.36" y2="757.50" stroke="#000" stroke-width="1.4"/><line x1="768.36" y1="1.00" x2="768.36" y2="7.00" stroke="#000" stroke-width="1.4"/><line x1="816.65" y1="763.50" x2="816.65" y2="752.00" stroke="#000" stroke-width="1.4"/><line x1="816.65" y1="1.00" x2="816.65" y2="12.50" stroke="#000" stroke-width="1.4"/><line x1="864.94" y1="763.50" x2="864.94" y2="757.50" stroke="#000" stroke-width="1.4"/><line x1="864.94" y1="1.00" x2="864.94" y2="7.00" stroke="#000" stroke-width="1.4"/><line x1="913.22" y1="763.50" x2="913.22" y2="752.00" stroke="#000" stroke-width="1.4"/><line x1="913.22" y1="1.00" x2="913.22" y2="12.50" stroke="#000" stroke-width="1.4"/><line x1="961.51" y1="763.50" x2="961.51" y2="757.50" stroke="#000" stroke-width="1.4"/><line x1="961.51" y1="1.00" x2="961.51" y2="7.00" stroke="#000" stroke-width="1.4"/><line x1="1009.80" y1="763.50" x2="1009.80" y2="752.00" stroke="#000" stroke-width="1.4"/><line x1="1009.80" y1="1.00" x2="1009.80" y2="12.50" stroke="#000" stroke-width="1.4"/><line x1="623.50" y1="635.80" x2="636.00" y2="635.80" stroke="#000" stroke-width="1.4"/><line x1="1009.80" y1="635.80" x2="997.30" y2="635.80" stroke="#000" stroke-width="1.4"/><line x1="623.50" y1="476.88" x2="636.00" y2="476.88" stroke="#000" stroke-width="1.4"/><line x1="1009.80" y1="476.88" x2="997.30" y2="476.88" stroke="#000" stroke-width="1.4"/><line x1="623.50" y1="317.96" x2="636.00" y2="317.96" stroke="#000" stroke-width="1.4"/><line x1="1009.80" y1="317.96" x2="997.30" y2="317.96" stroke="#000" stroke-width="1.4"/><line x1="623.50" y1="159.04" x2="636.00" y2="159.04" stroke="#000" stroke-width="1.4"/><line x1="1009.80" y1="159.04" x2="997.30" y2="159.04" stroke="#000" stroke-width="1.4"/><text x="623.5" y="796.5" font-size="25" text-anchor="middle">-20</text><text x="671.8" y="796.5" font-size="25" text-anchor="middle">-15</text><text x="720.1" y="796.5" font-size="25" text-anchor="middle">-10</text><text x="768.4" y="796.5" font-size="25" text-anchor="middle">-5</text><text x="816.6" y="796.5" font-size="25" text-anchor="middle">0</text><text x="864.9" y="796.5" font-size="25" text-anchor="middle">5</text><text x="913.2" y="796.5" font-size="25" text-anchor="middle">10</text><text x="961.5" y="796.5" font-size="25" text-anchor="middle">15</text><text x="1009.8" y="796.5" font-size="25" text-anchor="middle">20</text><text x="609.9" y="643.5" font-size="25" text-anchor="end">1.2</text><text x="609.9" y="484.6" font-size="25" text-anchor="end">1.6</text><text x="609.9" y="325.7" font-size="25" text-anchor="end">2.0</text><text x="609.9" y="166.7" font-size="25" text-anchor="end">2.4</text><text x="817.0" y="834.0" font-size="30.3" text-anchor="middle"><tspan font-style="italic">V</tspan> (mV)</text><text x="640.5" y="48.0" font-size="30.9">Y-P1, <tspan font-style="italic">P</tspan>=48.6 GPa</text><rect x="1139.70" y="1.00" width="387.30" height="762.00" fill="none" stroke="#000" stroke-width="1.5"/><line x1="1139.70" y1="763.00" x2="1139.70" y2="751.50" stroke="#000" stroke-width="1.4"/><line x1="1139.70" y1="1.00" x2="1139.70" y2="12.50" stroke="#000" stroke-width="1.4"/><line x1="1188.11" y1="763.00" x2="1188.11" y2="757.00" stroke="#000" stroke-width="1.4"/><line x1="1188.11" y1="1.00" x2="1188.11" y2="7.00" stroke="#000" stroke-width="1.4"/><line x1="1236.53" y1="763.00" x2="1236.53" y2="751.50" stroke="#000" stroke-width="1.4"/><line x1="1236.53" y1="1.00" x2="1236.53" y2="12.50" stroke="#000" stroke-width="1.4"/><line x1="1284.94" y1="763.00" x2="1284.94" y2="757.00" stroke="#000" stroke-width="1.4"/><line x1="1284.94" y1="1.00" x2="1284.94" y2="7.00" stroke="#000" stroke-width="1.4"/><line x1="1333.35" y1="763.00" x2="1333.35" y2="751.50" stroke="#000" stroke-width="1.4"/><line x1="1333.35" y1="1.00" x2="1333.35" y2="12.50" stroke="#000" stroke-width="1.4"/><line x1="1381.76" y1="763.00" x2="1381.76" y2="757.00" stroke="#000" stroke-width="1.4"/><line x1="1381.76" y1="1.00" x2="1381.76" y2="7.00" stroke="#000" stroke-width="1.4"/><line x1="1430.17" y1="763.00" x2="1430.17" y2="751.50" stroke="#000" stroke-width="1.4"/><line x1="1430.17" y1="1.00" x2="1430.17" y2="12.50" stroke="#000" stroke-width="1.4"/><line x1="1478.59" y1="763.00" x2="1478.59" y2="757.00" stroke="#000" stroke-width="1.4"/><line x1="1478.59" y1="1.00" x2="1478.59" y2="7.00" stroke="#000" stroke-width="1.4"/><line x1="1527.00" y1="763.00" x2="1527.00" y2="751.50" stroke="#000" stroke-width="1.4"/><line x1="1527.00" y1="1.00" x2="1527.00" y2="12.50" stroke="#000" stroke-width="1.4"/><line x1="1139.70" y1="653.40" x2="1152.20" y2="653.40" stroke="#000" stroke-width="1.4"/><line x1="1527.00" y1="653.40" x2="1514.50" y2="653.40" stroke="#000" stroke-width="1.4"/><line x1="1139.70" y1="484.88" x2="1152.20" y2="484.88" stroke="#000" stroke-width="1.4"/><line x1="1527.00" y1="484.88" x2="1514.50" y2="484.88" stroke="#000" stroke-width="1.4"/><line x1="1139.70" y1="316.36" x2="1152.20" y2="316.36" stroke="#000" stroke-width="1.4"/><line x1="1527.00" y1="316.36" x2="1514.50" y2="316.36" stroke="#000" stroke-width="1.4"/><line x1="1139.70" y1="147.84" x2="1152.20" y2="147.84" stroke="#000" stroke-width="1.4"/><line x1="1527.00" y1="147.84" x2="1514.50" y2="147.84" stroke="#000" stroke-width="1.4"/><text x="1139.7" y="796.5" font-size="25" text-anchor="middle">-20</text><text x="1188.1" y="796.5" font-size="25" text-anchor="middle">-15</text><text x="1236.5" y="796.5" font-size="25" text-anchor="middle">-10</text><text x="1284.9" y="796.5" font-size="25" text-anchor="middle">-5</text><text x="1333.3" y="796.5" font-size="25" text-anchor="middle">0</text><text x="1381.8" y="796.5" font-size="25" text-anchor="middle">5</text><text x="1430.2" y="796.5" font-size="25" text-anchor="middle">10</text><text x="1478.6" y="796.5" font-size="25" text-anchor="middle">15</text><text x="1527.0" y="796.5" font-size="25" text-anchor="middle">20</text><text x="1125.9" y="661.1" font-size="25" text-anchor="end">1.2</text><text x="1125.9" y="492.6" font-size="25" text-anchor="end">1.6</text><text x="1125.9" y="324.1" font-size="25" text-anchor="end">2.0</text><text x="1125.9" y="155.5" font-size="25" text-anchor="end">2.4</text><text x="1333.8" y="834.8" font-size="30.3" text-anchor="middle"><tspan font-style="italic">V</tspan> (mV)</text><text x="1160.5" y="47.9" font-size="30.4"><tspan font-style="italic">T</tspan>=5.0 K</text><text transform="translate(556.8,594.5) rotate(-90)" font-size="30">d<tspan font-style="italic">I</tspan>/d<tspan font-style="italic">V</tspan> / d<tspan font-style="italic">I</tspan>/d<tspan font-style="italic">V</tspan><tspan font-size="30" dx="1">|</tspan><tspan font-size="19.5" dy="6.8">10.5 K</tspan><tspan dy="-6.8" dx="9" font-size="30.8">(arb. units)</tspan></text><text transform="translate(1072.8,568.0) rotate(-90)" font-size="30">d<tspan font-style="italic">I</tspan>/d<tspan font-style="italic">V</tspan> / d<tspan font-style="italic">I</tspan>/d<tspan font-style="italic">V</tspan><tspan font-size="30" dx="1">|</tspan><tspan font-size="19.5" dy="6.8">8.5 T</tspan><tspan dy="-6.8" dx="9" font-size="30.8">(arb. units)</tspan></text><clipPath id="ce"><rect x="1627.6" y="1.0" width="331.20000000000005" height="331.4"/></clipPath><g clip-path="url(#ce)"><rect x="1627.6" y="1.0" width="331.20000000000005" height="331.4" fill="#fe9412"/><path fill="#883e02" stroke="#883e02" stroke-width="0.7" fill-rule="evenodd" d="M1639.3,77.6 1660.9,76.8 1667.3,77.6 1654.1,79.3 1627.6,81.2 1627.6,78.6ZM1920.5,77.1 1935.5,77 1958.8,78.6 1958.8,81.2 1932.3,79.3 1919.1,77.6Z"/><path fill="#a54d02" stroke="#a54d02" stroke-width="0.7" fill-rule="evenodd" d="M1669.2,74.2 1689.2,73.7 1702.2,74.3 1697.7,75.9 1686.5,77.6 1627.6,82.9 1627.6,81.2 1654.1,79.3 1667.3,77.6 1664.2,76.9 1655.9,76.8 1627.6,78.6 1627.6,76.9ZM1885.6,74.1 1913.9,74.1 1958.8,76.9 1958.8,78.6 1930.5,76.8 1922.2,76.9 1919.1,77.6 1932.3,79.3 1958.8,81.2 1958.8,82.9 1899.9,77.6 1888.7,75.9 1884.2,74.3Z"/><path fill="#c45c02" stroke="#c45c02" stroke-width="0.7" fill-rule="evenodd" d="M1739.1,69.3 1749.1,68.4 1754.6,69.3 1753.7,70.9 1750.8,73.5 1744.1,76.1 1730.8,75.7 1715.8,76.4 1665.9,81.3 1627.6,84.2 1627.6,82.9 1686.5,77.6 1697.7,75.9 1702.2,74.3 1674.2,74 1627.6,76.9 1627.6,75.4 1679.2,72.1 1725.8,70.5ZM1832.3,68.9 1840.6,68.5 1860.6,70.5 1907.2,72.1 1958.8,75.4 1958.8,76.9 1912.2,74 1884.2,74.3 1888.7,75.9 1899.9,77.6 1958.8,82.9 1958.8,84.1 1908.9,80.2 1870.6,76.4 1855.6,75.7 1842.3,76.1 1835.6,73.5 1832.7,70.9 1831.8,69.3Z"/><path fill="#e46b02" stroke="#e46b02" stroke-width="0.7" fill-rule="evenodd" d="M1759.1,64.1 1764.1,63.7 1767.1,64.3 1766.5,65.9 1764.1,67.7 1762.4,67.3 1761.8,69.3 1754.1,76.2 1750.8,78.4 1749.1,77.4 1740.8,80.1 1727.5,78.7 1710.8,78.9 1627.6,85.7 1627.6,84.2 1669.2,81 1714.1,76.5 1729.1,75.7 1744.1,76.1 1750.8,73.5 1753.7,70.9 1754.6,69.3 1752.4,68.6 1745.8,68.5 1725.8,70.5 1679.2,72.1 1627.6,75.4 1627.6,73.3 1675.9,70.1 1727.5,67.6ZM1769.1,63.5 1769.4,64.3 1767.6,64.3ZM1817.3,63.5 1818.8,64.3 1817,64.3ZM1820.7,63.8 1858.9,67.6 1910.5,70.1 1958.8,73.3 1958.8,75.4 1907.2,72.1 1860.6,70.5 1840.6,68.5 1834,68.6 1831.8,69.3 1832.7,70.9 1835.6,73.5 1842.3,76.1 1857.3,75.7 1872.3,76.5 1908.9,80.2 1958.8,84.1 1958.8,85.5 1875.6,79 1858.9,78.7 1845.6,80.1 1837.3,77.4 1835.6,78.4 1834,77.4 1824.6,69.3 1824,67.3 1822.3,67.7 1819.9,65.9 1819.3,64.3Z"/><path fill="#fa7c04" stroke="#fa7c04" stroke-width="0.7" fill-rule="evenodd" d="M1772.4,60.8 1774.8,61 1773.3,62.6 1763,69.3 1754.1,77.9 1749.1,80.9 1747.4,80.5 1735.8,84.7 1725.8,82.2 1710.8,81.2 1677.5,83.3 1627.6,87.7 1627.6,85.7 1709.2,79 1727.5,78.7 1740.8,80.1 1749.1,77.4 1750.8,78.4 1754.1,76.2 1761.8,69.3 1762.4,67.3 1764.1,67.7 1766.5,65.9 1767.1,64.3 1764.1,63.7 1729.1,67.4 1675.9,70.1 1627.6,73.3 1627.6,62.9 1749.1,62.7ZM1767.6,64.3 1769.4,64.3 1769.1,63.5ZM1812.3,60.7 1837.3,62.7 1958.8,62.9 1958.8,73.3 1910.5,70.1 1857.3,67.4 1822.3,63.7 1819.3,64.3 1819.9,65.9 1822.3,67.7 1824,67.3 1824.6,69.3 1832.3,76.2 1835.6,78.4 1837.3,77.4 1845.6,80.1 1858.9,78.7 1878.9,79.2 1958.8,85.5 1958.8,87 1880.6,81.6 1862.3,82 1850.6,84.7 1839,80.5 1837.3,80.9 1834,79 1822.3,68.5 1813.1,62.6 1811.6,61ZM1817,64.3 1818.8,64.3 1817.3,63.5ZM1880.6,169.6 1882.2,179.1 1882.2,209.9 1880.3,180.9ZM1885.6,225.7 1886.9,234.1 1887,242.5 1885.6,255.5 1883.9,257.7 1883.9,234.5ZM1700.8,306.6 1702.5,312.7 1703,332.4 1700.5,332.4Z"/><path fill="#fe9211" stroke="#fe9211" stroke-width="0.7" fill-rule="evenodd" d="M1629.3,1 1958.8,1 1958.8,62.9 1837.3,62.7 1811.6,61 1813.1,62.6 1823.4,69.3 1834,79 1837.3,80.9 1839,80.5 1850.6,84.7 1863.9,81.9 1892.2,81.9 1907.2,83.8 1922.2,84.2 1933.8,85.6 1957.1,86.8 1958.8,87 1958.8,88.9 1952.1,89 1943.8,87.8 1933.8,88.1 1922.2,86 1913.9,85.8 1907.2,86.6 1902.2,85 1892.2,83.9 1887.2,85.6 1882.2,84.5 1863.9,85.8 1859.5,87.6 1855.6,90.7 1834,80.5 1822.3,69.2 1810.7,61.4 1808.5,61 1807.3,59.7 1802.7,59.3 1800.7,57.8 1787.4,57.7 1785.7,57.8 1783.7,59.3 1779.1,59.7 1777.9,61 1775.7,61.4 1764,69.3 1754.1,79.5 1747.4,83.3 1744.1,84 1730.8,90.7 1726.9,87.6 1723,85.9 1710.8,83.8 1702.5,84.9 1697.5,84 1692.5,85.1 1675.9,85.3 1659.2,87.4 1632.6,89 1627.6,90.7 1627.6,87.7 1632.6,86.9 1697.5,81.8 1712.5,81.1 1720.8,81.7 1727.5,82.5 1735.8,84.7 1747.4,80.5 1749.1,80.9 1752.4,79 1763,69.3 1773.3,62.6 1774.8,61 1749.1,62.7 1627.6,62.9 1627.6,1ZM1727.5,94.2 1729.1,93.9 1729.2,95.9 1715.8,124.2 1714.2,122.6 1715.8,113.3 1717.3,109.2 1719.1,107.1 1722.5,99.6ZM1857.3,93.9 1858.9,94.2 1861.1,95.9 1867.3,104.7 1869.2,112.6 1869.5,117.6 1868.9,120.5 1867.3,118.4 1863,107.6 1857.2,95.9ZM1710.8,121.6 1712.9,122.6 1714,124.2 1710.2,155.9 1710.1,182.5 1708.2,210.8 1707.5,259.1 1704.4,294.1 1705,332.4 1703,332.4 1702.5,312.7 1700.8,306.6 1700.5,332.4 1698.2,332.4 1697.8,295.8 1694.6,269.1 1694.6,240.8 1693.1,214.2 1692.5,208.8 1690.8,209.7 1689.2,208.5 1688.9,192.5 1690.8,177.2 1692.5,172.7 1694.2,174 1694.8,175.9 1699.2,193.6 1702.5,193.7 1704.2,195.7 1704.8,189.2 1704.1,170.9 1704.5,160.9 1708.7,127.6ZM1875.6,121.2 1879.2,140.9 1880.6,144.1 1883.9,147.5 1886.6,169.2 1887.2,170.5 1888.9,170.4 1890.6,172.1 1892.2,178.8 1892.1,190.8 1889.7,212.5 1889.4,225.8 1890,254.1 1890.6,259.2 1892.2,259.8 1893,264.1 1893.5,280.8 1892.2,287.9 1890.6,285.2 1888.9,280.1 1887.2,279.3 1883.7,295.8 1883.2,302.4 1884.3,310.8 1887.2,323 1888.9,322.6 1890.6,315.6 1892.2,311.8 1893.4,320.7 1893.8,332.4 1875.1,332.4 1875.6,324 1878,314.1 1878.8,307.4 1880.2,249.1 1879.6,240.8 1877.1,232.5 1877.7,205.8 1877.2,196.2 1875.6,191.7 1874.1,182.5 1872.3,163.3 1872.3,152.8 1873.2,145.9 1873,129.2 1873.8,124.2ZM1880.4,170.9 1880.6,187.2 1881.4,190.8 1882.2,209.9 1882.2,179.1 1880.6,169.6ZM1885.5,225.8 1883.9,234.5 1883.9,257.7 1885.6,255.5 1887,242.5 1886.9,234.1ZM1903.9,326.3 1905.5,325.7 1906,332.4 1903.7,332.4Z"/><path fill="#fca120" stroke="#fca120" stroke-width="0.7" fill-rule="evenodd" d="M1784,58.8 1785.7,57.8 1800.7,57.8 1802.7,59.3 1807.3,59.7 1808.5,61 1810.7,61.4 1822.3,69.2 1834,80.5 1855.6,90.7 1859.5,87.6 1863.9,85.8 1882.2,84.5 1887.2,85.6 1892.2,83.9 1902.2,85 1907.2,86.6 1913.9,85.8 1922.2,86 1933.8,88.1 1943.8,87.8 1952.1,89 1958.8,88.9 1958.8,90.9 1955.5,90.6 1952.1,91.6 1943.8,89.9 1933.8,91.3 1922.2,88.1 1917.2,88.6 1913.9,88.1 1908.9,90 1907.2,89.8 1902.2,87.4 1892.2,86 1890.6,86.5 1887.2,89.4 1882.2,87.9 1873.9,88.4 1867,90.9 1866.7,92.6 1869.3,95.9 1872.3,102.6 1873.9,102.8 1875.6,101.9 1877.2,103.8 1880.6,129.2 1882.2,130.8 1885.6,125.4 1886.8,129.2 1887.6,147.5 1888.9,155.6 1890.6,158 1893.9,156.1 1895.6,162 1896.5,199.2 1897.2,204.8 1900.5,215.8 1901.1,230.8 1899.9,285.8 1896.3,310.8 1895.7,332.4 1893.8,332.4 1893.4,320.7 1892.2,311.8 1890.6,315.6 1888.9,322.6 1887.2,323 1884.3,310.8 1883.2,302.4 1883.7,295.8 1887.2,279.3 1888.9,280.1 1890.6,285.2 1892.2,287.9 1893.5,280.8 1893,264.1 1892.2,259.8 1890.6,259.2 1890,254.1 1889.4,225.8 1889.7,212.5 1892.1,190.8 1892.1,177.5 1890.6,172.1 1888.9,170.4 1887.2,170.5 1886.6,169.2 1883.9,147.5 1880.6,144.1 1879.2,140.9 1875.6,121.2 1873.8,124.2 1873,129.2 1873.2,145.9 1872.3,152.8 1872.3,163.3 1874.1,182.5 1875.6,191.7 1877.2,196.2 1877.7,205.8 1877.1,232.5 1879.6,240.8 1880.2,250.8 1878.7,309.1 1875.6,324 1875.1,332.4 1872.7,332.4 1873.5,309.1 1875.8,279.1 1873.6,217.5 1870.3,185.9 1867.8,145.9 1866.4,137.6 1862.8,124.2 1856.5,105.9 1849,90.9 1845.6,88.2 1844,87.8 1832.3,80.9 1823.5,70.9 1810.7,61.8 1805.7,59.7 1802.4,59.5 1800.7,58.1 1794,58 1785.7,58.1 1784,59.5 1780.7,59.7 1775.7,61.8 1762.9,70.9 1754.1,80.9 1742.4,87.8 1740.8,88.2 1737.4,90.9 1727.9,110.9 1719.1,140.3 1715.8,147.4 1714.1,152.8 1712.5,165.6 1710.2,224.2 1712.1,269.1 1714.5,290.8 1714.5,307.4 1712.5,323.7 1710.8,326.9 1707.5,300 1707.1,332.4 1705,332.4 1704.4,294.1 1707.5,259.1 1708.2,210.8 1710.1,182.5 1710.2,155.9 1714,124.2 1712.9,122.6 1710.8,121.6 1709.2,125.2 1704.3,162.5 1704.8,189.2 1704.2,195.7 1702.5,193.7 1699.2,193.6 1694.8,175.9 1694.2,174 1692.5,172.7 1690.8,177.2 1689,190.8 1688.6,200.8 1689.2,208.5 1690.8,209.7 1692.5,208.8 1693,212.5 1694.6,240.8 1694.6,269.1 1697.8,294.1 1698.2,332.4 1695.9,332.4 1695.3,310.8 1694.2,306.3 1690.8,302.4 1690.1,297.4 1690.4,244.1 1689.7,235.8 1689.2,233.2 1687.5,232.3 1686.1,252.5 1680.9,287.1 1679.2,285.1 1678.9,247.5 1676.7,217.5 1677.5,212.9 1679.2,212.8 1680.9,216.5 1682.5,217.4 1684.5,212.5 1688.6,169.2 1693.6,147.5 1694.2,117.5 1699.2,114.1 1702.5,108.1 1704.2,106.4 1707.5,108.9 1712.5,105.9 1715.8,97.7 1720.5,92.6 1720.3,90.9 1712.5,86.7 1707.5,87.1 1704.2,88.6 1702.5,88.6 1697.5,86.4 1692.5,88.3 1689.2,87.4 1682.5,88.1 1677.5,87.2 1670.9,88.9 1659.2,90.3 1640.9,90.5 1635.9,91.7 1632.6,91.4 1627.6,93.9 1627.6,90.7 1632.6,89 1659.2,87.4 1675.9,85.3 1692.5,85.1 1697.5,84 1702.5,84.9 1710.8,83.8 1723,85.9 1726.9,87.6 1730.8,90.7 1752.4,80.5 1762,70.9 1769.1,65.6 1775.7,61.4 1777.9,61 1779.1,59.7ZM1727.3,94.3 1722.5,99.6 1719.1,107.1 1717.3,109.2 1715.8,113.3 1714.2,122.6 1715.8,124.2 1729.2,95.9 1729.1,93.9ZM1857.1,94.3 1857.2,95.9 1863,107.6 1867.3,118.4 1868.9,120.5 1869.5,117.6 1869.2,112.6 1867.3,104.7 1861.1,95.9 1858.9,94.2ZM1662.6,155.1 1663.9,165.9 1662.6,179.8 1660.9,175.6 1660.2,165.9 1660.9,156.3ZM1908.9,219.2 1911.6,255.8 1910.5,273.6 1908.9,276.7 1907.2,276 1905.5,271.6 1903.6,249.1 1904.9,235.8 1907.2,223.7ZM1670.9,280.3 1672.5,279.6 1674.2,282 1675,289.1 1673.4,299.1 1670.9,306.9 1669.4,302.4 1669.1,297.4ZM1679.2,297.6 1683,322.4 1683.3,332.4 1678.5,332.4ZM1910.5,299.6 1911.8,315.7 1912,332.4 1906,332.4 1905.5,325.7 1903.9,326.3 1903.7,332.4 1901.4,332.4 1901.9,314.1 1903.1,304.1 1903.9,301.9 1907.2,306.3Z"/><path fill="#fbb030" stroke="#fbb030" stroke-width="0.7" fill-rule="evenodd" d="M1785.7,58.1 1800.7,58.1 1802.4,59.5 1805.7,59.7 1810.7,61.8 1823.5,70.9 1832.3,80.9 1847.1,89.3 1850.3,92.6 1856.5,105.9 1861.4,119.2 1866,135.9 1867.6,144.2 1870.3,185.9 1873.5,215.8 1875.8,279.1 1873.5,309.1 1872.7,332.4 1870.3,332.4 1870.2,274.1 1868.8,252.5 1868.9,244.1 1870.9,229.1 1870.7,215.8 1867.8,199.2 1866.2,169.2 1864.8,155.9 1861.8,137.6 1857.8,120.9 1851.9,104.3 1846.3,92.6 1844.8,90.9 1832.3,82.5 1824.3,72.6 1813.8,64.3 1805.7,60 1802.4,59.7 1800.7,58.4 1794,58.2 1785.7,58.4 1784,59.7 1780.7,60 1775.7,62.3 1763.8,70.9 1754.1,82.5 1741.6,90.9 1736,100.9 1730.2,115.9 1724.3,139.2 1717.5,185.6 1715.8,189.7 1717.6,230.8 1715.8,254.1 1717.6,307.4 1716.1,332.4 1707.1,332.4 1707.5,300 1710.8,326.9 1712.5,323.7 1714.7,304.1 1714.5,289.1 1712.1,269.1 1710.2,227.5 1712.5,165.6 1714.1,152.8 1719.1,140.3 1727.9,110.9 1737.4,90.9 1740.8,88.2 1742.4,87.8 1754.1,80.9 1761.2,72.6 1769.3,65.9 1775.7,61.8 1780.7,59.7 1784,59.5ZM1675.9,87.4 1684.2,88.2 1689.2,87.4 1692.5,88.3 1697.5,86.4 1702.5,88.6 1704.2,88.6 1707.5,87.1 1712.5,86.7 1719.1,89.8 1720.3,90.9 1720.5,92.6 1715.8,97.7 1712.5,105.9 1707.5,108.9 1704.2,106.4 1702.5,108.1 1699.2,114.1 1694.2,117.5 1693.6,147.5 1688.6,169.2 1684.5,212.5 1682.5,217.4 1680.9,216.5 1679.2,212.8 1677.5,212.9 1676.7,217.5 1678.9,247.5 1679.2,285.1 1680.9,287.1 1686.1,252.5 1687.5,232.3 1689.2,233.2 1689.7,235.8 1690.4,244.1 1690.1,297.4 1690.8,302.4 1694.2,306.3 1695.3,310.8 1695.9,332.4 1692.5,332.4 1691.7,320.7 1690.8,317.7 1689.2,315.6 1687.5,320.7 1686.8,332.4 1683.3,332.4 1683,322.4 1679.2,297.6 1678.5,332.4 1665.1,332.4 1664.2,307.7 1668,260.8 1669,255.8 1670.9,251.5 1671.8,250.8 1672,249.1 1670.3,207.5 1671.4,189.2 1672.5,183.2 1675.9,190 1677.5,189.2 1679.2,186.7 1680.9,187.7 1682.5,191.3 1684.2,182.9 1685.2,155.9 1689.1,137.6 1688.9,115.9 1689.7,107.6 1692.5,98.7 1694.2,99.8 1695.8,104.5 1697.5,106.1 1699.9,100.9 1701.6,94.3 1701.1,92.6 1699.2,89.9 1697.5,89.2 1692.5,92.4 1689.2,90.5 1684.2,91 1677.5,89.3 1670.9,91.5 1667.5,91.5 1659.2,94 1649.2,92.9 1644.2,93.6 1640.9,92.8 1635.9,95.1 1632.6,94.1 1627.6,97.2 1627.6,93.9 1632.6,91.4 1635.9,91.7 1640.9,90.5 1659.2,90.3 1670.9,88.9ZM1707.8,90.9 1706.3,92.6 1706.1,94.3 1707.5,96.5 1710.8,96.8 1712.5,96.2 1713.7,92.6 1712.9,90.9 1710.8,90.4ZM1674.2,245.8 1672.9,249.1 1672.7,252.5 1674.2,258.7 1675.4,252.5ZM1685.6,279.1 1685,287.4 1685.9,293.8 1687.5,286.4 1687.6,280.8 1687.5,279 1685.9,277.6ZM1670.8,280.8 1669.1,297.4 1669.4,302.4 1670.9,306.9 1673.8,297.4 1675,287.4 1673.5,280.8 1672.5,279.6ZM1890.6,86.5 1892.2,86 1902.2,87.4 1907.2,89.8 1908.9,90 1913.9,88.1 1917.2,88.6 1922.2,88.1 1933.8,91.3 1943.8,89.9 1952.1,91.6 1955.5,90.6 1958.8,90.9 1958.8,93.1 1955.5,92.7 1952.1,94.5 1943.8,92.1 1937.2,93.3 1933.8,96 1930.5,93.1 1923.8,90.4 1917.2,91.3 1913.9,90.5 1908.9,93.9 1907.2,93.6 1902.2,89.9 1892.2,88.3 1890.3,89.3 1887.8,94.3 1890.2,117.6 1890.6,142.2 1892.2,140.9 1895.6,132.5 1897.2,133.3 1898.9,170.5 1900.5,172.3 1903.9,159.9 1905.5,162.5 1908.1,189.2 1910.5,198.6 1912.2,200 1913.9,196.3 1915.5,194.8 1917.2,196.9 1918.9,197.6 1920.5,200.7 1921.7,207.5 1922.2,215.8 1921.5,235.8 1922.4,249.1 1922.2,259.1 1920.5,265.8 1919,267.5 1918.9,270.2 1919.5,240.8 1917.2,234.1 1915.5,232.7 1913.3,284.1 1913.9,304.4 1915.5,313.2 1917,317.4 1918,332.4 1912,332.4 1911.8,315.7 1910.5,299.6 1907.2,306.3 1903.9,301.9 1903.1,304.1 1901.9,314.1 1901.4,332.4 1895.7,332.4 1896.3,310.8 1899.9,285.8 1901.1,230.8 1900.5,215.8 1897.2,204.8 1896.5,199.2 1895.6,162 1893.9,156.1 1890.6,158 1888.9,155.6 1887.6,147.5 1886.8,129.2 1885.6,125.4 1882.2,130.8 1880.6,129.2 1877.2,103.8 1875.6,101.9 1873.9,102.8 1872.3,102.6 1869.3,95.9 1866.7,92.6 1867.3,90.7 1872.3,88.8 1882.2,87.9 1887.2,89.4ZM1882,92.6 1881,94.3 1882.2,110.6 1884.3,94.3ZM1908.4,220.8 1907.2,223.7 1904.9,235.8 1903.6,249.1 1905.5,271.6 1907.2,276 1908.9,276.7 1910.5,273.6 1911.6,254.1 1908.9,219.2ZM1659.2,107.8 1660.2,119.2 1659.7,134.2 1660.9,134.9 1665.2,149.2 1666.9,159.2 1665.2,184.2 1664.2,214.3 1662.6,209.1 1656.8,164.2 1659.4,135.9 1658.9,134.2 1657.6,133.1 1656.3,129.2 1655.9,119.8 1657.6,109.7ZM1661.4,155.9 1660.4,160.9 1660.3,169.2 1660.9,175.6 1662.6,179.8 1663.9,164.2 1662.6,155.1ZM1629.3,153.7 1630.8,159.2 1630.9,165.9 1629.7,169.2 1627.6,171.7 1627.6,154.8ZM1657.6,246.9 1659.8,255.8 1660.4,264.1 1659.2,275.2 1657.6,277 1655.8,269.1 1655.3,260.8 1655.9,251.6ZM1948.8,273.7 1949.3,277.4 1948.8,281.2ZM1925.5,289.6 1927.3,297.4 1927.2,332.4 1926.6,317.4 1925.5,311.3 1924.8,299.1ZM1654.2,308.7 1655.9,307.7 1657.2,314.1 1658,332.4 1646.1,332.4 1646.4,319.1 1647.6,309.9 1649.2,310.8 1650.9,315.8 1652.6,316.8Z"/><path fill="#fbbf41" stroke="#fbbf41" stroke-width="0.7" fill-rule="evenodd" d="M1785.7,58.4 1800.7,58.4 1802.4,59.7 1805.7,60 1810.7,62.3 1820.7,69.3 1827.3,75.9 1832.3,82.5 1842.9,89.3 1846.3,92.6 1852.6,105.9 1856.8,117.6 1861.1,134.2 1864.8,155.9 1866.2,169.2 1867.8,199.2 1870.8,217.5 1870.8,230.8 1868.8,249.1 1870.2,274.1 1870.3,332.4 1865.5,332.4 1864.8,225.8 1863.6,190.8 1860,150.9 1857.4,135.9 1854,120.9 1848.4,104.3 1841.7,90.9 1832.3,84.3 1824.9,74.3 1815.7,65.9 1805.7,60.3 1802.4,59.9 1800.7,58.7 1794,58.5 1785.7,58.7 1784,59.9 1780.7,60.3 1770.7,65.9 1764.7,70.9 1758.7,77.6 1754.1,84.3 1746.5,89.3 1743.5,92.6 1738,104.3 1732.9,119.2 1729.6,132.6 1726.7,149.2 1722.9,189.2 1721,267.5 1721,332.4 1716.1,332.4 1717.6,307.4 1715.8,254.1 1717.6,230.8 1715.8,189.7 1717.5,185.6 1723.1,145.9 1727.3,125.9 1733.8,105.9 1740.1,92.6 1741.6,90.9 1754.1,82.5 1760.5,74.3 1767.7,67.6 1775.7,62.3 1780.7,60 1784,59.7ZM1697.5,89.2 1700.1,90.9 1701.6,94.3 1699.2,103.4 1697.5,106.1 1695.8,104.5 1694.2,99.8 1692.5,98.7 1689.5,109.2 1688.9,117.6 1689.1,137.6 1685.2,155.9 1684.2,182.9 1682.5,191.3 1680.9,187.7 1679.2,186.7 1677.5,189.2 1675.9,190 1672.5,183.2 1670.9,192.8 1670.3,209.2 1672,249.1 1671.8,250.8 1670.9,251.5 1669,255.8 1667.8,262.5 1664.2,307.4 1665.1,332.4 1658,332.4 1657.6,316.7 1655.9,307.7 1654.2,308.7 1652.6,316.8 1650.9,315.8 1649.2,310.8 1647.6,309.9 1646.4,319.1 1646.1,332.4 1644.3,332.4 1644.4,290.8 1646.9,250.8 1647.1,230.8 1646.7,227.5 1642.6,215.1 1639.3,207.5 1635.9,191 1630.9,191.9 1629.7,195.8 1628.9,202.5 1629.9,237.5 1633.4,252.5 1634.2,259.1 1634,280.8 1634.7,304.1 1633.7,332.4 1627.6,332.4 1627.6,171.7 1630.5,167.5 1631,162.5 1630.6,157.5 1629.6,154.2 1629.3,153.7 1627.6,154.8 1627.6,143.8 1630.2,137.6 1631.6,130.9 1633.8,99.3 1632.6,97.8 1630.8,99.3 1629.3,102.7 1627.6,103.6 1627.6,97.2 1632.6,94.1 1635.9,95.1 1640.9,92.8 1644.2,93.6 1649.2,92.9 1659.2,94 1667.5,91.5 1670.9,91.5 1677.5,89.3 1684.2,91 1689.2,90.5 1692.5,92.4ZM1674.1,92.6 1670.9,95.1 1667.5,94.8 1664.9,97.6 1663.6,110.9 1663.6,122.6 1664.2,130.6 1665.9,135.7 1667.5,136.5 1669.2,134.8 1670.9,127.7 1672.5,129.3 1673.9,134.2 1675.9,137 1677.5,136.1 1678.8,130.9 1684.7,97.6 1684.6,95.9 1679.2,92.1 1677.5,91.6ZM1640.1,95.9 1638.4,99.3 1640.9,136.1 1642.6,135.6 1645.9,124.3 1649.2,129.2 1649.8,127.6 1651.1,120.9 1652.5,99.3 1651.7,97.6 1649.2,96.5 1645.9,97.2 1642.6,95.8ZM1658,109.2 1656.1,117.6 1655.9,126.6 1657.6,133.1 1658.9,134.2 1659.4,135.9 1656.8,164.2 1662.6,209.1 1664.2,214.3 1666.9,157.5 1665.2,149.2 1660.9,134.9 1659.7,134.2 1660.2,119.2 1659.2,107.8ZM1638.8,150.9 1637,155.9 1636.4,160.9 1636.5,170.9 1637.6,181.2 1639.4,179.2 1641.4,165.9 1640.9,152.8 1639.3,149.4ZM1650.4,214.2 1650.1,222.5 1652.6,240.4 1654.1,234.1 1654.2,227.5 1652.6,216.3 1650.9,213.1ZM1657.3,247.5 1655.9,251.6 1655.3,262.5 1655.8,269.1 1657.6,277 1659.2,275.2 1660.4,264.1 1659.5,254.1 1657.6,246.9ZM1890.6,89 1892.2,88.3 1902.2,89.9 1907.2,93.6 1908.9,93.9 1913.9,90.5 1917.2,91.3 1923.8,90.4 1930.5,93.1 1933.8,96 1937.2,93.3 1943.8,92.1 1952.1,94.5 1955.5,92.7 1958.8,93.1 1958.8,95.5 1955.5,95.1 1952.1,99 1948.8,96 1943.8,94.7 1938.8,95.9 1937.2,97.4 1936.8,99.3 1937.2,147.5 1939.4,164.2 1940.9,190.8 1942.2,197.4 1943.8,194.9 1948.1,165.9 1945.7,127.6 1947.1,123.7 1951.9,120.9 1952.1,114.6 1951.9,152.5 1952.1,156.1 1953.8,160.3 1956.6,147.5 1957.1,145.9 1958.8,144.3 1958.8,181.6 1957.1,189.2 1955.2,212.5 1955.1,260.8 1954.2,277.4 1952.5,292.4 1950.5,301.3 1948.8,301.6 1945.5,293.5 1943.8,292.1 1942.2,294 1940.9,297.4 1939.8,309.1 1940,332.4 1933.8,332.4 1932.4,310.8 1932.2,309.5 1930.5,309 1929.8,332.4 1927.2,332.4 1927.3,297.4 1925.5,289.6 1924.8,297.4 1925.5,311.3 1926.7,319.1 1927,332.4 1918,332.4 1917,317.4 1915.5,313.2 1913.9,304.4 1913.3,284.1 1915.5,232.7 1917.2,234.1 1919.5,240.8 1918.9,270.2 1919,267.5 1920.5,265.8 1922.2,259.1 1922.4,249.1 1921.5,237.5 1922.2,219.2 1921.9,209.2 1920.5,200.7 1918.9,197.6 1917.2,196.9 1915.5,194.8 1913.9,196.3 1912.2,200 1910.1,197.5 1908.1,189.2 1905.5,162.5 1903.9,159.9 1900.5,172.3 1898.9,170.5 1897.2,133.3 1895.6,132.5 1892.2,140.9 1890.6,142.2 1890.2,117.6 1887.8,95.9 1888.3,92.6ZM1892.1,90.9 1890.6,92.4 1890.1,94.3 1890.6,99.7 1892.2,106.9 1893.9,110.6 1895.6,111.6 1898.9,104.1 1900.5,103.7 1902.4,105.9 1903.9,101.3 1904.1,95.9 1902.2,93.2ZM1913.1,94.3 1912,95.9 1912.2,101 1913.9,106.7 1917.2,105.8 1921.1,134.2 1923.8,183.2 1925.2,197.5 1925.1,234.1 1925.8,264.1 1927.2,273.4 1928.8,274.3 1930.9,260.8 1932.2,238.8 1933.8,244.6 1935.5,245.2 1935.6,244.1 1938.6,215.8 1938.1,195.8 1935.5,180.9 1933.8,183.2 1932.2,189.8 1930.5,191.4 1928.8,191.3 1927.2,189.3 1926.1,184.2 1926,162.5 1929.7,144.2 1930.7,132.6 1929.4,97.6 1928.1,95.9 1923.8,92.9 1922.2,92.8 1917.2,95.1 1913.9,93.7ZM1907.1,114.2 1906.3,122.6 1906.4,135.9 1907.2,148.4 1908.9,159.4 1910.4,124.2 1908.9,113.4ZM1910.4,167.5 1910.5,180.4 1911.4,174.2 1910.5,166.9ZM1945.1,234.1 1943.8,242.5 1943.4,252.5 1943.8,258.3 1945.5,259.2 1947.1,256.2 1948.1,252.5 1949,242.5 1948.5,237.5 1947.1,233 1945.5,232.7ZM1948.7,274.1 1948.8,281.2 1949.3,277.4ZM1709.2,90.6 1712.9,90.9 1713.7,92.6 1712.5,96.2 1710.8,96.8 1707.5,96.5 1706.1,94.3 1706.3,92.6 1707.5,91.1ZM1882.2,92.5 1883.9,93.6 1884.3,95.9 1882.2,110.6 1881,94.3ZM1943.8,122.3 1944.7,125.9 1944.7,129.2 1942.2,135.6 1942.2,124.9ZM1674.2,245.8 1675.4,252.5 1674.2,258.7 1672.7,252.5 1672.9,249.1ZM1685.9,277.6 1687.5,279 1687.6,282.4 1687.4,287.4 1685.9,293.8 1685,287.4ZM1952.1,312.6 1955.5,313.4 1957.1,312.9 1958.8,314.8 1958.8,332.4 1943.2,332.4 1944,327.4 1945.5,324.4 1947.1,324.4 1948.4,322.4ZM1639.3,315.6 1640,332.4 1636.8,332.4 1637.5,319.1ZM1689.2,315.6 1690.8,317.7 1691.7,320.7 1692.5,332.4 1686.8,332.4 1687.5,320.7Z"/><path fill="#fccf55" stroke="#fccf55" stroke-width="0.7" fill-rule="evenodd" d="M1785.7,58.7 1800.7,58.7 1802.4,59.9 1805.7,60.3 1810.5,62.6 1819.9,69.3 1826.3,75.9 1832.3,84.3 1839.9,89.3 1842.9,92.6 1848.4,104.3 1853,117.6 1856.4,130.9 1859.5,147.5 1861.7,165.9 1863.4,187.5 1864.8,225.8 1865.5,332.4 1861.3,332.4 1860.8,232.5 1858.7,179.2 1855.4,147.5 1850.2,120.9 1845.5,105.9 1839.7,92.6 1836.6,89.3 1832.3,86.5 1827.7,79.3 1822.4,72.6 1814.9,65.9 1805.7,60.6 1802.4,60.1 1800.7,59.1 1794,58.7 1785.7,59.1 1784,60.1 1780.7,60.6 1771.5,65.9 1764,72.6 1758.7,79.3 1754.1,86.5 1749.8,89.3 1746.7,92.6 1740.9,105.9 1736.2,120.9 1731,147.5 1727.7,179.2 1725.6,232.5 1725.1,332.4 1721,332.4 1720.9,269.1 1722.5,195.8 1725.6,157.5 1730.7,127.6 1736.7,107.6 1740.9,97.6 1744.7,90.9 1754.1,84.3 1761.5,74.3 1768.5,67.6 1775.9,62.6 1780.7,60.3 1784,59.9ZM1892.2,90.8 1902.2,93.2 1904.1,95.9 1903.9,101.3 1902.4,105.9 1900.5,103.7 1898.9,104.1 1895.6,111.6 1893.9,110.6 1892.2,106.9 1890.6,99.7 1890.1,94.3 1890.6,92.4ZM1674.2,92.5 1677.5,91.6 1679.2,92.1 1684.6,95.9 1684.7,97.6 1678.8,130.9 1677.5,136.1 1675.9,137 1673.9,134.2 1672.5,129.3 1670.9,127.7 1669.2,134.8 1667.5,136.5 1665.9,135.7 1664.2,130.6 1663.6,122.6 1663.6,110.9 1664.9,97.6 1667.5,94.8 1670.9,95.1ZM1674.9,95.9 1674.4,99.3 1675.5,109.2 1675.9,111.2 1677.5,111.8 1679.2,102.6 1679.2,96.4 1677.5,94.8ZM1913.9,93.7 1917.2,95.1 1922.2,92.8 1923.8,92.9 1928.1,95.9 1929.4,97.6 1930.7,132.6 1929.7,144.2 1926,162.5 1926.1,184.2 1927.2,189.3 1928.8,191.3 1930.5,191.4 1932.2,189.8 1933.8,183.2 1935.5,180.9 1938.3,197.5 1938.6,215.8 1935.5,245.2 1933.8,244.6 1932.2,238.8 1930.9,260.8 1928.8,274.3 1927.2,273.4 1925.8,264.1 1925.1,234.1 1925.2,197.5 1923.8,183.2 1921.3,135.9 1917.2,105.8 1913.9,106.7 1912.2,101 1912,95.9ZM1640.9,95.5 1645.9,97.2 1649.2,96.5 1651.7,97.6 1652.5,99.3 1651.1,120.9 1649.8,127.6 1649.2,129.2 1645.9,124.3 1642.6,135.6 1640.9,136.1 1638.4,99.3 1639.3,96.8ZM1940.5,95.8 1943.8,94.7 1945.5,94.9 1948.8,96 1952.1,99 1955.5,95.1 1958.8,95.5 1958.8,98.9 1957.1,98.1 1955.5,98.8 1955.1,100.9 1957.1,118.6 1958.8,124.1 1958.8,144.3 1957.1,145.9 1956.6,147.5 1953.8,160.3 1952.1,156.1 1951.9,152.5 1952.1,114.6 1951.9,120.9 1947.1,123.7 1945.7,127.6 1948.1,165.9 1943.8,194.9 1942.2,197.4 1940.9,190.8 1939.4,164.2 1937.2,147.5 1936.7,134.2 1936.8,99.3 1937.2,97.4 1938.8,95.9ZM1943.6,122.6 1942.2,124.9 1942.2,135.6 1944.7,129.2 1944.7,125.9ZM1630.9,99.1 1632.6,97.8 1633.8,99.3 1631.9,127.6 1630.2,137.6 1627.6,143.8 1627.6,134.5 1629.3,122.6 1629.1,117.6 1627.6,113 1627.6,103.6 1629.3,102.7ZM1907.2,114 1908.9,113.4 1910.4,124.2 1908.9,159.4 1907.2,148.4 1906.4,135.9 1906.3,122.6ZM1639.3,149.4 1640.9,152.8 1641.4,167.5 1639.3,179.8 1637.6,181.2 1636.5,170.9 1636.4,160.9 1637,155.9ZM1910.5,166.9 1911.4,174.2 1910.5,180.4ZM1958.8,181.6 1958.3,215.8 1958.8,314.8 1957.1,312.9 1955.5,313.4 1952.1,312.6 1948.4,322.4 1947.1,324.4 1945.5,324.4 1944,327.4 1943.2,332.4 1940,332.4 1939.8,309.1 1940.9,297.4 1942.2,294 1943.8,292.1 1945.5,293.5 1948.8,301.6 1950.5,301.3 1952.9,289.1 1955,264.1 1955.2,212.5 1957.1,189.2ZM1630.9,191.9 1635.9,191 1639.3,207.5 1642.6,215.1 1647,229.1 1646.9,250.8 1644.4,290.8 1644.3,332.4 1640,332.4 1639.3,315.6 1637.5,319.1 1636.8,332.4 1633.7,332.4 1634.7,304.1 1634,280.8 1634.2,259.1 1633.4,252.5 1629.9,237.5 1628.8,212.5 1629.2,199.2ZM1632.5,205.8 1631.8,212.5 1632.1,220.8 1632.6,225.6 1634.3,228.7 1635.1,220.8 1634.9,212.5 1634.3,207ZM1640.5,229.1 1640,234.1 1640.9,241.7 1641.9,235.8 1640.9,227.6ZM1650.9,213.1 1652.6,216.3 1654.2,227.5 1654.1,234.1 1652.6,240.4 1650,220.8 1650.1,215.8ZM1945.5,232.7 1947.1,233 1947.6,234.1 1949,244.1 1947.7,254.1 1945.5,259.2 1943.8,258.3 1943.4,250.8 1943.8,242.1ZM1930.5,309 1932.2,309.5 1932.4,310.8 1933.8,332.4 1929.8,332.4Z"/><path fill="#fcde67" stroke="#fcde67" stroke-width="0.7" fill-rule="evenodd" d="M1785.7,59.1 1799,58.9 1805.7,60.6 1812.5,64.3 1819,69.3 1825.7,76.5 1832.3,86.5 1836.6,89.3 1839.7,92.6 1844.9,104.3 1849.3,117.6 1852.9,132.6 1855.6,148.8 1859.3,189.2 1860.9,239.1 1861.3,332.4 1856.4,332.4 1856.1,242.5 1854.7,192.5 1851.5,152.5 1849,135.2 1845.9,120.9 1841.5,105.9 1836,92.6 1832.3,88.9 1822.6,74.3 1816.1,67.6 1809.2,62.6 1805.7,60.8 1800.1,59.3 1794,59 1787.4,59.1 1780.7,60.8 1772.4,65.9 1764.1,73.9 1754.1,88.9 1750.4,92.6 1745.4,104.3 1740.8,119.7 1737.6,134.2 1735.1,150.9 1731.7,190.8 1730.3,240.8 1730,332.4 1725.1,332.4 1725.4,245.8 1726.6,197.5 1729.5,159.2 1734.2,129.2 1740.8,106.2 1744.3,97.6 1747.9,90.9 1754.1,86.5 1761.2,75.9 1769.3,67.6 1776.6,62.6ZM1675.9,95.1 1677.5,94.8 1679.1,95.9 1679.3,97.6 1679.2,102.6 1677.5,111.8 1675.9,111.2 1674.5,100.9 1674.3,97.6ZM1955.5,98.8 1957.1,98.1 1958.8,98.9 1958.8,124.1 1957.1,118.6 1955.5,107.1ZM1628.2,114.2 1629.3,119.2 1629.3,124.2 1627.6,134.5 1627.6,113ZM1632.6,205.5 1634.3,207 1634.9,212.5 1635.1,220.8 1634.3,228.7 1632.6,225.6 1632,219.2 1631.9,210.8ZM1958.8,204.6 1958.8,225.8 1958.3,215.8ZM1640.9,227.6 1641.9,235.8 1640.9,241.7 1640,234.1Z"/><path fill="#f8ec78" stroke="#f8ec78" stroke-width="0.7" fill-rule="evenodd" d="M1787.4,59.1 1799,59.1 1805.7,60.8 1814,65.9 1819.6,70.9 1825.7,78.2 1832.3,88.9 1836,92.6 1841,104.3 1845.6,119.7 1848.8,134.2 1851.3,150.9 1854.7,190.8 1856.1,240.8 1856.4,332.4 1851.1,332.4 1850.7,239.1 1849.3,190.8 1845.7,147.5 1840.7,119.2 1837,105.9 1832.3,93.6 1827.3,84 1820.7,74.3 1814.2,67.6 1807.9,62.6 1804.9,61 1800.7,59.9 1794,59.2 1787.4,59.6 1781.5,61 1774.1,65.9 1765.7,74.3 1759.1,84 1754.1,93.6 1749.4,105.9 1745.8,118.9 1740.7,147.5 1737.1,190.8 1735.7,239.1 1735.3,332.4 1730,332.4 1730.3,245.8 1731.4,197.5 1734.1,159.2 1738.9,127.6 1744.9,105.9 1748.8,95.9 1751.5,90.9 1754.1,88.9 1762.4,75.9 1770.3,67.6 1780.7,60.8Z"/><path fill="#eaef7b" stroke="#eaef7b" stroke-width="0.7" fill-rule="evenodd" d="M1792.4,59.2 1800.7,59.9 1804.9,61 1807.9,62.6 1816,69.3 1822,75.9 1827.3,84 1834,97.5 1839,112.5 1842.2,125.9 1847,159.2 1849.6,197.5 1850.7,244.1 1851.1,332.4 1844.9,332.4 1844.6,244.1 1843.5,194.2 1840.9,155.9 1836.3,122.6 1833.2,109.2 1829.6,97.6 1824.7,85.9 1818.9,75.9 1813.6,69.3 1806.2,62.6 1803.4,61 1794,59.7 1783,61 1774.4,67.6 1768.7,74.3 1763.5,82.6 1758.1,94.3 1754.6,104.3 1751.2,117.6 1746.3,147.5 1743.1,190.8 1741.8,240.8 1741.5,332.4 1735.3,332.4 1735.7,244.1 1736.8,197.5 1739.2,160.9 1744.1,126.4 1747.4,112.5 1752.4,97.5 1759.1,84 1764.4,75.9 1770.4,69.3 1778.5,62.6 1781.5,61 1785.7,59.9Z"/><path fill="#d4e471" stroke="#d4e471" stroke-width="0.7" fill-rule="evenodd" d="M1784,60.8 1794,59.7 1803.4,61 1806.2,62.6 1813.6,69.3 1821,79.3 1826.2,89.3 1831.3,102.6 1834.8,115.9 1839.9,145.9 1843.3,189.2 1844.6,240.8 1844.9,332.4 1840.6,332.4 1840.3,245.8 1839.3,195.8 1836.7,154.2 1832.3,121.9 1829,107 1825.7,96 1820.8,84.3 1816.1,75.9 1811.2,69.3 1804.2,62.6 1801.3,61 1794,60.3 1785.1,61 1782.2,62.6 1775.2,69.3 1770.7,75.3 1765.6,84.3 1760.8,95.9 1757.4,107 1754.3,120.9 1749.9,152.5 1747.2,194.2 1746.1,244.1 1745.8,332.4 1741.5,332.4 1741.8,247.5 1742.7,199.2 1744.8,162.5 1748.3,132.6 1754.6,104.3 1761.7,85.9 1766.4,77.6 1771.3,70.9 1780.2,62.6Z"/><path fill="#bed664" stroke="#bed664" stroke-width="0.7" fill-rule="evenodd" d="M1785.7,60.8 1794,60.3 1801.3,61 1806.1,64.3 1812.6,70.9 1819.1,80.9 1824,91.7 1828.3,104.3 1831.8,119.2 1836.2,149.2 1839.2,192.5 1840.3,242.5 1840.6,332.4 1836.5,332.4 1835.1,199.2 1832.5,155.9 1829,126.5 1823.4,100.9 1819,88.8 1815.7,81.7 1808.3,70.9 1805.7,68.9 1799,65.9 1796.6,62.6 1794,60.8 1791.6,61 1787.4,65.9 1779.1,70.1 1775.7,73.8 1770.7,81.7 1767.4,88.8 1763,100.9 1757.5,125.9 1753.9,155.9 1751.3,199.2 1749.9,332.4 1745.8,332.4 1746.9,200.8 1749.1,161.1 1752.2,132.6 1758.1,104.3 1765.6,84.3 1773.8,70.9 1782.2,62.6Z"/><path fill="#a5c958" stroke="#a5c958" stroke-width="0.7" fill-rule="evenodd" d="M1792.4,60.8 1794.8,61 1799,65.9 1807.3,70.1 1810.7,73.8 1815.7,81.7 1819,88.8 1823.4,100.9 1829.2,127.6 1832.7,157.5 1835.1,199.2 1836.5,332.4 1832.3,332.4 1831.6,257.5 1830.3,200.8 1827.7,160.9 1824.4,132.6 1820.7,114.2 1816.3,99.3 1810.7,89.1 1800.7,76.7 1797.4,69.6 1794,64.5 1792.4,64.5 1790.7,66.7 1785.7,76.7 1775.7,89.1 1770.7,97.8 1765.7,114.2 1762,132.6 1758.7,160.9 1756.1,200.8 1754.8,257.5 1754.1,332.4 1749.9,332.4 1751.3,199.2 1753.6,159.2 1757,129.2 1763,100.9 1767.4,88.8 1770.7,81.7 1778.1,70.9 1780.7,68.9 1787.4,65.9 1789.8,62.6Z"/><path fill="#8cbb4b" stroke="#8cbb4b" stroke-width="0.7" fill-rule="evenodd" d="M1792.4,64.5 1794,64.5 1795.7,66.7 1800.7,76.7 1810.7,89.1 1815.7,97.8 1820.7,114.2 1824.7,134.2 1827.8,162.5 1830.3,200.8 1831.6,257.5 1832.3,332.4 1827.4,332.4 1826.6,275.8 1824.3,210.8 1822.3,183.7 1818.6,152.5 1815.2,132.6 1805.6,100.9 1799,82.8 1797.4,79 1794,74.5 1792.4,74.5 1789,79 1780.8,100.9 1771.2,132.6 1768.5,147.5 1764.9,175.9 1762.3,205.8 1759.9,270.8 1759,332.4 1754.1,332.4 1754.8,257.5 1756.1,200.8 1758.6,162.5 1761.7,134.2 1765.7,114.2 1770.1,99.3 1775.7,89.1 1785.7,76.7 1789,69.6Z"/><path fill="#76ad3f" stroke="#76ad3f" stroke-width="0.7" fill-rule="evenodd" d="M1792.4,74.5 1794,74.5 1797.4,79 1805.6,100.9 1815.2,132.6 1819.1,155.9 1822.5,185.9 1824.5,214.2 1826.7,279.1 1827.4,332.4 1822.1,332.4 1821.6,299.1 1819.3,247.5 1816.3,204.2 1813.7,182.5 1806.1,134.2 1800,100.9 1797.4,93.7 1794,88.3 1792.4,88.3 1790.7,90.6 1786.4,100.9 1780.3,134.2 1773.4,177.5 1770.4,200.8 1767.4,242.4 1764.8,299.1 1764.3,332.4 1759,332.4 1759.6,284.1 1761.7,219.2 1763.1,194.2 1766.6,160.9 1770.7,134.8 1773.6,124.2 1780.8,100.9 1787.4,82.8 1789,79Z"/><path fill="#619f33" stroke="#619f33" stroke-width="0.7" fill-rule="evenodd" d="M1792.4,88.3 1794,88.3 1795.7,90.6 1800,100.9 1806.4,135.9 1815.4,195.8 1820.2,264.1 1821.6,299.1 1822.1,332.4 1816.6,332.4 1816,299.1 1815,282.4 1808.4,200.8 1800.7,133.9 1797.4,120.3 1794,112 1792.4,112 1790.7,115.4 1787.4,125.9 1785.7,133.9 1778.2,199.2 1771.5,280.8 1770.4,299.1 1769.8,332.4 1764.3,332.4 1764.8,299.1 1766,269.1 1770.6,199.2 1776.5,157.5 1786.4,100.9 1789,93.7Z"/><path fill="#4e9229" stroke="#4e9229" stroke-width="0.7" fill-rule="evenodd" d="M1792.4,112 1794,112 1795.7,115.4 1799,125.9 1800.7,133.9 1808.2,199.2 1814.9,280.8 1816,299.1 1816.6,332.4 1811,332.4 1810.3,299.1 1802.8,199.2 1799,170.2 1795.7,155.9 1794,151.4 1792.4,151.4 1789,162.4 1785.7,180 1784,194.4 1776.1,299.1 1775.4,332.4 1769.8,332.4 1770.4,299.1 1771.4,282.4 1778,200.8 1785.7,133.9 1789,120.3Z"/><path fill="#3b851f" stroke="#3b851f" stroke-width="0.7" fill-rule="evenodd" d="M1792.4,151.4 1794,151.4 1797.4,162.4 1800.7,180 1802.4,194.4 1810.3,299.1 1811,332.4 1805.7,332.4 1805.1,299.1 1800.7,237.5 1797.4,214 1794,199.9 1792.4,199.9 1790.7,205.5 1785.7,237.5 1781.3,299.1 1780.7,332.4 1775.4,332.4 1776.1,299.1 1783.6,199.2 1787.4,170.2 1790.7,155.9Z"/><path fill="#307c18" stroke="#307c18" stroke-width="0.7" fill-rule="evenodd" d="M1792.4,199.9 1794,199.9 1795.7,205.5 1800.7,237.5 1805.1,299.1 1805.7,332.4 1801.3,332.4 1800.3,299.1 1797.4,277.2 1794,262.1 1792.4,262.1 1790.7,268.1 1787.4,288.4 1786.1,299.1 1785.1,332.4 1780.7,332.4 1781.3,299.1 1785.7,237.5 1789,214Z"/><path fill="#247210" stroke="#247210" stroke-width="0.7" fill-rule="evenodd" d="M1792.4,262.1 1794,262.1 1795.7,268.1 1799,288.4 1800.3,299.1 1801.3,332.4 1785.1,332.4 1786.1,299.1 1789,277.2Z"/></g><clipPath id="cf"><rect x="1627.6" y="431.8" width="331.20000000000005" height="332.2"/></clipPath><g clip-path="url(#cf)"><rect x="1627.6" y="431.8" width="331.20000000000005" height="332.2" fill="#fe9412"/><path fill="#e46b02" stroke="#e46b02" stroke-width="0.7" fill-rule="evenodd" d="M1744.1,518.4 1747.4,518.2 1750.8,518.9 1752.4,521.9 1751.7,525.3 1749.1,529.8 1745.8,533.5 1737.8,538.6 1717.5,545.9 1627.6,574.3 1627.6,554.4 1725,523.6ZM1837.3,518.3 1844,518.7 1856,521.9 1958.8,554.4 1958.8,574.2 1867.3,545.4 1848.8,538.6 1840.8,533.6 1835.6,527.3 1834,521.9 1835.6,518.9Z"/><path fill="#fa7c04" stroke="#fa7c04" stroke-width="0.7" fill-rule="evenodd" d="M1747.4,501.9 1754.1,500.4 1757.4,501.2 1759.1,502.5 1760.7,505.3 1761.5,510.3 1760.9,516.9 1757.4,529 1752.4,537.2 1747.4,541.7 1735.8,548 1729.1,549.6 1717.5,554.4 1712.5,555 1707.5,556.5 1697.5,561.3 1687.5,562.6 1682.5,565.3 1677.5,566.3 1669.2,569.6 1659.2,571.6 1627.6,583 1627.6,574.3 1717.5,545.9 1737.8,538.6 1743.5,535.3 1747.4,531.9 1751,527 1752.4,521.9 1750.8,518.9 1749.1,518.3 1744.1,518.4 1737.4,519.9 1627.6,554.4 1627.6,539.5ZM1829,501.2 1834,500.6 1842.3,502.8 1958.8,539.5 1958.8,554.4 1849,519.9 1842.3,518.4 1837.3,518.3 1835.6,518.9 1834,521.9 1835.4,527 1839,531.9 1842.9,535.3 1848.8,538.6 1867.3,545.4 1958.8,574.2 1958.8,582.3 1953.8,580.2 1945.5,578.5 1940.5,576.4 1933.8,575.3 1927.2,571.8 1920.5,570.6 1915.5,568.6 1908.9,566.9 1903.9,564.4 1893.9,562.2 1882.2,557.3 1875.6,556.6 1868.9,554.8 1852.3,548.2 1839,541.7 1835.6,539.1 1830.6,532.5 1826.7,521.9 1825,513.6 1825,508.6 1826.5,503.6Z"/><path fill="#fe9211" stroke="#fe9211" stroke-width="0.7" fill-rule="evenodd" d="M1629.3,431.8 1787.4,431.8 1787.3,453.5 1785.9,460.2 1773.4,486.9 1771.6,493.6 1771.1,500.2 1760.7,530.1 1756.3,538.6 1752.4,543.9 1747.4,548 1735.8,554.9 1729.1,555.5 1717.5,560.9 1710.8,561.2 1705.8,563.1 1695.8,569.3 1692.5,569.5 1687.5,568.3 1682.5,572.3 1677.5,572.3 1669.2,576.8 1659.2,577.4 1649.2,582.6 1644.2,583.1 1640.9,585.2 1627.6,590.1 1627.6,583 1659.2,571.6 1669.2,569.6 1677.5,566.3 1682.5,565.3 1687.5,562.6 1697.5,561.3 1707.5,556.5 1712.5,555 1717.5,554.4 1729.1,549.6 1735.8,548 1745.8,542.7 1752.4,537.2 1756.8,530.3 1759.7,521.9 1761.5,510.3 1760.7,505.3 1759.1,502.5 1755.8,500.6 1752.4,500.6 1627.6,539.5 1627.6,431.8ZM1800.7,431.8 1958.8,431.8 1958.8,539.5 1834,500.6 1830.6,500.6 1827.3,502.5 1825.7,505.3 1824.9,510.3 1826.7,521.9 1829.6,530.3 1834,537.2 1839,541.7 1852.3,548.2 1868.9,554.8 1875.6,556.6 1882.2,557.3 1893.9,562.2 1903.9,564.4 1908.9,566.9 1915.5,568.6 1920.5,570.6 1927.2,571.8 1933.8,575.3 1940.5,576.4 1945.5,578.5 1955.5,580.8 1958.8,582.3 1958.8,588.6 1953.8,586.5 1945.5,585.4 1940.5,582.8 1933.8,582.9 1932.2,582.3 1927.2,577.9 1925.5,577.5 1920.5,578.1 1915.5,574.7 1912.2,573.8 1908.9,574 1903.9,570.6 1898.9,570.1 1895.6,568.9 1887.2,565.9 1882.2,562.7 1875.6,563.7 1872.3,561.9 1868.9,562.1 1865.6,560.4 1862.3,559.8 1857.3,556.4 1852.3,554.6 1847.3,551.4 1837.3,547.6 1835.6,546.2 1830.6,539.9 1825.7,530.1 1815.3,500.2 1814.8,493.6 1813,486.9 1800.5,460.2 1799.1,453.5 1799,431.8Z"/><path fill="#fca120" stroke="#fca120" stroke-width="0.7" fill-rule="evenodd" d="M1787.4,431.8 1799,431.8 1799.1,453.5 1800.5,460.2 1813,486.9 1814.8,493.6 1815.3,500.2 1825.7,530.1 1830.6,539.9 1835.6,546.2 1837.3,547.6 1847.3,551.4 1852.3,554.6 1857.3,556.4 1862.3,559.8 1865.6,560.4 1868.9,562.1 1872.3,561.9 1875.6,563.7 1882.2,562.7 1887.2,565.9 1895.6,568.9 1898.9,570.1 1903.9,570.6 1908.9,574 1912.2,573.8 1915.5,574.7 1920.5,578.1 1925.5,577.5 1927.2,577.9 1932.2,582.3 1933.8,582.9 1940.5,582.8 1945.5,585.4 1948.8,585.4 1955.5,587 1958.8,588.6 1958.8,595.2 1948.8,592.1 1943.8,592.3 1940.5,589.8 1933.8,591.8 1932.2,591.2 1927.2,584.2 1925.5,583.9 1922.2,586.3 1920.5,586.1 1915.5,580.6 1912.2,579.9 1908.9,581.8 1907.2,581.3 1903.9,577.1 1898.9,577.5 1892.2,572.8 1890.6,572.1 1887.2,572.3 1882.2,568 1880.6,568 1877.2,570.8 1875.6,571.3 1872.3,568.5 1870.6,568.8 1868.9,570.1 1867.3,569.9 1865.6,568.4 1862.3,568.5 1860.6,567.5 1857.3,563.8 1852.3,561.6 1847.3,557.2 1842.3,557 1837.3,554.7 1830.6,546.2 1827.3,540.3 1814.7,510.3 1809,500.2 1806.7,490.2 1801.3,476.9 1794,462 1792.4,462 1781.5,485.2 1778.7,493.6 1777.4,500.2 1771.7,510.3 1759.1,540.1 1752.4,550.2 1749.1,553 1744.1,555.7 1739.1,561.9 1737.4,562.9 1735.8,563 1730.8,561.1 1720.8,566.6 1715.8,567.6 1712.5,566.5 1710.8,566.9 1705.8,569.4 1697.5,575.9 1694.2,577.5 1692.5,577.4 1689.2,574.3 1687.5,573.8 1685.9,575.2 1682.5,580.3 1677.5,578.3 1674.2,580 1669.2,584.5 1665.9,585.6 1660.9,583.2 1659.2,583.2 1654.2,586.2 1649.2,591.4 1645.9,589.2 1644.2,589.5 1640.9,592.6 1637.6,592.9 1632.6,595.9 1627.6,597 1627.6,590.1 1640.9,585.2 1644.2,583.1 1649.2,582.6 1659.2,577.4 1669.2,576.8 1677.5,572.3 1682.5,572.3 1687.5,568.3 1692.5,569.5 1695.8,569.3 1705.8,563.1 1710.8,561.2 1717.5,560.9 1729.1,555.5 1735.8,554.9 1747.4,548 1752.4,543.9 1756.3,538.6 1760.7,530.1 1771.1,500.2 1771.6,493.6 1773.4,486.9 1785.9,460.2 1787.3,453.5ZM1849,604.8 1850.6,605.3 1852.3,607 1855.6,619.2 1857.3,622.8 1858.8,633.8 1857.3,644.2 1855.6,644 1850.6,639.9 1846.9,628.8 1845.9,622.1 1846,615.4 1847.3,607.1ZM1739.1,612.5 1739.3,625.4 1737.4,631.1 1737.4,613.8ZM1729.1,618.7 1729.7,623.8 1729.3,630.5 1727.5,638.6 1726.2,633.8 1726.1,628.8 1727.5,620.5ZM1719.1,624.9 1720.8,624.3 1720.8,628 1719.1,635.1 1717.5,638 1715.5,637.1 1714.8,632.1 1715.8,627.6Z"/><path fill="#fbb030" stroke="#fbb030" stroke-width="0.7" fill-rule="evenodd" d="M1792.4,462 1794,462 1801.3,476.9 1806.7,490.2 1809,500.2 1814.7,510.3 1827.3,540.3 1835.6,553.1 1837.3,554.7 1842.3,557 1847.3,557.2 1852.3,561.6 1857.3,563.8 1860.6,567.5 1862.3,568.5 1865.6,568.4 1867.3,569.9 1868.9,570.1 1870.6,568.8 1872.3,568.5 1875.6,571.3 1877.2,570.8 1880.6,568 1882.2,568 1887.2,572.3 1890.6,572.1 1892.2,572.8 1898.9,577.5 1903.9,577.1 1907.2,581.3 1908.9,581.8 1912.2,579.9 1915.5,580.6 1920.5,586.1 1922.2,586.3 1925.5,583.9 1927.2,584.2 1932.2,591.2 1933.8,591.8 1940.5,589.8 1943.8,592.3 1948.8,592.1 1958.8,595.2 1958.8,604.8 1956.4,607.1 1955.7,610.4 1957.4,625.4 1956.9,630.5 1955.5,634.4 1953.8,632.8 1953.4,627.1 1953.7,617.1 1955.1,612.1 1955,608.8 1952.7,603.7 1948.8,600 1947.1,600.2 1943.8,602.6 1938.8,599.4 1937.2,600.2 1933.8,603.8 1932.2,603.4 1927.2,592 1925.5,591.9 1922.2,596.7 1920.5,595.3 1917.2,589 1913.9,586.4 1912.2,586.4 1908.9,591.3 1907.2,591.5 1903.9,584.8 1902.2,585.2 1900.5,587.2 1898.9,587.4 1892.2,578.2 1890.6,577.6 1887.2,579.6 1885.6,578.3 1882.2,573.8 1880.6,574.2 1877.2,579.7 1875.6,581.1 1872.3,577 1870.6,578.1 1867.3,587.1 1866.4,582 1864.6,578.7 1863.9,578.1 1860.6,579.4 1858.5,578.7 1854.3,573.7 1850.6,571.3 1847.3,565.3 1845.6,565.7 1844,568.8 1842.3,568.9 1840.6,564.9 1835.6,560.5 1827.3,546.6 1815.6,518.6 1809.3,506.9 1804.7,500.2 1801.9,488.6 1797.4,477.2 1794,471.1 1792.4,471.1 1789,477.2 1785,486.9 1781.7,500.2 1777.1,506.9 1770.8,518.6 1759.1,546.4 1752.4,557.1 1749.1,560.3 1744.1,563 1742.4,566.6 1741.2,575.4 1741.6,587 1742.4,596.2 1745.8,607.7 1745.8,619.5 1742.4,639.5 1737.4,656.7 1735.8,661.4 1734.1,663.5 1733.2,658.8 1732.5,641.8 1730.8,645.4 1727.5,664 1725.8,665 1722.5,656.8 1720.8,654.8 1719.1,656.2 1717.9,658.8 1715.8,668.2 1714.1,670.1 1712.5,664.7 1709.2,660 1707.2,642.1 1707.3,622.1 1708.6,612.1 1709.2,610.6 1712.5,614 1714.1,612.5 1717.5,606.8 1720.8,593.4 1722.5,596.1 1724.1,605.8 1725.8,606.2 1729.7,595.4 1733.5,580.4 1733.3,573.7 1732.5,571 1730.8,568.8 1729.1,568.8 1727.5,570.1 1722.5,576 1720.8,576.8 1719.1,575.4 1712.5,573.2 1710.8,573.8 1704.2,579.7 1700.8,581.2 1694.2,587.8 1692.5,587.9 1689.2,581.2 1687.5,580.2 1685.9,582.7 1682.5,591.9 1680.9,591.3 1679.2,587.6 1677.5,585.6 1675.9,585.8 1672.5,589 1669.2,594.8 1665.9,598.3 1664.2,597.5 1660.9,590.8 1659.2,590.2 1655.9,591.7 1653.6,595.4 1652.4,600.4 1652.6,632.1 1650.9,644.4 1649.2,646.7 1648.2,607.1 1646.6,598.7 1645.9,597.2 1644.2,596.9 1640.9,601.6 1637.6,601.5 1632.6,604.3 1627.6,604.6 1627.6,597 1632.6,595.9 1637.6,592.9 1640.9,592.6 1644.2,589.5 1645.9,589.2 1649.2,591.4 1654.2,586.2 1659.2,583.2 1660.9,583.2 1665.9,585.6 1669.2,584.5 1674.2,580 1677.5,578.3 1682.5,580.3 1685.9,575.2 1687.5,573.8 1689.2,574.3 1692.5,577.4 1694.2,577.5 1697.5,575.9 1705.8,569.4 1710.8,566.9 1712.5,566.5 1715.8,567.6 1720.8,566.6 1730.8,561.1 1735.8,563 1737.4,562.9 1739.1,561.9 1744.1,555.7 1749.1,553 1752.4,550.2 1759.1,540.1 1771.7,510.3 1777.4,500.2 1778.7,493.6 1781.5,485.2ZM1737.5,613.8 1737.4,631.1 1739.1,627.3 1739.5,620.4 1739.1,612.5ZM1729.1,618.8 1727.5,620.5 1726.1,628.8 1726.2,633.8 1727.5,638.6 1729.3,630.5 1729.7,623.8ZM1718.4,625.4 1715.8,627.6 1714.8,632.1 1715.5,637.1 1717.5,638 1719.9,632.1 1720.8,624.3ZM1847.3,584.5 1850.6,584.3 1853.9,587.1 1857.3,585.7 1858.6,592.1 1860.6,615 1862.3,623.9 1863.9,625 1866.8,603.7 1867.3,593.7 1867.6,618.8 1865.9,632.1 1864.7,653.8 1862.3,668 1860.6,683.5 1858.9,686.2 1855.6,667.3 1853.9,663.6 1852.3,663.6 1850.6,661.3 1849,656.7 1844,639.5 1840.9,622.1 1840.8,607.1 1845,587ZM1848.4,605.4 1847.3,607.1 1845.9,617.1 1846.1,623.8 1847.2,630.5 1850.6,639.9 1855.6,644 1857.3,644.2 1858.8,633.8 1857.3,622.8 1855.6,619.2 1852.3,607 1850.6,605.3 1849,604.8ZM1942.2,658.4 1942.9,660.5 1942.2,666.1ZM1873.9,743.1 1875.4,745.6 1875.6,749 1874.9,759 1873.9,763.7 1873.3,754Z"/><path fill="#fbbf41" stroke="#fbbf41" stroke-width="0.7" fill-rule="evenodd" d="M1792.4,471.1 1794,471.1 1797.4,477.2 1801.9,488.6 1804.7,500.2 1809.3,506.9 1815.6,518.6 1827.3,546.6 1835.6,560.5 1840.6,564.9 1842.3,568.9 1844,568.8 1845.6,565.7 1847.3,565.3 1850.6,571.3 1854.3,573.7 1858.5,578.7 1860.6,579.4 1863.9,578.1 1864.6,578.7 1866.4,582 1867.3,587.1 1870.6,578.1 1872.3,577 1875.6,581.1 1877.2,579.7 1880.6,574.2 1882.2,573.8 1885.6,578.3 1887.2,579.6 1890.6,577.6 1892.2,578.2 1898.9,587.4 1900.5,587.2 1902.2,585.2 1903.9,584.8 1907.2,591.5 1908.9,591.3 1912.2,586.4 1913.9,586.4 1917.2,589 1920.5,595.3 1922.2,596.7 1925.5,591.9 1927.2,592 1932.2,603.4 1933.8,603.8 1937.2,600.2 1938.8,599.4 1943.8,602.6 1947.1,600.2 1948.8,600 1952.7,603.7 1955,608.8 1955.1,612.1 1953.7,617.1 1953.4,627.1 1953.8,632.8 1955.5,634.4 1956.9,630.5 1957.4,625.4 1955.8,608.8 1957.1,606.1 1958.8,604.8 1958.8,662.1 1957.1,660.6 1953.8,653.1 1952.1,651.2 1950.5,652.2 1946.5,670.5 1943.8,688.6 1942.2,693.2 1940.5,685.8 1938.8,669.9 1937.2,663.3 1935.5,662.5 1933.8,666.2 1930.5,668.8 1927.2,674.5 1925.5,673.2 1918.9,646 1917.2,643.4 1915.5,643.2 1914.5,635.5 1914.9,623.8 1915.5,620.6 1917.2,626.4 1918.9,626.2 1919.5,618.8 1918.9,607.1 1917.2,599.6 1914.2,595.4 1912.2,595.2 1910.6,600.4 1909.4,613.8 1909.7,635.5 1909.1,645.5 1907.2,653.9 1905.5,653.8 1902.2,652.3 1900.5,648.8 1899.1,628.8 1895.8,610.4 1895,593.7 1893.9,588.3 1892.2,584.8 1890.6,584.1 1887.2,588.9 1885.6,587.3 1883.9,583.2 1882.2,581.1 1880.6,583.5 1879.6,588.7 1879.8,595.4 1883.9,619.8 1885.6,620.7 1888.9,616.6 1889.9,617.1 1890.6,617.7 1891.1,623.8 1890,645.5 1890.9,663.8 1890.6,676.3 1888.9,685.2 1887.2,684.8 1885.6,688.2 1884,695.6 1883,705.6 1883.4,717.3 1888.9,750.2 1890.6,750.9 1893.9,739.8 1895.6,736.5 1895.8,737.3 1895.8,764 1866.4,764 1853.5,692.2 1842.3,645.3 1838.7,627.1 1836.9,612.1 1836.2,593.7 1836.5,587 1838.5,577 1825.7,549.5 1813,518.6 1806.2,506.9 1801.5,500.2 1798.7,488.6 1794,478.2 1792.4,478.2 1790.3,481.9 1786.6,491.9 1784.9,500.2 1780.2,506.9 1773.4,518.6 1762.4,545.7 1753.8,563.7 1749.8,573.7 1749.9,605.4 1747.4,628.8 1732.9,692.2 1720,764 1706.7,764 1705.6,739 1705.5,705.6 1707.5,680.5 1705.8,660.5 1704.2,654.5 1698.2,688.9 1697.5,691.7 1695.8,693.8 1690.8,689.9 1690,685.5 1686.7,665.5 1686.3,655.5 1687.5,653.1 1690.8,667 1692.5,666.9 1695.1,658.8 1697.2,648.8 1701.5,610.4 1700.8,603.7 1699.2,602.3 1694.2,616.3 1692.5,616.9 1691.2,615.4 1689.6,608.8 1689.1,595.4 1687.5,590.4 1685.9,596.1 1684.1,613.8 1684,650.5 1675.5,662.2 1672.5,667.9 1670.9,667.8 1667.5,659.6 1664.2,656.5 1658.4,647.1 1655.9,638.1 1655.3,645.5 1652.3,657.2 1649.2,678.7 1645.9,678.4 1644.8,678.9 1642.5,682.2 1640.9,675.1 1639.3,654.9 1637.6,652 1635.9,654.7 1634.3,654.6 1632.6,646.2 1630.9,625.4 1629.3,617.3 1627.6,620 1627.6,604.6 1632.6,604.3 1637.6,601.5 1640.9,601.6 1644.2,596.9 1645.9,597.2 1648.1,605.4 1649.2,646.7 1650.9,644.4 1652.6,632.1 1652.4,600.4 1653.6,595.4 1655.9,591.7 1659.2,590.2 1660.9,590.8 1664.2,597.5 1665.9,598.3 1669.2,594.8 1672.5,589 1675.9,585.8 1677.5,585.6 1679.2,587.6 1680.9,591.3 1682.5,591.9 1685.9,582.7 1687.5,580.2 1689.2,581.2 1692.5,587.9 1694.2,587.8 1700.8,581.2 1704.2,579.7 1710.8,573.8 1712.5,573.2 1719.1,575.4 1720.8,576.8 1722.5,576 1725.5,572 1729.1,568.8 1730.8,568.8 1732.9,572 1733.5,580.4 1729.7,595.4 1725.8,606.2 1724.1,605.8 1722.5,596.1 1720.8,593.4 1717.5,606.8 1714.1,612.5 1712.5,614 1709.2,610.6 1708.6,612.1 1707.2,623.8 1707.5,647.5 1709.2,660 1712.5,664.7 1714.1,670.1 1715.8,668.2 1717.9,658.8 1719.1,656.2 1720.8,654.8 1722.5,656.8 1725.8,665 1727.5,664 1730.8,645.4 1732.5,641.8 1733.2,658.8 1734.1,663.5 1735.8,661.4 1742.4,639.5 1745.8,618.8 1745.8,607.7 1742.4,596.2 1741.7,588.7 1741.2,575.4 1742.4,566.6 1744.1,563 1749.1,560.3 1752.4,557.1 1759.1,546.4 1770.8,518.6 1777.1,506.9 1781.7,500.2 1785,486.9 1789,477.2ZM1712.2,585.4 1711.8,588.7 1712.5,592.1 1714.1,593.4 1714.9,587 1714.1,584.8ZM1846,585.4 1844.6,588.7 1840.6,608.1 1841.1,623.8 1844,639.5 1849,656.7 1850.6,661.3 1852.3,663.6 1853.9,663.6 1855.6,667.3 1858.9,686.2 1860.6,683.5 1862.3,668 1864.7,653.8 1865.9,632.1 1867.6,618.8 1867.3,593.7 1866.8,603.7 1863.9,625 1862.3,623.9 1860.6,615 1858.6,592.1 1857.3,585.7 1853.9,587.1 1850.6,584.3 1849,584ZM1903.8,598.7 1903.1,625.4 1903.9,631.9 1905.5,633.6 1907.6,623.8 1907.9,618.8 1903.9,598.1ZM1675.2,600.4 1675.9,610.8 1675.9,599.1ZM1655.9,603.7 1655.9,612.7 1656.8,605.4ZM1643.8,608.8 1640.8,617.1 1639.7,623.8 1639.5,640.5 1640.9,647.5 1642.6,646.2 1644.2,641.1 1645.9,632.2 1645.9,615.5 1644.2,608ZM1931.5,630.5 1932.2,634.6 1932.2,629.5ZM1942.1,658.8 1942.2,666.1 1942.9,660.5 1942.2,658.4ZM1875.5,673.9 1874.5,683.9 1875.6,691.1 1877.2,688 1877.7,677.2 1877.2,673.1 1875.6,673.3ZM1720.5,680.5 1719.6,687.2 1720.8,692.2 1722.5,691.9 1722.9,687.2 1722.5,683.2 1720.8,679.8ZM1870.5,705.6 1869.7,717.3 1870.6,726.6 1872.3,721.3 1872.4,713.9 1872.3,707.7 1871.3,705.6 1870.6,705ZM1873.8,744 1873.3,754 1873.9,763.7 1874.9,759 1875.6,749 1874.8,744 1873.9,743.1ZM1699.2,743.6 1700.8,745.8 1701.6,764 1698.6,764ZM1943.8,753.8 1944.6,764 1942.2,764Z"/><path fill="#fccf55" stroke="#fccf55" stroke-width="0.7" fill-rule="evenodd" d="M1792.4,478.2 1794,478.2 1795.7,481.1 1799.3,490.2 1801.5,500.2 1806.2,506.9 1813,518.6 1825.7,549.5 1838.5,577 1836.5,587 1836.2,593.7 1836.9,612.1 1838.7,627.1 1842.3,645.3 1853.5,692.2 1866.4,764 1862.6,764 1849.7,692.2 1838.4,637.1 1834.9,615.4 1829.4,568.7 1817.8,535.3 1810.4,518.6 1798.8,500.2 1796.9,491.9 1794,485.1 1792.4,485.1 1790.7,488.5 1787.6,500.2 1782.9,506.9 1775.2,520.3 1768.6,535.3 1757,568.7 1751.5,615.4 1748,637.1 1736.7,692.2 1723.8,764 1720,764 1732.9,692.2 1747.4,628.8 1749.9,605.4 1749.8,573.7 1753.8,563.7 1762.4,545.7 1773.4,518.6 1780.2,506.9 1784.9,500.2 1787.7,488.6ZM1882.2,581.1 1883.9,583.2 1885.6,587.3 1887.2,588.9 1890.6,584.1 1892.2,584.8 1894,588.7 1895,593.7 1895.6,608.8 1899.2,630.5 1900.5,648.8 1902.2,652.3 1905.5,653.8 1907.2,653.9 1909.1,645.5 1909.7,635.5 1909.4,613.8 1910.6,600.4 1912.2,595.2 1914.2,595.4 1917.2,599.6 1918.9,607.1 1919.5,618.8 1918.9,626.2 1917.2,626.4 1915.5,620.6 1914.9,623.8 1914.5,635.5 1915.5,643.2 1917.2,643.4 1918.9,646 1925.5,673.2 1927.2,674.5 1930.5,668.8 1933.8,666.2 1935.5,662.5 1937.2,663.3 1938.8,669.9 1940.5,685.8 1942.2,693.2 1943.8,688.6 1946.5,670.5 1950.5,652.2 1952.1,651.2 1953.8,653.1 1957.1,660.6 1958.8,662.1 1958.8,754.3 1957.1,755.1 1955.5,752 1954.2,740.6 1956.1,725.6 1957.2,688.9 1955.8,678.9 1953.8,673.1 1952.1,671.4 1949.7,680.5 1947.1,685.7 1944.2,703.9 1942.2,708.5 1940.2,703.9 1937.2,688.3 1935.5,687.8 1932.2,689.6 1927.2,688.4 1925.1,685.5 1920.5,672.5 1915.5,665.6 1913.9,664.8 1908.9,669 1905.5,669.6 1902.2,671.5 1900.5,670.3 1898.9,670.5 1893.9,690.6 1892.6,703.9 1893.2,713.9 1893.9,715.8 1897.2,718.6 1898.9,721.3 1900.5,721.8 1902.2,717.2 1903.9,715.5 1904.6,722.3 1904.4,734 1903.9,736.6 1900.5,742.7 1898.8,752.3 1898.2,764 1895.8,764 1896.2,742.3 1895.6,736.5 1893.9,739.8 1890.6,750.9 1888.9,750.2 1884.2,723.9 1883,707.2 1883.7,697.2 1885.4,688.9 1887.2,684.8 1888.9,685.2 1890.6,676.3 1890.9,663.8 1890,645.5 1891,622.1 1890.6,617.7 1889.9,617.1 1888.9,616.6 1885.6,620.7 1883.9,619.8 1883.3,617.1 1879.5,592.1 1880.1,585.4ZM1712.5,584.8 1714.1,584.8 1714.9,587 1714.1,593.4 1712.5,592.1 1712.1,590.4 1711.9,587ZM1687.5,590.4 1689.1,595.4 1690.1,612.1 1690.8,614.9 1692.5,616.9 1694.2,616.3 1694.7,615.4 1699.2,602.3 1700.8,603.7 1701.3,607.1 1701.3,615.4 1697.2,648.8 1695.1,658.8 1692.5,666.9 1690.8,667 1687.5,653.1 1686.3,655.5 1686.1,658.8 1687.5,671.2 1690.8,689.9 1695.8,693.8 1697.5,691.7 1698.2,688.9 1704.2,654.5 1705.8,660.5 1707.5,680.5 1705.5,705.6 1705.6,739 1706.7,764 1701.6,764 1700.8,745.8 1699.2,743.6 1698.6,764 1693.6,764 1694.3,760.7 1696.3,718.9 1695.8,717.1 1692.5,717.4 1690.8,715 1689.2,709.7 1687.5,707.1 1685.9,710.5 1684.2,701.8 1682.7,680.5 1680.9,673.7 1679.2,674.6 1678.4,677.2 1676.3,695.6 1674.2,700.4 1672.5,697.8 1667.5,682.2 1665.9,679.5 1662.6,679.9 1660.9,674.5 1659.2,672.4 1658.8,673.9 1656.9,683.9 1656.6,697.2 1657.3,705.6 1660.9,720.8 1662.6,733.6 1662.6,747.3 1661.3,749 1659.2,747.1 1655.9,753.9 1653.2,722.3 1652.6,718.9 1650.7,715.6 1649.2,704.3 1647.6,697.5 1645.9,700.4 1644.7,707.2 1642.6,712.1 1640.9,710.5 1637.6,697.2 1634.3,691.4 1632.6,691.5 1631.5,695.6 1629.3,722.3 1627.6,723.9 1627.6,620 1629.3,617.3 1630.9,625.4 1632.6,646.2 1634.3,654.6 1635.9,654.7 1637.6,652 1639.3,654.9 1640.9,675.1 1642.6,682.3 1644.8,678.9 1645.9,678.4 1649.2,678.7 1652.3,657.2 1655.3,645.5 1655.9,638.1 1658.4,647.1 1664.2,656.5 1667.5,659.6 1670.9,667.8 1672.5,667.9 1675.5,662.2 1684,650.5 1684.1,613.8 1685.9,596.1ZM1903.9,598.1 1907.9,618.8 1907.6,623.8 1905.5,633.6 1903.9,631.9 1903.1,625.4ZM1675.9,599.1 1675.9,610.8 1675,602.1ZM1655.9,603.6 1656.8,605.4 1655.9,612.7ZM1644.2,608 1645.9,615.5 1645.9,632.2 1644.2,641.1 1642.6,646.2 1640.9,647.5 1639.5,640.5 1639.7,623.8 1640.8,617.1ZM1932.2,629.5 1932.2,634.6 1931.3,632.1ZM1875.6,673.3 1877.2,673.1 1877.7,678.9 1877.2,688 1875.6,691.1 1874.5,683.9ZM1720.8,679.8 1722.5,683.2 1722.9,687.2 1722.5,691.9 1720.8,692.2 1719.6,687.2ZM1870.6,705 1872.3,707.7 1872.4,713.9 1872.3,721.3 1870.6,726.6 1869.7,717.3ZM1684.2,735.3 1685.9,743.8 1687.2,764 1678.7,764 1680,750.6 1682.5,739.3ZM1943.8,737.1 1945.5,740.8 1946.4,745.6 1947,764 1944.6,764 1943.8,753.8 1942.2,764 1940.5,764 1941.7,744 1942.2,740.7ZM1910.5,740.4 1912.2,743.6 1912.9,747.3 1913.6,764 1906.3,764 1907.4,745.6 1908.9,740.8ZM1639.3,749.1 1641.2,752.3 1642.4,764 1632.3,764 1632.6,755.7 1634.3,753.6 1635.9,754.3Z"/><path fill="#fcde67" stroke="#fcde67" stroke-width="0.7" fill-rule="evenodd" d="M1792.4,485.1 1794,485.1 1795.7,488.5 1798.8,500.2 1803.5,506.9 1811.2,520.3 1817.8,535.3 1829.4,568.7 1837.2,630.5 1849.7,692.2 1862.6,764 1859.9,764 1835.3,630.5 1826.3,573.7 1824.1,563.7 1815.4,535.3 1807.9,518.6 1800.9,506.9 1796.1,500.2 1794,492.9 1792.4,492.9 1790.3,500.2 1785.5,506.9 1777.4,520.9 1771,535.3 1762.3,563.7 1760.1,573.7 1751.1,630.5 1726.5,764 1723.8,764 1736.7,692.2 1749.2,630.5 1752.2,610.4 1756.6,570.4 1768.6,535.3 1776,518.6 1787.6,500.2 1789.5,491.9ZM1913.9,664.8 1915.5,665.6 1920.5,672.5 1925.1,685.5 1927.2,688.4 1932.2,689.6 1935.5,687.8 1937.2,688.3 1940.2,703.9 1942.2,708.5 1944.2,703.9 1947.1,685.7 1949.7,680.5 1952.1,671.4 1953.8,673.1 1956.5,682.2 1957.3,692.2 1956.1,725.6 1954.2,742.3 1955.5,752 1957.1,755.1 1958.8,754.3 1958.8,764 1947,764 1946.4,745.6 1945.5,740.8 1943.8,737.1 1942.2,740.7 1941.7,744 1940.5,764 1938.3,764 1937.2,745.8 1935,764 1933.2,764 1932.8,722.3 1932.2,718.7 1929.4,728.9 1928.6,764 1919.9,764 1919.7,749 1918.9,743.8 1917.2,751.5 1916.7,764 1913.6,764 1912.9,747.3 1912.2,743.6 1910.5,740.4 1908.9,740.8 1907.4,745.6 1906.3,764 1898.2,764 1898.8,752.3 1900.5,742.7 1903.9,736.6 1904.4,734 1904.6,722.3 1903.9,715.5 1902.2,717.2 1900.5,721.8 1898.9,721.3 1897.2,718.6 1893.9,715.8 1893.2,713.9 1892.6,703.9 1893.9,690.6 1898.9,670.5 1900.5,670.3 1902.2,671.5 1905.5,669.6 1908.9,669ZM1913.7,683.9 1913.3,688.9 1913.9,692.5 1914.5,687.2 1913.9,682.8ZM1907,692.2 1907.2,707.1 1908.9,715.7 1910,710.6 1909.9,700.6 1908.9,693.5 1907.2,690.8ZM1923.7,703.9 1922.7,708.9 1922.3,717.3 1922.7,728.9 1923.8,733.9 1925.5,733.6 1928,730.6 1928.8,722.3 1928.3,713.9 1927.2,707.8 1925.5,704ZM1938.4,722.3 1937.9,725.6 1938.8,733.2 1938.8,721.9ZM1659.2,672.4 1660.9,674.5 1662.6,679.9 1665.9,679.5 1667.5,682.2 1672.5,697.8 1674.2,700.4 1676.3,695.6 1678.4,677.2 1679.2,674.6 1680.9,673.9 1682.7,680.5 1684.2,701.8 1685.9,710.5 1687.5,707.1 1689.2,709.7 1690.8,715 1692.5,717.4 1695.8,717.1 1696.3,718.9 1694.3,760.7 1693.6,764 1687.2,764 1685.9,743.8 1684.2,735.3 1682.5,739.3 1680,750.6 1678.7,764 1642.4,764 1641.2,752.3 1639.3,749.1 1635.9,754.3 1634.3,753.6 1632.6,755.7 1632.3,764 1630.5,764 1629.9,747.3 1627.6,737 1627.6,723.9 1629.3,722.3 1630.9,698.9 1632.6,691.5 1634.3,691.4 1636.8,695.6 1640.9,710.5 1642.6,712.1 1644.7,707.2 1645.9,700.4 1647.6,697.5 1649.2,704.3 1650.7,715.6 1652.6,718.9 1653.2,722.3 1655.9,753.9 1659.2,747.1 1660.9,749.2 1662.6,747.3 1662.2,730.6 1660.9,720.8 1657.3,705.6 1656.7,698.9 1656.9,683.9ZM1679,710.6 1677.3,713.9 1676,722.3 1676.1,728.9 1677.5,733.7 1679.2,731.5 1680.9,722.2 1680.8,713.9 1679.5,710.6ZM1634.8,713.9 1634,717.3 1633.8,727.3 1634.3,732.4 1635.9,737 1637.6,736.5 1639,734 1639.9,727.3 1637.6,715.2 1635.9,712.3Z"/><path fill="#f8ec78" stroke="#f8ec78" stroke-width="0.7" fill-rule="evenodd" d="M1792.4,492.9 1794,492.9 1796.1,500.2 1800.9,506.9 1807.9,518.6 1815.4,535.3 1824.5,565.3 1835.3,630.5 1859.9,764 1857.1,764 1826.9,595.4 1818.6,557 1813.4,538.6 1810.2,530.3 1804.8,518.6 1796.6,505.3 1794,502.3 1792.4,502.3 1789.8,505.3 1781.6,518.6 1774.7,533.6 1767.8,557 1759.5,595.4 1729.3,764 1726.5,764 1751.1,630.5 1761.9,565.3 1771,535.3 1778.5,518.6 1785.5,506.9 1790.3,500.2ZM1913.9,682.8 1914.5,687.2 1913.9,692.5 1913.3,688.9ZM1907.2,690.8 1908.9,693.5 1909.9,700.6 1910,710.6 1908.9,715.7 1907.2,707.1 1906.7,697.2ZM1923.8,703.6 1925.5,704 1927.2,707.8 1928.3,713.9 1928.8,722.3 1928,730.6 1925.5,733.6 1923.8,733.9 1922.7,728.9 1922.3,717.3 1922.7,708.9ZM1679.2,710.2 1680.8,713.9 1680.9,722.2 1679.2,731.5 1677.5,733.7 1676.1,728.9 1676,722.3 1677.3,713.9ZM1635.9,712.3 1637.7,715.6 1639.9,728.9 1639,734 1637.6,736.5 1635.9,737 1634.3,732.4 1633.8,723.9 1634.3,715.3ZM1932.2,718.7 1932.8,722.3 1933.2,764 1928.6,764 1929.4,728.9ZM1938.8,721.9 1938.8,733.2 1937.9,725.6ZM1627.7,737.3 1629.9,747.3 1630.5,764 1629.1,764 1627.6,747.2ZM1918.9,743.8 1919.7,749 1919.9,764 1916.7,764 1917.2,751.5ZM1937.2,745.8 1938.3,764 1935,764Z"/><path fill="#eaef7b" stroke="#eaef7b" stroke-width="0.7" fill-rule="evenodd" d="M1792.4,502.3 1794,502.3 1796.6,505.3 1804.8,518.6 1811.7,533.6 1818.6,557 1826.9,595.4 1857.1,764 1853.6,764 1824.8,598.7 1815.8,557 1809,533.7 1801.9,518.6 1797.4,511.8 1794,508.5 1792.4,508.5 1790.7,509.8 1783.6,520.3 1776.7,535.3 1770.7,556.4 1761.6,598.7 1732.8,764 1729.3,764 1759.5,595.4 1767.8,557 1773,538.6 1776.2,530.3 1781.6,518.6 1789.8,505.3ZM1627.6,747.3 1629.1,764 1627.6,764Z"/><path fill="#d4e471" stroke="#d4e471" stroke-width="0.7" fill-rule="evenodd" d="M1792.4,508.5 1794,508.5 1795.7,509.8 1802.8,520.3 1809.7,535.3 1815.8,557 1824.8,598.7 1853.6,764 1850.1,764 1822.1,598.7 1813.3,557 1807.1,535.3 1799,519.3 1794,514.2 1792.4,514.2 1789,517.1 1782.4,528.8 1779.1,535.9 1773.1,557 1764.3,598.7 1736.3,764 1732.8,764 1761.6,598.7 1770.6,557 1777.4,533.7 1784.5,518.6 1789,511.8Z"/><path fill="#bed664" stroke="#bed664" stroke-width="0.7" fill-rule="evenodd" d="M1792.4,514.2 1794,514.2 1797.4,517.1 1804,528.8 1807.3,535.9 1813.3,557 1822.1,598.7 1850.1,764 1846.5,764 1819.3,598.7 1810.5,557 1804.1,535.3 1797.4,523.7 1794,520.4 1792.4,520.4 1789,523.7 1782.3,535.3 1775.9,557 1767.1,598.7 1739.9,764 1736.3,764 1764.3,598.7 1773.1,557 1779.3,535.3 1787.4,519.3Z"/><path fill="#a5c958" stroke="#a5c958" stroke-width="0.7" fill-rule="evenodd" d="M1790.7,521.7 1792.4,520.4 1794,520.4 1797.4,523.7 1800.7,528.9 1804.1,535.3 1810.5,557 1819.3,598.7 1846.5,764 1842.7,764 1816.3,598.7 1807.3,557 1800.4,535.3 1797.4,531 1794,528.1 1792.4,528.1 1790.7,529.2 1786,535.3 1779.1,557 1770.1,598.7 1743.7,764 1739.9,764 1767.4,597.1 1775.9,557 1781.7,537 1785.7,528.9Z"/><path fill="#8cbb4b" stroke="#8cbb4b" stroke-width="0.7" fill-rule="evenodd" d="M1792.4,528.1 1794,528.1 1795.7,529.2 1799,533.2 1801,537 1807.3,557 1815.7,595.8 1829.8,680.5 1842.7,764 1838.6,764 1826.3,680.5 1812.6,597.1 1803.6,557 1797.4,540.8 1794,536.1 1792.4,536.1 1790.7,537.9 1784,553.2 1775.7,588.5 1773.5,598.7 1760.1,680.5 1747.8,764 1743.7,764 1756.6,680.5 1770.5,597.1 1779.1,557 1782.4,546 1786,535.3 1789,531Z"/><path fill="#76ad3f" stroke="#76ad3f" stroke-width="0.7" fill-rule="evenodd" d="M1792.4,536.1 1794,536.1 1797.4,540.8 1803.1,555.3 1812.6,597.1 1826.3,680.5 1838.6,764 1834.3,764 1822.5,680.5 1808.7,597.1 1799,558.9 1797.4,554.7 1794,550.5 1792.4,550.5 1790.7,552.1 1788,557 1777.7,597.1 1763.9,680.5 1752.1,764 1747.8,764 1760.1,680.5 1773.8,597.1 1782.8,557 1789,540.8Z"/><path fill="#619f33" stroke="#619f33" stroke-width="0.7" fill-rule="evenodd" d="M1792.4,550.5 1794,550.5 1795.7,552.1 1798.4,557 1809,598.6 1822.5,680.5 1834.3,764 1829.7,764 1818.3,680.5 1804.4,598.7 1799,580.3 1795.7,572.3 1794,570.1 1792.4,570.1 1789,575.9 1782.4,597.1 1768.1,680.5 1756.7,764 1752.1,764 1763.9,680.5 1777.4,598.7 1787.4,558.9 1789,554.7Z"/><path fill="#4e9229" stroke="#4e9229" stroke-width="0.7" fill-rule="evenodd" d="M1792.4,570.1 1794,570.1 1797.4,575.9 1804.4,598.7 1818.3,680.5 1829.7,764 1824.6,764 1813.8,682.2 1810.7,664.2 1799,604.9 1797.4,598.6 1794,593.3 1792.4,593.3 1789,598.7 1780.7,637 1772.8,680.5 1761.8,764 1756.7,764 1768.1,680.5 1782,598.7 1787.4,580.3 1790.7,572.3Z"/><path fill="#3b851f" stroke="#3b851f" stroke-width="0.7" fill-rule="evenodd" d="M1792.4,593.3 1794,593.3 1797.4,598.7 1805.7,637 1813.6,680.5 1824.6,764 1818.8,764 1807.9,680.5 1799,641.1 1795.7,631.5 1794,628.8 1792.4,628.8 1790.7,631.5 1787.4,641.1 1779.1,677.8 1767.6,764 1761.8,764 1772.6,682.2 1775.7,664.2 1787.4,604.9 1789,598.6Z"/><path fill="#307c18" stroke="#307c18" stroke-width="0.7" fill-rule="evenodd" d="M1792.4,628.8 1794,628.8 1795.7,631.5 1799,641.1 1807.3,677.8 1818.8,764 1812,764 1800.1,682.2 1797.4,673.4 1794,667.5 1792.4,667.5 1790.7,669.8 1786.6,680.5 1774.4,764 1767.6,764 1778.5,680.5 1787.4,641.1 1790.7,631.5Z"/><path fill="#247210" stroke="#247210" stroke-width="0.7" fill-rule="evenodd" d="M1792.4,667.5 1794,667.5 1795.7,669.8 1799.8,680.5 1812,764 1802.4,764 1797.4,740.2 1794,731.4 1792.4,731.4 1789,740.2 1784,764 1774.4,764 1786.3,682.2 1789,673.4Z"/><path fill="#1a6a0a" stroke="#1a6a0a" stroke-width="0.7" fill-rule="evenodd" d="M1792.4,731.4 1794,731.4 1797.4,740.2 1802.4,764 1784,764 1789,740.2Z"/></g><rect x="1877.4" y="64.00" width="14.1" height="1.54" fill="#19680a"/><rect x="1877.4" y="65.24" width="14.1" height="1.54" fill="#1a690a"/><rect x="1877.4" y="66.49" width="14.1" height="1.54" fill="#1a6a0a"/><rect x="1877.4" y="67.73" width="14.1" height="1.54" fill="#1c6c0b"/><rect x="1877.4" y="68.97" width="14.1" height="1.54" fill="#1e6e0d"/><rect x="1877.4" y="70.22" width="14.1" height="1.54" fill="#21700e"/><rect x="1877.4" y="71.46" width="14.1" height="1.54" fill="#237210"/><rect x="1877.4" y="72.70" width="14.1" height="1.54" fill="#267411"/><rect x="1877.4" y="73.95" width="14.1" height="1.54" fill="#287613"/><rect x="1877.4" y="75.19" width="14.1" height="1.54" fill="#2b7714"/><rect x="1877.4" y="76.43" width="14.1" height="1.54" fill="#2d7916"/><rect x="1877.4" y="77.68" width="14.1" height="1.54" fill="#2f7b17"/><rect x="1877.4" y="78.92" width="14.1" height="1.54" fill="#327d19"/><rect x="1877.4" y="80.16" width="14.1" height="1.54" fill="#347f1a"/><rect x="1877.4" y="81.41" width="14.1" height="1.54" fill="#37811c"/><rect x="1877.4" y="82.65" width="14.1" height="1.54" fill="#39831d"/><rect x="1877.4" y="83.89" width="14.1" height="1.54" fill="#3d861f"/><rect x="1877.4" y="85.14" width="14.1" height="1.54" fill="#418922"/><rect x="1877.4" y="86.38" width="14.1" height="1.54" fill="#458b24"/><rect x="1877.4" y="87.62" width="14.1" height="1.54" fill="#488e26"/><rect x="1877.4" y="88.87" width="14.1" height="1.54" fill="#4c9128"/><rect x="1877.4" y="90.11" width="14.1" height="1.54" fill="#4f932a"/><rect x="1877.4" y="91.35" width="14.1" height="1.54" fill="#53952c"/><rect x="1877.4" y="92.60" width="14.1" height="1.54" fill="#56982d"/><rect x="1877.4" y="93.84" width="14.1" height="1.54" fill="#5a9a2f"/><rect x="1877.4" y="95.08" width="14.1" height="1.54" fill="#5d9c31"/><rect x="1877.4" y="96.33" width="14.1" height="1.54" fill="#609f33"/><rect x="1877.4" y="97.57" width="14.1" height="1.54" fill="#64a135"/><rect x="1877.4" y="98.81" width="14.1" height="1.54" fill="#68a437"/><rect x="1877.4" y="100.06" width="14.1" height="1.54" fill="#6ca63a"/><rect x="1877.4" y="101.30" width="14.1" height="1.54" fill="#70a93c"/><rect x="1877.4" y="102.54" width="14.1" height="1.54" fill="#74ac3e"/><rect x="1877.4" y="103.79" width="14.1" height="1.54" fill="#78ae40"/><rect x="1877.4" y="105.03" width="14.1" height="1.54" fill="#7cb142"/><rect x="1877.4" y="106.27" width="14.1" height="1.54" fill="#80b345"/><rect x="1877.4" y="107.52" width="14.1" height="1.54" fill="#84b647"/><rect x="1877.4" y="108.76" width="14.1" height="1.54" fill="#88b849"/><rect x="1877.4" y="110.00" width="14.1" height="1.54" fill="#8cbb4b"/><rect x="1877.4" y="111.25" width="14.1" height="1.54" fill="#90bd4e"/><rect x="1877.4" y="112.49" width="14.1" height="1.54" fill="#95c050"/><rect x="1877.4" y="113.73" width="14.1" height="1.54" fill="#99c252"/><rect x="1877.4" y="114.98" width="14.1" height="1.54" fill="#9ec554"/><rect x="1877.4" y="116.22" width="14.1" height="1.54" fill="#a2c757"/><rect x="1877.4" y="117.46" width="14.1" height="1.54" fill="#a7ca59"/><rect x="1877.4" y="118.71" width="14.1" height="1.54" fill="#accc5b"/><rect x="1877.4" y="119.95" width="14.1" height="1.54" fill="#b0cf5d"/><rect x="1877.4" y="121.19" width="14.1" height="1.54" fill="#b5d160"/><rect x="1877.4" y="122.44" width="14.1" height="1.54" fill="#bad462"/><rect x="1877.4" y="123.68" width="14.1" height="1.54" fill="#bed664"/><rect x="1877.4" y="124.92" width="14.1" height="1.54" fill="#c2d966"/><rect x="1877.4" y="126.17" width="14.1" height="1.54" fill="#c6db69"/><rect x="1877.4" y="127.41" width="14.1" height="1.54" fill="#cade6b"/><rect x="1877.4" y="128.65" width="14.1" height="1.54" fill="#cee06d"/><rect x="1877.4" y="129.90" width="14.1" height="1.54" fill="#d3e370"/><rect x="1877.4" y="131.14" width="14.1" height="1.54" fill="#d7e572"/><rect x="1877.4" y="132.38" width="14.1" height="1.54" fill="#dbe874"/><rect x="1877.4" y="133.63" width="14.1" height="1.54" fill="#dfea76"/><rect x="1877.4" y="134.87" width="14.1" height="1.54" fill="#e3ec78"/><rect x="1877.4" y="136.11" width="14.1" height="1.54" fill="#e7ed7a"/><rect x="1877.4" y="137.36" width="14.1" height="1.54" fill="#ebef7b"/><rect x="1877.4" y="138.60" width="14.1" height="1.54" fill="#eff07d"/><rect x="1877.4" y="139.84" width="14.1" height="1.54" fill="#f2f27f"/><rect x="1877.4" y="141.09" width="14.1" height="1.54" fill="#f6f27e"/><rect x="1877.4" y="142.33" width="14.1" height="1.54" fill="#f7ee7a"/><rect x="1877.4" y="143.57" width="14.1" height="1.54" fill="#f9ea75"/><rect x="1877.4" y="144.82" width="14.1" height="1.54" fill="#fae670"/><rect x="1877.4" y="146.06" width="14.1" height="1.54" fill="#fbe26c"/><rect x="1877.4" y="147.30" width="14.1" height="1.54" fill="#fcde67"/><rect x="1877.4" y="148.55" width="14.1" height="1.54" fill="#fcda62"/><rect x="1877.4" y="149.79" width="14.1" height="1.54" fill="#fdd65e"/><rect x="1877.4" y="151.03" width="14.1" height="1.54" fill="#fdd159"/><rect x="1877.4" y="152.28" width="14.1" height="1.54" fill="#fccd53"/><rect x="1877.4" y="153.52" width="14.1" height="1.54" fill="#fcc94e"/><rect x="1877.4" y="154.76" width="14.1" height="1.54" fill="#fcc448"/><rect x="1877.4" y="156.01" width="14.1" height="1.54" fill="#fbc043"/><rect x="1877.4" y="157.25" width="14.1" height="1.54" fill="#fbbc3e"/><rect x="1877.4" y="158.49" width="14.1" height="1.54" fill="#fbb839"/><rect x="1877.4" y="159.74" width="14.1" height="1.54" fill="#fbb334"/><rect x="1877.4" y="160.98" width="14.1" height="1.54" fill="#fbaf30"/><rect x="1877.4" y="162.22" width="14.1" height="1.54" fill="#fbab2b"/><rect x="1877.4" y="163.47" width="14.1" height="1.54" fill="#fba726"/><rect x="1877.4" y="164.71" width="14.1" height="1.54" fill="#fca322"/><rect x="1877.4" y="165.95" width="14.1" height="1.54" fill="#fc9f1e"/><rect x="1877.4" y="167.20" width="14.1" height="1.54" fill="#fd9b1a"/><rect x="1877.4" y="168.44" width="14.1" height="1.54" fill="#fe9715"/><rect x="1877.4" y="169.68" width="14.1" height="1.54" fill="#fe9311"/><rect x="1877.4" y="170.93" width="14.1" height="1.54" fill="#fd8e0f"/><rect x="1877.4" y="172.17" width="14.1" height="1.54" fill="#fc890c"/><rect x="1877.4" y="173.41" width="14.1" height="1.54" fill="#fb8409"/><rect x="1877.4" y="174.66" width="14.1" height="1.54" fill="#fb8006"/><rect x="1877.4" y="175.90" width="14.1" height="1.54" fill="#f97b04"/><rect x="1877.4" y="177.14" width="14.1" height="1.54" fill="#f47703"/><rect x="1877.4" y="178.39" width="14.1" height="1.54" fill="#ef7403"/><rect x="1877.4" y="179.63" width="14.1" height="1.54" fill="#ea7003"/><rect x="1877.4" y="180.87" width="14.1" height="1.54" fill="#e56d02"/><rect x="1877.4" y="182.12" width="14.1" height="1.54" fill="#e06902"/><rect x="1877.4" y="183.36" width="14.1" height="1.54" fill="#d96602"/><rect x="1877.4" y="184.60" width="14.1" height="1.54" fill="#d26202"/><rect x="1877.4" y="185.85" width="14.1" height="1.54" fill="#cb5f02"/><rect x="1877.4" y="187.09" width="14.1" height="1.54" fill="#c45c02"/><rect x="1877.4" y="188.33" width="14.1" height="1.54" fill="#bd5802"/><rect x="1877.4" y="189.58" width="14.1" height="1.54" fill="#b65502"/><rect x="1877.4" y="190.82" width="14.1" height="1.54" fill="#b05202"/><rect x="1877.4" y="192.06" width="14.1" height="1.54" fill="#a94f02"/><rect x="1877.4" y="193.31" width="14.1" height="1.54" fill="#a34c02"/><rect x="1877.4" y="194.55" width="14.1" height="1.54" fill="#9d4802"/><rect x="1877.4" y="195.79" width="14.1" height="1.54" fill="#974502"/><rect x="1877.4" y="197.04" width="14.1" height="1.54" fill="#904202"/><rect x="1877.4" y="198.28" width="14.1" height="1.54" fill="#8a3f02"/><rect x="1877.4" y="199.52" width="14.1" height="1.54" fill="#843c02"/><rect x="1877.4" y="200.77" width="14.1" height="1.54" fill="#7e3902"/><rect x="1877.4" y="202.01" width="14.1" height="1.54" fill="#783702"/><rect x="1877.4" y="203.25" width="14.1" height="1.54" fill="#733402"/><rect x="1877.4" y="204.50" width="14.1" height="1.54" fill="#6d3202"/><rect x="1877.4" y="205.74" width="14.1" height="1.54" fill="#672f02"/><rect x="1877.4" y="206.98" width="14.1" height="1.54" fill="#622d02"/><rect x="1877.4" y="208.23" width="14.1" height="1.54" fill="#5c2a02"/><rect x="1877.4" y="209.47" width="14.1" height="1.54" fill="#572802"/><rect x="1877.4" y="210.71" width="14.1" height="1.54" fill="#512602"/><rect x="1877.4" y="211.96" width="14.1" height="1.54" fill="#4c2302"/><rect x="1877.4" y="64.0" width="14.1" height="3" fill="#d9d9d9"/><rect x="1877.4" y="210.2" width="14.1" height="3" fill="#111"/><rect x="1877.4" y="64.0" width="14.1" height="149.2" fill="none" stroke="#000" stroke-width="1.6"/><line x1="1891.50" y1="87.60" x2="1903.50" y2="87.60" stroke="#000" stroke-width="1.6"/><text x="1913.0" y="95.2" font-size="21.5">1.2</text><line x1="1891.50" y1="128.40" x2="1903.50" y2="128.40" stroke="#000" stroke-width="1.6"/><text x="1913.0" y="136.0" font-size="21.5">1.1</text><line x1="1891.50" y1="168.90" x2="1903.50" y2="168.90" stroke="#000" stroke-width="1.6"/><text x="1913.0" y="176.5" font-size="21.5">1.0</text><line x1="1891.50" y1="209.60" x2="1903.50" y2="209.60" stroke="#000" stroke-width="1.6"/><text x="1913.0" y="217.2" font-size="21.5">0.9</text><text x="1862.0" y="48.0" font-size="23">G/G<tspan font-size="15.5" dy="6.5">10.5 K</tspan></text><rect x="1877.6" y="496.70" width="13.9" height="1.55" fill="#19680a"/><rect x="1877.6" y="497.95" width="13.9" height="1.55" fill="#1a690a"/><rect x="1877.6" y="499.20" width="13.9" height="1.55" fill="#1a6a0a"/><rect x="1877.6" y="500.46" width="13.9" height="1.55" fill="#1c6c0b"/><rect x="1877.6" y="501.71" width="13.9" height="1.55" fill="#1e6e0d"/><rect x="1877.6" y="502.96" width="13.9" height="1.55" fill="#21700e"/><rect x="1877.6" y="504.21" width="13.9" height="1.55" fill="#237210"/><rect x="1877.6" y="505.47" width="13.9" height="1.55" fill="#267411"/><rect x="1877.6" y="506.72" width="13.9" height="1.55" fill="#287613"/><rect x="1877.6" y="507.97" width="13.9" height="1.55" fill="#2b7714"/><rect x="1877.6" y="509.22" width="13.9" height="1.55" fill="#2d7916"/><rect x="1877.6" y="510.48" width="13.9" height="1.55" fill="#2f7b17"/><rect x="1877.6" y="511.73" width="13.9" height="1.55" fill="#327d19"/><rect x="1877.6" y="512.98" width="13.9" height="1.55" fill="#347f1a"/><rect x="1877.6" y="514.24" width="13.9" height="1.55" fill="#37811c"/><rect x="1877.6" y="515.49" width="13.9" height="1.55" fill="#39831d"/><rect x="1877.6" y="516.74" width="13.9" height="1.55" fill="#3d861f"/><rect x="1877.6" y="517.99" width="13.9" height="1.55" fill="#418922"/><rect x="1877.6" y="519.25" width="13.9" height="1.55" fill="#458b24"/><rect x="1877.6" y="520.50" width="13.9" height="1.55" fill="#488e26"/><rect x="1877.6" y="521.75" width="13.9" height="1.55" fill="#4c9128"/><rect x="1877.6" y="523.00" width="13.9" height="1.55" fill="#4f932a"/><rect x="1877.6" y="524.25" width="13.9" height="1.55" fill="#53952c"/><rect x="1877.6" y="525.51" width="13.9" height="1.55" fill="#56982d"/><rect x="1877.6" y="526.76" width="13.9" height="1.55" fill="#5a9a2f"/><rect x="1877.6" y="528.01" width="13.9" height="1.55" fill="#5d9c31"/><rect x="1877.6" y="529.26" width="13.9" height="1.55" fill="#609f33"/><rect x="1877.6" y="530.52" width="13.9" height="1.55" fill="#64a135"/><rect x="1877.6" y="531.77" width="13.9" height="1.55" fill="#68a437"/><rect x="1877.6" y="533.02" width="13.9" height="1.55" fill="#6ca63a"/><rect x="1877.6" y="534.27" width="13.9" height="1.55" fill="#70a93c"/><rect x="1877.6" y="535.53" width="13.9" height="1.55" fill="#74ac3e"/><rect x="1877.6" y="536.78" width="13.9" height="1.55" fill="#78ae40"/><rect x="1877.6" y="538.03" width="13.9" height="1.55" fill="#7cb142"/><rect x="1877.6" y="539.28" width="13.9" height="1.55" fill="#80b345"/><rect x="1877.6" y="540.54" width="13.9" height="1.55" fill="#84b647"/><rect x="1877.6" y="541.79" width="13.9" height="1.55" fill="#88b849"/><rect x="1877.6" y="543.04" width="13.9" height="1.55" fill="#8cbb4b"/><rect x="1877.6" y="544.29" width="13.9" height="1.55" fill="#90bd4e"/><rect x="1877.6" y="545.55" width="13.9" height="1.55" fill="#95c050"/><rect x="1877.6" y="546.80" width="13.9" height="1.55" fill="#99c252"/><rect x="1877.6" y="548.05" width="13.9" height="1.55" fill="#9ec554"/><rect x="1877.6" y="549.30" width="13.9" height="1.55" fill="#a2c757"/><rect x="1877.6" y="550.56" width="13.9" height="1.55" fill="#a7ca59"/><rect x="1877.6" y="551.81" width="13.9" height="1.55" fill="#accc5b"/><rect x="1877.6" y="553.06" width="13.9" height="1.55" fill="#b0cf5d"/><rect x="1877.6" y="554.31" width="13.9" height="1.55" fill="#b5d160"/><rect x="1877.6" y="555.57" width="13.9" height="1.55" fill="#bad462"/><rect x="1877.6" y="556.82" width="13.9" height="1.55" fill="#bed664"/><rect x="1877.6" y="558.07" width="13.9" height="1.55" fill="#c2d966"/><rect x="1877.6" y="559.33" width="13.9" height="1.55" fill="#c6db69"/><rect x="1877.6" y="560.58" width="13.9" height="1.55" fill="#cade6b"/><rect x="1877.6" y="561.83" width="13.9" height="1.55" fill="#cee06d"/><rect x="1877.6" y="563.08" width="13.9" height="1.55" fill="#d3e370"/><rect x="1877.6" y="564.34" width="13.9" height="1.55" fill="#d7e572"/><rect x="1877.6" y="565.59" width="13.9" height="1.55" fill="#dbe874"/><rect x="1877.6" y="566.84" width="13.9" height="1.55" fill="#dfea76"/><rect x="1877.6" y="568.09" width="13.9" height="1.55" fill="#e3ec78"/><rect x="1877.6" y="569.35" width="13.9" height="1.55" fill="#e7ed7a"/><rect x="1877.6" y="570.60" width="13.9" height="1.55" fill="#ebef7b"/><rect x="1877.6" y="571.85" width="13.9" height="1.55" fill="#eff07d"/><rect x="1877.6" y="573.10" width="13.9" height="1.55" fill="#f2f27f"/><rect x="1877.6" y="574.36" width="13.9" height="1.55" fill="#f6f27e"/><rect x="1877.6" y="575.61" width="13.9" height="1.55" fill="#f7ee7a"/><rect x="1877.6" y="576.86" width="13.9" height="1.55" fill="#f9ea75"/><rect x="1877.6" y="578.11" width="13.9" height="1.55" fill="#fae670"/><rect x="1877.6" y="579.37" width="13.9" height="1.55" fill="#fbe26c"/><rect x="1877.6" y="580.62" width="13.9" height="1.55" fill="#fcde67"/><rect x="1877.6" y="581.87" width="13.9" height="1.55" fill="#fcda62"/><rect x="1877.6" y="583.12" width="13.9" height="1.55" fill="#fdd65e"/><rect x="1877.6" y="584.38" width="13.9" height="1.55" fill="#fdd159"/><rect x="1877.6" y="585.63" width="13.9" height="1.55" fill="#fccd53"/><rect x="1877.6" y="586.88" width="13.9" height="1.55" fill="#fcc94e"/><rect x="1877.6" y="588.13" width="13.9" height="1.55" fill="#fcc448"/><rect x="1877.6" y="589.38" width="13.9" height="1.55" fill="#fbc043"/><rect x="1877.6" y="590.64" width="13.9" height="1.55" fill="#fbbc3e"/><rect x="1877.6" y="591.89" width="13.9" height="1.55" fill="#fbb839"/><rect x="1877.6" y="593.14" width="13.9" height="1.55" fill="#fbb334"/><rect x="1877.6" y="594.39" width="13.9" height="1.55" fill="#fbaf30"/><rect x="1877.6" y="595.65" width="13.9" height="1.55" fill="#fbab2b"/><rect x="1877.6" y="596.90" width="13.9" height="1.55" fill="#fba726"/><rect x="1877.6" y="598.15" width="13.9" height="1.55" fill="#fca322"/><rect x="1877.6" y="599.40" width="13.9" height="1.55" fill="#fc9f1e"/><rect x="1877.6" y="600.66" width="13.9" height="1.55" fill="#fd9b1a"/><rect x="1877.6" y="601.91" width="13.9" height="1.55" fill="#fe9715"/><rect x="1877.6" y="603.16" width="13.9" height="1.55" fill="#fe9311"/><rect x="1877.6" y="604.41" width="13.9" height="1.55" fill="#fd8e0f"/><rect x="1877.6" y="605.67" width="13.9" height="1.55" fill="#fc890c"/><rect x="1877.6" y="606.92" width="13.9" height="1.55" fill="#fb8409"/><rect x="1877.6" y="608.17" width="13.9" height="1.55" fill="#fb8006"/><rect x="1877.6" y="609.42" width="13.9" height="1.55" fill="#f97b04"/><rect x="1877.6" y="610.68" width="13.9" height="1.55" fill="#f47703"/><rect x="1877.6" y="611.93" width="13.9" height="1.55" fill="#ef7403"/><rect x="1877.6" y="613.18" width="13.9" height="1.55" fill="#ea7003"/><rect x="1877.6" y="614.43" width="13.9" height="1.55" fill="#e56d02"/><rect x="1877.6" y="615.69" width="13.9" height="1.55" fill="#e06902"/><rect x="1877.6" y="616.94" width="13.9" height="1.55" fill="#d96602"/><rect x="1877.6" y="618.19" width="13.9" height="1.55" fill="#d26202"/><rect x="1877.6" y="619.45" width="13.9" height="1.55" fill="#cb5f02"/><rect x="1877.6" y="620.70" width="13.9" height="1.55" fill="#c45c02"/><rect x="1877.6" y="621.95" width="13.9" height="1.55" fill="#bd5802"/><rect x="1877.6" y="623.20" width="13.9" height="1.55" fill="#b65502"/><rect x="1877.6" y="624.46" width="13.9" height="1.55" fill="#b05202"/><rect x="1877.6" y="625.71" width="13.9" height="1.55" fill="#a94f02"/><rect x="1877.6" y="626.96" width="13.9" height="1.55" fill="#a34c02"/><rect x="1877.6" y="628.21" width="13.9" height="1.55" fill="#9d4802"/><rect x="1877.6" y="629.47" width="13.9" height="1.55" fill="#974502"/><rect x="1877.6" y="630.72" width="13.9" height="1.55" fill="#904202"/><rect x="1877.6" y="631.97" width="13.9" height="1.55" fill="#8a3f02"/><rect x="1877.6" y="633.22" width="13.9" height="1.55" fill="#843c02"/><rect x="1877.6" y="634.48" width="13.9" height="1.55" fill="#7e3902"/><rect x="1877.6" y="635.73" width="13.9" height="1.55" fill="#783702"/><rect x="1877.6" y="636.98" width="13.9" height="1.55" fill="#733402"/><rect x="1877.6" y="638.23" width="13.9" height="1.55" fill="#6d3202"/><rect x="1877.6" y="639.49" width="13.9" height="1.55" fill="#672f02"/><rect x="1877.6" y="640.74" width="13.9" height="1.55" fill="#622d02"/><rect x="1877.6" y="641.99" width="13.9" height="1.55" fill="#5c2a02"/><rect x="1877.6" y="643.24" width="13.9" height="1.55" fill="#572802"/><rect x="1877.6" y="644.50" width="13.9" height="1.55" fill="#512602"/><rect x="1877.6" y="645.75" width="13.9" height="1.55" fill="#4c2302"/><rect x="1877.6" y="496.7" width="13.9" height="3" fill="#d9d9d9"/><rect x="1877.6" y="644.0" width="13.9" height="3" fill="#111"/><rect x="1877.6" y="496.7" width="13.9" height="150.3" fill="none" stroke="#000" stroke-width="1.6"/><line x1="1891.50" y1="517.90" x2="1903.50" y2="517.90" stroke="#000" stroke-width="1.6"/><text x="1913.0" y="525.5" font-size="21.5">1.2</text><line x1="1891.50" y1="560.00" x2="1903.50" y2="560.00" stroke="#000" stroke-width="1.6"/><text x="1913.0" y="567.6" font-size="21.5">1.1</text><line x1="1891.50" y1="601.60" x2="1903.50" y2="601.60" stroke="#000" stroke-width="1.6"/><text x="1913.0" y="609.2" font-size="21.5">1.0</text><line x1="1891.50" y1="643.30" x2="1903.50" y2="643.30" stroke="#000" stroke-width="1.6"/><text x="1913.0" y="650.9" font-size="21.5">0.9</text><text x="1864.0" y="478.7" font-size="23">G/G<tspan font-size="15.5" dy="6.5">8.5 T</tspan></text><rect x="1627.60" y="1.00" width="331.20" height="331.40" fill="none" stroke="#000" stroke-width="1.5"/><line x1="1627.60" y1="332.40" x2="1627.60" y2="320.90" stroke="#000" stroke-width="1.4"/><line x1="1627.60" y1="1.00" x2="1627.60" y2="12.50" stroke="#000" stroke-width="1.4"/><line x1="1669.00" y1="332.40" x2="1669.00" y2="326.40" stroke="#000" stroke-width="1.4"/><line x1="1669.00" y1="1.00" x2="1669.00" y2="7.00" stroke="#000" stroke-width="1.4"/><line x1="1710.40" y1="332.40" x2="1710.40" y2="320.90" stroke="#000" stroke-width="1.4"/><line x1="1710.40" y1="1.00" x2="1710.40" y2="12.50" stroke="#000" stroke-width="1.4"/><line x1="1751.80" y1="332.40" x2="1751.80" y2="326.40" stroke="#000" stroke-width="1.4"/><line x1="1751.80" y1="1.00" x2="1751.80" y2="7.00" stroke="#000" stroke-width="1.4"/><line x1="1793.20" y1="332.40" x2="1793.20" y2="320.90" stroke="#000" stroke-width="1.4"/><line x1="1793.20" y1="1.00" x2="1793.20" y2="12.50" stroke="#000" stroke-width="1.4"/><line x1="1834.60" y1="332.40" x2="1834.60" y2="326.40" stroke="#000" stroke-width="1.4"/><line x1="1834.60" y1="1.00" x2="1834.60" y2="7.00" stroke="#000" stroke-width="1.4"/><line x1="1876.00" y1="332.40" x2="1876.00" y2="320.90" stroke="#000" stroke-width="1.4"/><line x1="1876.00" y1="1.00" x2="1876.00" y2="12.50" stroke="#000" stroke-width="1.4"/><line x1="1917.40" y1="332.40" x2="1917.40" y2="326.40" stroke="#000" stroke-width="1.4"/><line x1="1917.40" y1="1.00" x2="1917.40" y2="7.00" stroke="#000" stroke-width="1.4"/><line x1="1958.80" y1="332.40" x2="1958.80" y2="320.90" stroke="#000" stroke-width="1.4"/><line x1="1958.80" y1="1.00" x2="1958.80" y2="12.50" stroke="#000" stroke-width="1.4"/><line x1="1627.60" y1="299.26" x2="1639.10" y2="299.26" stroke="#000" stroke-width="1.4"/><line x1="1958.80" y1="299.26" x2="1947.30" y2="299.26" stroke="#000" stroke-width="1.4"/><line x1="1627.60" y1="199.84" x2="1639.10" y2="199.84" stroke="#000" stroke-width="1.4"/><line x1="1958.80" y1="199.84" x2="1947.30" y2="199.84" stroke="#000" stroke-width="1.4"/><line x1="1627.60" y1="100.42" x2="1639.10" y2="100.42" stroke="#000" stroke-width="1.4"/><line x1="1958.80" y1="100.42" x2="1947.30" y2="100.42" stroke="#000" stroke-width="1.4"/><text x="1627.6" y="365.5" font-size="25" text-anchor="middle">-20</text><text x="1669.0" y="365.5" font-size="25" text-anchor="middle">-15</text><text x="1710.4" y="365.5" font-size="25" text-anchor="middle">-10</text><text x="1751.8" y="365.5" font-size="25" text-anchor="middle">-5</text><text x="1793.2" y="365.5" font-size="25" text-anchor="middle">0</text><text x="1834.6" y="365.5" font-size="25" text-anchor="middle">5</text><text x="1876.0" y="365.5" font-size="25" text-anchor="middle">10</text><text x="1917.4" y="365.5" font-size="25" text-anchor="middle">15</text><text x="1958.8" y="365.5" font-size="25" text-anchor="middle">20</text><text x="1614.0" y="307.9" font-size="25" text-anchor="end">3</text><text x="1614.0" y="208.4" font-size="25" text-anchor="end">6</text><text x="1614.0" y="109.0" font-size="25" text-anchor="end">9</text><text x="1793.2" y="407.2" font-size="30" text-anchor="middle"><tspan font-style="italic">V</tspan> (mV)</text><text transform="translate(1575.3,166.5) rotate(-90)" font-size="30" text-anchor="middle"><tspan font-style="italic">T</tspan> (K)</text><rect x="1627.60" y="431.80" width="331.20" height="332.20" fill="none" stroke="#000" stroke-width="1.5"/><line x1="1627.60" y1="764.00" x2="1627.60" y2="752.50" stroke="#000" stroke-width="1.4"/><line x1="1627.60" y1="431.80" x2="1627.60" y2="443.30" stroke="#000" stroke-width="1.4"/><line x1="1669.00" y1="764.00" x2="1669.00" y2="758.00" stroke="#000" stroke-width="1.4"/><line x1="1669.00" y1="431.80" x2="1669.00" y2="437.80" stroke="#000" stroke-width="1.4"/><line x1="1710.40" y1="764.00" x2="1710.40" y2="752.50" stroke="#000" stroke-width="1.4"/><line x1="1710.40" y1="431.80" x2="1710.40" y2="443.30" stroke="#000" stroke-width="1.4"/><line x1="1751.80" y1="764.00" x2="1751.80" y2="758.00" stroke="#000" stroke-width="1.4"/><line x1="1751.80" y1="431.80" x2="1751.80" y2="437.80" stroke="#000" stroke-width="1.4"/><line x1="1793.20" y1="764.00" x2="1793.20" y2="752.50" stroke="#000" stroke-width="1.4"/><line x1="1793.20" y1="431.80" x2="1793.20" y2="443.30" stroke="#000" stroke-width="1.4"/><line x1="1834.60" y1="764.00" x2="1834.60" y2="758.00" stroke="#000" stroke-width="1.4"/><line x1="1834.60" y1="431.80" x2="1834.60" y2="437.80" stroke="#000" stroke-width="1.4"/><line x1="1876.00" y1="764.00" x2="1876.00" y2="752.50" stroke="#000" stroke-width="1.4"/><line x1="1876.00" y1="431.80" x2="1876.00" y2="443.30" stroke="#000" stroke-width="1.4"/><line x1="1917.40" y1="764.00" x2="1917.40" y2="758.00" stroke="#000" stroke-width="1.4"/><line x1="1917.40" y1="431.80" x2="1917.40" y2="437.80" stroke="#000" stroke-width="1.4"/><line x1="1958.80" y1="764.00" x2="1958.80" y2="752.50" stroke="#000" stroke-width="1.4"/><line x1="1958.80" y1="431.80" x2="1958.80" y2="443.30" stroke="#000" stroke-width="1.4"/><line x1="1627.60" y1="764.00" x2="1639.10" y2="764.00" stroke="#000" stroke-width="1.4"/><line x1="1958.80" y1="764.00" x2="1947.30" y2="764.00" stroke="#000" stroke-width="1.4"/><line x1="1627.60" y1="680.95" x2="1639.10" y2="680.95" stroke="#000" stroke-width="1.4"/><line x1="1958.80" y1="680.95" x2="1947.30" y2="680.95" stroke="#000" stroke-width="1.4"/><line x1="1627.60" y1="597.90" x2="1639.10" y2="597.90" stroke="#000" stroke-width="1.4"/><line x1="1958.80" y1="597.90" x2="1947.30" y2="597.90" stroke="#000" stroke-width="1.4"/><line x1="1627.60" y1="514.85" x2="1639.10" y2="514.85" stroke="#000" stroke-width="1.4"/><line x1="1958.80" y1="514.85" x2="1947.30" y2="514.85" stroke="#000" stroke-width="1.4"/><line x1="1627.60" y1="431.80" x2="1639.10" y2="431.80" stroke="#000" stroke-width="1.4"/><line x1="1958.80" y1="431.80" x2="1947.30" y2="431.80" stroke="#000" stroke-width="1.4"/><text x="1627.6" y="797.0" font-size="25" text-anchor="middle">-20</text><text x="1669.0" y="797.0" font-size="25" text-anchor="middle">-15</text><text x="1710.4" y="797.0" font-size="25" text-anchor="middle">-10</text><text x="1751.8" y="797.0" font-size="25" text-anchor="middle">-5</text><text x="1793.2" y="797.0" font-size="25" text-anchor="middle">0</text><text x="1834.6" y="797.0" font-size="25" text-anchor="middle">5</text><text x="1876.0" y="797.0" font-size="25" text-anchor="middle">10</text><text x="1917.4" y="797.0" font-size="25" text-anchor="middle">15</text><text x="1958.8" y="797.0" font-size="25" text-anchor="middle">20</text><text x="1614.0" y="772.6" font-size="25" text-anchor="end">0</text><text x="1614.0" y="689.6" font-size="25" text-anchor="end">2</text><text x="1614.0" y="606.5" font-size="25" text-anchor="end">4</text><text x="1614.0" y="523.5" font-size="25" text-anchor="end">6</text><text x="1614.0" y="440.4" font-size="25" text-anchor="end">8</text><text x="1793.2" y="835.0" font-size="30" text-anchor="middle"><tspan font-style="italic">V</tspan> (mV)</text><text transform="translate(1577.0,597.5) rotate(-90)" font-size="30" text-anchor="middle"><tspan font-style="italic">μ</tspan><tspan font-size="21" dy="5">0</tspan><tspan dy="-5" font-style="italic">H</tspan> (T)</text><text x="1647.5" y="479.0" font-size="30"><tspan font-style="italic">T</tspan>=5.0 K</text><text x="328.4" y="220.6" font-size="20" text-anchor="middle" font-weight="bold" fill="#e5202a">I</text><text x="436.6" y="233.2" font-size="20" text-anchor="middle" font-weight="bold" fill="#2e5e14">V</text><text x="378.0" y="86.6" font-size="19.6" font-weight="bold">Sharp-cut Pt</text><text x="84.0" y="236.5" font-size="21.8" font-weight="bold">Diamond</text><text x="232.3" y="363.4" font-size="33" font-weight="bold">Y</text>
</svg>
</body></html>
